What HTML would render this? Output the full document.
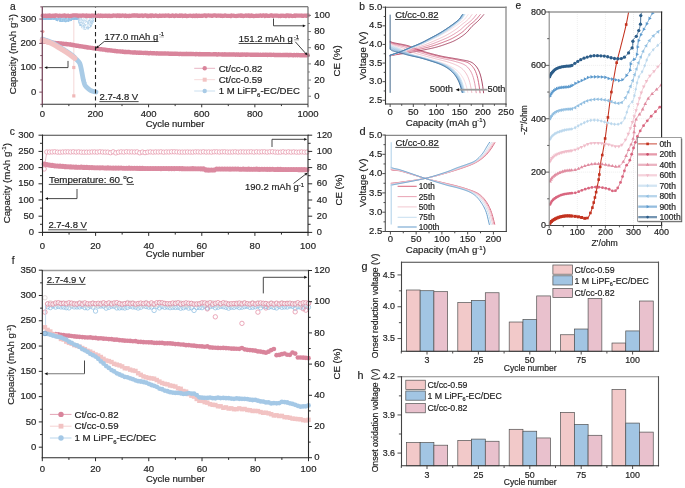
<!DOCTYPE html>
<html><head><meta charset="utf-8"><style>
html,body{margin:0;padding:0;background:#fff;}
svg{display:block;will-change:transform;}
text{font-family:"Liberation Sans",sans-serif;stroke:#1a1a1a;stroke-width:0.18px;paint-order:stroke;}
</style></head><body>
<svg width="685" height="488" viewBox="0 0 685 488" font-family="Liberation Sans, sans-serif">
<rect width="685" height="488" fill="#fff"/>
<line x1="73.8" y1="17.5" x2="73.8" y2="96" stroke="#f7dede" stroke-width="1.2" />
<circle cx="54.01" cy="17.81" r="0.5" fill="#94c2e6" opacity="0.75"/>
<circle cx="65.57" cy="17.8" r="0.5" fill="#94c2e6" opacity="0.75"/>
<circle cx="61.5" cy="19.04" r="0.5" fill="#94c2e6" opacity="0.75"/>
<circle cx="44.62" cy="18.55" r="0.5" fill="#94c2e6" opacity="0.75"/>
<circle cx="43.89" cy="18.4" r="0.5" fill="#94c2e6" opacity="0.75"/>
<circle cx="45.03" cy="17.68" r="0.5" fill="#94c2e6" opacity="0.75"/>
<circle cx="57.57" cy="20.36" r="0.5" fill="#94c2e6" opacity="0.75"/>
<circle cx="46.94" cy="17.96" r="0.5" fill="#94c2e6" opacity="0.75"/>
<circle cx="64.74" cy="21.61" r="0.5" fill="#94c2e6" opacity="0.75"/>
<circle cx="62.96" cy="19.21" r="0.5" fill="#94c2e6" opacity="0.75"/>
<circle cx="77.06" cy="17.59" r="0.5" fill="#94c2e6" opacity="0.75"/>
<circle cx="72.9" cy="18.1" r="0.5" fill="#94c2e6" opacity="0.75"/>
<circle cx="47.66" cy="17.74" r="0.5" fill="#94c2e6" opacity="0.75"/>
<circle cx="53.47" cy="19.2" r="0.5" fill="#94c2e6" opacity="0.75"/>
<circle cx="48.95" cy="18.71" r="0.5" fill="#94c2e6" opacity="0.75"/>
<circle cx="65.14" cy="19.1" r="0.5" fill="#94c2e6" opacity="0.75"/>
<circle cx="61.92" cy="17.76" r="0.5" fill="#94c2e6" opacity="0.75"/>
<circle cx="44.67" cy="17.92" r="0.5" fill="#94c2e6" opacity="0.75"/>
<circle cx="66.61" cy="19.29" r="0.5" fill="#94c2e6" opacity="0.75"/>
<circle cx="53.67" cy="18.72" r="0.5" fill="#94c2e6" opacity="0.75"/>
<circle cx="58.58" cy="18.62" r="0.5" fill="#94c2e6" opacity="0.75"/>
<circle cx="70.64" cy="19.78" r="0.5" fill="#94c2e6" opacity="0.75"/>
<circle cx="51.19" cy="18.7" r="0.5" fill="#94c2e6" opacity="0.75"/>
<circle cx="61.13" cy="21.18" r="0.5" fill="#94c2e6" opacity="0.75"/>
<circle cx="68.34" cy="18.62" r="0.5" fill="#94c2e6" opacity="0.75"/>
<circle cx="77.2" cy="17.74" r="0.5" fill="#94c2e6" opacity="0.75"/>
<circle cx="57.34" cy="20.06" r="0.5" fill="#94c2e6" opacity="0.75"/>
<circle cx="47.94" cy="18.52" r="0.5" fill="#94c2e6" opacity="0.75"/>
<circle cx="43.95" cy="18.89" r="0.5" fill="#94c2e6" opacity="0.75"/>
<circle cx="69.58" cy="19.57" r="0.5" fill="#94c2e6" opacity="0.75"/>
<circle cx="73.5" cy="18.15" r="0.5" fill="#94c2e6" opacity="0.75"/>
<circle cx="67.14" cy="19.95" r="0.5" fill="#94c2e6" opacity="0.75"/>
<circle cx="63.06" cy="19.47" r="0.5" fill="#94c2e6" opacity="0.75"/>
<circle cx="72.25" cy="19.47" r="0.5" fill="#94c2e6" opacity="0.75"/>
<circle cx="59.32" cy="20.1" r="0.5" fill="#94c2e6" opacity="0.75"/>
<circle cx="44.71" cy="18.96" r="0.5" fill="#94c2e6" opacity="0.75"/>
<circle cx="65.43" cy="21.77" r="0.5" fill="#94c2e6" opacity="0.75"/>
<circle cx="71.61" cy="18.27" r="0.5" fill="#94c2e6" opacity="0.75"/>
<circle cx="56.2" cy="19.41" r="0.5" fill="#94c2e6" opacity="0.75"/>
<circle cx="43.36" cy="18.46" r="0.5" fill="#94c2e6" opacity="0.75"/>
<circle cx="48.5" cy="17.73" r="0.5" fill="#94c2e6" opacity="0.75"/>
<circle cx="44.65" cy="19.1" r="0.5" fill="#94c2e6" opacity="0.75"/>
<circle cx="47.14" cy="18.01" r="0.5" fill="#94c2e6" opacity="0.75"/>
<circle cx="56.38" cy="20.09" r="0.5" fill="#94c2e6" opacity="0.75"/>
<circle cx="45.41" cy="18.43" r="0.5" fill="#94c2e6" opacity="0.75"/>
<circle cx="61.98" cy="21.28" r="0.5" fill="#94c2e6" opacity="0.75"/>
<circle cx="71.52" cy="19.93" r="0.5" fill="#94c2e6" opacity="0.75"/>
<circle cx="52.4" cy="18.36" r="0.5" fill="#94c2e6" opacity="0.75"/>
<circle cx="55.24" cy="19.35" r="0.5" fill="#94c2e6" opacity="0.75"/>
<circle cx="76.41" cy="17.81" r="0.5" fill="#94c2e6" opacity="0.75"/>
<circle cx="48.79" cy="17.98" r="0.5" fill="#94c2e6" opacity="0.75"/>
<circle cx="50.81" cy="18.51" r="0.5" fill="#94c2e6" opacity="0.75"/>
<circle cx="63.38" cy="18.63" r="0.5" fill="#94c2e6" opacity="0.75"/>
<circle cx="42.71" cy="18.37" r="0.5" fill="#94c2e6" opacity="0.75"/>
<circle cx="55.61" cy="18.77" r="0.5" fill="#94c2e6" opacity="0.75"/>
<circle cx="76.25" cy="18.94" r="0.5" fill="#94c2e6" opacity="0.75"/>
<circle cx="60.78" cy="20.07" r="0.5" fill="#94c2e6" opacity="0.75"/>
<circle cx="66.46" cy="17.72" r="0.5" fill="#94c2e6" opacity="0.75"/>
<circle cx="74.35" cy="19.13" r="0.5" fill="#94c2e6" opacity="0.75"/>
<circle cx="73.47" cy="19.17" r="0.5" fill="#94c2e6" opacity="0.75"/>
<circle cx="56.43" cy="18.69" r="0.5" fill="#94c2e6" opacity="0.75"/>
<circle cx="46.22" cy="18.82" r="0.5" fill="#94c2e6" opacity="0.75"/>
<circle cx="44.77" cy="17.63" r="0.5" fill="#94c2e6" opacity="0.75"/>
<circle cx="49.94" cy="17.83" r="0.5" fill="#94c2e6" opacity="0.75"/>
<circle cx="54.58" cy="17.6" r="0.5" fill="#94c2e6" opacity="0.75"/>
<circle cx="42.57" cy="17.81" r="0.5" fill="#94c2e6" opacity="0.75"/>
<circle cx="46.15" cy="18.25" r="0.5" fill="#94c2e6" opacity="0.75"/>
<circle cx="43.47" cy="19.33" r="0.5" fill="#94c2e6" opacity="0.75"/>
<circle cx="64.27" cy="18.14" r="0.5" fill="#94c2e6" opacity="0.75"/>
<circle cx="51.48" cy="18.22" r="0.5" fill="#94c2e6" opacity="0.75"/>
<circle cx="55.43" cy="17.75" r="0.5" fill="#94c2e6" opacity="0.75"/>
<circle cx="72.57" cy="19.58" r="0.5" fill="#94c2e6" opacity="0.75"/>
<circle cx="59.03" cy="19.36" r="0.5" fill="#94c2e6" opacity="0.75"/>
<circle cx="45.6" cy="17.7" r="0.5" fill="#94c2e6" opacity="0.75"/>
<circle cx="54.67" cy="18.04" r="0.5" fill="#94c2e6" opacity="0.75"/>
<circle cx="71.86" cy="17.9" r="0.5" fill="#94c2e6" opacity="0.75"/>
<circle cx="43.38" cy="19.49" r="0.5" fill="#94c2e6" opacity="0.75"/>
<circle cx="61.23" cy="18.11" r="0.5" fill="#94c2e6" opacity="0.75"/>
<circle cx="61.76" cy="17.6" r="0.5" fill="#94c2e6" opacity="0.75"/>
<circle cx="61.23" cy="21.62" r="0.5" fill="#94c2e6" opacity="0.75"/>
<circle cx="73.07" cy="18.95" r="0.5" fill="#94c2e6" opacity="0.75"/>
<circle cx="51.79" cy="18.26" r="0.5" fill="#94c2e6" opacity="0.75"/>
<circle cx="48.47" cy="19.11" r="0.5" fill="#94c2e6" opacity="0.75"/>
<circle cx="61.39" cy="20.79" r="0.5" fill="#94c2e6" opacity="0.75"/>
<circle cx="54.22" cy="17.96" r="0.5" fill="#94c2e6" opacity="0.75"/>
<circle cx="71.24" cy="20.44" r="0.5" fill="#94c2e6" opacity="0.75"/>
<circle cx="72.7" cy="19.18" r="0.5" fill="#94c2e6" opacity="0.75"/>
<circle cx="71.48" cy="19.6" r="0.5" fill="#94c2e6" opacity="0.75"/>
<circle cx="50.58" cy="18.58" r="0.5" fill="#94c2e6" opacity="0.75"/>
<circle cx="55.13" cy="17.55" r="0.5" fill="#94c2e6" opacity="0.75"/>
<circle cx="43.55" cy="18.08" r="0.5" fill="#94c2e6" opacity="0.75"/>
<circle cx="51.72" cy="18.94" r="0.5" fill="#94c2e6" opacity="0.75"/>
<circle cx="76.37" cy="18.43" r="0.5" fill="#94c2e6" opacity="0.75"/>
<circle cx="75.68" cy="19.57" r="0.5" fill="#94c2e6" opacity="0.75"/>
<circle cx="76.31" cy="18.25" r="0.5" fill="#94c2e6" opacity="0.75"/>
<circle cx="50.36" cy="17.97" r="0.5" fill="#94c2e6" opacity="0.75"/>
<circle cx="49.52" cy="17.92" r="0.5" fill="#94c2e6" opacity="0.75"/>
<circle cx="64.62" cy="21.41" r="0.5" fill="#94c2e6" opacity="0.75"/>
<circle cx="72.27" cy="18.5" r="0.5" fill="#94c2e6" opacity="0.75"/>
<circle cx="65.64" cy="20.92" r="0.5" fill="#94c2e6" opacity="0.75"/>
<circle cx="45.56" cy="18.88" r="0.5" fill="#94c2e6" opacity="0.75"/>
<circle cx="74.72" cy="19.13" r="0.5" fill="#94c2e6" opacity="0.75"/>
<circle cx="69.07" cy="19.29" r="0.5" fill="#94c2e6" opacity="0.75"/>
<circle cx="48.87" cy="19.15" r="0.5" fill="#94c2e6" opacity="0.75"/>
<circle cx="54.32" cy="19.17" r="0.5" fill="#94c2e6" opacity="0.75"/>
<circle cx="76.9" cy="18.32" r="0.5" fill="#94c2e6" opacity="0.75"/>
<circle cx="56.75" cy="20.48" r="0.5" fill="#94c2e6" opacity="0.75"/>
<circle cx="68.18" cy="18.16" r="0.5" fill="#94c2e6" opacity="0.75"/>
<circle cx="47.05" cy="17.81" r="0.5" fill="#94c2e6" opacity="0.75"/>
<circle cx="74.54" cy="19.18" r="0.5" fill="#94c2e6" opacity="0.75"/>
<circle cx="47.73" cy="19.23" r="0.5" fill="#94c2e6" opacity="0.75"/>
<circle cx="77.21" cy="18.87" r="0.5" fill="#94c2e6" opacity="0.75"/>
<circle cx="54.95" cy="18.64" r="0.5" fill="#94c2e6" opacity="0.75"/>
<circle cx="47.19" cy="17.52" r="0.5" fill="#94c2e6" opacity="0.75"/>
<circle cx="76.88" cy="18.85" r="0.5" fill="#94c2e6" opacity="0.75"/>
<circle cx="61.17" cy="21.43" r="0.5" fill="#94c2e6" opacity="0.75"/>
<circle cx="57.9" cy="20.61" r="0.5" fill="#94c2e6" opacity="0.75"/>
<circle cx="71.76" cy="18.05" r="0.5" fill="#94c2e6" opacity="0.75"/>
<circle cx="51.47" cy="18.1" r="0.5" fill="#94c2e6" opacity="0.75"/>
<circle cx="51.07" cy="18.72" r="0.5" fill="#94c2e6" opacity="0.75"/>
<circle cx="51.73" cy="18.37" r="0.5" fill="#94c2e6" opacity="0.75"/>
<circle cx="47.2" cy="19.4" r="0.5" fill="#94c2e6" opacity="0.75"/>
<circle cx="55.07" cy="18.45" r="0.5" fill="#94c2e6" opacity="0.75"/>
<circle cx="63.18" cy="21.43" r="0.5" fill="#94c2e6" opacity="0.75"/>
<circle cx="57.43" cy="20.64" r="0.5" fill="#94c2e6" opacity="0.75"/>
<circle cx="60.29" cy="19.67" r="0.5" fill="#94c2e6" opacity="0.75"/>
<circle cx="61.07" cy="17.57" r="0.5" fill="#94c2e6" opacity="0.75"/>
<circle cx="58.12" cy="18.16" r="0.5" fill="#94c2e6" opacity="0.75"/>
<circle cx="42.7" cy="19.17" r="0.5" fill="#94c2e6" opacity="0.75"/>
<circle cx="48.66" cy="18.48" r="0.5" fill="#94c2e6" opacity="0.75"/>
<circle cx="68.19" cy="19.69" r="0.5" fill="#94c2e6" opacity="0.75"/>
<circle cx="54.09" cy="18.58" r="0.5" fill="#94c2e6" opacity="0.75"/>
<circle cx="62.19" cy="20.87" r="0.5" fill="#94c2e6" opacity="0.75"/>
<circle cx="46.32" cy="18.67" r="0.5" fill="#94c2e6" opacity="0.75"/>
<circle cx="51.35" cy="18.07" r="0.5" fill="#94c2e6" opacity="0.75"/>
<circle cx="69.86" cy="19.29" r="0.5" fill="#94c2e6" opacity="0.75"/>
<circle cx="62.42" cy="20.77" r="0.5" fill="#94c2e6" opacity="0.75"/>
<circle cx="74.81" cy="18.42" r="0.5" fill="#94c2e6" opacity="0.75"/>
<circle cx="64.21" cy="19.69" r="0.5" fill="#94c2e6" opacity="0.75"/>
<circle cx="60.66" cy="20.37" r="0.5" fill="#94c2e6" opacity="0.75"/>
<circle cx="58.55" cy="19.49" r="0.5" fill="#94c2e6" opacity="0.75"/>
<circle cx="59.46" cy="21.22" r="0.5" fill="#94c2e6" opacity="0.75"/>
<circle cx="67.27" cy="21.09" r="0.5" fill="#94c2e6" opacity="0.75"/>
<circle cx="75.86" cy="18.03" r="0.5" fill="#94c2e6" opacity="0.75"/>
<circle cx="62.34" cy="21.56" r="0.5" fill="#94c2e6" opacity="0.75"/>
<circle cx="72.25" cy="17.78" r="0.5" fill="#94c2e6" opacity="0.75"/>
<circle cx="46.86" cy="18.42" r="0.5" fill="#94c2e6" opacity="0.75"/>
<circle cx="45.13" cy="17.99" r="0.5" fill="#94c2e6" opacity="0.75"/>
<circle cx="45.15" cy="18.9" r="0.5" fill="#94c2e6" opacity="0.75"/>
<circle cx="70.27" cy="20.55" r="0.5" fill="#94c2e6" opacity="0.75"/>
<circle cx="48.02" cy="18.99" r="0.5" fill="#94c2e6" opacity="0.75"/>
<circle cx="65.9" cy="18.1" r="0.5" fill="#94c2e6" opacity="0.75"/>
<circle cx="73.76" cy="19.52" r="0.5" fill="#94c2e6" opacity="0.75"/>
<circle cx="50.33" cy="19.49" r="0.5" fill="#94c2e6" opacity="0.75"/>
<circle cx="56.64" cy="19.01" r="0.5" fill="#94c2e6" opacity="0.75"/>
<circle cx="77.55" cy="19.24" r="0.5" fill="#94c2e6" opacity="0.75"/>
<circle cx="48.27" cy="18.4" r="0.5" fill="#94c2e6" opacity="0.75"/>
<circle cx="60.79" cy="18.9" r="0.5" fill="#94c2e6" opacity="0.75"/>
<circle cx="49.48" cy="18.16" r="0.5" fill="#94c2e6" opacity="0.75"/>
<circle cx="68.09" cy="17.57" r="0.5" fill="#94c2e6" opacity="0.75"/>
<circle cx="62.14" cy="19.39" r="0.5" fill="#94c2e6" opacity="0.75"/>
<circle cx="43.2" cy="18.19" r="0.5" fill="#94c2e6" opacity="0.75"/>
<circle cx="64.61" cy="19.72" r="0.5" fill="#94c2e6" opacity="0.75"/>
<circle cx="44.84" cy="19.56" r="0.5" fill="#94c2e6" opacity="0.75"/>
<circle cx="70.42" cy="20.75" r="0.5" fill="#94c2e6" opacity="0.75"/>
<circle cx="46.27" cy="18.05" r="0.5" fill="#94c2e6" opacity="0.75"/>
<circle cx="43.96" cy="19.13" r="0.5" fill="#94c2e6" opacity="0.75"/>
<circle cx="52.12" cy="17.76" r="0.5" fill="#94c2e6" opacity="0.75"/>
<circle cx="57.49" cy="20.63" r="0.5" fill="#94c2e6" opacity="0.75"/>
<circle cx="71.51" cy="18.22" r="0.5" fill="#94c2e6" opacity="0.75"/>
<circle cx="47.84" cy="19.42" r="0.5" fill="#94c2e6" opacity="0.75"/>
<circle cx="62.73" cy="20.53" r="0.5" fill="#94c2e6" opacity="0.75"/>
<circle cx="45.73" cy="17.61" r="0.5" fill="#94c2e6" opacity="0.75"/>
<circle cx="66.89" cy="19.26" r="0.5" fill="#94c2e6" opacity="0.75"/>
<circle cx="45.12" cy="19.46" r="0.5" fill="#94c2e6" opacity="0.75"/>
<circle cx="64.99" cy="20.97" r="0.5" fill="#94c2e6" opacity="0.75"/>
<circle cx="45.53" cy="19.29" r="0.5" fill="#94c2e6" opacity="0.75"/>
<circle cx="44.92" cy="19.3" r="0.5" fill="#94c2e6" opacity="0.75"/>
<circle cx="58.6" cy="18.77" r="0.5" fill="#94c2e6" opacity="0.75"/>
<circle cx="62.11" cy="21.48" r="0.5" fill="#94c2e6" opacity="0.75"/>
<circle cx="52.03" cy="17.76" r="0.5" fill="#94c2e6" opacity="0.75"/>
<circle cx="61.19" cy="18.49" r="0.5" fill="#94c2e6" opacity="0.75"/>
<circle cx="46.43" cy="17.83" r="0.5" fill="#94c2e6" opacity="0.75"/>
<circle cx="44.35" cy="17.91" r="0.5" fill="#94c2e6" opacity="0.75"/>
<circle cx="53.59" cy="18.13" r="0.5" fill="#94c2e6" opacity="0.75"/>
<circle cx="69.4" cy="18.55" r="0.5" fill="#94c2e6" opacity="0.75"/>
<circle cx="60.24" cy="18.22" r="0.5" fill="#94c2e6" opacity="0.75"/>
<circle cx="54.83" cy="17.53" r="0.5" fill="#94c2e6" opacity="0.75"/>
<circle cx="51.42" cy="17.52" r="0.5" fill="#94c2e6" opacity="0.75"/>
<circle cx="68.47" cy="19.64" r="0.5" fill="#94c2e6" opacity="0.75"/>
<circle cx="49.26" cy="18.49" r="0.5" fill="#94c2e6" opacity="0.75"/>
<circle cx="75.59" cy="17.71" r="0.5" fill="#94c2e6" opacity="0.75"/>
<circle cx="71.5" cy="18.71" r="0.5" fill="#94c2e6" opacity="0.75"/>
<circle cx="60.06" cy="20.88" r="0.5" fill="#94c2e6" opacity="0.75"/>
<circle cx="56.46" cy="19.02" r="0.5" fill="#94c2e6" opacity="0.75"/>
<circle cx="66.87" cy="21.59" r="0.5" fill="#94c2e6" opacity="0.75"/>
<circle cx="54.68" cy="19.24" r="0.5" fill="#94c2e6" opacity="0.75"/>
<circle cx="67.54" cy="20.08" r="0.5" fill="#94c2e6" opacity="0.75"/>
<circle cx="56.87" cy="18.61" r="0.5" fill="#94c2e6" opacity="0.75"/>
<circle cx="44.49" cy="17.76" r="0.5" fill="#94c2e6" opacity="0.75"/>
<circle cx="45.06" cy="19.05" r="0.5" fill="#94c2e6" opacity="0.75"/>
<circle cx="51.6" cy="17.83" r="0.5" fill="#94c2e6" opacity="0.75"/>
<circle cx="45.55" cy="19.26" r="0.5" fill="#94c2e6" opacity="0.75"/>
<circle cx="73.33" cy="18.9" r="0.5" fill="#94c2e6" opacity="0.75"/>
<circle cx="52.53" cy="18" r="0.5" fill="#94c2e6" opacity="0.75"/>
<circle cx="52.92" cy="18.45" r="0.5" fill="#94c2e6" opacity="0.75"/>
<circle cx="48.13" cy="18.43" r="0.5" fill="#94c2e6" opacity="0.75"/>
<circle cx="51.87" cy="19.51" r="0.5" fill="#94c2e6" opacity="0.75"/>
<circle cx="76.94" cy="18.64" r="0.5" fill="#94c2e6" opacity="0.75"/>
<circle cx="51.2" cy="19.52" r="0.5" fill="#94c2e6" opacity="0.75"/>
<circle cx="53.5" cy="18.24" r="0.5" fill="#94c2e6" opacity="0.75"/>
<circle cx="42.6" cy="18.29" r="0.5" fill="#94c2e6" opacity="0.75"/>
<circle cx="59.34" cy="19.47" r="0.5" fill="#94c2e6" opacity="0.75"/>
<circle cx="49.67" cy="18.55" r="0.5" fill="#94c2e6" opacity="0.75"/>
<circle cx="42.74" cy="18.04" r="0.5" fill="#94c2e6" opacity="0.75"/>
<circle cx="45.74" cy="18.33" r="0.5" fill="#94c2e6" opacity="0.75"/>
<circle cx="44.04" cy="17.54" r="0.5" fill="#94c2e6" opacity="0.75"/>
<circle cx="53.32" cy="17.98" r="0.5" fill="#94c2e6" opacity="0.75"/>
<circle cx="63.26" cy="19.79" r="0.5" fill="#94c2e6" opacity="0.75"/>
<circle cx="69.09" cy="19.96" r="0.5" fill="#94c2e6" opacity="0.75"/>
<circle cx="67.87" cy="21.02" r="0.5" fill="#94c2e6" opacity="0.75"/>
<circle cx="56.33" cy="18.45" r="0.5" fill="#94c2e6" opacity="0.75"/>
<circle cx="77.36" cy="17.8" r="0.5" fill="#94c2e6" opacity="0.75"/>
<circle cx="68.16" cy="20.04" r="0.5" fill="#94c2e6" opacity="0.75"/>
<circle cx="44.11" cy="19.24" r="0.5" fill="#94c2e6" opacity="0.75"/>
<circle cx="74.09" cy="18.81" r="0.5" fill="#94c2e6" opacity="0.75"/>
<circle cx="68.5" cy="20.65" r="0.5" fill="#94c2e6" opacity="0.75"/>
<circle cx="47.49" cy="18.59" r="0.5" fill="#94c2e6" opacity="0.75"/>
<circle cx="60.39" cy="20.93" r="0.5" fill="#94c2e6" opacity="0.75"/>
<circle cx="71" cy="20.06" r="0.5" fill="#94c2e6" opacity="0.75"/>
<circle cx="63.21" cy="21.38" r="0.5" fill="#94c2e6" opacity="0.75"/>
<circle cx="66.7" cy="20.4" r="0.5" fill="#94c2e6" opacity="0.75"/>
<circle cx="50.69" cy="17.55" r="0.5" fill="#94c2e6" opacity="0.75"/>
<circle cx="47.27" cy="18.25" r="0.5" fill="#94c2e6" opacity="0.75"/>
<circle cx="46.27" cy="19.25" r="0.5" fill="#94c2e6" opacity="0.75"/>
<circle cx="62.3" cy="20.2" r="0.5" fill="#94c2e6" opacity="0.75"/>
<circle cx="64.7" cy="20.45" r="0.5" fill="#94c2e6" opacity="0.75"/>
<circle cx="59.86" cy="17.5" r="0.5" fill="#94c2e6" opacity="0.75"/>
<circle cx="70.75" cy="19.9" r="0.5" fill="#94c2e6" opacity="0.75"/>
<circle cx="60.34" cy="19.69" r="0.5" fill="#94c2e6" opacity="0.75"/>
<circle cx="65.86" cy="17.77" r="0.5" fill="#94c2e6" opacity="0.75"/>
<circle cx="68.6" cy="18.47" r="0.5" fill="#94c2e6" opacity="0.75"/>
<circle cx="45.2" cy="18.05" r="0.5" fill="#94c2e6" opacity="0.75"/>
<circle cx="68.34" cy="18.29" r="0.5" fill="#94c2e6" opacity="0.75"/>
<circle cx="68.71" cy="21.24" r="0.5" fill="#94c2e6" opacity="0.75"/>
<circle cx="60.02" cy="19.04" r="0.5" fill="#94c2e6" opacity="0.75"/>
<circle cx="59.49" cy="20.2" r="0.5" fill="#94c2e6" opacity="0.75"/>
<circle cx="69.67" cy="19.71" r="0.5" fill="#94c2e6" opacity="0.75"/>
<circle cx="65.28" cy="17.82" r="0.5" fill="#94c2e6" opacity="0.75"/>
<circle cx="47.78" cy="18.02" r="0.5" fill="#94c2e6" opacity="0.75"/>
<circle cx="68.83" cy="18.65" r="0.5" fill="#94c2e6" opacity="0.75"/>
<circle cx="62.63" cy="17.54" r="0.5" fill="#94c2e6" opacity="0.75"/>
<circle cx="44.71" cy="18.05" r="0.5" fill="#94c2e6" opacity="0.75"/>
<circle cx="66.31" cy="20.42" r="0.5" fill="#94c2e6" opacity="0.75"/>
<circle cx="66.44" cy="18.72" r="0.5" fill="#94c2e6" opacity="0.75"/>
<circle cx="60.82" cy="19.43" r="0.5" fill="#94c2e6" opacity="0.75"/>
<circle cx="59.05" cy="17.95" r="0.5" fill="#94c2e6" opacity="0.75"/>
<circle cx="74.15" cy="17.91" r="0.5" fill="#94c2e6" opacity="0.75"/>
<circle cx="77.13" cy="19.46" r="0.5" fill="#94c2e6" opacity="0.75"/>
<circle cx="43.18" cy="18.45" r="0.5" fill="#94c2e6" opacity="0.75"/>
<circle cx="71.54" cy="20.21" r="0.5" fill="#94c2e6" opacity="0.75"/>
<circle cx="58.45" cy="18.49" r="0.5" fill="#94c2e6" opacity="0.75"/>
<circle cx="49.98" cy="19.48" r="0.5" fill="#94c2e6" opacity="0.75"/>
<circle cx="50.01" cy="18.71" r="0.5" fill="#94c2e6" opacity="0.75"/>
<circle cx="47.57" cy="18.59" r="0.5" fill="#94c2e6" opacity="0.75"/>
<circle cx="76.23" cy="17.77" r="0.5" fill="#94c2e6" opacity="0.75"/>
<circle cx="71.55" cy="18.92" r="0.5" fill="#94c2e6" opacity="0.75"/>
<circle cx="73.91" cy="18.97" r="0.5" fill="#94c2e6" opacity="0.75"/>
<circle cx="50.74" cy="19.38" r="0.5" fill="#94c2e6" opacity="0.75"/>
<circle cx="59.74" cy="17.59" r="0.5" fill="#94c2e6" opacity="0.75"/>
<circle cx="42.69" cy="18.52" r="0.5" fill="#94c2e6" opacity="0.75"/>
<circle cx="58.49" cy="18.62" r="0.5" fill="#94c2e6" opacity="0.75"/>
<circle cx="47.54" cy="18.21" r="0.5" fill="#94c2e6" opacity="0.75"/>
<circle cx="53.74" cy="19.25" r="0.5" fill="#94c2e6" opacity="0.75"/>
<circle cx="42.63" cy="19.07" r="0.5" fill="#94c2e6" opacity="0.75"/>
<circle cx="72.22" cy="17.74" r="0.5" fill="#94c2e6" opacity="0.75"/>
<circle cx="75.3" cy="18.99" r="0.5" fill="#94c2e6" opacity="0.75"/>
<circle cx="74.43" cy="18.1" r="0.5" fill="#94c2e6" opacity="0.75"/>
<circle cx="55.72" cy="18.46" r="0.5" fill="#94c2e6" opacity="0.75"/>
<circle cx="77.86" cy="18.73" r="0.5" fill="#94c2e6" opacity="0.75"/>
<circle cx="55.31" cy="18.39" r="0.5" fill="#94c2e6" opacity="0.75"/>
<circle cx="52.29" cy="17.59" r="0.5" fill="#94c2e6" opacity="0.75"/>
<circle cx="46.16" cy="19.24" r="0.5" fill="#94c2e6" opacity="0.75"/>
<circle cx="52.66" cy="19.45" r="0.5" fill="#94c2e6" opacity="0.75"/>
<circle cx="51.38" cy="18.05" r="0.5" fill="#94c2e6" opacity="0.75"/>
<circle cx="60.62" cy="18.28" r="0.5" fill="#94c2e6" opacity="0.75"/>
<circle cx="55.76" cy="19.89" r="0.5" fill="#94c2e6" opacity="0.75"/>
<circle cx="73.81" cy="19.19" r="0.5" fill="#94c2e6" opacity="0.75"/>
<circle cx="64.86" cy="21.46" r="0.5" fill="#94c2e6" opacity="0.75"/>
<circle cx="75.81" cy="18.64" r="0.5" fill="#94c2e6" opacity="0.75"/>
<circle cx="67.99" cy="17.69" r="0.5" fill="#94c2e6" opacity="0.75"/>
<circle cx="68.45" cy="19.25" r="0.5" fill="#94c2e6" opacity="0.75"/>
<circle cx="69.16" cy="19.9" r="0.5" fill="#94c2e6" opacity="0.75"/>
<circle cx="52.68" cy="17.59" r="0.5" fill="#94c2e6" opacity="0.75"/>
<circle cx="75.32" cy="17.76" r="0.5" fill="#94c2e6" opacity="0.75"/>
<circle cx="59.25" cy="18.83" r="0.5" fill="#94c2e6" opacity="0.75"/>
<circle cx="53.09" cy="19.04" r="0.5" fill="#94c2e6" opacity="0.75"/>
<circle cx="77.07" cy="18.04" r="0.5" fill="#94c2e6" opacity="0.75"/>
<circle cx="65.75" cy="18.78" r="0.5" fill="#94c2e6" opacity="0.75"/>
<circle cx="62.26" cy="19.19" r="0.5" fill="#94c2e6" opacity="0.75"/>
<circle cx="48.48" cy="17.83" r="0.5" fill="#94c2e6" opacity="0.75"/>
<circle cx="49.91" cy="19.39" r="0.5" fill="#94c2e6" opacity="0.75"/>
<circle cx="60.13" cy="18.39" r="0.5" fill="#94c2e6" opacity="0.75"/>
<circle cx="74.59" cy="19.58" r="0.5" fill="#94c2e6" opacity="0.75"/>
<circle cx="58.47" cy="18.01" r="0.5" fill="#94c2e6" opacity="0.75"/>
<circle cx="49.37" cy="17.68" r="0.5" fill="#94c2e6" opacity="0.75"/>
<circle cx="54.65" cy="17.68" r="0.5" fill="#94c2e6" opacity="0.75"/>
<circle cx="51.02" cy="18.03" r="0.5" fill="#94c2e6" opacity="0.75"/>
<circle cx="62.69" cy="21.34" r="0.5" fill="#94c2e6" opacity="0.75"/>
<circle cx="69.06" cy="19.04" r="0.5" fill="#94c2e6" opacity="0.75"/>
<circle cx="57.19" cy="19.24" r="0.5" fill="#94c2e6" opacity="0.75"/>
<circle cx="55.88" cy="18.38" r="0.5" fill="#94c2e6" opacity="0.75"/>
<circle cx="44.76" cy="18.07" r="0.5" fill="#94c2e6" opacity="0.75"/>
<circle cx="76.76" cy="17.75" r="0.5" fill="#94c2e6" opacity="0.75"/>
<circle cx="60.35" cy="20.08" r="0.5" fill="#94c2e6" opacity="0.75"/>
<circle cx="73.06" cy="17.94" r="0.5" fill="#94c2e6" opacity="0.75"/>
<circle cx="52.14" cy="18.01" r="0.5" fill="#94c2e6" opacity="0.75"/>
<circle cx="56.69" cy="18.89" r="0.5" fill="#94c2e6" opacity="0.75"/>
<circle cx="76.28" cy="19.27" r="0.5" fill="#94c2e6" opacity="0.75"/>
<circle cx="73.41" cy="17.53" r="0.5" fill="#94c2e6" opacity="0.75"/>
<circle cx="43.71" cy="18.98" r="0.5" fill="#94c2e6" opacity="0.75"/>
<circle cx="74.22" cy="18.48" r="0.5" fill="#94c2e6" opacity="0.75"/>
<circle cx="63.32" cy="17.49" r="0.5" fill="#94c2e6" opacity="0.75"/>
<circle cx="56.4" cy="20.26" r="0.5" fill="#94c2e6" opacity="0.75"/>
<circle cx="71.74" cy="19.76" r="0.5" fill="#94c2e6" opacity="0.75"/>
<circle cx="76.92" cy="18.01" r="0.5" fill="#94c2e6" opacity="0.75"/>
<circle cx="46.42" cy="17.81" r="0.5" fill="#94c2e6" opacity="0.75"/>
<circle cx="61.03" cy="20.35" r="0.5" fill="#94c2e6" opacity="0.75"/>
<circle cx="75.84" cy="19.01" r="0.5" fill="#94c2e6" opacity="0.75"/>
<circle cx="65.44" cy="20.79" r="0.5" fill="#94c2e6" opacity="0.75"/>
<circle cx="58.73" cy="19.58" r="0.5" fill="#94c2e6" opacity="0.75"/>
<circle cx="43.96" cy="19.13" r="0.5" fill="#94c2e6" opacity="0.75"/>
<circle cx="50.78" cy="19.42" r="0.5" fill="#94c2e6" opacity="0.75"/>
<circle cx="65.38" cy="18.8" r="0.5" fill="#94c2e6" opacity="0.75"/>
<circle cx="47.09" cy="18.02" r="0.5" fill="#94c2e6" opacity="0.75"/>
<circle cx="65.05" cy="20.52" r="0.5" fill="#94c2e6" opacity="0.75"/>
<circle cx="46.53" cy="17.64" r="0.5" fill="#94c2e6" opacity="0.75"/>
<circle cx="61.1" cy="19.94" r="0.5" fill="#94c2e6" opacity="0.75"/>
<circle cx="56.28" cy="18.14" r="0.5" fill="#94c2e6" opacity="0.75"/>
<circle cx="63.81" cy="17.53" r="0.5" fill="#94c2e6" opacity="0.75"/>
<circle cx="53.22" cy="18.46" r="0.5" fill="#94c2e6" opacity="0.75"/>
<circle cx="76.45" cy="18.84" r="0.5" fill="#94c2e6" opacity="0.75"/>
<circle cx="73.8" cy="18.49" r="0.5" fill="#94c2e6" opacity="0.75"/>
<circle cx="50.86" cy="18.01" r="0.5" fill="#94c2e6" opacity="0.75"/>
<circle cx="76.51" cy="18.97" r="0.5" fill="#94c2e6" opacity="0.75"/>
<circle cx="53.43" cy="17.53" r="0.5" fill="#94c2e6" opacity="0.75"/>
<circle cx="60.18" cy="20.24" r="0.5" fill="#94c2e6" opacity="0.75"/>
<circle cx="57.41" cy="18.37" r="0.5" fill="#94c2e6" opacity="0.75"/>
<circle cx="66.15" cy="21.42" r="0.5" fill="#94c2e6" opacity="0.75"/>
<circle cx="50.58" cy="17.56" r="0.5" fill="#94c2e6" opacity="0.75"/>
<circle cx="54.51" cy="18.37" r="0.5" fill="#94c2e6" opacity="0.75"/>
<circle cx="66.69" cy="18.32" r="0.5" fill="#94c2e6" opacity="0.75"/>
<circle cx="70.73" cy="19.88" r="0.5" fill="#94c2e6" opacity="0.75"/>
<circle cx="60.41" cy="18.33" r="0.5" fill="#94c2e6" opacity="0.75"/>
<circle cx="76.84" cy="18.14" r="0.5" fill="#94c2e6" opacity="0.75"/>
<circle cx="71.54" cy="18.14" r="0.5" fill="#94c2e6" opacity="0.75"/>
<circle cx="50.39" cy="19.09" r="0.5" fill="#94c2e6" opacity="0.75"/>
<circle cx="52.99" cy="19.49" r="0.5" fill="#94c2e6" opacity="0.75"/>
<circle cx="60.09" cy="18.25" r="0.5" fill="#94c2e6" opacity="0.75"/>
<circle cx="50.46" cy="18.36" r="0.5" fill="#94c2e6" opacity="0.75"/>
<circle cx="66.08" cy="21.53" r="0.5" fill="#94c2e6" opacity="0.75"/>
<circle cx="47.74" cy="18.32" r="0.5" fill="#94c2e6" opacity="0.75"/>
<circle cx="50.09" cy="19.54" r="0.5" fill="#94c2e6" opacity="0.75"/>
<circle cx="47.58" cy="17.6" r="0.5" fill="#94c2e6" opacity="0.75"/>
<circle cx="44.69" cy="18.32" r="0.5" fill="#94c2e6" opacity="0.75"/>
<circle cx="74.31" cy="19.35" r="0.5" fill="#94c2e6" opacity="0.75"/>
<circle cx="68.46" cy="21.38" r="0.5" fill="#94c2e6" opacity="0.75"/>
<circle cx="75.49" cy="18.18" r="0.5" fill="#94c2e6" opacity="0.75"/>
<circle cx="49.12" cy="19.46" r="0.5" fill="#94c2e6" opacity="0.75"/>
<circle cx="68.94" cy="17.61" r="0.5" fill="#94c2e6" opacity="0.75"/>
<circle cx="66.05" cy="19.1" r="0.5" fill="#94c2e6" opacity="0.75"/>
<circle cx="55.78" cy="18.33" r="0.5" fill="#94c2e6" opacity="0.75"/>
<circle cx="48.55" cy="17.49" r="0.5" fill="#94c2e6" opacity="0.75"/>
<circle cx="52.45" cy="18.23" r="0.5" fill="#94c2e6" opacity="0.75"/>
<circle cx="76.33" cy="17.75" r="0.5" fill="#94c2e6" opacity="0.75"/>
<circle cx="76.64" cy="17.92" r="0.5" fill="#94c2e6" opacity="0.75"/>
<circle cx="55.17" cy="19.22" r="0.5" fill="#94c2e6" opacity="0.75"/>
<circle cx="71.61" cy="18.68" r="0.5" fill="#94c2e6" opacity="0.75"/>
<circle cx="44.31" cy="18.48" r="0.5" fill="#94c2e6" opacity="0.75"/>
<circle cx="55.74" cy="19.77" r="0.5" fill="#94c2e6" opacity="0.75"/>
<circle cx="49.39" cy="18.25" r="0.5" fill="#94c2e6" opacity="0.75"/>
<circle cx="74.26" cy="17.55" r="0.5" fill="#94c2e6" opacity="0.75"/>
<circle cx="57.08" cy="20.17" r="0.5" fill="#94c2e6" opacity="0.75"/>
<circle cx="69.66" cy="17.64" r="0.5" fill="#94c2e6" opacity="0.75"/>
<circle cx="43.8" cy="17.62" r="0.5" fill="#94c2e6" opacity="0.75"/>
<circle cx="75.08" cy="18.03" r="0.5" fill="#94c2e6" opacity="0.75"/>
<circle cx="68.97" cy="20.89" r="0.5" fill="#94c2e6" opacity="0.75"/>
<circle cx="54.55" cy="18.06" r="0.5" fill="#94c2e6" opacity="0.75"/>
<circle cx="76.41" cy="18.79" r="0.5" fill="#94c2e6" opacity="0.75"/>
<circle cx="51.83" cy="18.99" r="0.5" fill="#94c2e6" opacity="0.75"/>
<circle cx="53.75" cy="18.07" r="0.5" fill="#94c2e6" opacity="0.75"/>
<circle cx="42.7" cy="19.08" r="0.5" fill="#94c2e6" opacity="0.75"/>
<circle cx="74.95" cy="18.82" r="0.5" fill="#94c2e6" opacity="0.75"/>
<circle cx="75.9" cy="17.54" r="0.5" fill="#94c2e6" opacity="0.75"/>
<circle cx="50.83" cy="18.49" r="0.5" fill="#94c2e6" opacity="0.75"/>
<circle cx="76.38" cy="19.49" r="0.5" fill="#94c2e6" opacity="0.75"/>
<circle cx="56.22" cy="18.21" r="0.5" fill="#94c2e6" opacity="0.75"/>
<circle cx="57.76" cy="19.23" r="0.5" fill="#94c2e6" opacity="0.75"/>
<circle cx="75.36" cy="17.87" r="0.5" fill="#94c2e6" opacity="0.75"/>
<circle cx="70.93" cy="19.81" r="0.5" fill="#94c2e6" opacity="0.75"/>
<circle cx="71.64" cy="19.61" r="0.5" fill="#94c2e6" opacity="0.75"/>
<circle cx="64.02" cy="18.92" r="0.5" fill="#94c2e6" opacity="0.75"/>
<circle cx="53.86" cy="18.25" r="0.5" fill="#94c2e6" opacity="0.75"/>
<circle cx="70.21" cy="17.76" r="0.5" fill="#94c2e6" opacity="0.75"/>
<circle cx="49.54" cy="19.07" r="0.5" fill="#94c2e6" opacity="0.75"/>
<circle cx="51.31" cy="17.62" r="0.5" fill="#94c2e6" opacity="0.75"/>
<circle cx="43.76" cy="18.65" r="0.5" fill="#94c2e6" opacity="0.75"/>
<circle cx="54.08" cy="19.55" r="0.5" fill="#94c2e6" opacity="0.75"/>
<circle cx="73.79" cy="19.56" r="0.5" fill="#94c2e6" opacity="0.75"/>
<circle cx="51.93" cy="17.67" r="0.5" fill="#94c2e6" opacity="0.75"/>
<circle cx="45.97" cy="18.54" r="0.5" fill="#94c2e6" opacity="0.75"/>
<circle cx="67.65" cy="19.3" r="0.5" fill="#94c2e6" opacity="0.75"/>
<circle cx="50.84" cy="18.36" r="0.5" fill="#94c2e6" opacity="0.75"/>
<circle cx="64.49" cy="20.42" r="0.5" fill="#94c2e6" opacity="0.75"/>
<circle cx="69" cy="20.69" r="0.5" fill="#94c2e6" opacity="0.75"/>
<circle cx="66.05" cy="18.01" r="0.5" fill="#94c2e6" opacity="0.75"/>
<circle cx="72.28" cy="18.11" r="0.5" fill="#94c2e6" opacity="0.75"/>
<circle cx="62.6" cy="19.11" r="0.5" fill="#94c2e6" opacity="0.75"/>
<circle cx="68.65" cy="18.26" r="0.5" fill="#94c2e6" opacity="0.75"/>
<circle cx="51.31" cy="18" r="0.5" fill="#94c2e6" opacity="0.75"/>
<circle cx="47.98" cy="19.35" r="0.5" fill="#94c2e6" opacity="0.75"/>
<circle cx="63" cy="18.91" r="0.5" fill="#94c2e6" opacity="0.75"/>
<circle cx="56.56" cy="20.54" r="0.5" fill="#94c2e6" opacity="0.75"/>
<circle cx="60.49" cy="18.44" r="0.5" fill="#94c2e6" opacity="0.75"/>
<circle cx="71.13" cy="19.48" r="0.5" fill="#94c2e6" opacity="0.75"/>
<circle cx="77.58" cy="17.7" r="0.5" fill="#94c2e6" opacity="0.75"/>
<circle cx="59.34" cy="20.71" r="0.5" fill="#94c2e6" opacity="0.75"/>
<circle cx="72.27" cy="19.41" r="0.5" fill="#94c2e6" opacity="0.75"/>
<circle cx="43.99" cy="18.11" r="0.5" fill="#94c2e6" opacity="0.75"/>
<circle cx="46.78" cy="17.89" r="0.5" fill="#94c2e6" opacity="0.75"/>
<circle cx="76.95" cy="18.71" r="0.5" fill="#94c2e6" opacity="0.75"/>
<circle cx="75.44" cy="18.27" r="0.5" fill="#94c2e6" opacity="0.75"/>
<circle cx="73.17" cy="18.43" r="0.5" fill="#94c2e6" opacity="0.75"/>
<circle cx="51.75" cy="19.12" r="0.5" fill="#94c2e6" opacity="0.75"/>
<circle cx="75.99" cy="17.71" r="0.5" fill="#94c2e6" opacity="0.75"/>
<circle cx="63.63" cy="20.19" r="0.5" fill="#94c2e6" opacity="0.75"/>
<circle cx="50.26" cy="18.26" r="0.5" fill="#94c2e6" opacity="0.75"/>
<circle cx="47.56" cy="17.92" r="0.5" fill="#94c2e6" opacity="0.75"/>
<circle cx="51.57" cy="18.75" r="0.5" fill="#94c2e6" opacity="0.75"/>
<circle cx="65.59" cy="18.36" r="0.5" fill="#94c2e6" opacity="0.75"/>
<circle cx="42.97" cy="18.18" r="0.5" fill="#94c2e6" opacity="0.75"/>
<circle cx="66.54" cy="18.27" r="0.5" fill="#94c2e6" opacity="0.75"/>
<circle cx="53.6" cy="17.92" r="0.5" fill="#94c2e6" opacity="0.75"/>
<circle cx="70.67" cy="19.27" r="0.5" fill="#94c2e6" opacity="0.75"/>
<circle cx="44.8" cy="17.7" r="0.5" fill="#94c2e6" opacity="0.75"/>
<circle cx="56.53" cy="19.17" r="0.5" fill="#94c2e6" opacity="0.75"/>
<circle cx="65.15" cy="17.88" r="0.5" fill="#94c2e6" opacity="0.75"/>
<circle cx="48.35" cy="18.95" r="0.5" fill="#94c2e6" opacity="0.75"/>
<circle cx="57.05" cy="18.42" r="0.5" fill="#94c2e6" opacity="0.75"/>
<circle cx="53.44" cy="19.49" r="0.5" fill="#94c2e6" opacity="0.75"/>
<circle cx="53.6" cy="18.68" r="0.5" fill="#94c2e6" opacity="0.75"/>
<circle cx="55.19" cy="18.36" r="0.5" fill="#94c2e6" opacity="0.75"/>
<circle cx="73.11" cy="19.58" r="0.5" fill="#94c2e6" opacity="0.75"/>
<circle cx="55.42" cy="17.9" r="0.5" fill="#94c2e6" opacity="0.75"/>
<circle cx="68.29" cy="18.29" r="0.5" fill="#94c2e6" opacity="0.75"/>
<circle cx="42.77" cy="19.38" r="0.5" fill="#94c2e6" opacity="0.75"/>
<circle cx="57.54" cy="20.33" r="0.5" fill="#94c2e6" opacity="0.75"/>
<circle cx="56.92" cy="20.35" r="0.5" fill="#94c2e6" opacity="0.75"/>
<circle cx="58.85" cy="18.11" r="0.5" fill="#94c2e6" opacity="0.75"/>
<circle cx="43.09" cy="18.65" r="0.5" fill="#94c2e6" opacity="0.75"/>
<circle cx="65.21" cy="21.42" r="0.5" fill="#94c2e6" opacity="0.75"/>
<circle cx="45.71" cy="18.8" r="0.5" fill="#94c2e6" opacity="0.75"/>
<circle cx="55.67" cy="18.69" r="0.5" fill="#94c2e6" opacity="0.75"/>
<circle cx="47.72" cy="18.08" r="0.5" fill="#94c2e6" opacity="0.75"/>
<circle cx="60.98" cy="21.37" r="0.5" fill="#94c2e6" opacity="0.75"/>
<circle cx="46.41" cy="18.52" r="0.5" fill="#94c2e6" opacity="0.75"/>
<circle cx="71.01" cy="20.5" r="0.5" fill="#94c2e6" opacity="0.75"/>
<circle cx="49.54" cy="17.75" r="0.5" fill="#94c2e6" opacity="0.75"/>
<circle cx="75.89" cy="19.54" r="0.5" fill="#94c2e6" opacity="0.75"/>
<circle cx="59.62" cy="17.7" r="0.5" fill="#94c2e6" opacity="0.75"/>
<circle cx="75.29" cy="18.3" r="0.5" fill="#94c2e6" opacity="0.75"/>
<circle cx="74.52" cy="18.79" r="0.5" fill="#94c2e6" opacity="0.75"/>
<circle cx="71.7" cy="17.92" r="0.5" fill="#94c2e6" opacity="0.75"/>
<circle cx="70.34" cy="18.24" r="0.5" fill="#94c2e6" opacity="0.75"/>
<circle cx="56.86" cy="20.21" r="0.5" fill="#94c2e6" opacity="0.75"/>
<circle cx="71.87" cy="17.95" r="0.5" fill="#94c2e6" opacity="0.75"/>
<circle cx="50.27" cy="18.33" r="0.5" fill="#94c2e6" opacity="0.75"/>
<circle cx="60.87" cy="19.09" r="0.5" fill="#94c2e6" opacity="0.75"/>
<circle cx="46.91" cy="18.01" r="0.5" fill="#94c2e6" opacity="0.75"/>
<circle cx="68.18" cy="21.04" r="0.5" fill="#94c2e6" opacity="0.75"/>
<circle cx="44.02" cy="18.67" r="0.5" fill="#94c2e6" opacity="0.75"/>
<circle cx="69.33" cy="17.63" r="0.5" fill="#94c2e6" opacity="0.75"/>
<circle cx="72.19" cy="17.74" r="0.5" fill="#94c2e6" opacity="0.75"/>
<circle cx="63.75" cy="19.89" r="0.5" fill="#94c2e6" opacity="0.75"/>
<circle cx="64.72" cy="18.82" r="0.5" fill="#94c2e6" opacity="0.75"/>
<circle cx="57.41" cy="19.48" r="0.5" fill="#94c2e6" opacity="0.75"/>
<circle cx="57.61" cy="19.79" r="0.5" fill="#94c2e6" opacity="0.75"/>
<circle cx="58.35" cy="19.11" r="0.5" fill="#94c2e6" opacity="0.75"/>
<circle cx="43.39" cy="18.79" r="0.5" fill="#94c2e6" opacity="0.75"/>
<circle cx="59.86" cy="18.44" r="0.5" fill="#94c2e6" opacity="0.75"/>
<circle cx="69.55" cy="20.33" r="0.5" fill="#94c2e6" opacity="0.75"/>
<circle cx="58.76" cy="18.17" r="0.5" fill="#94c2e6" opacity="0.75"/>
<circle cx="59.29" cy="17.91" r="0.5" fill="#94c2e6" opacity="0.75"/>
<circle cx="47.11" cy="18.39" r="0.5" fill="#94c2e6" opacity="0.75"/>
<circle cx="45.81" cy="18.42" r="0.5" fill="#94c2e6" opacity="0.75"/>
<circle cx="60.59" cy="17.66" r="0.5" fill="#94c2e6" opacity="0.75"/>
<circle cx="65.06" cy="17.84" r="0.5" fill="#94c2e6" opacity="0.75"/>
<circle cx="68.49" cy="20.52" r="0.5" fill="#94c2e6" opacity="0.75"/>
<circle cx="60.64" cy="17.71" r="0.5" fill="#94c2e6" opacity="0.75"/>
<circle cx="60.37" cy="19.04" r="0.5" fill="#94c2e6" opacity="0.75"/>
<circle cx="76.17" cy="17.77" r="0.5" fill="#94c2e6" opacity="0.75"/>
<circle cx="72.85" cy="19.58" r="0.5" fill="#94c2e6" opacity="0.75"/>
<circle cx="68.44" cy="20.67" r="0.5" fill="#94c2e6" opacity="0.75"/>
<circle cx="49.41" cy="19.55" r="0.5" fill="#94c2e6" opacity="0.75"/>
<circle cx="59.95" cy="21.36" r="0.5" fill="#94c2e6" opacity="0.75"/>
<circle cx="74.94" cy="17.84" r="0.5" fill="#94c2e6" opacity="0.75"/>
<circle cx="70.43" cy="20.61" r="0.5" fill="#94c2e6" opacity="0.75"/>
<circle cx="44.88" cy="18.23" r="0.5" fill="#94c2e6" opacity="0.75"/>
<circle cx="69.29" cy="18.08" r="0.5" fill="#94c2e6" opacity="0.75"/>
<circle cx="74.25" cy="18.07" r="0.5" fill="#94c2e6" opacity="0.75"/>
<circle cx="71.39" cy="17.91" r="0.5" fill="#94c2e6" opacity="0.75"/>
<circle cx="60.31" cy="21.27" r="0.5" fill="#94c2e6" opacity="0.75"/>
<circle cx="49.93" cy="18.04" r="0.5" fill="#94c2e6" opacity="0.75"/>
<circle cx="60.45" cy="18.81" r="0.5" fill="#94c2e6" opacity="0.75"/>
<circle cx="43.87" cy="17.87" r="0.5" fill="#94c2e6" opacity="0.75"/>
<circle cx="48.26" cy="19.46" r="0.5" fill="#94c2e6" opacity="0.75"/>
<circle cx="66.58" cy="21.25" r="0.5" fill="#94c2e6" opacity="0.75"/>
<circle cx="48.53" cy="19.14" r="0.5" fill="#94c2e6" opacity="0.75"/>
<circle cx="46.63" cy="18.6" r="0.5" fill="#94c2e6" opacity="0.75"/>
<circle cx="65.05" cy="19.05" r="0.5" fill="#94c2e6" opacity="0.75"/>
<circle cx="73.41" cy="18.66" r="0.5" fill="#94c2e6" opacity="0.75"/>
<circle cx="63.06" cy="21.33" r="0.5" fill="#94c2e6" opacity="0.75"/>
<circle cx="46.26" cy="19.58" r="0.5" fill="#94c2e6" opacity="0.75"/>
<circle cx="64.82" cy="19.2" r="0.5" fill="#94c2e6" opacity="0.75"/>
<circle cx="70.75" cy="18.34" r="0.5" fill="#94c2e6" opacity="0.75"/>
<circle cx="77.57" cy="18.7" r="0.5" fill="#94c2e6" opacity="0.75"/>
<circle cx="55.3" cy="19.1" r="0.5" fill="#94c2e6" opacity="0.75"/>
<circle cx="58.2" cy="18.14" r="0.5" fill="#94c2e6" opacity="0.75"/>
<circle cx="68.84" cy="17.67" r="0.5" fill="#94c2e6" opacity="0.75"/>
<circle cx="71.54" cy="18.2" r="0.5" fill="#94c2e6" opacity="0.75"/>
<circle cx="65.16" cy="21.75" r="0.5" fill="#94c2e6" opacity="0.75"/>
<circle cx="63.27" cy="20.38" r="0.5" fill="#94c2e6" opacity="0.75"/>
<circle cx="53.61" cy="17.49" r="0.5" fill="#94c2e6" opacity="0.75"/>
<circle cx="43.76" cy="17.8" r="0.5" fill="#94c2e6" opacity="0.75"/>
<circle cx="64.34" cy="19.37" r="0.5" fill="#94c2e6" opacity="0.75"/>
<circle cx="60.68" cy="21.21" r="0.5" fill="#94c2e6" opacity="0.75"/>
<circle cx="47.23" cy="17.97" r="0.5" fill="#94c2e6" opacity="0.75"/>
<circle cx="65.65" cy="17.58" r="0.5" fill="#94c2e6" opacity="0.75"/>
<circle cx="42.66" cy="18.23" r="0.5" fill="#94c2e6" opacity="0.75"/>
<circle cx="46.32" cy="18.24" r="0.5" fill="#94c2e6" opacity="0.75"/>
<circle cx="50.49" cy="18.72" r="0.5" fill="#94c2e6" opacity="0.75"/>
<circle cx="63.38" cy="18.38" r="0.5" fill="#94c2e6" opacity="0.75"/>
<circle cx="64.61" cy="19.56" r="0.5" fill="#94c2e6" opacity="0.75"/>
<circle cx="47.33" cy="19.46" r="0.5" fill="#94c2e6" opacity="0.75"/>
<circle cx="51.17" cy="17.8" r="0.5" fill="#94c2e6" opacity="0.75"/>
<circle cx="45.95" cy="18.83" r="0.5" fill="#94c2e6" opacity="0.75"/>
<circle cx="73.36" cy="19.13" r="0.5" fill="#94c2e6" opacity="0.75"/>
<circle cx="56.77" cy="18.33" r="0.5" fill="#94c2e6" opacity="0.75"/>
<circle cx="42.97" cy="18.84" r="0.5" fill="#94c2e6" opacity="0.75"/>
<circle cx="62.44" cy="19" r="0.5" fill="#94c2e6" opacity="0.75"/>
<circle cx="65.38" cy="19.4" r="0.5" fill="#94c2e6" opacity="0.75"/>
<circle cx="75.68" cy="19.03" r="0.5" fill="#94c2e6" opacity="0.75"/>
<circle cx="51.35" cy="19.39" r="0.5" fill="#94c2e6" opacity="0.75"/>
<circle cx="44.12" cy="18.61" r="0.5" fill="#94c2e6" opacity="0.75"/>
<circle cx="56.91" cy="18.26" r="0.5" fill="#94c2e6" opacity="0.75"/>
<circle cx="44.63" cy="19.13" r="0.5" fill="#94c2e6" opacity="0.75"/>
<circle cx="43" cy="18.65" r="0.5" fill="#94c2e6" opacity="0.75"/>
<circle cx="75.82" cy="17.79" r="0.5" fill="#94c2e6" opacity="0.75"/>
<circle cx="49.62" cy="18.77" r="0.5" fill="#94c2e6" opacity="0.75"/>
<circle cx="60.48" cy="20.14" r="0.5" fill="#94c2e6" opacity="0.75"/>
<circle cx="71.31" cy="18" r="0.5" fill="#94c2e6" opacity="0.75"/>
<circle cx="53.5" cy="18.12" r="0.5" fill="#94c2e6" opacity="0.75"/>
<circle cx="44.28" cy="19.36" r="0.5" fill="#94c2e6" opacity="0.75"/>
<circle cx="70.23" cy="19.94" r="0.5" fill="#94c2e6" opacity="0.75"/>
<circle cx="42.79" cy="19.26" r="0.5" fill="#94c2e6" opacity="0.75"/>
<circle cx="68.9" cy="19.26" r="0.5" fill="#94c2e6" opacity="0.75"/>
<circle cx="68.78" cy="19.22" r="0.5" fill="#94c2e6" opacity="0.75"/>
<circle cx="50.55" cy="17.71" r="0.5" fill="#94c2e6" opacity="0.75"/>
<circle cx="50.77" cy="17.57" r="0.5" fill="#94c2e6" opacity="0.75"/>
<circle cx="54.42" cy="19.06" r="0.5" fill="#94c2e6" opacity="0.75"/>
<circle cx="67.13" cy="20.98" r="0.5" fill="#94c2e6" opacity="0.75"/>
<circle cx="67.72" cy="18.56" r="0.5" fill="#94c2e6" opacity="0.75"/>
<circle cx="62.14" cy="19.37" r="0.5" fill="#94c2e6" opacity="0.75"/>
<circle cx="70.43" cy="19.24" r="0.5" fill="#94c2e6" opacity="0.75"/>
<circle cx="51.94" cy="18.84" r="0.5" fill="#94c2e6" opacity="0.75"/>
<circle cx="76.67" cy="17.94" r="0.5" fill="#94c2e6" opacity="0.75"/>
<circle cx="73.66" cy="17.52" r="0.5" fill="#94c2e6" opacity="0.75"/>
<circle cx="51.77" cy="17.98" r="0.5" fill="#94c2e6" opacity="0.75"/>
<circle cx="68.85" cy="21.09" r="0.5" fill="#94c2e6" opacity="0.75"/>
<circle cx="68.93" cy="18.73" r="0.5" fill="#94c2e6" opacity="0.75"/>
<circle cx="73.67" cy="18.18" r="0.5" fill="#94c2e6" opacity="0.75"/>
<circle cx="51.02" cy="19.4" r="0.5" fill="#94c2e6" opacity="0.75"/>
<circle cx="64.85" cy="20.5" r="0.5" fill="#94c2e6" opacity="0.75"/>
<circle cx="66.07" cy="21.66" r="0.5" fill="#94c2e6" opacity="0.75"/>
<circle cx="59.16" cy="20.76" r="0.5" fill="#94c2e6" opacity="0.75"/>
<circle cx="67.22" cy="21.02" r="0.5" fill="#94c2e6" opacity="0.75"/>
<circle cx="58.02" cy="20.11" r="0.5" fill="#94c2e6" opacity="0.75"/>
<circle cx="62.72" cy="18.82" r="0.5" fill="#94c2e6" opacity="0.75"/>
<circle cx="50.06" cy="18.8" r="0.5" fill="#94c2e6" opacity="0.75"/>
<circle cx="45.32" cy="19.4" r="0.5" fill="#94c2e6" opacity="0.75"/>
<circle cx="47.68" cy="17.55" r="0.5" fill="#94c2e6" opacity="0.75"/>
<circle cx="46.34" cy="19.44" r="0.5" fill="#94c2e6" opacity="0.75"/>
<circle cx="54.75" cy="17.79" r="0.5" fill="#94c2e6" opacity="0.75"/>
<circle cx="43.58" cy="17.58" r="0.5" fill="#94c2e6" opacity="0.75"/>
<circle cx="67.04" cy="20.12" r="0.5" fill="#94c2e6" opacity="0.75"/>
<circle cx="67.2" cy="20.53" r="0.5" fill="#94c2e6" opacity="0.75"/>
<circle cx="44.89" cy="18.73" r="0.5" fill="#94c2e6" opacity="0.75"/>
<circle cx="55.41" cy="19.21" r="0.5" fill="#94c2e6" opacity="0.75"/>
<circle cx="71.53" cy="20" r="0.5" fill="#94c2e6" opacity="0.75"/>
<circle cx="44.9" cy="19.31" r="0.5" fill="#94c2e6" opacity="0.75"/>
<circle cx="92.48" cy="24" r="0.42" fill="#9cc6e6" opacity="0.6"/>
<circle cx="79.61" cy="19.56" r="0.42" fill="#9cc6e6" opacity="0.6"/>
<circle cx="79.69" cy="17.93" r="0.42" fill="#9cc6e6" opacity="0.6"/>
<circle cx="91.42" cy="24.89" r="0.42" fill="#9cc6e6" opacity="0.6"/>
<circle cx="88.01" cy="27.72" r="0.42" fill="#9cc6e6" opacity="0.6"/>
<circle cx="87.97" cy="21.85" r="0.42" fill="#9cc6e6" opacity="0.6"/>
<circle cx="79.5" cy="18.56" r="0.42" fill="#9cc6e6" opacity="0.6"/>
<circle cx="89.98" cy="20.39" r="0.42" fill="#9cc6e6" opacity="0.6"/>
<circle cx="82.99" cy="23.24" r="0.42" fill="#9cc6e6" opacity="0.6"/>
<circle cx="78.24" cy="18.65" r="0.42" fill="#9cc6e6" opacity="0.6"/>
<circle cx="82.41" cy="25.96" r="0.42" fill="#9cc6e6" opacity="0.6"/>
<circle cx="83.77" cy="22.26" r="0.42" fill="#9cc6e6" opacity="0.6"/>
<circle cx="93.27" cy="20.12" r="0.42" fill="#9cc6e6" opacity="0.6"/>
<circle cx="91.48" cy="23.36" r="0.42" fill="#9cc6e6" opacity="0.6"/>
<circle cx="78.4" cy="19.57" r="0.42" fill="#9cc6e6" opacity="0.6"/>
<circle cx="84.86" cy="27.51" r="0.42" fill="#9cc6e6" opacity="0.6"/>
<circle cx="83.43" cy="26.38" r="0.42" fill="#9cc6e6" opacity="0.6"/>
<circle cx="86.48" cy="21.08" r="0.42" fill="#9cc6e6" opacity="0.6"/>
<circle cx="91.65" cy="18.65" r="0.42" fill="#9cc6e6" opacity="0.6"/>
<circle cx="90.97" cy="19.71" r="0.42" fill="#9cc6e6" opacity="0.6"/>
<circle cx="77.92" cy="17.7" r="0.42" fill="#9cc6e6" opacity="0.6"/>
<circle cx="90.05" cy="27.75" r="0.42" fill="#9cc6e6" opacity="0.6"/>
<circle cx="77.97" cy="18.44" r="0.42" fill="#9cc6e6" opacity="0.6"/>
<circle cx="85.74" cy="27.85" r="0.42" fill="#9cc6e6" opacity="0.6"/>
<circle cx="80.85" cy="22.85" r="0.42" fill="#9cc6e6" opacity="0.6"/>
<circle cx="83.44" cy="27.65" r="0.42" fill="#9cc6e6" opacity="0.6"/>
<circle cx="82.06" cy="27.79" r="0.42" fill="#9cc6e6" opacity="0.6"/>
<circle cx="82.43" cy="20.68" r="0.42" fill="#9cc6e6" opacity="0.6"/>
<circle cx="89.05" cy="23.93" r="0.42" fill="#9cc6e6" opacity="0.6"/>
<circle cx="79.66" cy="22.77" r="0.42" fill="#9cc6e6" opacity="0.6"/>
<circle cx="79.19" cy="22.97" r="0.42" fill="#9cc6e6" opacity="0.6"/>
<circle cx="89.02" cy="26.84" r="0.42" fill="#9cc6e6" opacity="0.6"/>
<circle cx="87.91" cy="22.69" r="0.42" fill="#9cc6e6" opacity="0.6"/>
<circle cx="84.3" cy="23.23" r="0.42" fill="#9cc6e6" opacity="0.6"/>
<circle cx="92.1" cy="18.49" r="0.42" fill="#9cc6e6" opacity="0.6"/>
<circle cx="92.07" cy="17.81" r="0.42" fill="#9cc6e6" opacity="0.6"/>
<circle cx="81.19" cy="20.84" r="0.42" fill="#9cc6e6" opacity="0.6"/>
<circle cx="92.27" cy="21.64" r="0.42" fill="#9cc6e6" opacity="0.6"/>
<circle cx="83.95" cy="28.39" r="0.42" fill="#9cc6e6" opacity="0.6"/>
<circle cx="81.63" cy="23.04" r="0.42" fill="#9cc6e6" opacity="0.6"/>
<circle cx="86.38" cy="27.39" r="0.42" fill="#9cc6e6" opacity="0.6"/>
<circle cx="89.91" cy="24.94" r="0.42" fill="#9cc6e6" opacity="0.6"/>
<circle cx="83.46" cy="22.26" r="0.42" fill="#9cc6e6" opacity="0.6"/>
<circle cx="80.38" cy="25.18" r="0.42" fill="#9cc6e6" opacity="0.6"/>
<circle cx="88.46" cy="26.69" r="0.42" fill="#9cc6e6" opacity="0.6"/>
<circle cx="80.61" cy="22.19" r="0.42" fill="#9cc6e6" opacity="0.6"/>
<circle cx="90.23" cy="24.09" r="0.42" fill="#9cc6e6" opacity="0.6"/>
<circle cx="79.91" cy="21.81" r="0.42" fill="#9cc6e6" opacity="0.6"/>
<circle cx="92.01" cy="19.89" r="0.42" fill="#9cc6e6" opacity="0.6"/>
<circle cx="80.96" cy="21.12" r="0.42" fill="#9cc6e6" opacity="0.6"/>
<circle cx="89.11" cy="27.32" r="0.42" fill="#9cc6e6" opacity="0.6"/>
<circle cx="80.37" cy="19.42" r="0.42" fill="#9cc6e6" opacity="0.6"/>
<circle cx="81.85" cy="21.77" r="0.42" fill="#9cc6e6" opacity="0.6"/>
<circle cx="86.23" cy="20.31" r="0.42" fill="#9cc6e6" opacity="0.6"/>
<circle cx="83.13" cy="20.49" r="0.42" fill="#9cc6e6" opacity="0.6"/>
<circle cx="93.45" cy="20.49" r="0.42" fill="#9cc6e6" opacity="0.6"/>
<circle cx="79.53" cy="24.63" r="0.42" fill="#9cc6e6" opacity="0.6"/>
<circle cx="79.52" cy="20.87" r="0.42" fill="#9cc6e6" opacity="0.6"/>
<circle cx="93.59" cy="20.13" r="0.42" fill="#9cc6e6" opacity="0.6"/>
<circle cx="89.59" cy="23.04" r="0.42" fill="#9cc6e6" opacity="0.6"/>
<circle cx="81.03" cy="24.24" r="0.42" fill="#9cc6e6" opacity="0.6"/>
<circle cx="79.61" cy="19.56" r="0.42" fill="#9cc6e6" opacity="0.6"/>
<circle cx="84.09" cy="18.22" r="0.42" fill="#9cc6e6" opacity="0.6"/>
<circle cx="84.26" cy="27.56" r="0.42" fill="#9cc6e6" opacity="0.6"/>
<circle cx="88.96" cy="24" r="0.42" fill="#9cc6e6" opacity="0.6"/>
<circle cx="87.99" cy="23.91" r="0.42" fill="#9cc6e6" opacity="0.6"/>
<circle cx="80.16" cy="23.14" r="0.42" fill="#9cc6e6" opacity="0.6"/>
<circle cx="84.36" cy="27.06" r="0.42" fill="#9cc6e6" opacity="0.6"/>
<circle cx="92.38" cy="21.03" r="0.42" fill="#9cc6e6" opacity="0.6"/>
<circle cx="87.05" cy="27.23" r="0.42" fill="#9cc6e6" opacity="0.6"/>
<circle cx="84.62" cy="21.2" r="0.42" fill="#9cc6e6" opacity="0.6"/>
<circle cx="89.42" cy="27.44" r="0.42" fill="#9cc6e6" opacity="0.6"/>
<circle cx="90.24" cy="25.18" r="0.42" fill="#9cc6e6" opacity="0.6"/>
<circle cx="91.49" cy="23.81" r="0.42" fill="#9cc6e6" opacity="0.6"/>
<circle cx="88.13" cy="23.77" r="0.42" fill="#9cc6e6" opacity="0.6"/>
<circle cx="82.89" cy="25.36" r="0.42" fill="#9cc6e6" opacity="0.6"/>
<circle cx="79.46" cy="21.06" r="0.42" fill="#9cc6e6" opacity="0.6"/>
<circle cx="90.38" cy="25.18" r="0.42" fill="#9cc6e6" opacity="0.6"/>
<circle cx="87.94" cy="21.39" r="0.42" fill="#9cc6e6" opacity="0.6"/>
<circle cx="84.66" cy="24" r="0.42" fill="#9cc6e6" opacity="0.6"/>
<circle cx="87.81" cy="23.34" r="0.42" fill="#9cc6e6" opacity="0.6"/>
<circle cx="88.67" cy="28.41" r="0.42" fill="#9cc6e6" opacity="0.6"/>
<circle cx="80.82" cy="24.19" r="0.42" fill="#9cc6e6" opacity="0.6"/>
<circle cx="90.31" cy="22.23" r="0.42" fill="#9cc6e6" opacity="0.6"/>
<circle cx="85.71" cy="29.68" r="0.42" fill="#9cc6e6" opacity="0.6"/>
<circle cx="78.51" cy="20.36" r="0.42" fill="#9cc6e6" opacity="0.6"/>
<circle cx="80.47" cy="24.83" r="0.42" fill="#9cc6e6" opacity="0.6"/>
<circle cx="92.9" cy="20.88" r="0.42" fill="#9cc6e6" opacity="0.6"/>
<circle cx="79.52" cy="22.17" r="0.42" fill="#9cc6e6" opacity="0.6"/>
<circle cx="86.53" cy="26.98" r="0.42" fill="#9cc6e6" opacity="0.6"/>
<circle cx="86.07" cy="26.16" r="0.42" fill="#9cc6e6" opacity="0.6"/>
<circle cx="91.12" cy="22.91" r="0.42" fill="#9cc6e6" opacity="0.6"/>
<circle cx="84.45" cy="29.2" r="0.42" fill="#9cc6e6" opacity="0.6"/>
<circle cx="81.25" cy="24.83" r="0.42" fill="#9cc6e6" opacity="0.6"/>
<circle cx="84.16" cy="27.23" r="0.42" fill="#9cc6e6" opacity="0.6"/>
<circle cx="79.86" cy="25.37" r="0.42" fill="#9cc6e6" opacity="0.6"/>
<circle cx="83.57" cy="18.61" r="0.42" fill="#9cc6e6" opacity="0.6"/>
<circle cx="82.28" cy="22.72" r="0.42" fill="#9cc6e6" opacity="0.6"/>
<circle cx="78.12" cy="18.9" r="0.42" fill="#9cc6e6" opacity="0.6"/>
<circle cx="84.61" cy="26.68" r="0.42" fill="#9cc6e6" opacity="0.6"/>
<circle cx="83.52" cy="21.53" r="0.42" fill="#9cc6e6" opacity="0.6"/>
<circle cx="81.48" cy="25.52" r="0.42" fill="#9cc6e6" opacity="0.6"/>
<circle cx="92.89" cy="20.94" r="0.42" fill="#9cc6e6" opacity="0.6"/>
<circle cx="81.39" cy="25.96" r="0.42" fill="#9cc6e6" opacity="0.6"/>
<circle cx="84.15" cy="20.94" r="0.42" fill="#9cc6e6" opacity="0.6"/>
<circle cx="79.97" cy="24.15" r="0.42" fill="#9cc6e6" opacity="0.6"/>
<circle cx="90.81" cy="24.13" r="0.42" fill="#9cc6e6" opacity="0.6"/>
<circle cx="85.38" cy="25.29" r="0.42" fill="#9cc6e6" opacity="0.6"/>
<circle cx="81.51" cy="27.44" r="0.42" fill="#9cc6e6" opacity="0.6"/>
<circle cx="83.53" cy="25.74" r="0.42" fill="#9cc6e6" opacity="0.6"/>
<circle cx="90.96" cy="25.47" r="0.42" fill="#9cc6e6" opacity="0.6"/>
<circle cx="85.37" cy="22.11" r="0.42" fill="#9cc6e6" opacity="0.6"/>
<circle cx="86.64" cy="19.77" r="0.42" fill="#9cc6e6" opacity="0.6"/>
<circle cx="91.2" cy="21.41" r="0.42" fill="#9cc6e6" opacity="0.6"/>
<circle cx="91.47" cy="20.46" r="0.42" fill="#9cc6e6" opacity="0.6"/>
<circle cx="83.9" cy="21.44" r="0.42" fill="#9cc6e6" opacity="0.6"/>
<circle cx="84.7" cy="20.63" r="0.42" fill="#9cc6e6" opacity="0.6"/>
<circle cx="77.95" cy="18.54" r="0.42" fill="#9cc6e6" opacity="0.6"/>
<circle cx="82.39" cy="21.03" r="0.42" fill="#9cc6e6" opacity="0.6"/>
<circle cx="82.72" cy="23.75" r="0.42" fill="#9cc6e6" opacity="0.6"/>
<circle cx="84.73" cy="26.05" r="0.42" fill="#9cc6e6" opacity="0.6"/>
<circle cx="88.41" cy="22.65" r="0.42" fill="#9cc6e6" opacity="0.6"/>
<circle cx="92.71" cy="23.02" r="0.42" fill="#9cc6e6" opacity="0.6"/>
<circle cx="78.81" cy="22.37" r="0.42" fill="#9cc6e6" opacity="0.6"/>
<circle cx="92.34" cy="23.33" r="0.42" fill="#9cc6e6" opacity="0.6"/>
<circle cx="80.14" cy="24.78" r="0.42" fill="#9cc6e6" opacity="0.6"/>
<circle cx="88" cy="17.83" r="0.42" fill="#9cc6e6" opacity="0.6"/>
<circle cx="78.09" cy="20.11" r="0.42" fill="#9cc6e6" opacity="0.6"/>
<circle cx="88.36" cy="21.31" r="0.42" fill="#9cc6e6" opacity="0.6"/>
<circle cx="79.52" cy="18.97" r="0.42" fill="#9cc6e6" opacity="0.6"/>
<circle cx="81.63" cy="25.95" r="0.42" fill="#9cc6e6" opacity="0.6"/>
<circle cx="83.43" cy="20.05" r="0.42" fill="#9cc6e6" opacity="0.6"/>
<circle cx="92.32" cy="23.42" r="0.42" fill="#9cc6e6" opacity="0.6"/>
<circle cx="80.58" cy="25.8" r="0.42" fill="#9cc6e6" opacity="0.6"/>
<circle cx="87.6" cy="27.42" r="0.42" fill="#9cc6e6" opacity="0.6"/>
<circle cx="88.56" cy="28.13" r="0.42" fill="#9cc6e6" opacity="0.6"/>
<circle cx="90.47" cy="26.17" r="0.42" fill="#9cc6e6" opacity="0.6"/>
<circle cx="81.05" cy="24.72" r="0.42" fill="#9cc6e6" opacity="0.6"/>
<circle cx="86.37" cy="27.25" r="0.42" fill="#9cc6e6" opacity="0.6"/>
<circle cx="84.9" cy="28.65" r="0.42" fill="#9cc6e6" opacity="0.6"/>
<circle cx="86.75" cy="21.7" r="0.42" fill="#9cc6e6" opacity="0.6"/>
<circle cx="81.64" cy="19.57" r="0.42" fill="#9cc6e6" opacity="0.6"/>
<circle cx="85.76" cy="18.7" r="0.42" fill="#9cc6e6" opacity="0.6"/>
<circle cx="85.35" cy="20.07" r="0.42" fill="#9cc6e6" opacity="0.6"/>
<circle cx="85.74" cy="24.58" r="0.42" fill="#9cc6e6" opacity="0.6"/>
<circle cx="86.51" cy="28.5" r="0.42" fill="#9cc6e6" opacity="0.6"/>
<circle cx="78.01" cy="19.31" r="0.42" fill="#9cc6e6" opacity="0.6"/>
<circle cx="85.36" cy="25.3" r="0.42" fill="#9cc6e6" opacity="0.6"/>
<circle cx="88.51" cy="27.64" r="0.42" fill="#9cc6e6" opacity="0.6"/>
<circle cx="83.88" cy="23.43" r="0.42" fill="#9cc6e6" opacity="0.6"/>
<circle cx="93.22" cy="18.03" r="0.42" fill="#9cc6e6" opacity="0.6"/>
<circle cx="88.06" cy="25.76" r="0.42" fill="#9cc6e6" opacity="0.6"/>
<circle cx="78.36" cy="20.25" r="0.42" fill="#9cc6e6" opacity="0.6"/>
<circle cx="88.79" cy="28.35" r="0.42" fill="#9cc6e6" opacity="0.6"/>
<circle cx="83.17" cy="28.95" r="0.42" fill="#9cc6e6" opacity="0.6"/>
<circle cx="86.04" cy="24.42" r="0.42" fill="#9cc6e6" opacity="0.6"/>
<circle cx="92.21" cy="17.91" r="0.42" fill="#9cc6e6" opacity="0.6"/>
<circle cx="89.35" cy="25.08" r="0.42" fill="#9cc6e6" opacity="0.6"/>
<circle cx="83.3" cy="27.88" r="0.42" fill="#9cc6e6" opacity="0.6"/>
<circle cx="83.74" cy="24.03" r="0.42" fill="#9cc6e6" opacity="0.6"/>
<circle cx="86.28" cy="27.56" r="0.42" fill="#9cc6e6" opacity="0.6"/>
<circle cx="81.26" cy="22.58" r="0.42" fill="#9cc6e6" opacity="0.6"/>
<circle cx="84.64" cy="25.11" r="0.42" fill="#9cc6e6" opacity="0.6"/>
<circle cx="91.08" cy="20.9" r="0.42" fill="#9cc6e6" opacity="0.6"/>
<circle cx="91.1" cy="21.91" r="0.42" fill="#9cc6e6" opacity="0.6"/>
<circle cx="85.93" cy="21.83" r="0.42" fill="#9cc6e6" opacity="0.6"/>
<circle cx="85.98" cy="29.68" r="0.42" fill="#9cc6e6" opacity="0.6"/>
<circle cx="88.34" cy="27.24" r="0.42" fill="#9cc6e6" opacity="0.6"/>
<circle cx="83.18" cy="22.08" r="0.42" fill="#9cc6e6" opacity="0.6"/>
<circle cx="82.67" cy="24.83" r="0.42" fill="#9cc6e6" opacity="0.6"/>
<circle cx="88.02" cy="27.3" r="0.42" fill="#9cc6e6" opacity="0.6"/>
<circle cx="78.54" cy="21.2" r="0.42" fill="#9cc6e6" opacity="0.6"/>
<circle cx="92.02" cy="22.23" r="0.42" fill="#9cc6e6" opacity="0.6"/>
<circle cx="78.7" cy="19.48" r="0.42" fill="#9cc6e6" opacity="0.6"/>
<circle cx="78" cy="17.97" r="0.42" fill="#9cc6e6" opacity="0.6"/>
<circle cx="92.59" cy="21.87" r="0.42" fill="#9cc6e6" opacity="0.6"/>
<circle cx="88.39" cy="27.19" r="0.42" fill="#9cc6e6" opacity="0.6"/>
<circle cx="92.41" cy="22.17" r="0.42" fill="#9cc6e6" opacity="0.6"/>
<circle cx="87.74" cy="25.77" r="0.42" fill="#9cc6e6" opacity="0.6"/>
<circle cx="89.01" cy="24.97" r="0.42" fill="#9cc6e6" opacity="0.6"/>
<circle cx="88.76" cy="20.77" r="0.42" fill="#9cc6e6" opacity="0.6"/>
<circle cx="88.54" cy="23.69" r="0.42" fill="#9cc6e6" opacity="0.6"/>
<circle cx="90.06" cy="19.09" r="0.42" fill="#9cc6e6" opacity="0.6"/>
<circle cx="80.79" cy="18.09" r="0.42" fill="#9cc6e6" opacity="0.6"/>
<circle cx="90.25" cy="27.02" r="0.42" fill="#9cc6e6" opacity="0.6"/>
<circle cx="88.36" cy="22.74" r="0.42" fill="#9cc6e6" opacity="0.6"/>
<circle cx="91.02" cy="25.17" r="0.42" fill="#9cc6e6" opacity="0.6"/>
<circle cx="86.86" cy="21.61" r="0.42" fill="#9cc6e6" opacity="0.6"/>
<circle cx="82.72" cy="23.13" r="0.42" fill="#9cc6e6" opacity="0.6"/>
<circle cx="82.98" cy="23.32" r="0.42" fill="#9cc6e6" opacity="0.6"/>
<circle cx="88.13" cy="28.73" r="0.42" fill="#9cc6e6" opacity="0.6"/>
<circle cx="78.77" cy="21" r="0.42" fill="#9cc6e6" opacity="0.6"/>
<circle cx="78.53" cy="18.3" r="0.42" fill="#9cc6e6" opacity="0.6"/>
<circle cx="90.82" cy="23.62" r="0.42" fill="#9cc6e6" opacity="0.6"/>
<circle cx="92.55" cy="20.95" r="0.42" fill="#9cc6e6" opacity="0.6"/>
<circle cx="78.13" cy="18.85" r="0.42" fill="#9cc6e6" opacity="0.6"/>
<circle cx="87.34" cy="29.08" r="0.42" fill="#9cc6e6" opacity="0.6"/>
<circle cx="93.54" cy="19.36" r="0.42" fill="#9cc6e6" opacity="0.6"/>
<circle cx="84.48" cy="19.39" r="0.42" fill="#9cc6e6" opacity="0.6"/>
<circle cx="88.18" cy="20.86" r="0.42" fill="#9cc6e6" opacity="0.6"/>
<circle cx="80.32" cy="17.72" r="0.42" fill="#9cc6e6" opacity="0.6"/>
<circle cx="77.98" cy="18.81" r="0.42" fill="#9cc6e6" opacity="0.6"/>
<circle cx="79.84" cy="25.23" r="0.42" fill="#9cc6e6" opacity="0.6"/>
<circle cx="79.31" cy="23.66" r="0.42" fill="#9cc6e6" opacity="0.6"/>
<circle cx="79.96" cy="17.74" r="0.42" fill="#9cc6e6" opacity="0.6"/>
<circle cx="89.37" cy="20.99" r="0.42" fill="#9cc6e6" opacity="0.6"/>
<circle cx="89.6" cy="20.28" r="0.42" fill="#9cc6e6" opacity="0.6"/>
<circle cx="78.7" cy="21.84" r="0.42" fill="#9cc6e6" opacity="0.6"/>
<circle cx="89.28" cy="27.31" r="0.42" fill="#9cc6e6" opacity="0.6"/>
<circle cx="89.54" cy="18.93" r="0.42" fill="#9cc6e6" opacity="0.6"/>
<circle cx="87.93" cy="26.57" r="0.42" fill="#9cc6e6" opacity="0.6"/>
<circle cx="85.25" cy="29.21" r="0.42" fill="#9cc6e6" opacity="0.6"/>
<circle cx="81.95" cy="27.88" r="0.42" fill="#9cc6e6" opacity="0.6"/>
<circle cx="89.34" cy="17.72" r="0.42" fill="#9cc6e6" opacity="0.6"/>
<circle cx="78.14" cy="19.64" r="0.42" fill="#9cc6e6" opacity="0.6"/>
<circle cx="90.93" cy="18.67" r="0.42" fill="#9cc6e6" opacity="0.6"/>
<circle cx="82.86" cy="26.35" r="0.42" fill="#9cc6e6" opacity="0.6"/>
<circle cx="80.55" cy="25.53" r="0.42" fill="#9cc6e6" opacity="0.6"/>
<circle cx="85.66" cy="18.72" r="0.42" fill="#9cc6e6" opacity="0.6"/>
<circle cx="83.76" cy="25.14" r="0.42" fill="#9cc6e6" opacity="0.6"/>
<circle cx="84.9" cy="26.5" r="0.42" fill="#9cc6e6" opacity="0.6"/>
<circle cx="80.21" cy="24.63" r="0.42" fill="#9cc6e6" opacity="0.6"/>
<circle cx="83.69" cy="25.86" r="0.42" fill="#9cc6e6" opacity="0.6"/>
<circle cx="87.94" cy="23.41" r="0.42" fill="#9cc6e6" opacity="0.6"/>
<circle cx="84.05" cy="27.44" r="0.42" fill="#9cc6e6" opacity="0.6"/>
<circle cx="92.97" cy="22.08" r="0.42" fill="#9cc6e6" opacity="0.6"/>
<circle cx="86.94" cy="22.05" r="0.42" fill="#9cc6e6" opacity="0.6"/>
<circle cx="78.87" cy="23.21" r="0.42" fill="#9cc6e6" opacity="0.6"/>
<circle cx="89.12" cy="27.16" r="0.42" fill="#9cc6e6" opacity="0.6"/>
<circle cx="83.2" cy="25.26" r="0.42" fill="#9cc6e6" opacity="0.6"/>
<circle cx="93.49" cy="20.69" r="0.42" fill="#9cc6e6" opacity="0.6"/>
<circle cx="87.49" cy="22.19" r="0.42" fill="#9cc6e6" opacity="0.6"/>
<circle cx="84.74" cy="28.67" r="0.42" fill="#9cc6e6" opacity="0.6"/>
<circle cx="83.91" cy="26.35" r="0.42" fill="#9cc6e6" opacity="0.6"/>
<circle cx="87.5" cy="28.62" r="0.42" fill="#9cc6e6" opacity="0.6"/>
<circle cx="90.78" cy="20.95" r="0.42" fill="#9cc6e6" opacity="0.6"/>
<circle cx="77.93" cy="17.81" r="0.42" fill="#9cc6e6" opacity="0.6"/>
<circle cx="84.64" cy="25.48" r="0.42" fill="#9cc6e6" opacity="0.6"/>
<circle cx="90.91" cy="26.08" r="0.42" fill="#9cc6e6" opacity="0.6"/>
<circle cx="78.58" cy="21.77" r="0.42" fill="#9cc6e6" opacity="0.6"/>
<circle cx="90.84" cy="26" r="0.42" fill="#9cc6e6" opacity="0.6"/>
<circle cx="87.02" cy="21.8" r="0.42" fill="#9cc6e6" opacity="0.6"/>
<circle cx="91.47" cy="24.78" r="0.42" fill="#9cc6e6" opacity="0.6"/>
<circle cx="88.82" cy="28.16" r="0.42" fill="#9cc6e6" opacity="0.6"/>
<circle cx="83.43" cy="19.06" r="0.42" fill="#9cc6e6" opacity="0.6"/>
<circle cx="86.73" cy="27.79" r="0.42" fill="#9cc6e6" opacity="0.6"/>
<circle cx="81.1" cy="25.25" r="0.42" fill="#9cc6e6" opacity="0.6"/>
<circle cx="92.76" cy="19.36" r="0.42" fill="#9cc6e6" opacity="0.6"/>
<circle cx="87.58" cy="26.35" r="0.42" fill="#9cc6e6" opacity="0.6"/>
<circle cx="85.32" cy="20.95" r="0.42" fill="#9cc6e6" opacity="0.6"/>
<circle cx="81.96" cy="25.99" r="0.42" fill="#9cc6e6" opacity="0.6"/>
<circle cx="90.52" cy="22.79" r="0.42" fill="#9cc6e6" opacity="0.6"/>
<circle cx="79.3" cy="23.28" r="0.42" fill="#9cc6e6" opacity="0.6"/>
<circle cx="90.21" cy="20.64" r="0.42" fill="#9cc6e6" opacity="0.6"/>
<circle cx="87.14" cy="28.73" r="0.42" fill="#9cc6e6" opacity="0.6"/>
<circle cx="92.01" cy="22.07" r="0.42" fill="#9cc6e6" opacity="0.6"/>
<circle cx="85.5" cy="25.6" r="0.42" fill="#9cc6e6" opacity="0.6"/>
<circle cx="80.92" cy="19.99" r="0.42" fill="#9cc6e6" opacity="0.6"/>
<circle cx="80.78" cy="24.54" r="0.42" fill="#9cc6e6" opacity="0.6"/>
<circle cx="83.69" cy="25" r="0.42" fill="#9cc6e6" opacity="0.6"/>
<circle cx="84.32" cy="24.64" r="0.42" fill="#9cc6e6" opacity="0.6"/>
<circle cx="80.28" cy="18.14" r="0.42" fill="#9cc6e6" opacity="0.6"/>
<circle cx="93.8" cy="18.09" r="0.42" fill="#9cc6e6" opacity="0.6"/>
<circle cx="79.6" cy="22.66" r="0.42" fill="#9cc6e6" opacity="0.6"/>
<circle cx="90.46" cy="19.69" r="0.42" fill="#9cc6e6" opacity="0.6"/>
<circle cx="87.42" cy="22.64" r="0.42" fill="#9cc6e6" opacity="0.6"/>
<circle cx="86.18" cy="17.97" r="0.42" fill="#9cc6e6" opacity="0.6"/>
<circle cx="78.44" cy="21.92" r="0.42" fill="#9cc6e6" opacity="0.6"/>
<circle cx="91.71" cy="22.11" r="0.42" fill="#9cc6e6" opacity="0.6"/>
<circle cx="86.95" cy="21.65" r="0.42" fill="#9cc6e6" opacity="0.6"/>
<circle cx="90.33" cy="22.58" r="0.42" fill="#9cc6e6" opacity="0.6"/>
<circle cx="92.99" cy="21.94" r="0.42" fill="#9cc6e6" opacity="0.6"/>
<circle cx="90.96" cy="26.62" r="0.42" fill="#9cc6e6" opacity="0.6"/>
<circle cx="81.95" cy="18.19" r="0.42" fill="#9cc6e6" opacity="0.6"/>
<circle cx="81.11" cy="19.92" r="0.42" fill="#9cc6e6" opacity="0.6"/>
<circle cx="79.24" cy="18.04" r="0.42" fill="#9cc6e6" opacity="0.6"/>
<circle cx="86.79" cy="28.54" r="0.42" fill="#9cc6e6" opacity="0.6"/>
<circle cx="85.21" cy="29.36" r="0.42" fill="#9cc6e6" opacity="0.6"/>
<circle cx="92.41" cy="18.19" r="0.42" fill="#9cc6e6" opacity="0.6"/>
<circle cx="87.44" cy="23.27" r="0.42" fill="#9cc6e6" opacity="0.6"/>
<circle cx="79.82" cy="25.14" r="0.42" fill="#9cc6e6" opacity="0.6"/>
<circle cx="82" cy="24.26" r="0.42" fill="#9cc6e6" opacity="0.6"/>
<circle cx="88.12" cy="28.96" r="0.42" fill="#9cc6e6" opacity="0.6"/>
<circle cx="88.58" cy="22.96" r="0.42" fill="#9cc6e6" opacity="0.6"/>
<circle cx="85.05" cy="20.28" r="0.42" fill="#9cc6e6" opacity="0.6"/>
<circle cx="93.3" cy="21.97" r="0.42" fill="#9cc6e6" opacity="0.6"/>
<circle cx="81.44" cy="18.17" r="0.42" fill="#9cc6e6" opacity="0.6"/>
<circle cx="81.98" cy="22.1" r="0.42" fill="#9cc6e6" opacity="0.6"/>
<circle cx="92.3" cy="24.14" r="0.42" fill="#9cc6e6" opacity="0.6"/>
<circle cx="91.25" cy="18.2" r="0.42" fill="#9cc6e6" opacity="0.6"/>
<circle cx="90.44" cy="25.1" r="0.42" fill="#9cc6e6" opacity="0.6"/>
<circle cx="88.21" cy="29.19" r="0.42" fill="#9cc6e6" opacity="0.6"/>
<circle cx="78.79" cy="18.62" r="0.42" fill="#9cc6e6" opacity="0.6"/>
<circle cx="89.94" cy="27.53" r="0.42" fill="#9cc6e6" opacity="0.6"/>
<circle cx="88.69" cy="21.84" r="0.42" fill="#9cc6e6" opacity="0.6"/>
<circle cx="87.33" cy="27.26" r="0.42" fill="#9cc6e6" opacity="0.6"/>
<circle cx="79.58" cy="20.47" r="0.42" fill="#9cc6e6" opacity="0.6"/>
<circle cx="82" cy="19.45" r="0.42" fill="#9cc6e6" opacity="0.6"/>
<circle cx="85.58" cy="20.42" r="0.42" fill="#9cc6e6" opacity="0.6"/>
<circle cx="81.71" cy="19.63" r="0.42" fill="#9cc6e6" opacity="0.6"/>
<circle cx="88.71" cy="17.76" r="0.42" fill="#9cc6e6" opacity="0.6"/>
<circle cx="89.34" cy="20.43" r="0.42" fill="#9cc6e6" opacity="0.6"/>
<circle cx="78.48" cy="21.83" r="0.42" fill="#9cc6e6" opacity="0.6"/>
<circle cx="81.42" cy="27.1" r="0.42" fill="#9cc6e6" opacity="0.6"/>
<circle cx="91.72" cy="25.01" r="0.42" fill="#9cc6e6" opacity="0.6"/>
<circle cx="80.13" cy="21.89" r="0.42" fill="#9cc6e6" opacity="0.6"/>
<circle cx="79.45" cy="24.28" r="0.42" fill="#9cc6e6" opacity="0.6"/>
<circle cx="91.33" cy="23.59" r="0.42" fill="#9cc6e6" opacity="0.6"/>
<circle cx="85.11" cy="22.66" r="0.42" fill="#9cc6e6" opacity="0.6"/>
<circle cx="91.03" cy="22.61" r="0.42" fill="#9cc6e6" opacity="0.6"/>
<circle cx="87.92" cy="19.95" r="0.42" fill="#9cc6e6" opacity="0.6"/>
<circle cx="81.44" cy="18.44" r="0.42" fill="#9cc6e6" opacity="0.6"/>
<circle cx="89.28" cy="24.4" r="0.42" fill="#9cc6e6" opacity="0.6"/>
<circle cx="80.21" cy="25.15" r="0.42" fill="#9cc6e6" opacity="0.6"/>
<circle cx="82.15" cy="22.8" r="0.42" fill="#9cc6e6" opacity="0.6"/>
<circle cx="80.39" cy="20.55" r="0.42" fill="#9cc6e6" opacity="0.6"/>
<circle cx="91.29" cy="21.17" r="0.42" fill="#9cc6e6" opacity="0.6"/>
<circle cx="80.58" cy="22.61" r="0.42" fill="#9cc6e6" opacity="0.6"/>
<circle cx="82.97" cy="28.09" r="0.42" fill="#9cc6e6" opacity="0.6"/>
<circle cx="79.72" cy="25.1" r="0.42" fill="#9cc6e6" opacity="0.6"/>
<circle cx="78.81" cy="22.68" r="0.42" fill="#9cc6e6" opacity="0.6"/>
<circle cx="88.56" cy="20.79" r="0.42" fill="#9cc6e6" opacity="0.6"/>
<circle cx="85.52" cy="22.01" r="0.42" fill="#9cc6e6" opacity="0.6"/>
<circle cx="82.01" cy="20.42" r="0.42" fill="#9cc6e6" opacity="0.6"/>
<circle cx="83.71" cy="29.33" r="0.42" fill="#9cc6e6" opacity="0.6"/>
<circle cx="93.82" cy="18.59" r="0.42" fill="#9cc6e6" opacity="0.6"/>
<circle cx="79.46" cy="20.12" r="0.42" fill="#9cc6e6" opacity="0.6"/>
<circle cx="92.19" cy="18.17" r="0.42" fill="#9cc6e6" opacity="0.6"/>
<circle cx="89.49" cy="21.55" r="0.42" fill="#9cc6e6" opacity="0.6"/>
<circle cx="93.51" cy="17.54" r="0.42" fill="#9cc6e6" opacity="0.6"/>
<circle cx="90.77" cy="21.52" r="0.42" fill="#9cc6e6" opacity="0.6"/>
<circle cx="80.14" cy="17.47" r="0.42" fill="#9cc6e6" opacity="0.6"/>
<circle cx="91.17" cy="22.91" r="0.42" fill="#9cc6e6" opacity="0.6"/>
<circle cx="80.87" cy="22.33" r="0.42" fill="#9cc6e6" opacity="0.6"/>
<circle cx="92.44" cy="19.47" r="0.42" fill="#9cc6e6" opacity="0.6"/>
<circle cx="87.01" cy="19.95" r="0.42" fill="#9cc6e6" opacity="0.6"/>
<circle cx="80.78" cy="25.09" r="0.42" fill="#9cc6e6" opacity="0.6"/>
<circle cx="89.25" cy="20.47" r="0.42" fill="#9cc6e6" opacity="0.6"/>
<circle cx="79.17" cy="18.36" r="0.42" fill="#9cc6e6" opacity="0.6"/>
<circle cx="87.61" cy="24.36" r="0.42" fill="#9cc6e6" opacity="0.6"/>
<circle cx="82.27" cy="20.53" r="0.42" fill="#9cc6e6" opacity="0.6"/>
<circle cx="87.67" cy="26.64" r="0.42" fill="#9cc6e6" opacity="0.6"/>
<circle cx="90.84" cy="23.66" r="0.42" fill="#9cc6e6" opacity="0.6"/>
<circle cx="81.13" cy="18.53" r="0.42" fill="#9cc6e6" opacity="0.6"/>
<circle cx="89.58" cy="22.76" r="0.42" fill="#9cc6e6" opacity="0.6"/>
<circle cx="89.41" cy="18.51" r="0.42" fill="#9cc6e6" opacity="0.6"/>
<circle cx="90.83" cy="21.43" r="0.42" fill="#9cc6e6" opacity="0.6"/>
<circle cx="91.33" cy="25.4" r="0.42" fill="#9cc6e6" opacity="0.6"/>
<circle cx="85.76" cy="17.85" r="0.42" fill="#9cc6e6" opacity="0.6"/>
<circle cx="92.41" cy="21.3" r="0.42" fill="#9cc6e6" opacity="0.6"/>
<circle cx="91.81" cy="20.26" r="0.42" fill="#9cc6e6" opacity="0.6"/>
<circle cx="80.87" cy="25.68" r="0.42" fill="#9cc6e6" opacity="0.6"/>
<circle cx="83.76" cy="20.23" r="0.42" fill="#9cc6e6" opacity="0.6"/>
<circle cx="83.82" cy="25.37" r="0.42" fill="#9cc6e6" opacity="0.6"/>
<circle cx="77.98" cy="18.51" r="0.42" fill="#9cc6e6" opacity="0.6"/>
<circle cx="85.01" cy="24.73" r="0.42" fill="#9cc6e6" opacity="0.6"/>
<circle cx="79.83" cy="23.53" r="0.42" fill="#9cc6e6" opacity="0.6"/>
<circle cx="90.92" cy="25.9" r="0.42" fill="#9cc6e6" opacity="0.6"/>
<circle cx="83.02" cy="26.25" r="0.42" fill="#9cc6e6" opacity="0.6"/>
<circle cx="83.98" cy="27.06" r="0.42" fill="#9cc6e6" opacity="0.6"/>
<circle cx="78.88" cy="22.74" r="0.42" fill="#9cc6e6" opacity="0.6"/>
<circle cx="93.11" cy="20.39" r="0.42" fill="#9cc6e6" opacity="0.6"/>
<circle cx="86.09" cy="24.95" r="0.42" fill="#9cc6e6" opacity="0.6"/>
<circle cx="86.47" cy="17.97" r="0.42" fill="#9cc6e6" opacity="0.6"/>
<circle cx="93.33" cy="18.76" r="0.42" fill="#9cc6e6" opacity="0.6"/>
<circle cx="80.81" cy="18.95" r="0.42" fill="#9cc6e6" opacity="0.6"/>
<circle cx="81.9" cy="26.53" r="0.42" fill="#9cc6e6" opacity="0.6"/>
<circle cx="78.38" cy="18.07" r="0.42" fill="#9cc6e6" opacity="0.6"/>
<circle cx="89.05" cy="20.49" r="0.42" fill="#9cc6e6" opacity="0.6"/>
<circle cx="78.19" cy="19.67" r="0.42" fill="#9cc6e6" opacity="0.6"/>
<circle cx="87.09" cy="24.77" r="0.42" fill="#9cc6e6" opacity="0.6"/>
<circle cx="89.11" cy="19.25" r="0.42" fill="#9cc6e6" opacity="0.6"/>
<circle cx="91.77" cy="23.75" r="0.42" fill="#9cc6e6" opacity="0.6"/>
<circle cx="78.62" cy="18.38" r="0.42" fill="#9cc6e6" opacity="0.6"/>
<circle cx="85.77" cy="24.61" r="0.42" fill="#9cc6e6" opacity="0.6"/>
<circle cx="82.36" cy="19.48" r="0.42" fill="#9cc6e6" opacity="0.6"/>
<circle cx="84.37" cy="19.91" r="0.42" fill="#9cc6e6" opacity="0.6"/>
<circle cx="87.34" cy="28.31" r="0.42" fill="#9cc6e6" opacity="0.6"/>
<circle cx="80.25" cy="22.99" r="0.42" fill="#9cc6e6" opacity="0.6"/>
<circle cx="89.81" cy="19.95" r="0.42" fill="#9cc6e6" opacity="0.6"/>
<circle cx="91.07" cy="26.27" r="0.42" fill="#9cc6e6" opacity="0.6"/>
<circle cx="84.1" cy="23.5" r="0.42" fill="#9cc6e6" opacity="0.6"/>
<circle cx="91.29" cy="22.8" r="0.42" fill="#9cc6e6" opacity="0.6"/>
<circle cx="84.21" cy="29.05" r="0.42" fill="#9cc6e6" opacity="0.6"/>
<circle cx="90.29" cy="21.73" r="0.42" fill="#9cc6e6" opacity="0.6"/>
<circle cx="81.74" cy="21.82" r="0.42" fill="#9cc6e6" opacity="0.6"/>
<circle cx="84.85" cy="29.63" r="0.42" fill="#9cc6e6" opacity="0.6"/>
<circle cx="90.73" cy="26.5" r="0.42" fill="#9cc6e6" opacity="0.6"/>
<circle cx="90.9" cy="25.79" r="0.42" fill="#9cc6e6" opacity="0.6"/>
<circle cx="78.76" cy="20.72" r="0.42" fill="#9cc6e6" opacity="0.6"/>
<circle cx="93.17" cy="22.18" r="0.42" fill="#9cc6e6" opacity="0.6"/>
<circle cx="81.88" cy="22.78" r="0.42" fill="#9cc6e6" opacity="0.6"/>
<circle cx="87.99" cy="22.77" r="0.42" fill="#9cc6e6" opacity="0.6"/>
<circle cx="86.37" cy="18.88" r="0.42" fill="#9cc6e6" opacity="0.6"/>
<circle cx="84.81" cy="24.59" r="0.42" fill="#9cc6e6" opacity="0.6"/>
<circle cx="78.24" cy="18.17" r="0.42" fill="#9cc6e6" opacity="0.6"/>
<circle cx="93.36" cy="20.96" r="0.42" fill="#9cc6e6" opacity="0.6"/>
<circle cx="92.84" cy="21.59" r="0.42" fill="#9cc6e6" opacity="0.6"/>
<circle cx="90.81" cy="26.18" r="0.42" fill="#9cc6e6" opacity="0.6"/>
<circle cx="92.01" cy="17.94" r="0.42" fill="#9cc6e6" opacity="0.6"/>
<polyline points="42.57,41.44 43.1,41.62 43.63,41.56 44.16,41.74 44.69,41.73 45.22,41.68 45.75,41.83 46.29,42.01 46.82,41.99 47.35,42.08 47.88,42 48.41,42.26 48.94,42.32 49.47,42.28 50.01,42.5 50.54,42.42 51.07,42.38 51.6,42.57 52.13,42.71 52.66,42.71 53.19,42.75 53.73,42.93 54.26,43 54.79,43.05 55.32,43.07 55.85,43.09 56.38,43.18 56.91,43.25 57.44,43.35 57.98,43.27 58.51,43.23 59.04,43.35 59.57,43.41 60.1,43.43 60.63,43.61 61.16,43.51 61.7,43.63 62.23,43.65 62.76,43.68 63.29,43.77 63.82,43.87 64.35,43.94 64.88,44 65.42,43.97 65.95,44.06 66.48,44.06 67.01,44.29 67.54,44.25 68.07,44.17 68.6,44.42 69.14,44.39 69.67,44.49 70.2,44.62 70.73,44.5 71.26,44.78 71.79,44.72 72.32,44.99 72.86,45.1 73.39,44.96 73.92,45.17 74.45,45.38 74.98,45.37 75.51,45.45 76.04,45.46 76.58,45.73 77.11,45.79 77.64,45.67 78.17,45.83 78.7,46.09 79.23,46.13 79.76,46.22 80.3,46.21 80.83,46.32 81.36,46.34 81.89,46.43 82.42,46.6 82.95,46.62 83.48,46.7 84.01,46.78 84.55,46.95 85.08,46.94 85.61,47.04 86.14,47.06 86.67,47.37 87.2,47.24 87.73,47.57 88.27,47.43 88.8,47.56 89.33,47.67 89.86,47.61 90.39,47.8 90.92,47.92 91.45,47.89 91.99,47.94 92.52,48.09 93.05,48.23 93.58,48.28 94.11,48.35 94.64,48.35 95.17,48.54 95.71,48.58 96.24,48.6 96.77,48.72 97.3,48.81 97.83,48.74 98.36,48.79 98.89,48.97 99.43,49.05 99.96,49.2 100.49,49.23 101.02,49.35 101.55,49.3 102.08,49.36 102.61,49.58 103.15,49.41 103.68,49.65 104.21,49.57 104.74,49.64 105.27,49.68 105.8,49.97 106.33,49.97 106.87,49.9 107.4,50.23 107.93,50.29 108.46,50.2 108.99,50.29 109.52,50.23 110.05,50.34 110.58,50.48 111.12,50.41 111.65,50.61 112.18,50.67 112.71,50.69 113.24,50.84 113.77,50.91 114.3,50.9 114.84,51.03 115.37,50.91 115.9,51.05 116.43,51.15 116.96,51.33 117.49,51.3 118.02,51.35 118.56,51.36 119.09,51.4 119.62,51.36 120.15,51.39 120.68,51.57 121.21,51.63 121.74,51.62 122.28,51.56 122.81,51.79 123.34,51.78 123.87,51.74 124.4,51.96 124.93,51.96 125.46,51.81 126,51.89 126.53,52.02 127.06,52.17 127.59,51.98 128.12,52.07 128.65,52.07 129.18,52.05 129.72,52.11 130.25,52.28 130.78,52.39 131.31,52.38 131.84,52.35 132.37,52.38 132.9,52.5 133.44,52.53 133.97,52.43 134.5,52.46 135.03,52.56 135.56,52.4 136.09,52.53 136.62,52.73 137.15,52.65 137.69,52.56 138.22,52.73 138.75,52.64 139.28,52.86 139.81,52.8 140.34,52.66 140.87,52.76 141.41,52.76 141.94,52.92 142.47,52.85 143,52.86 143.53,52.96 144.06,52.87 144.59,52.92 145.13,52.81 145.66,52.95 146.19,53.02 146.72,53.12 147.25,53.13 147.78,52.98 148.31,53.19 148.85,53.21 149.38,53.2 149.91,53.12 150.44,53.05 150.97,53.13 151.5,53.09 152.03,53.33 152.57,53.36 153.1,53.16 153.63,53.31 154.16,53.21 154.69,53.34 155.22,53.41 155.75,53.4 156.29,53.46 156.82,53.24 157.35,53.35 157.88,53.44 158.41,53.42 158.94,53.46 159.47,53.57 160.01,53.34 160.54,53.45 161.07,53.35 161.6,53.52 162.13,53.48 162.66,53.6 163.19,53.67 163.72,53.43 164.26,53.46 164.79,53.63 165.32,53.47 165.85,53.51 166.38,53.67 166.91,53.59 167.44,53.5 167.98,53.65 168.51,53.52 169.04,53.74 169.57,53.71 170.1,53.62 170.63,53.78 171.16,53.76 171.7,53.61 172.23,53.73 172.76,53.65 173.29,53.82 173.82,53.85 174.35,53.81 174.88,53.87 175.42,53.65 175.95,53.85 176.48,53.78 177.01,53.92 177.54,53.81 178.07,53.86 178.6,53.87 179.14,53.97 179.67,53.96 180.2,53.77 180.73,53.91 181.26,53.95 181.79,53.98 182.32,53.96 182.86,53.98 183.39,54.05 183.92,53.87 184.45,53.98 184.98,54.04 185.51,53.89 186.04,54.08 186.58,54.03 187.11,53.88 187.64,54.09 188.17,54.01 188.7,53.9 189.23,53.92 189.76,54.12 190.29,54.07 190.83,53.97 191.36,54.08 191.89,53.92 192.42,54.15 192.95,53.94 193.48,54.07 194.01,54.16 194.55,54.1 195.08,54.21 195.61,54.05 196.14,54.18 196.67,54 197.2,54.1 197.73,54.17 198.27,54.21 198.8,54.12 199.33,54.24 199.86,54.05 200.39,54.28 200.92,54.17 201.45,54.17 201.99,54.25 202.52,54.11 203.05,54.23 203.58,54.16 204.11,54.19 204.64,54.27 205.17,54.25 205.71,54.35 206.24,54.33 206.77,54.14 207.3,54.3 207.83,54.2 208.36,54.37 208.89,54.24 209.43,54.31 209.96,54.27 210.49,54.34 211.02,54.41 211.55,54.34 212.08,54.37 212.61,54.41 213.15,54.24 213.68,54.37 214.21,54.34 214.74,54.2 215.27,54.25 215.8,54.22 216.33,54.23 216.86,54.45 217.4,54.42 217.93,54.49 218.46,54.31 218.99,54.32 219.52,54.42 220.05,54.41 220.58,54.34 221.12,54.33 221.65,54.47 222.18,54.3 222.71,54.45 223.24,54.38 223.77,54.51 224.3,54.54 224.84,54.31 225.37,54.37 225.9,54.38 226.43,54.58 226.96,54.59 227.49,54.56 228.02,54.55 228.56,54.53 229.09,54.51 229.62,54.62 230.15,54.54 230.68,54.45 231.21,54.59 231.74,54.4 232.28,54.49 232.81,54.45 233.34,54.59 233.87,54.54 234.4,54.48 234.93,54.58 235.46,54.69 236,54.45 236.53,54.47 237.06,54.62 237.59,54.69 238.12,54.46 238.65,54.54 239.18,54.71 239.72,54.66 240.25,54.7 240.78,54.51 241.31,54.68 241.84,54.48 242.37,54.53 242.9,54.73 243.43,54.56 243.97,54.65 244.5,54.56 245.03,54.54 245.56,54.7 246.09,54.76 246.62,54.52 247.15,54.68 247.69,54.53 248.22,54.61 248.75,54.6 249.28,54.58 249.81,54.64 250.34,54.7 250.87,54.82 251.41,54.64 251.94,54.72 252.47,54.7 253,54.58 253.53,54.82 254.06,54.64 254.59,54.86 255.13,54.67 255.66,54.65 256.19,54.81 256.72,54.73 257.25,54.61 257.78,54.71 258.31,54.75 258.85,54.84 259.38,54.9 259.91,54.81 260.44,54.8 260.97,54.87 261.5,54.84 262.03,54.9 262.57,54.73 263.1,54.75 263.63,54.88 264.16,54.88 264.69,54.81 265.22,54.83 265.75,54.69 266.29,54.87 266.82,54.89 267.35,54.72 267.88,54.94 268.41,54.82 268.94,54.9 269.47,54.76 270,54.84 270.54,54.78 271.07,54.96 271.6,54.82 272.13,54.84 272.66,54.89 273.19,54.8 273.72,54.79 274.26,55 274.79,54.96 275.32,54.94 275.85,54.99 276.38,55.04 276.91,54.98 277.44,55.01 277.98,54.86 278.51,54.94 279.04,55.05 279.57,54.99 280.1,54.95 280.63,54.99 281.16,55.05 281.7,55.09 282.23,55.11 282.76,54.83 283.29,54.9 283.82,55.1 284.35,54.92 284.88,54.85 285.42,54.98 285.95,55.12 286.48,55.02 287.01,55.04 287.54,55.12 288.07,55.02 288.6,55.18 289.14,54.92 289.67,55.01 290.2,55.02 290.73,54.94 291.26,55.03 291.79,55.15 292.32,55.16 292.86,55.2 293.39,55.24 293.92,55.02 294.45,55.01 294.98,55.18 295.51,55.22 296.04,55.09 296.57,55.04 297.11,55.02 297.64,55.25 298.17,55.08 298.7,55.07 299.23,55.1 299.76,55.23 300.29,55.28 300.83,55.1 301.36,55.25 301.89,55.25 302.42,55.2 302.95,55.26 303.48,55.13 304.01,55.31 304.55,55.38 305.08,55.23 305.61,55.22 306.14,55.17 306.67,55.21 307.2,55.16 307.73,55.15" fill="none" stroke="#d9849b" stroke-width="4.4" stroke-linejoin="round" stroke-linecap="round" />
<polyline points="42.3,39.02 42.43,39.06 42.57,39.11 42.7,39.16 42.83,39.2 42.96,39.25 43.1,39.3 43.23,39.34 43.36,39.39 43.5,39.43 43.63,39.48 43.76,39.52 43.89,39.56 44.03,39.61 44.16,39.65 44.29,39.7 44.43,39.74 44.56,39.78 44.69,39.83 44.82,39.87 44.96,39.91 45.09,39.96 45.22,40 45.36,40.04 45.49,40.09 45.62,40.13 45.75,40.17 45.89,40.21 46.02,40.26 46.15,40.3 46.29,40.35 46.42,40.39 46.55,40.43 46.68,40.48 46.82,40.52 46.95,40.57 47.08,40.61 47.22,40.66 47.35,40.7 47.48,40.75 47.61,40.79 47.75,40.84 47.88,40.89 48.01,40.93 48.15,40.98 48.28,41.03 48.41,41.08 48.54,41.13 48.68,41.18 48.81,41.23 48.94,41.28 49.08,41.33 49.21,41.38 49.34,41.43 49.47,41.49 49.61,41.54 49.74,41.6 49.87,41.65 50.01,41.71 50.14,41.76 50.27,41.82 50.4,41.88 50.54,41.94 50.67,42 50.8,42.06 50.94,42.12 51.07,42.18 51.2,42.25 51.33,42.31 51.47,42.37 51.6,42.44 51.73,42.5 51.87,42.57 52,42.64 52.13,42.71 52.26,42.77 52.4,42.84 52.53,42.91 52.66,42.98 52.8,43.05 52.93,43.12 53.06,43.2 53.19,43.27 53.33,43.34 53.46,43.41 53.59,43.49 53.73,43.56 53.86,43.64 53.99,43.71 54.12,43.79 54.26,43.86 54.39,43.94 54.52,44.01 54.66,44.09 54.79,44.17 54.92,44.25 55.05,44.32 55.19,44.4 55.32,44.48 55.45,44.56 55.58,44.64 55.72,44.72 55.85,44.8 55.98,44.88 56.12,44.96 56.25,45.04 56.38,45.12 56.51,45.2 56.65,45.28 56.78,45.36 56.91,45.44 57.05,45.52 57.18,45.6 57.31,45.68 57.44,45.76 57.58,45.84 57.71,45.93 57.84,46.01 57.98,46.09 58.11,46.17 58.24,46.25 58.37,46.33 58.51,46.41 58.64,46.5 58.77,46.58 58.91,46.66 59.04,46.74 59.17,46.82 59.3,46.9 59.44,46.98 59.57,47.06 59.7,47.14 59.84,47.22 59.97,47.3 60.1,47.38 60.23,47.46 60.37,47.54 60.5,47.62 60.63,47.7 60.77,47.78 60.9,47.86 61.03,47.94 61.16,48.02 61.3,48.1 61.43,48.18 61.56,48.26 61.7,48.33 61.83,48.41 61.96,48.49 62.09,48.57 62.23,48.65 62.36,48.73 62.49,48.81 62.63,48.89 62.76,48.97 62.89,49.05 63.02,49.13 63.16,49.22 63.29,49.3 63.42,49.38 63.56,49.46 63.69,49.54 63.82,49.62 63.95,49.7 64.09,49.78 64.22,49.87 64.35,49.95 64.49,50.03 64.62,50.11 64.75,50.2 64.88,50.28 65.02,50.36 65.15,50.44 65.28,50.53 65.42,50.61 65.55,50.7 65.68,50.78 65.81,50.86 65.95,50.95 66.08,51.03 66.21,51.12 66.35,51.21 66.48,51.29 66.61,51.38 66.74,51.46 66.88,51.55 67.01,51.64 67.14,51.73 67.28,51.81 67.41,51.9 67.54,51.99 67.67,52.08 67.81,52.17 67.94,52.26 68.07,52.35 68.21,52.44 68.34,52.53 68.47,52.62 68.6,52.71 68.74,52.81 68.87,52.9 69,52.99 69.14,53.08 69.27,53.18 69.4,53.27 69.53,53.37 69.67,53.46 69.8,53.56 69.93,53.65 70.07,53.75 70.2,53.84 70.33,53.94 70.46,54.04 70.6,54.14 70.73,54.24 70.86,54.33 71,54.43 71.13,54.53 71.26,54.63 71.39,54.73 71.53,54.84 71.66,54.94 71.79,55.04 71.93,55.14 72.06,55.25 72.19,55.35 72.32,55.46 72.46,55.56 72.59,55.67 72.72,55.77 72.86,55.88 72.99,55.99 73.12,56.09 73.25,56.2 73.39,56.31 73.52,56.42 73.65,56.54 73.79,56.67 73.92,56.8 74.05,56.93 74.18,57.07 74.32,57.21 74.45,57.35 74.58,57.5 74.72,57.65 74.85,57.79 74.98,57.94 75.11,58.08 75.25,58.23 75.38,58.37 75.51,58.5 75.65,58.64 75.78,58.77 75.91,58.9 76.04,59.03 76.18,59.16 76.31,59.29 76.44,59.42 76.58,59.54 76.71,59.67 76.84,59.8 76.97,59.93 77.11,60.06 77.24,60.19 77.37,60.33 77.51,60.46 77.64,60.6 77.77,60.74 77.9,60.89 78.04,61.03 78.17,61.18 78.3,61.33 78.44,61.48 78.57,61.62 78.7,61.76 78.83,61.91 78.97,62.07 79.1,62.24 79.23,62.42 79.37,62.62 79.5,62.85 79.63,63.1 79.76,63.38 79.9,63.69 80.03,64.06 80.16,64.48 80.3,64.93 80.43,65.42 80.56,65.93 80.69,66.47 80.83,67.03 80.96,67.61 81.09,68.23 81.23,68.88 81.36,69.55 81.49,70.23 81.62,70.93 81.76,71.63 81.89,72.32 82.02,73.01 82.16,73.72 82.29,74.44 82.42,75.17 82.55,75.9 82.69,76.62 82.82,77.32 82.95,77.99 83.08,78.64 83.22,79.28 83.35,79.89 83.48,80.47 83.62,81.01 83.75,81.5 83.88,81.95 84.01,82.4 84.15,82.84 84.28,83.26 84.41,83.67 84.55,84.05 84.68,84.41 84.81,84.74 84.94,85.04 85.08,85.3 85.21,85.53 85.34,85.74 85.48,85.94 85.61,86.12 85.74,86.29 85.87,86.45 86.01,86.6 86.14,86.74 86.27,86.87 86.41,87 86.54,87.12 86.67,87.25 86.8,87.37 86.94,87.49 87.07,87.61 87.2,87.74 87.34,87.86 87.47,87.99 87.6,88.12 87.73,88.24 87.87,88.36 88,88.48 88.13,88.6 88.27,88.72 88.4,88.84 88.53,88.95 88.66,89.07 88.8,89.18 88.93,89.29 89.06,89.4 89.2,89.5 89.33,89.6 89.46,89.71 89.59,89.8 89.73,89.9 89.86,89.99 89.99,90.08 90.13,90.17 90.26,90.26 90.39,90.33 90.52,90.41 90.66,90.48 90.79,90.55 90.92,90.61 91.06,90.67 91.19,90.73 91.32,90.78 91.45,90.84 91.59,90.89 91.72,90.93 91.85,90.98 91.99,91.02 92.12,91.07 92.25,91.11 92.38,91.15 92.52,91.19 92.65,91.24 92.78,91.27 92.92,91.31 93.05,91.35 93.18,91.38 93.31,91.42 93.45,91.45 93.58,91.48 93.71,91.51 93.85,91.54 93.98,91.57 94.11,91.6 94.24,91.63 94.38,91.66 94.51,91.69 94.64,91.71 94.78,91.74 94.91,91.77 95.04,91.8 95.17,91.82 95.31,91.85 95.44,91.88 95.57,91.91 95.71,91.94 95.84,91.97 95.97,92" fill="none" stroke="#a9cbe6" stroke-width="4.8" stroke-linejoin="round" stroke-linecap="round" />
<polyline points="42.3,39.99 42.57,40.08 42.83,40.18 43.1,40.27 43.36,40.36 43.63,40.45 43.89,40.54 44.16,40.63 44.43,40.71 44.69,40.8 44.96,40.89 45.22,40.97 45.49,41.06 45.75,41.15 46.02,41.23 46.29,41.32 46.55,41.41 46.82,41.5 47.08,41.59 47.35,41.68 47.61,41.77 47.88,41.86 48.15,41.96 48.41,42.05 48.68,42.15 48.94,42.25 49.21,42.36 49.47,42.46 49.74,42.57 50.01,42.68 50.27,42.8 50.54,42.91 50.8,43.03 51.07,43.16 51.33,43.28 51.6,43.41 51.87,43.54 52.13,43.68 52.4,43.82 52.66,43.96 52.93,44.1 53.19,44.24 53.46,44.39 53.73,44.54 53.99,44.68 54.26,44.84 54.52,44.99 54.79,45.14 55.05,45.3 55.32,45.45 55.58,45.61 55.85,45.77 56.12,45.93 56.38,46.09 56.65,46.25 56.91,46.41 57.18,46.58 57.44,46.74 57.71,46.9 57.98,47.06 58.24,47.23 58.51,47.39 58.77,47.55 59.04,47.71 59.3,47.87 59.57,48.04 59.84,48.2 60.1,48.36 60.37,48.52 60.63,48.67 60.9,48.83 61.16,48.99 61.43,49.15 61.7,49.31 61.96,49.47 62.23,49.63 62.49,49.79 62.76,49.95 63.02,50.11 63.29,50.27 63.56,50.43 63.82,50.6 64.09,50.76 64.35,50.92 64.62,51.09 64.88,51.25 65.15,51.42 65.42,51.59 65.68,51.75 65.95,51.92 66.21,52.09 66.48,52.27 66.74,52.44 67.01,52.61 67.28,52.79 67.54,52.97 67.81,53.14 68.07,53.32 68.34,53.51 68.6,53.7 68.87,53.89 69.14,54.08 69.4,54.27 69.67,54.47 69.93,54.67 70.2,54.87 70.46,55.07 70.73,55.27 71,55.47 71.26,55.67 71.53,55.88 71.79,56.08 72.06,56.28 72.32,56.49 72.59,56.69 72.86,56.89 73.12,57.09 73.39,57.29 73.65,57.48 73.92,57.68 74.18,57.87 74.45,58.07 74.72,58.26" fill="none" stroke="#f2c3c3" stroke-width="5.3" stroke-linejoin="round" stroke-linecap="round" />
<rect x="72.2" y="65.9" width="3.2" height="3.2" fill="#f0b8b8"/>
<rect x="72.2" y="94.3" width="3.2" height="3.2" fill="#f0b8b8"/>
<polyline points="42.57,15.71 43.36,15.71 44.16,15.99 44.96,15.87 45.75,15.64 46.55,16.05 47.35,15.56 48.15,15.98 48.94,15.76 49.74,15.33 50.54,16.04 51.33,16.08 52.13,15.76 52.93,15.96 53.73,15.53 54.52,16.11 55.32,15.43 56.12,15.42 56.91,15.48 57.71,15.77 58.51,15.89 59.3,15.58 60.1,15.7 60.9,15.77 61.7,15.84 62.49,15.76 63.29,15.58 64.09,15.45 64.88,15.38 65.68,15.98 66.48,15.88 67.28,15.76 68.07,15.66 68.87,15.83 69.67,15.96 70.46,16.05 71.26,15.85 72.06,15.74 72.86,15.33 73.65,15.38 74.45,15.41 75.25,15.33 76.04,15.34 76.84,15.61 77.64,15.46 78.44,16.07 79.23,15.57 80.03,15.62 80.83,15.87 81.62,15.65 82.42,15.34 83.22,15.73 84.01,15.59 84.81,15.87 85.61,15.84 86.41,15.4 87.2,16.09 88,15.96 88.8,15.57 89.59,15.75 90.39,16.05 91.19,15.58 91.99,15.81 92.78,15.65 93.58,15.78 94.38,15.69 95.17,15.66 95.97,15.79 96.77,16.02 97.57,15.97 98.36,15.4 99.16,15.67 99.96,16.02 100.75,15.42 101.55,15.91 102.35,16.04 103.15,15.69 103.94,15.91 104.74,15.72 105.54,15.67 106.33,15.93 107.13,15.65 107.93,16.02 108.72,15.7 109.52,15.64 110.32,16.05 111.12,15.78 111.91,16.06 112.71,15.76 113.51,15.42 114.3,15.67 115.1,15.54 115.9,15.5 116.7,16.02 117.49,15.31 118.29,15.53 119.09,16.03 119.88,15.44 120.68,15.8 121.48,15.98 122.28,15.34 123.07,15.66 123.87,15.49 124.67,16 125.46,15.49 126.26,16.07 127.06,15.92 127.86,15.81 128.65,16.1 129.45,15.63 130.25,15.94 131.04,15.87 131.84,15.54 132.64,15.77 133.44,15.4 134.23,15.61 135.03,15.41 135.83,15.66 136.62,15.37 137.42,15.41 138.22,15.98 139.01,15.51 139.81,15.84 140.61,15.5 141.41,15.56 142.2,15.45 143,16.02 143.8,15.81 144.59,15.52 145.39,15.35 146.19,15.53 146.99,16.08 147.78,15.63 148.58,16.03 149.38,15.67 150.17,15.47 150.97,16.02 151.77,15.37 152.57,15.57 153.36,15.91 154.16,15.96 154.96,15.75 155.75,15.44 156.55,15.64 157.35,16.02 158.15,16.1 158.94,16.03 159.74,15.47 160.54,15.96 161.33,15.67 162.13,15.88 162.93,15.56 163.72,15.81 164.52,16 165.32,15.41 166.12,15.68 166.91,15.56 167.71,15.46 168.51,15.35 169.3,16.1 170.1,15.84 170.9,15.99 171.7,15.71 172.49,15.41 173.29,15.47 174.09,16.09 174.88,15.97 175.68,15.45 176.48,15.57 177.28,15.8 178.07,15.73 178.87,15.99 179.67,15.43 180.46,15.8 181.26,15.41 182.06,15.62 182.86,16.05 183.65,15.85 184.45,15.94 185.25,15.39 186.04,15.64 186.84,16.08 187.64,15.98 188.44,15.82 189.23,15.74 190.03,15.65 190.83,15.8 191.62,15.83 192.42,16.11 193.22,15.65 194.01,15.84 194.81,16.1 195.61,15.74 196.41,15.32 197.2,16.08 198,16 198.8,15.57 199.59,15.89 200.39,15.89 201.19,15.71 201.99,15.9 202.78,15.65 203.58,15.69 204.38,15.34 205.17,15.31 205.97,16.09 206.77,15.66 207.57,15.49 208.36,15.41 209.16,15.49 209.96,15.6 210.75,15.6 211.55,15.82 212.35,15.89 213.15,15.47 213.94,15.41 214.74,15.36 215.54,15.56 216.33,15.87 217.13,15.5 217.93,15.52 218.72,15.7 219.52,15.6 220.32,15.83 221.12,15.67 221.91,15.79 222.71,16.07 223.51,15.84 224.3,15.85 225.1,15.32 225.9,15.73 226.7,15.82 227.49,15.92 228.29,15.92 229.09,15.83 229.88,16 230.68,16.11 231.48,15.41 232.28,15.75 233.07,15.75 233.87,15.65 234.67,15.87 235.46,15.98 236.26,16.06 237.06,15.87 237.86,15.87 238.65,15.53 239.45,15.67 240.25,15.36 241.04,15.84 241.84,15.37 242.64,15.64 243.43,16.05 244.23,15.97 245.03,15.65 245.83,15.32 246.62,15.83 247.42,15.49 248.22,15.77 249.01,15.41 249.81,16.06 250.61,15.72 251.41,15.39 252.2,15.89 253,15.91 253.8,16.1 254.59,15.98 255.39,15.9 256.19,15.55 256.99,15.94 257.78,15.79 258.58,15.95 259.38,15.63 260.17,15.42 260.97,15.59 261.77,15.96 262.57,15.52 263.36,15.34 264.16,15.63 264.96,16.05 265.75,15.46 266.55,15.41 267.35,15.84 268.14,16 268.94,15.96 269.74,15.68 270.54,15.41 271.33,15.6 272.13,15.37 272.93,15.94 273.72,15.85 274.52,15.51 275.32,15.59 276.12,15.79 276.91,15.57 277.71,15.84 278.51,16.07 279.3,15.78 280.1,16.08 280.9,15.61 281.7,15.84 282.49,15.71 283.29,15.63 284.09,15.91 284.88,15.74 285.68,16.1 286.48,15.37 287.28,15.66 288.07,15.32 288.87,16.07 289.67,15.62 290.46,15.53 291.26,15.85 292.06,16.04 292.86,15.99 293.65,16 294.45,15.49 295.25,16.04 296.04,15.46 296.84,15.77 297.64,15.68 298.43,15.64 299.23,15.67 300.03,15.58 300.83,15.63 301.62,15.85 302.42,15.52 303.22,15.91 304.01,15.54 304.81,15.5 305.61,15.49 306.41,15.86 307.2,15.49 308,15.32" fill="none" stroke="#d9849b" stroke-width="4.2" stroke-linejoin="round" stroke-linecap="round" />
<circle cx="42.9" cy="31.5" r="1.6" fill="#f2a8a8"/>
<line x1="42.3" y1="6.75" x2="308" y2="6.75" stroke="#555" stroke-width="1.2" />
<line x1="308" y1="6.75" x2="308" y2="104.3" stroke="#777" stroke-width="1.3" />
<line x1="42.3" y1="104.3" x2="308" y2="104.3" stroke="#333" stroke-width="1.1" />
<line x1="42.3" y1="6.75" x2="42.3" y2="104.8" stroke="#7a4a5e" stroke-width="1.3" />
<line x1="40.3" y1="104.3" x2="42.3" y2="104.3" stroke="#7a4a5e" stroke-width="1" />
<line x1="39.3" y1="92.12" x2="42.3" y2="92.12" stroke="#7a4a5e" stroke-width="1" />
<line x1="40.3" y1="79.94" x2="42.3" y2="79.94" stroke="#7a4a5e" stroke-width="1" />
<line x1="39.3" y1="67.76" x2="42.3" y2="67.76" stroke="#7a4a5e" stroke-width="1" />
<line x1="40.3" y1="55.58" x2="42.3" y2="55.58" stroke="#7a4a5e" stroke-width="1" />
<line x1="39.3" y1="43.4" x2="42.3" y2="43.4" stroke="#7a4a5e" stroke-width="1" />
<line x1="40.3" y1="31.22" x2="42.3" y2="31.22" stroke="#7a4a5e" stroke-width="1" />
<line x1="39.3" y1="19.04" x2="42.3" y2="19.04" stroke="#7a4a5e" stroke-width="1" />
<line x1="40.3" y1="6.86" x2="42.3" y2="6.86" stroke="#7a4a5e" stroke-width="1" />
<text x="36.3" y="94.62" font-size="9.5" text-anchor="end" fill="#222" >0</text>
<text x="36.3" y="70.26" font-size="9.5" text-anchor="end" fill="#222" >100</text>
<text x="36.3" y="45.9" font-size="9.5" text-anchor="end" fill="#222" >200</text>
<text x="36.3" y="21.54" font-size="9.5" text-anchor="end" fill="#222" >300</text>
<line x1="42.3" y1="104.3" x2="42.3" y2="107.3" stroke="#333" stroke-width="1" />
<line x1="68.87" y1="104.3" x2="68.87" y2="106.1" stroke="#333" stroke-width="1" />
<line x1="95.44" y1="104.3" x2="95.44" y2="107.3" stroke="#333" stroke-width="1" />
<line x1="122.01" y1="104.3" x2="122.01" y2="106.1" stroke="#333" stroke-width="1" />
<line x1="148.58" y1="104.3" x2="148.58" y2="107.3" stroke="#333" stroke-width="1" />
<line x1="175.15" y1="104.3" x2="175.15" y2="106.1" stroke="#333" stroke-width="1" />
<line x1="201.72" y1="104.3" x2="201.72" y2="107.3" stroke="#333" stroke-width="1" />
<line x1="228.29" y1="104.3" x2="228.29" y2="106.1" stroke="#333" stroke-width="1" />
<line x1="254.86" y1="104.3" x2="254.86" y2="107.3" stroke="#333" stroke-width="1" />
<line x1="281.43" y1="104.3" x2="281.43" y2="106.1" stroke="#333" stroke-width="1" />
<line x1="308" y1="104.3" x2="308" y2="107.3" stroke="#333" stroke-width="1" />
<text x="42.3" y="117.2" font-size="9.5" text-anchor="middle" fill="#222" >0</text>
<text x="95.44" y="117.2" font-size="9.5" text-anchor="middle" fill="#222" >200</text>
<text x="148.58" y="117.2" font-size="9.5" text-anchor="middle" fill="#222" >400</text>
<text x="201.72" y="117.2" font-size="9.5" text-anchor="middle" fill="#222" >600</text>
<text x="254.86" y="117.2" font-size="9.5" text-anchor="middle" fill="#222" >800</text>
<text x="308" y="117.2" font-size="9.5" text-anchor="middle" fill="#222" >1000</text>
<line x1="308" y1="96.22" x2="311" y2="96.22" stroke="#777" stroke-width="1" />
<line x1="308" y1="88.13" x2="309.8" y2="88.13" stroke="#777" stroke-width="1" />
<line x1="308" y1="80.05" x2="311" y2="80.05" stroke="#777" stroke-width="1" />
<line x1="308" y1="71.97" x2="309.8" y2="71.97" stroke="#777" stroke-width="1" />
<line x1="308" y1="63.88" x2="311" y2="63.88" stroke="#777" stroke-width="1" />
<line x1="308" y1="55.8" x2="309.8" y2="55.8" stroke="#777" stroke-width="1" />
<line x1="308" y1="47.72" x2="311" y2="47.72" stroke="#777" stroke-width="1" />
<line x1="308" y1="39.64" x2="309.8" y2="39.64" stroke="#777" stroke-width="1" />
<line x1="308" y1="31.55" x2="311" y2="31.55" stroke="#777" stroke-width="1" />
<line x1="308" y1="23.47" x2="309.8" y2="23.47" stroke="#777" stroke-width="1" />
<line x1="308" y1="15.39" x2="311" y2="15.39" stroke="#777" stroke-width="1" />
<text x="314.3" y="98.72" font-size="9.5" text-anchor="start" fill="#222" >0</text>
<text x="314.3" y="82.55" font-size="9.5" text-anchor="start" fill="#222" >20</text>
<text x="314.3" y="66.38" font-size="9.5" text-anchor="start" fill="#222" >40</text>
<text x="314.3" y="50.22" font-size="9.5" text-anchor="start" fill="#222" >60</text>
<text x="314.3" y="34.05" font-size="9.5" text-anchor="start" fill="#222" >80</text>
<text x="314.3" y="17.89" font-size="9.5" text-anchor="start" fill="#222" >100</text>
<text x="175" y="127.2" font-size="9.5" text-anchor="middle" fill="#222" >Cycle number</text>
<text transform="translate(15.9,54.2) rotate(-90)" font-size="9.7" text-anchor="middle" fill="#222">Capacity (mAh g<tspan font-size="6" dy="-3.4">-1</tspan><tspan dy="3.4">)</tspan></text>
<text transform="translate(339.5,61) rotate(-90)" font-size="9.7" text-anchor="middle" fill="#222">CE (%)</text>
<text x="9.9" y="9.9" font-size="10.2" text-anchor="start" fill="#222" >a</text>
<line x1="95.5" y1="7" x2="95.5" y2="104.3" stroke="#222" stroke-width="1.1" stroke-dasharray="4.1,3.05" stroke-dashoffset="3.5"/>
<text x="104.4" y="39.6" font-size="9.5" text-anchor="start" fill="#222" >177.0 mAh g</text>
<text x="158.9" y="36.0" font-size="5.9" fill="#222">-1</text>
<line x1="159.2" y1="37" x2="164" y2="37" stroke="#999" stroke-width="0.6" />
<line x1="104.2" y1="41.5" x2="158.5" y2="41.5" stroke="#222" stroke-width="0.8" />
<line x1="104.2" y1="41.5" x2="97.5" y2="47" stroke="#111" stroke-width="0.8" />
<polygon points="95.8,48.4 97.23,45.44 98.97,47.51" fill="#111"/>
<text x="238.8" y="41.6" font-size="9.5" text-anchor="start" fill="#222" >151.2 mAh g</text>
<text x="293.8" y="38.9" font-size="5.9" fill="#222">-1</text>
<line x1="238.6" y1="43.5" x2="292.7" y2="43.5" stroke="#222" stroke-width="0.8" />
<line x1="294" y1="39.8" x2="299" y2="39.8" stroke="#555" stroke-width="0.6" />
<line x1="295.3" y1="41.8" x2="305.6" y2="53.3" stroke="#111" stroke-width="0.8" />
<polygon points="307.5,55.3 304.49,53.97 306.5,52.17" fill="#111"/>
<text x="99.6" y="100.1" font-size="9.5" text-anchor="start" fill="#222" >2.7-4.8 V</text>
<line x1="99.4" y1="101.6" x2="138.6" y2="101.6" stroke="#222" stroke-width="0.8" />
<polyline points="68,61.3 68,67.6 46.5,67.6" fill="none" stroke="#333" stroke-width="0.9" stroke-linejoin="round" stroke-linecap="round" />
<polygon points="44.3,67.6 47.3,66.25 47.3,68.95" fill="#111"/>
<polyline points="273.5,18.9 273.5,25.8 303,25.8" fill="none" stroke="#333" stroke-width="0.9" stroke-linejoin="round" stroke-linecap="round" />
<polygon points="305.8,25.8 302.8,27.15 302.8,24.45" fill="#111"/>
<line x1="194.2" y1="68.3" x2="215.1" y2="68.3" stroke="#d9849b" stroke-width="1" opacity="0.6"/>
<circle cx="204.7" cy="68.3" r="2.2" fill="#d9849b"/>
<text x="218.7" y="71.6" font-size="9.6" text-anchor="start" fill="#222" >Ct/cc-0.82</text>
<line x1="194.2" y1="79.7" x2="215.1" y2="79.7" stroke="#f2c3c3" stroke-width="1" opacity="0.6"/>
<rect x="202.7" y="77.7" width="4.0" height="4.0" fill="#f2c3c3"/>
<text x="218.7" y="83" font-size="9.6" text-anchor="start" fill="#222" >Ct/cc-0.59</text>
<line x1="194.2" y1="91" x2="215.1" y2="91" stroke="#a9cbe6" stroke-width="1" opacity="0.6"/>
<circle cx="204.7" cy="91" r="2.2" fill="#a9cbe6"/>
<text x="218.7" y="94.3" font-size="9.6" text-anchor="start" fill="#222">1 M LiFP<tspan font-size="5.95" dy="2.7">6</tspan><tspan dy="-2.7">-EC/DEC</tspan></text>
<polyline points="390.13,55.92 390.91,55.7 391.69,55.47 392.47,55.27 393.25,55.13 394.03,55 394.81,54.87 395.59,54.75 396.37,54.63 397.15,54.51 397.93,54.39 398.71,54.27 399.49,54.15 400.27,54.03 401.05,53.91 401.83,53.8 402.61,53.68 403.39,53.56 404.17,53.45 404.95,53.33 405.73,53.21 406.51,53.09 407.29,52.97 408.07,52.85 408.85,52.73 409.63,52.61 410.41,52.48 411.19,52.36 411.97,52.23 412.75,52.1 413.53,51.97 414.31,51.84 415.09,51.7 415.87,51.57 416.65,51.42 417.43,51.27 418.21,51.12 418.99,50.96 419.77,50.8 420.55,50.64 421.33,50.47 422.11,50.3 422.89,50.14 423.67,49.97 424.45,49.8 425.23,49.64 426.01,49.48 426.79,49.32 427.57,49.16 428.35,49 429.13,48.84 429.91,48.68 430.69,48.52 431.47,48.35 432.25,48.18 433.03,48 433.81,47.81 434.59,47.62 435.37,47.42 436.15,47.21 436.93,46.99 437.71,46.77 438.49,46.54 439.26,46.31 440.04,46.07 440.82,45.83 441.6,45.58 442.38,45.32 443.16,45.06 443.94,44.8 444.72,44.52 445.5,44.25 446.28,43.97 447.06,43.69 447.84,43.42 448.62,43.14 449.4,42.85 450.18,42.56 450.96,42.26 451.74,41.95 452.52,41.62 453.3,41.28 454.08,40.92 454.86,40.53 455.64,40.12 456.42,39.69 457.2,39.25 457.98,38.8 458.76,38.33 459.54,37.85 460.32,37.35 461.1,36.83 461.88,36.29 462.66,35.74 463.44,35.17 464.22,34.57 465,33.95 465.78,33.32 466.56,32.62 467.34,31.82 468.12,30.93 468.9,30 469.68,29.05 470.46,28.11 471.24,27.21 472.02,26.38 472.8,25.62 473.58,24.91 474.36,24.24 475.14,23.58 475.92,22.92 476.7,22.24 477.48,21.53 478.26,20.77 479.04,19.96 479.82,19.13 480.6,18.25 481.38,17.35 482.16,16.45 482.94,15.54 483.72,14.65" fill="none" stroke="#9b2d4f" stroke-width="0.85" stroke-linejoin="round" stroke-linecap="round" />
<polyline points="390.13,41.45 390.91,41.79 391.69,42.14 392.47,42.44 393.25,42.64 394.03,42.82 394.81,42.99 395.59,43.15 396.36,43.3 397.14,43.45 397.92,43.59 398.7,43.73 399.48,43.87 400.26,44.01 401.04,44.16 401.82,44.3 402.59,44.45 403.37,44.61 404.15,44.77 404.93,44.94 405.71,45.12 406.49,45.32 407.27,45.52 408.04,45.74 408.82,45.99 409.6,46.25 410.38,46.54 411.16,46.84 411.94,47.15 412.72,47.47 413.5,47.8 414.27,48.14 415.05,48.47 415.83,48.8 416.61,49.13 417.39,49.44 418.17,49.74 418.95,50.02 419.72,50.29 420.5,50.54 421.28,50.78 422.06,51.02 422.84,51.25 423.62,51.49 424.4,51.72 425.18,51.95 425.95,52.18 426.73,52.4 427.51,52.63 428.29,52.85 429.07,53.06 429.85,53.28 430.63,53.49 431.41,53.7 432.18,53.91 432.96,54.11 433.74,54.31 434.52,54.51 435.3,54.71 436.08,54.9 436.86,55.09 437.63,55.28 438.41,55.47 439.19,55.65 439.97,55.83 440.75,56.01 441.53,56.18 442.31,56.35 443.09,56.51 443.86,56.66 444.64,56.81 445.42,56.95 446.2,57.1 446.98,57.23 447.76,57.37 448.54,57.5 449.31,57.63 450.09,57.76 450.87,57.89 451.65,58.02 452.43,58.14 453.21,58.27 453.99,58.4 454.77,58.53 455.54,58.66 456.32,58.79 457.1,58.93 457.88,59.07 458.66,59.21 459.44,59.36 460.22,59.51 460.99,59.66 461.77,59.82 462.55,59.96 463.33,60.1 464.11,60.23 464.89,60.36 465.67,60.51 466.45,60.66 467.22,60.84 468,61.03 468.78,61.26 469.56,61.52 470.34,61.81 471.12,62.15 471.9,62.55 472.68,63.03 473.45,63.61 474.23,64.28 475.01,65.05 475.79,65.92 476.57,66.89 477.35,67.97 478.13,69.27 478.9,70.87 479.68,72.79 480.46,75.09 481.24,78.17 482.02,82.03 482.8,86.78 483.58,92.83" fill="none" stroke="#9b2d4f" stroke-width="0.85" stroke-linejoin="round" stroke-linecap="round" />
<polyline points="390.13,55.72 390.89,55.5 391.64,55.28 392.39,55.08 393.14,54.93 393.89,54.78 394.64,54.63 395.39,54.49 396.14,54.34 396.89,54.2 397.64,54.06 398.39,53.91 399.14,53.77 399.89,53.63 400.64,53.48 401.39,53.34 402.14,53.19 402.89,53.04 403.64,52.89 404.39,52.73 405.14,52.58 405.9,52.42 406.65,52.27 407.4,52.11 408.15,51.95 408.9,51.78 409.65,51.62 410.4,51.46 411.15,51.29 411.9,51.12 412.65,50.95 413.4,50.79 414.15,50.62 414.9,50.44 415.65,50.27 416.4,50.09 417.15,49.91 417.9,49.73 418.65,49.54 419.4,49.36 420.15,49.17 420.9,48.98 421.66,48.79 422.41,48.6 423.16,48.41 423.91,48.22 424.66,48.03 425.41,47.85 426.16,47.66 426.91,47.47 427.66,47.28 428.41,47.08 429.16,46.88 429.91,46.68 430.66,46.47 431.41,46.26 432.16,46.04 432.91,45.81 433.66,45.58 434.41,45.34 435.16,45.09 435.91,44.84 436.66,44.59 437.42,44.33 438.17,44.07 438.92,43.8 439.67,43.53 440.42,43.25 441.17,42.98 441.92,42.69 442.67,42.41 443.42,42.12 444.17,41.83 444.92,41.54 445.67,41.25 446.42,40.96 447.17,40.66 447.92,40.36 448.67,40.05 449.42,39.73 450.17,39.4 450.92,39.06 451.67,38.7 452.43,38.32 453.18,37.92 453.93,37.51 454.68,37.09 455.43,36.66 456.18,36.22 456.93,35.76 457.68,35.3 458.43,34.82 459.18,34.32 459.93,33.81 460.68,33.29 461.43,32.75 462.18,32.19 462.93,31.62 463.68,31 464.43,30.31 465.18,29.55 465.93,28.77 466.68,27.96 467.43,27.17 468.19,26.4 468.94,25.69 469.69,25.02 470.44,24.39 471.19,23.78 471.94,23.17 472.69,22.56 473.44,21.94 474.19,21.28 474.94,20.59 475.69,19.86 476.44,19.09 477.19,18.27 477.94,17.38 478.69,16.47 479.44,15.54 480.19,14.65" fill="none" stroke="#c9506f" stroke-width="0.85" stroke-linejoin="round" stroke-linecap="round" />
<polyline points="390.13,42.11 390.88,42.45 391.63,42.8 392.38,43.11 393.13,43.32 393.88,43.5 394.63,43.67 395.38,43.82 396.13,43.97 396.88,44.12 397.63,44.26 398.38,44.39 399.13,44.53 399.88,44.67 400.63,44.81 401.37,44.95 402.12,45.1 402.87,45.25 403.62,45.41 404.37,45.57 405.12,45.75 405.87,45.93 406.62,46.13 407.37,46.34 408.12,46.57 408.87,46.82 409.62,47.1 410.37,47.38 411.12,47.68 411.87,47.99 412.61,48.3 413.36,48.62 414.11,48.93 414.86,49.25 415.61,49.56 416.36,49.85 417.11,50.14 417.86,50.41 418.61,50.67 419.36,50.91 420.11,51.14 420.86,51.37 421.61,51.6 422.36,51.83 423.11,52.06 423.85,52.28 424.6,52.5 425.35,52.72 426.1,52.94 426.85,53.15 427.6,53.37 428.35,53.58 429.1,53.79 429.85,54 430.6,54.2 431.35,54.4 432.1,54.6 432.85,54.8 433.6,54.99 434.35,55.19 435.09,55.38 435.84,55.57 436.59,55.75 437.34,55.93 438.09,56.11 438.84,56.29 439.59,56.47 440.34,56.63 441.09,56.79 441.84,56.95 442.59,57.1 443.34,57.25 444.09,57.4 444.84,57.54 445.59,57.68 446.33,57.81 447.08,57.95 447.83,58.08 448.58,58.22 449.33,58.35 450.08,58.48 450.83,58.62 451.58,58.75 452.33,58.89 453.08,59.03 453.83,59.17 454.58,59.31 455.33,59.46 456.08,59.61 456.82,59.77 457.57,59.93 458.32,60.1 459.07,60.26 459.82,60.42 460.57,60.57 461.32,60.72 462.07,60.87 462.82,61.03 463.57,61.21 464.32,61.4 465.07,61.61 465.82,61.86 466.57,62.13 467.32,62.45 468.06,62.8 468.81,63.21 469.56,63.71 470.31,64.29 471.06,64.97 471.81,65.74 472.56,66.61 473.31,67.58 474.06,68.65 474.81,69.95 475.56,71.52 476.31,73.41 477.06,75.66 477.81,78.66 478.56,82.39 479.3,86.99 480.05,92.81" fill="none" stroke="#c9506f" stroke-width="0.85" stroke-linejoin="round" stroke-linecap="round" />
<polyline points="390.13,55.56 390.85,55.35 391.57,55.13 392.29,54.93 393.01,54.76 393.73,54.6 394.45,54.44 395.16,54.27 395.88,54.11 396.6,53.95 397.32,53.79 398.04,53.63 398.76,53.46 399.47,53.3 400.19,53.13 400.91,52.96 401.63,52.79 402.35,52.61 403.07,52.43 403.79,52.25 404.5,52.07 405.22,51.88 405.94,51.69 406.66,51.5 407.38,51.31 408.1,51.12 408.81,50.92 409.53,50.72 410.25,50.53 410.97,50.33 411.69,50.13 412.41,49.93 413.12,49.73 413.84,49.53 414.56,49.33 415.28,49.13 416,48.93 416.72,48.73 417.44,48.52 418.15,48.32 418.87,48.11 419.59,47.91 420.31,47.7 421.03,47.49 421.75,47.28 422.46,47.07 423.18,46.86 423.9,46.65 424.62,46.44 425.34,46.22 426.06,46 426.77,45.78 427.49,45.55 428.21,45.32 428.93,45.08 429.65,44.84 430.37,44.59 431.09,44.34 431.8,44.08 432.52,43.81 433.24,43.55 433.96,43.27 434.68,43 435.4,42.72 436.11,42.44 436.83,42.15 437.55,41.86 438.27,41.57 438.99,41.28 439.71,40.99 440.42,40.69 441.14,40.39 441.86,40.09 442.58,39.79 443.3,39.49 444.02,39.19 444.74,38.88 445.45,38.57 446.17,38.25 446.89,37.93 447.61,37.59 448.33,37.25 449.05,36.89 449.76,36.52 450.48,36.14 451.2,35.74 451.92,35.34 452.64,34.92 453.36,34.5 454.07,34.07 454.79,33.63 455.51,33.18 456.23,32.72 456.95,32.25 457.67,31.76 458.39,31.27 459.1,30.76 459.82,30.23 460.54,29.68 461.26,29.08 461.98,28.43 462.7,27.76 463.41,27.08 464.13,26.41 464.85,25.75 465.57,25.13 466.29,24.54 467.01,23.96 467.72,23.4 468.44,22.84 469.16,22.27 469.88,21.69 470.6,21.08 471.32,20.44 472.04,19.77 472.75,19.07 473.47,18.28 474.19,17.41 474.91,16.48 475.63,15.55 476.35,14.65" fill="none" stroke="#de87a0" stroke-width="0.85" stroke-linejoin="round" stroke-linecap="round" />
<polyline points="390.13,42.76 390.85,43.11 391.57,43.48 392.29,43.8 393,44.03 393.72,44.22 394.44,44.41 395.16,44.58 395.87,44.75 396.59,44.92 397.31,45.08 398.02,45.25 398.74,45.41 399.46,45.58 400.18,45.76 400.89,45.93 401.61,46.12 402.33,46.31 403.05,46.5 403.76,46.7 404.48,46.92 405.2,47.14 405.91,47.37 406.63,47.61 407.35,47.86 408.07,48.14 408.78,48.42 409.5,48.72 410.22,49.02 410.94,49.33 411.65,49.64 412.37,49.95 413.09,50.26 413.8,50.56 414.52,50.85 415.24,51.13 415.96,51.4 416.67,51.66 417.39,51.89 418.11,52.11 418.83,52.33 419.54,52.54 420.26,52.75 420.98,52.96 421.69,53.16 422.41,53.37 423.13,53.57 423.85,53.77 424.56,53.97 425.28,54.17 426,54.37 426.72,54.57 427.43,54.77 428.15,54.97 428.87,55.16 429.58,55.36 430.3,55.55 431.02,55.75 431.74,55.94 432.45,56.13 433.17,56.31 433.89,56.5 434.61,56.69 435.32,56.87 436.04,57.05 436.76,57.23 437.47,57.41 438.19,57.58 438.91,57.75 439.63,57.92 440.34,58.08 441.06,58.24 441.78,58.39 442.5,58.54 443.21,58.7 443.93,58.85 444.65,59 445.36,59.15 446.08,59.3 446.8,59.45 447.52,59.6 448.23,59.76 448.95,59.92 449.67,60.08 450.39,60.24 451.1,60.41 451.82,60.58 452.54,60.76 453.25,60.94 453.97,61.13 454.69,61.33 455.41,61.53 456.12,61.74 456.84,61.94 457.56,62.14 458.28,62.34 458.99,62.55 459.71,62.77 460.43,63.01 461.14,63.26 461.86,63.54 462.58,63.84 463.3,64.17 464.01,64.54 464.73,64.95 465.45,65.41 466.17,65.94 466.88,66.55 467.6,67.25 468.32,68.03 469.03,68.91 469.75,69.87 470.47,70.93 471.19,72.18 471.9,73.69 472.62,75.47 473.34,77.57 474.06,80.27 474.77,83.6 475.49,87.69 476.21,92.74" fill="none" stroke="#de87a0" stroke-width="0.85" stroke-linejoin="round" stroke-linecap="round" />
<polyline points="390.13,55.42 390.82,55.22 391.5,55.01 392.18,54.81 392.86,54.63 393.54,54.45 394.23,54.28 394.91,54.1 395.59,53.92 396.27,53.75 396.95,53.57 397.63,53.39 398.32,53.21 399,53.03 399.68,52.84 400.36,52.65 401.04,52.46 401.72,52.26 402.41,52.06 403.09,51.85 403.77,51.65 404.45,51.43 405.13,51.22 405.81,51 406.5,50.78 407.18,50.56 407.86,50.34 408.54,50.12 409.22,49.9 409.91,49.67 410.59,49.45 411.27,49.23 411.95,49 412.63,48.78 413.31,48.56 414,48.34 414.68,48.12 415.36,47.9 416.04,47.68 416.72,47.46 417.4,47.24 418.09,47.02 418.77,46.8 419.45,46.58 420.13,46.35 420.81,46.13 421.49,45.9 422.18,45.67 422.86,45.43 423.54,45.2 424.22,44.96 424.9,44.71 425.59,44.46 426.27,44.2 426.95,43.94 427.63,43.67 428.31,43.4 428.99,43.13 429.68,42.84 430.36,42.56 431.04,42.27 431.72,41.98 432.4,41.69 433.08,41.39 433.77,41.09 434.45,40.79 435.13,40.49 435.81,40.19 436.49,39.88 437.17,39.58 437.86,39.27 438.54,38.96 439.22,38.66 439.9,38.35 440.58,38.04 441.26,37.73 441.95,37.41 442.63,37.09 443.31,36.77 443.99,36.44 444.67,36.1 445.36,35.76 446.04,35.4 446.72,35.04 447.4,34.66 448.08,34.28 448.76,33.89 449.45,33.49 450.13,33.09 450.81,32.68 451.49,32.26 452.17,31.83 452.85,31.4 453.54,30.95 454.22,30.5 454.9,30.04 455.58,29.57 456.26,29.1 456.94,28.6 457.63,28.07 458.31,27.51 458.99,26.94 459.67,26.36 460.35,25.78 461.04,25.21 461.72,24.67 462.4,24.13 463.08,23.61 463.76,23.09 464.44,22.57 465.13,22.04 465.81,21.49 466.49,20.92 467.17,20.32 467.85,19.7 468.53,19.05 469.22,18.29 469.9,17.43 470.58,16.5 471.26,15.55 471.94,14.65" fill="none" stroke="#edb3c0" stroke-width="0.85" stroke-linejoin="round" stroke-linecap="round" />
<polyline points="390.13,43.41 390.82,43.77 391.5,44.16 392.18,44.5 392.86,44.75 393.54,44.97 394.22,45.18 394.9,45.38 395.58,45.58 396.26,45.78 396.94,45.98 397.62,46.18 398.3,46.39 398.98,46.61 399.66,46.83 400.34,47.06 401.02,47.3 401.7,47.54 402.39,47.79 403.07,48.05 403.75,48.32 404.43,48.59 405.11,48.87 405.79,49.16 406.47,49.46 407.15,49.76 407.83,50.08 408.51,50.4 409.19,50.72 409.87,51.04 410.55,51.35 411.23,51.66 411.91,51.96 412.59,52.24 413.27,52.52 413.96,52.78 414.64,53.03 415.32,53.27 416,53.48 416.68,53.68 417.36,53.88 418.04,54.06 418.72,54.24 419.4,54.42 420.08,54.6 420.76,54.78 421.44,54.96 422.12,55.13 422.8,55.31 423.48,55.5 424.16,55.68 424.84,55.86 425.52,56.05 426.21,56.23 426.89,56.42 427.57,56.6 428.25,56.79 428.93,56.98 429.61,57.16 430.29,57.35 430.97,57.53 431.65,57.72 432.33,57.9 433.01,58.09 433.69,58.27 434.37,58.46 435.05,58.64 435.73,58.82 436.41,59 437.09,59.17 437.78,59.34 438.46,59.51 439.14,59.68 439.82,59.85 440.5,60.02 441.18,60.19 441.86,60.36 442.54,60.53 443.22,60.7 443.9,60.88 444.58,61.06 445.26,61.24 445.94,61.43 446.62,61.62 447.3,61.82 447.98,62.02 448.66,62.23 449.34,62.45 450.03,62.67 450.71,62.9 451.39,63.14 452.07,63.39 452.75,63.65 453.43,63.91 454.11,64.18 454.79,64.45 455.47,64.73 456.15,65.03 456.83,65.34 457.51,65.68 458.19,66.03 458.87,66.42 459.55,66.83 460.23,67.27 460.91,67.75 461.6,68.27 462.28,68.85 462.96,69.49 463.64,70.21 464.32,71.01 465,71.89 465.68,72.84 466.36,73.89 467.04,75.09 467.72,76.49 468.4,78.14 469.08,80.04 469.76,82.37 470.44,85.18 471.12,88.59 471.8,92.64" fill="none" stroke="#edb3c0" stroke-width="0.85" stroke-linejoin="round" stroke-linecap="round" />
<polyline points="390.13,55.27 390.78,55.06 391.43,54.86 392.08,54.66 392.73,54.47 393.38,54.28 394.03,54.09 394.68,53.9 395.33,53.7 395.98,53.51 396.62,53.31 397.27,53.12 397.92,52.92 398.57,52.71 399.22,52.5 399.87,52.29 400.52,52.07 401.17,51.85 401.82,51.62 402.46,51.39 403.11,51.15 403.76,50.91 404.41,50.67 405.06,50.42 405.71,50.17 406.36,49.92 407.01,49.67 407.66,49.42 408.3,49.16 408.95,48.91 409.6,48.66 410.25,48.41 410.9,48.16 411.55,47.91 412.2,47.66 412.85,47.42 413.5,47.18 414.14,46.94 414.79,46.7 415.44,46.46 416.09,46.23 416.74,45.99 417.39,45.75 418.04,45.51 418.69,45.27 419.34,45.02 419.98,44.77 420.63,44.52 421.28,44.26 421.93,44 422.58,43.73 423.23,43.46 423.88,43.18 424.53,42.89 425.18,42.61 425.82,42.31 426.47,42.01 427.12,41.71 427.77,41.41 428.42,41.1 429.07,40.79 429.72,40.47 430.37,40.16 431.02,39.84 431.66,39.53 432.31,39.21 432.96,38.89 433.61,38.57 434.26,38.25 434.91,37.94 435.56,37.62 436.21,37.3 436.86,36.99 437.5,36.67 438.15,36.35 438.8,36.03 439.45,35.7 440.1,35.37 440.75,35.04 441.4,34.71 442.05,34.37 442.7,34.02 443.34,33.67 443.99,33.31 444.64,32.95 445.29,32.58 445.94,32.2 446.59,31.82 447.24,31.44 447.89,31.05 448.54,30.66 449.18,30.26 449.83,29.86 450.48,29.45 451.13,29.04 451.78,28.62 452.43,28.2 453.08,27.77 453.73,27.33 454.38,26.89 455.02,26.43 455.67,25.97 456.32,25.51 456.97,25.05 457.62,24.59 458.27,24.13 458.92,23.67 459.57,23.2 460.22,22.73 460.87,22.25 461.51,21.76 462.16,21.25 462.81,20.73 463.46,20.18 464.11,19.62 464.76,19.03 465.41,18.31 466.06,17.45 466.71,16.51 467.35,15.56 468,14.65" fill="none" stroke="#f6d5db" stroke-width="0.85" stroke-linejoin="round" stroke-linecap="round" />
<polyline points="390.13,44.06 390.78,44.44 391.43,44.84 392.08,45.21 392.73,45.48 393.37,45.72 394.02,45.96 394.67,46.2 395.32,46.44 395.96,46.68 396.61,46.92 397.26,47.18 397.91,47.44 398.56,47.72 399.2,48.01 399.85,48.3 400.5,48.61 401.15,48.92 401.79,49.24 402.44,49.57 403.09,49.9 403.74,50.24 404.39,50.58 405.03,50.93 405.68,51.28 406.33,51.63 406.98,51.99 407.62,52.34 408.27,52.68 408.92,53.01 409.57,53.33 410.21,53.64 410.86,53.93 411.51,54.21 412.16,54.47 412.81,54.71 413.45,54.94 414.1,55.15 414.75,55.35 415.4,55.53 416.04,55.69 416.69,55.85 417.34,56 417.99,56.14 418.64,56.29 419.28,56.44 419.93,56.59 420.58,56.74 421.23,56.89 421.87,57.05 422.52,57.21 423.17,57.38 423.82,57.55 424.47,57.72 425.11,57.89 425.76,58.07 426.41,58.24 427.06,58.42 427.7,58.6 428.35,58.78 429,58.96 429.65,59.15 430.29,59.33 430.94,59.52 431.59,59.71 432.24,59.89 432.89,60.08 433.53,60.27 434.18,60.46 434.83,60.65 435.48,60.83 436.12,61.02 436.77,61.2 437.42,61.39 438.07,61.58 438.72,61.77 439.36,61.96 440.01,62.16 440.66,62.36 441.31,62.56 441.95,62.77 442.6,62.99 443.25,63.21 443.9,63.44 444.55,63.67 445.19,63.92 445.84,64.17 446.49,64.43 447.14,64.7 447.78,64.98 448.43,65.28 449.08,65.58 449.73,65.9 450.37,66.23 451.02,66.57 451.67,66.93 452.32,67.3 452.97,67.68 453.61,68.09 454.26,68.52 454.91,68.97 455.56,69.44 456.2,69.95 456.85,70.47 457.5,71.03 458.15,71.63 458.8,72.26 459.44,72.94 460.09,73.69 460.74,74.51 461.39,75.39 462.03,76.34 462.68,77.37 463.33,78.5 463.98,79.8 464.63,81.28 465.27,82.94 465.92,84.84 466.57,87.03 467.22,89.65 467.86,92.53" fill="none" stroke="#f6d5db" stroke-width="0.85" stroke-linejoin="round" stroke-linecap="round" />
<polyline points="390.13,55.33 390.76,55.13 391.38,54.92 392,54.72 392.63,54.54 393.25,54.35 393.87,54.16 394.5,53.98 395.12,53.79 395.74,53.61 396.37,53.42 396.99,53.23 397.61,53.04 398.23,52.84 398.86,52.64 399.48,52.44 400.1,52.23 400.73,52.02 401.35,51.8 401.97,51.58 402.6,51.36 403.22,51.13 403.84,50.89 404.46,50.66 405.09,50.42 405.71,50.18 406.33,49.95 406.96,49.7 407.58,49.46 408.2,49.22 408.83,48.98 409.45,48.74 410.07,48.5 410.69,48.27 411.32,48.03 411.94,47.8 412.56,47.56 413.19,47.33 413.81,47.1 414.43,46.87 415.06,46.64 415.68,46.41 416.3,46.18 416.92,45.95 417.55,45.71 418.17,45.47 418.79,45.23 419.42,44.99 420.04,44.74 420.66,44.49 421.29,44.23 421.91,43.97 422.53,43.7 423.16,43.43 423.78,43.15 424.4,42.87 425.02,42.58 425.65,42.29 426.27,42 426.89,41.7 427.52,41.4 428.14,41.09 428.76,40.79 429.39,40.48 430.01,40.17 430.63,39.86 431.25,39.55 431.88,39.23 432.5,38.92 433.12,38.61 433.75,38.3 434.37,37.98 434.99,37.67 435.62,37.36 436.24,37.04 436.86,36.72 437.48,36.4 438.11,36.08 438.73,35.75 439.35,35.42 439.98,35.08 440.6,34.73 441.22,34.38 441.85,34.02 442.47,33.65 443.09,33.28 443.71,32.89 444.34,32.51 444.96,32.11 445.58,31.72 446.21,31.31 446.83,30.9 447.45,30.49 448.08,30.07 448.7,29.64 449.32,29.2 449.95,28.76 450.57,28.31 451.19,27.85 451.81,27.37 452.44,26.87 453.06,26.37 453.68,25.86 454.31,25.35 454.93,24.84 455.55,24.35 456.18,23.86 456.8,23.37 457.42,22.88 458.04,22.38 458.67,21.87 459.29,21.35 459.91,20.81 460.54,20.24 461.16,19.65 461.78,19.04 462.41,18.3 463.03,17.44 463.65,16.5 464.27,15.56 464.9,14.65" fill="none" stroke="#cee2f2" stroke-width="0.85" stroke-linejoin="round" stroke-linecap="round" />
<polyline points="390.13,44.71 390.76,45.1 391.38,45.51 392,45.87 392.62,46.14 393.24,46.38 393.87,46.6 394.49,46.83 395.11,47.04 395.73,47.26 396.35,47.49 396.98,47.72 397.6,47.96 398.22,48.21 398.84,48.47 399.46,48.74 400.08,49.02 400.71,49.3 401.33,49.59 401.95,49.88 402.57,50.18 403.19,50.49 403.82,50.8 404.44,51.11 405.06,51.43 405.68,51.75 406.3,52.07 406.93,52.39 407.55,52.7 408.17,53 408.79,53.3 409.41,53.59 410.03,53.86 410.66,54.12 411.28,54.36 411.9,54.59 412.52,54.81 413.14,55.01 413.77,55.2 414.39,55.37 415.01,55.54 415.63,55.7 416.25,55.85 416.88,55.99 417.5,56.14 418.12,56.29 418.74,56.44 419.36,56.6 419.98,56.75 420.61,56.92 421.23,57.08 421.85,57.25 422.47,57.42 423.09,57.59 423.72,57.76 424.34,57.94 424.96,58.12 425.58,58.29 426.2,58.47 426.82,58.65 427.45,58.84 428.07,59.02 428.69,59.21 429.31,59.39 429.93,59.58 430.56,59.77 431.18,59.96 431.8,60.15 432.42,60.33 433.04,60.52 433.67,60.7 434.29,60.89 434.91,61.07 435.53,61.26 436.15,61.44 436.77,61.63 437.4,61.82 438.02,62.01 438.64,62.21 439.26,62.41 439.88,62.62 440.51,62.83 441.13,63.05 441.75,63.28 442.37,63.51 442.99,63.75 443.62,64 444.24,64.26 444.86,64.52 445.48,64.8 446.1,65.09 446.72,65.39 447.35,65.7 447.97,66.03 448.59,66.36 449.21,66.71 449.83,67.07 450.46,67.45 451.08,67.85 451.7,68.27 452.32,68.71 452.94,69.18 453.56,69.67 454.19,70.19 454.81,70.75 455.43,71.33 456.05,71.96 456.67,72.64 457.3,73.39 457.92,74.2 458.54,75.08 459.16,76.04 459.78,77.06 460.41,78.2 461.03,79.51 461.65,81.01 462.27,82.69 462.89,84.62 463.51,86.87 464.14,89.55 464.76,92.54" fill="none" stroke="#cee2f2" stroke-width="0.85" stroke-linejoin="round" stroke-linecap="round" />
<polyline points="390.13,55.31 390.75,55.11 391.37,54.9 391.99,54.7 392.61,54.51 393.23,54.33 393.85,54.14 394.46,53.95 395.08,53.76 395.7,53.57 396.32,53.38 396.94,53.19 397.56,53 398.17,52.8 398.79,52.6 399.41,52.39 400.03,52.18 400.65,51.96 401.27,51.74 401.88,51.52 402.5,51.29 403.12,51.05 403.74,50.82 404.36,50.58 404.98,50.34 405.59,50.1 406.21,49.85 406.83,49.61 407.45,49.36 408.07,49.12 408.69,48.87 409.3,48.63 409.92,48.39 410.54,48.14 411.16,47.91 411.78,47.67 412.4,47.43 413.02,47.2 413.63,46.97 414.25,46.73 414.87,46.5 415.49,46.27 416.11,46.03 416.73,45.8 417.34,45.56 417.96,45.32 418.58,45.08 419.2,44.83 419.82,44.58 420.44,44.33 421.05,44.06 421.67,43.8 422.29,43.53 422.91,43.25 423.53,42.97 424.15,42.68 424.76,42.39 425.38,42.09 426,41.8 426.62,41.49 427.24,41.19 427.86,40.88 428.47,40.57 429.09,40.26 429.71,39.95 430.33,39.64 430.95,39.32 431.57,39.01 432.19,38.7 432.8,38.38 433.42,38.07 434.04,37.75 434.66,37.44 435.28,37.12 435.9,36.81 436.51,36.49 437.13,36.17 437.75,35.84 438.37,35.51 438.99,35.18 439.61,34.84 440.22,34.49 440.84,34.14 441.46,33.78 442.08,33.41 442.7,33.04 443.32,32.66 443.93,32.28 444.55,31.89 445.17,31.49 445.79,31.09 446.41,30.69 447.03,30.27 447.64,29.86 448.26,29.43 448.88,29.01 449.5,28.57 450.12,28.13 450.74,27.68 451.36,27.21 451.97,26.73 452.59,26.23 453.21,25.74 453.83,25.25 454.45,24.76 455.07,24.27 455.68,23.79 456.3,23.31 456.92,22.83 457.54,22.34 458.16,21.83 458.78,21.32 459.39,20.78 460.01,20.22 460.63,19.64 461.25,19.03 461.87,18.3 462.49,17.44 463.1,16.51 463.72,15.56 464.34,14.65" fill="none" stroke="#c1daed" stroke-width="0.85" stroke-linejoin="round" stroke-linecap="round" />
<polyline points="390.13,45.36 390.75,45.76 391.37,46.17 391.99,46.54 392.6,46.81 393.22,47.04 393.84,47.26 394.46,47.48 395.07,47.68 395.69,47.89 396.31,48.1 396.92,48.32 397.54,48.55 398.16,48.79 398.78,49.04 399.39,49.29 400.01,49.55 400.63,49.81 401.25,50.08 401.86,50.36 402.48,50.64 403.1,50.92 403.71,51.21 404.33,51.5 404.95,51.8 405.57,52.1 406.18,52.39 406.8,52.69 407.42,52.98 408.03,53.26 408.65,53.54 409.27,53.81 409.89,54.06 410.5,54.3 411.12,54.53 411.74,54.75 412.36,54.95 412.97,55.14 413.59,55.32 414.21,55.49 414.82,55.65 415.44,55.8 416.06,55.95 416.68,56.1 417.29,56.24 417.91,56.39 418.53,56.54 419.14,56.69 419.76,56.85 420.38,57.01 421,57.17 421.61,57.34 422.23,57.51 422.85,57.68 423.47,57.85 424.08,58.03 424.7,58.2 425.32,58.38 425.93,58.56 426.55,58.74 427.17,58.92 427.79,59.11 428.4,59.29 429.02,59.48 429.64,59.67 430.25,59.85 430.87,60.04 431.49,60.23 432.11,60.42 432.72,60.61 433.34,60.79 433.96,60.98 434.58,61.16 435.19,61.35 435.81,61.53 436.43,61.72 437.04,61.92 437.66,62.11 438.28,62.31 438.9,62.51 439.51,62.72 440.13,62.94 440.75,63.16 441.36,63.39 441.98,63.62 442.6,63.86 443.22,64.12 443.83,64.38 444.45,64.65 445.07,64.93 445.69,65.22 446.3,65.52 446.92,65.84 447.54,66.16 448.15,66.5 448.77,66.86 449.39,67.22 450.01,67.61 450.62,68.01 451.24,68.44 451.86,68.89 452.47,69.36 453.09,69.86 453.71,70.38 454.33,70.94 454.94,71.53 455.56,72.16 456.18,72.85 456.8,73.59 457.41,74.41 458.03,75.29 458.65,76.24 459.26,77.27 459.88,78.4 460.5,79.7 461.12,81.19 461.73,82.86 462.35,84.77 462.97,86.98 463.59,89.62 464.2,92.54" fill="none" stroke="#c1daed" stroke-width="0.85" stroke-linejoin="round" stroke-linecap="round" />
<polyline points="390.13,55.29 390.75,55.08 391.36,54.88 391.98,54.68 392.59,54.49 393.21,54.3 393.82,54.11 394.43,53.92 395.05,53.73 395.66,53.54 396.28,53.35 396.89,53.15 397.5,52.95 398.12,52.75 398.73,52.54 399.35,52.34 399.96,52.12 400.58,51.9 401.19,51.68 401.8,51.45 402.42,51.21 403.03,50.98 403.65,50.74 404.26,50.49 404.87,50.25 405.49,50 406.1,49.75 406.72,49.5 407.33,49.25 407.94,49 408.56,48.75 409.17,48.5 409.79,48.26 410.4,48.01 411.02,47.77 411.63,47.53 412.24,47.29 412.86,47.06 413.47,46.82 414.09,46.58 414.7,46.35 415.31,46.11 415.93,45.88 416.54,45.64 417.16,45.4 417.77,45.16 418.39,44.91 419,44.66 419.61,44.4 420.23,44.15 420.84,43.88 421.46,43.61 422.07,43.33 422.68,43.05 423.3,42.77 423.91,42.48 424.53,42.18 425.14,41.88 425.75,41.58 426.37,41.27 426.98,40.97 427.6,40.66 428.21,40.34 428.83,40.03 429.44,39.72 430.05,39.4 430.67,39.08 431.28,38.77 431.9,38.45 432.51,38.14 433.12,37.82 433.74,37.5 434.35,37.19 434.97,36.87 435.58,36.55 436.2,36.23 436.81,35.91 437.42,35.58 438.04,35.25 438.65,34.92 439.27,34.58 439.88,34.23 440.49,33.88 441.11,33.52 441.72,33.16 442.34,32.78 442.95,32.41 443.56,32.02 444.18,31.64 444.79,31.25 445.41,30.85 446.02,30.45 446.64,30.04 447.25,29.63 447.86,29.21 448.48,28.79 449.09,28.36 449.71,27.93 450.32,27.49 450.93,27.03 451.55,26.56 452.16,26.09 452.78,25.61 453.39,25.14 454.01,24.66 454.62,24.19 455.23,23.72 455.85,23.25 456.46,22.78 457.08,22.29 457.69,21.79 458.3,21.28 458.92,20.75 459.53,20.2 460.15,19.63 460.76,19.03 461.37,18.3 461.99,17.44 462.6,16.51 463.22,15.56 463.83,14.65" fill="none" stroke="#b4d1e9" stroke-width="0.85" stroke-linejoin="round" stroke-linecap="round" />
<polyline points="390.13,46.01 390.75,46.42 391.36,46.84 391.97,47.22 392.59,47.48 393.2,47.71 393.81,47.92 394.43,48.13 395.04,48.33 395.65,48.52 396.26,48.72 396.88,48.92 397.49,49.14 398.1,49.37 398.72,49.6 399.33,49.84 399.94,50.08 400.56,50.33 401.17,50.58 401.78,50.84 402.39,51.1 403.01,51.37 403.62,51.63 404.23,51.91 404.85,52.18 405.46,52.45 406.07,52.73 406.69,53 407.3,53.27 407.91,53.53 408.52,53.79 409.14,54.03 409.75,54.27 410.36,54.49 410.98,54.71 411.59,54.91 412.2,55.1 412.82,55.28 413.43,55.45 414.04,55.61 414.65,55.77 415.27,55.92 415.88,56.06 416.49,56.21 417.11,56.35 417.72,56.5 418.33,56.64 418.95,56.79 419.56,56.95 420.17,57.11 420.78,57.27 421.4,57.44 422.01,57.6 422.62,57.77 423.24,57.94 423.85,58.12 424.46,58.29 425.07,58.47 425.69,58.65 426.3,58.83 426.91,59.01 427.53,59.2 428.14,59.38 428.75,59.57 429.37,59.76 429.98,59.94 430.59,60.13 431.2,60.32 431.82,60.51 432.43,60.7 433.04,60.89 433.66,61.07 434.27,61.26 434.88,61.44 435.5,61.63 436.11,61.82 436.72,62.02 437.33,62.21 437.95,62.42 438.56,62.62 439.17,62.83 439.79,63.05 440.4,63.27 441.01,63.5 441.63,63.74 442.24,63.98 442.85,64.24 443.46,64.5 444.08,64.77 444.69,65.06 445.3,65.35 445.92,65.66 446.53,65.98 447.14,66.31 447.76,66.66 448.37,67.01 448.98,67.39 449.59,67.78 450.21,68.19 450.82,68.62 451.43,69.07 452.05,69.55 452.66,70.06 453.27,70.59 453.88,71.15 454.5,71.75 455.11,72.38 455.72,73.07 456.34,73.82 456.95,74.63 457.56,75.51 458.18,76.47 458.79,77.49 459.4,78.62 460.01,79.91 460.63,81.39 461.24,83.05 461.85,84.92 462.47,87.1 463.08,89.68 463.69,92.53" fill="none" stroke="#b4d1e9" stroke-width="0.85" stroke-linejoin="round" stroke-linecap="round" />
<polyline points="390.13,55.26 390.75,55.06 391.36,54.86 391.97,54.66 392.58,54.46 393.19,54.27 393.8,54.08 394.41,53.89 395.02,53.69 395.63,53.5 396.24,53.3 396.85,53.1 397.46,52.9 398.07,52.7 398.68,52.49 399.29,52.27 399.91,52.06 400.52,51.83 401.13,51.6 401.74,51.37 402.35,51.13 402.96,50.89 403.57,50.64 404.18,50.39 404.79,50.14 405.4,49.89 406.01,49.64 406.62,49.38 407.23,49.13 407.84,48.87 408.45,48.62 409.07,48.36 409.68,48.11 410.29,47.86 410.9,47.62 411.51,47.37 412.12,47.13 412.73,46.89 413.34,46.65 413.95,46.41 414.56,46.18 415.17,45.94 415.78,45.7 416.39,45.46 417,45.21 417.61,44.97 418.23,44.72 418.84,44.46 419.45,44.2 420.06,43.94 420.67,43.67 421.28,43.4 421.89,43.12 422.5,42.83 423.11,42.54 423.72,42.24 424.33,41.94 424.94,41.64 425.55,41.33 426.16,41.03 426.77,40.71 427.39,40.4 428,40.08 428.61,39.77 429.22,39.45 429.83,39.13 430.44,38.81 431.05,38.49 431.66,38.17 432.27,37.86 432.88,37.54 433.49,37.22 434.1,36.9 434.71,36.58 435.32,36.26 435.93,35.94 436.55,35.62 437.16,35.29 437.77,34.96 438.38,34.62 438.99,34.28 439.6,33.94 440.21,33.59 440.82,33.23 441.43,32.86 442.04,32.49 442.65,32.12 443.26,31.74 443.87,31.36 444.48,30.97 445.09,30.58 445.71,30.18 446.32,29.78 446.93,29.37 447.54,28.96 448.15,28.55 448.76,28.13 449.37,27.7 449.98,27.27 450.59,26.83 451.2,26.38 451.81,25.92 452.42,25.47 453.03,25.01 453.64,24.56 454.25,24.1 454.87,23.64 455.48,23.18 456.09,22.71 456.7,22.24 457.31,21.75 457.92,21.24 458.53,20.72 459.14,20.18 459.75,19.61 460.36,19.02 460.97,18.31 461.58,17.45 462.19,16.51 462.8,15.56 463.41,14.65" fill="none" stroke="#a7c8e4" stroke-width="0.85" stroke-linejoin="round" stroke-linecap="round" />
<polyline points="390.13,46.67 390.74,47.08 391.35,47.51 391.96,47.89 392.57,48.15 393.18,48.38 393.79,48.59 394.4,48.78 395.01,48.97 395.62,49.15 396.23,49.34 396.84,49.53 397.45,49.74 398.06,49.95 398.67,50.17 399.28,50.39 399.89,50.62 400.5,50.85 401.11,51.09 401.72,51.33 402.33,51.57 402.93,51.82 403.54,52.07 404.15,52.32 404.76,52.57 405.37,52.82 405.98,53.07 406.59,53.33 407.2,53.57 407.81,53.81 408.42,54.05 409.03,54.27 409.64,54.49 410.25,54.7 410.86,54.9 411.47,55.09 412.08,55.27 412.69,55.44 413.3,55.6 413.91,55.75 414.52,55.9 415.12,56.05 415.73,56.19 416.34,56.33 416.95,56.47 417.56,56.61 418.17,56.76 418.78,56.91 419.39,57.06 420,57.22 420.61,57.38 421.22,57.54 421.83,57.71 422.44,57.88 423.05,58.05 423.66,58.22 424.27,58.4 424.88,58.57 425.49,58.75 426.1,58.93 426.71,59.11 427.31,59.3 427.92,59.48 428.53,59.67 429.14,59.86 429.75,60.05 430.36,60.24 430.97,60.43 431.58,60.62 432.19,60.8 432.8,60.99 433.41,61.18 434.02,61.37 434.63,61.55 435.24,61.74 435.85,61.94 436.46,62.13 437.07,62.33 437.68,62.53 438.29,62.74 438.9,62.95 439.5,63.17 440.11,63.4 440.72,63.63 441.33,63.87 441.94,64.12 442.55,64.38 443.16,64.64 443.77,64.92 444.38,65.21 444.99,65.5 445.6,65.82 446.21,66.14 446.82,66.48 447.43,66.83 448.04,67.19 448.65,67.57 449.26,67.97 449.87,68.38 450.48,68.82 451.09,69.28 451.69,69.77 452.3,70.28 452.91,70.82 453.52,71.38 454.13,71.98 454.74,72.62 455.35,73.31 455.96,74.06 456.57,74.88 457.18,75.76 457.79,76.71 458.4,77.74 459.01,78.86 459.62,80.15 460.23,81.62 460.84,83.25 461.45,85.1 462.06,87.23 462.67,89.76 463.28,92.52" fill="none" stroke="#a7c8e4" stroke-width="0.85" stroke-linejoin="round" stroke-linecap="round" />
<polyline points="390.13,55.23 390.74,55.03 391.35,54.83 391.96,54.63 392.57,54.43 393.17,54.24 393.78,54.04 394.39,53.85 395,53.65 395.6,53.45 396.21,53.25 396.82,53.05 397.43,52.85 398.03,52.64 398.64,52.43 399.25,52.21 399.86,51.98 400.46,51.76 401.07,51.52 401.68,51.28 402.29,51.04 402.89,50.79 403.5,50.54 404.11,50.29 404.72,50.03 405.32,49.77 405.93,49.51 406.54,49.25 407.15,48.99 407.75,48.73 408.36,48.47 408.97,48.21 409.58,47.96 410.18,47.7 410.79,47.45 411.4,47.2 412.01,46.96 412.62,46.72 413.22,46.47 413.83,46.23 414.44,45.99 415.05,45.75 415.65,45.51 416.26,45.26 416.87,45.01 417.48,44.76 418.08,44.51 418.69,44.25 419.3,43.99 419.91,43.72 420.51,43.45 421.12,43.17 421.73,42.88 422.34,42.59 422.94,42.29 423.55,41.99 424.16,41.69 424.77,41.38 425.37,41.07 425.98,40.76 426.59,40.44 427.2,40.12 427.8,39.8 428.41,39.48 429.02,39.16 429.63,38.84 430.23,38.52 430.84,38.2 431.45,37.88 432.06,37.56 432.66,37.24 433.27,36.92 433.88,36.6 434.49,36.28 435.1,35.95 435.7,35.63 436.31,35.3 436.92,34.97 437.53,34.64 438.13,34.31 438.74,33.96 439.35,33.62 439.96,33.27 440.56,32.91 441.17,32.55 441.78,32.18 442.39,31.81 442.99,31.43 443.6,31.06 444.21,30.67 444.82,30.29 445.42,29.89 446.03,29.5 446.64,29.1 447.25,28.7 447.85,28.29 448.46,27.88 449.07,27.46 449.68,27.04 450.28,26.61 450.89,26.18 451.5,25.75 452.11,25.31 452.71,24.88 453.32,24.44 453.93,24 454.54,23.56 455.15,23.11 455.75,22.65 456.36,22.18 456.97,21.69 457.58,21.2 458.18,20.68 458.79,20.15 459.4,19.6 460.01,19.02 460.61,18.31 461.22,17.45 461.83,16.51 462.44,15.56 463.04,14.65" fill="none" stroke="#9ac0df" stroke-width="0.85" stroke-linejoin="round" stroke-linecap="round" />
<polyline points="390.13,47.32 390.74,47.74 391.35,48.18 391.95,48.56 392.56,48.83 393.17,49.05 393.77,49.25 394.38,49.44 394.99,49.61 395.59,49.79 396.2,49.96 396.81,50.14 397.41,50.33 398.02,50.53 398.62,50.74 399.23,50.95 399.84,51.16 400.44,51.38 401.05,51.6 401.66,51.82 402.26,52.05 402.87,52.28 403.48,52.5 404.08,52.73 404.69,52.96 405.3,53.2 405.9,53.43 406.51,53.66 407.11,53.88 407.72,54.1 408.33,54.31 408.93,54.52 409.54,54.72 410.15,54.91 410.75,55.09 411.36,55.27 411.97,55.44 412.57,55.6 413.18,55.75 413.79,55.9 414.39,56.04 415,56.18 415.6,56.32 416.21,56.46 416.82,56.6 417.42,56.74 418.03,56.88 418.64,57.03 419.24,57.18 419.85,57.33 420.46,57.49 421.06,57.66 421.67,57.82 422.27,57.99 422.88,58.16 423.49,58.33 424.09,58.5 424.7,58.68 425.31,58.86 425.91,59.04 426.52,59.22 427.13,59.4 427.73,59.59 428.34,59.78 428.95,59.96 429.55,60.15 430.16,60.34 430.76,60.54 431.37,60.73 431.98,60.91 432.58,61.1 433.19,61.29 433.8,61.48 434.4,61.67 435.01,61.86 435.62,62.05 436.22,62.25 436.83,62.45 437.44,62.66 438.04,62.86 438.65,63.08 439.25,63.3 439.86,63.53 440.47,63.76 441.07,64.01 441.68,64.26 442.29,64.52 442.89,64.79 443.5,65.07 444.11,65.36 444.71,65.66 445.32,65.98 445.92,66.31 446.53,66.65 447.14,67 447.74,67.37 448.35,67.76 448.96,68.16 449.56,68.59 450.17,69.03 450.78,69.5 451.38,69.99 451.99,70.51 452.6,71.05 453.2,71.63 453.81,72.23 454.41,72.88 455.02,73.57 455.63,74.32 456.23,75.14 456.84,76.02 457.45,76.97 458.05,78 458.66,79.11 459.27,80.39 459.87,81.85 460.48,83.47 461.09,85.28 461.69,87.37 462.3,89.84 462.9,92.51" fill="none" stroke="#9ac0df" stroke-width="0.85" stroke-linejoin="round" stroke-linecap="round" />
<polyline points="390.13,55.23 390.74,55.03 391.34,54.83 391.95,54.63 392.55,54.43 393.16,54.24 393.76,54.04 394.37,53.84 394.97,53.65 395.58,53.45 396.18,53.25 396.79,53.05 397.39,52.84 398,52.63 398.6,52.42 399.21,52.2 399.81,51.98 400.42,51.75 401.02,51.51 401.63,51.27 402.23,51.03 402.84,50.78 403.44,50.53 404.05,50.28 404.65,50.02 405.26,49.76 405.86,49.5 406.47,49.24 407.07,48.98 407.68,48.72 408.28,48.46 408.89,48.2 409.49,47.94 410.1,47.69 410.7,47.44 411.31,47.19 411.91,46.94 412.52,46.7 413.12,46.46 413.72,46.21 414.33,45.97 414.93,45.73 415.54,45.49 416.14,45.24 416.75,44.99 417.35,44.74 417.96,44.49 418.56,44.23 419.17,43.97 419.77,43.7 420.38,43.43 420.98,43.15 421.59,42.86 422.19,42.57 422.8,42.27 423.4,41.97 424.01,41.67 424.61,41.36 425.22,41.05 425.82,40.73 426.43,40.42 427.03,40.1 427.64,39.78 428.24,39.46 428.85,39.13 429.45,38.81 430.06,38.49 430.66,38.17 431.27,37.85 431.87,37.53 432.48,37.21 433.08,36.89 433.69,36.57 434.29,36.25 434.9,35.92 435.5,35.6 436.1,35.27 436.71,34.94 437.31,34.61 437.92,34.27 438.52,33.93 439.13,33.59 439.73,33.24 440.34,32.88 440.94,32.52 441.55,32.15 442.15,31.78 442.76,31.4 443.36,31.03 443.97,30.64 444.57,30.26 445.18,29.87 445.78,29.47 446.39,29.07 446.99,28.67 447.6,28.26 448.2,27.85 448.81,27.44 449.41,27.02 450.02,26.59 450.62,26.16 451.23,25.73 451.83,25.3 452.44,24.86 453.04,24.43 453.65,23.99 454.25,23.55 454.86,23.1 455.46,22.64 456.07,22.17 456.67,21.69 457.28,21.19 457.88,20.68 458.49,20.15 459.09,19.6 459.69,19.02 460.3,18.31 460.9,17.45 461.51,16.51 462.11,15.56 462.72,14.65" fill="none" stroke="#8db8db" stroke-width="0.85" stroke-linejoin="round" stroke-linecap="round" />
<polyline points="390.13,47.97 390.74,48.4 391.34,48.84 391.95,49.23 392.55,49.5 393.15,49.72 393.76,49.91 394.36,50.09 394.96,50.26 395.57,50.42 396.17,50.58 396.78,50.75 397.38,50.93 397.98,51.12 398.59,51.31 399.19,51.51 399.79,51.71 400.4,51.91 401,52.11 401.61,52.32 402.21,52.53 402.81,52.74 403.42,52.94 404.02,53.15 404.62,53.36 405.23,53.57 405.83,53.78 406.44,53.99 407.04,54.19 407.64,54.39 408.25,54.59 408.85,54.77 409.45,54.95 410.06,55.13 410.66,55.29 411.26,55.46 411.87,55.61 412.47,55.76 413.08,55.9 413.68,56.04 414.28,56.18 414.89,56.32 415.49,56.45 416.09,56.59 416.7,56.73 417.3,56.86 417.91,57.01 418.51,57.15 419.11,57.3 419.72,57.45 420.32,57.61 420.92,57.77 421.53,57.94 422.13,58.1 422.74,58.27 423.34,58.44 423.94,58.62 424.55,58.79 425.15,58.97 425.75,59.15 426.36,59.33 426.96,59.51 427.56,59.7 428.17,59.89 428.77,60.07 429.38,60.26 429.98,60.45 430.58,60.65 431.19,60.84 431.79,61.03 432.39,61.22 433,61.41 433.6,61.59 434.21,61.79 434.81,61.98 435.41,62.17 436.02,62.37 436.62,62.58 437.22,62.78 437.83,62.99 438.43,63.21 439.04,63.44 439.64,63.67 440.24,63.9 440.85,64.15 441.45,64.41 442.05,64.67 442.66,64.94 443.26,65.23 443.87,65.52 444.47,65.83 445.07,66.15 445.68,66.48 446.28,66.83 446.88,67.19 447.49,67.56 448.09,67.96 448.69,68.37 449.3,68.8 449.9,69.25 450.51,69.72 451.11,70.22 451.71,70.75 452.32,71.3 452.92,71.88 453.52,72.49 454.13,73.14 454.73,73.83 455.34,74.59 455.94,75.41 456.54,76.29 457.15,77.24 457.75,78.26 458.35,79.38 458.96,80.65 459.56,82.09 460.17,83.69 460.77,85.47 461.37,87.51 461.98,89.92 462.58,92.5" fill="none" stroke="#8db8db" stroke-width="0.85" stroke-linejoin="round" stroke-linecap="round" />
<polyline points="390.13,55.23 390.74,55.03 391.34,54.83 391.94,54.63 392.55,54.43 393.15,54.24 393.75,54.04 394.36,53.84 394.96,53.65 395.56,53.45 396.16,53.25 396.77,53.05 397.37,52.84 397.97,52.63 398.58,52.42 399.18,52.2 399.78,51.98 400.38,51.75 400.99,51.51 401.59,51.27 402.19,51.03 402.8,50.78 403.4,50.53 404,50.28 404.61,50.02 405.21,49.76 405.81,49.5 406.41,49.24 407.02,48.98 407.62,48.72 408.22,48.46 408.83,48.2 409.43,47.94 410.03,47.69 410.63,47.44 411.24,47.19 411.84,46.94 412.44,46.7 413.05,46.46 413.65,46.21 414.25,45.97 414.86,45.73 415.46,45.49 416.06,45.24 416.66,44.99 417.27,44.74 417.87,44.49 418.47,44.23 419.08,43.97 419.68,43.7 420.28,43.43 420.88,43.15 421.49,42.86 422.09,42.57 422.69,42.27 423.3,41.97 423.9,41.67 424.5,41.36 425.11,41.05 425.71,40.73 426.31,40.42 426.91,40.1 427.52,39.78 428.12,39.46 428.72,39.13 429.33,38.81 429.93,38.49 430.53,38.17 431.13,37.85 431.74,37.53 432.34,37.21 432.94,36.89 433.55,36.57 434.15,36.25 434.75,35.92 435.36,35.6 435.96,35.27 436.56,34.94 437.16,34.61 437.77,34.27 438.37,33.93 438.97,33.59 439.58,33.24 440.18,32.88 440.78,32.52 441.38,32.15 441.99,31.78 442.59,31.4 443.19,31.03 443.8,30.64 444.4,30.26 445,29.87 445.61,29.47 446.21,29.07 446.81,28.67 447.41,28.26 448.02,27.85 448.62,27.44 449.22,27.02 449.83,26.59 450.43,26.16 451.03,25.73 451.63,25.3 452.24,24.86 452.84,24.43 453.44,23.99 454.05,23.55 454.65,23.1 455.25,22.64 455.86,22.17 456.46,21.69 457.06,21.19 457.66,20.68 458.27,20.15 458.87,19.6 459.47,19.02 460.08,18.31 460.68,17.45 461.28,16.51 461.88,15.56 462.49,14.65" fill="none" stroke="#80afd6" stroke-width="0.85" stroke-linejoin="round" stroke-linecap="round" />
<polyline points="390.13,48.62 390.74,49.06 391.34,49.51 391.94,49.9 392.54,50.17 393.14,50.38 393.75,50.57 394.35,50.74 394.95,50.9 395.55,51.05 396.15,51.2 396.75,51.36 397.36,51.53 397.96,51.71 398.56,51.89 399.16,52.07 399.76,52.26 400.37,52.44 400.97,52.63 401.57,52.82 402.17,53.01 402.77,53.2 403.37,53.39 403.98,53.58 404.58,53.77 405.18,53.96 405.78,54.15 406.38,54.33 406.98,54.52 407.59,54.69 408.19,54.87 408.79,55.03 409.39,55.2 409.99,55.35 410.6,55.51 411.2,55.65 411.8,55.8 412.4,55.94 413,56.07 413.6,56.2 414.21,56.33 414.81,56.47 415.41,56.6 416.01,56.73 416.61,56.86 417.21,57 417.82,57.14 418.42,57.28 419.02,57.43 419.62,57.58 420.22,57.74 420.83,57.9 421.43,58.06 422.03,58.23 422.63,58.39 423.23,58.56 423.83,58.74 424.44,58.91 425.04,59.09 425.64,59.27 426.24,59.45 426.84,59.63 427.45,59.82 428.05,60 428.65,60.19 429.25,60.38 429.85,60.57 430.45,60.77 431.06,60.96 431.66,61.15 432.26,61.34 432.86,61.53 433.46,61.72 434.06,61.91 434.67,62.11 435.27,62.3 435.87,62.5 436.47,62.71 437.07,62.92 437.68,63.13 438.28,63.35 438.88,63.58 439.48,63.81 440.08,64.05 440.68,64.3 441.29,64.56 441.89,64.83 442.49,65.11 443.09,65.39 443.69,65.69 444.29,66 444.9,66.33 445.5,66.67 446.1,67.02 446.7,67.38 447.3,67.77 447.91,68.17 448.51,68.59 449.11,69.02 449.71,69.48 450.31,69.97 450.91,70.47 451.52,71 452.12,71.56 452.72,72.15 453.32,72.77 453.92,73.42 454.53,74.12 455.13,74.88 455.73,75.7 456.33,76.58 456.93,77.53 457.53,78.55 458.14,79.66 458.74,80.92 459.34,82.35 459.94,83.93 460.54,85.67 461.14,87.66 461.75,90 462.35,92.49" fill="none" stroke="#80afd6" stroke-width="0.85" stroke-linejoin="round" stroke-linecap="round" />
<polyline points="390.13,55.23 390.74,55.03 391.34,54.83 391.94,54.63 392.54,54.43 393.14,54.24 393.74,54.04 394.34,53.84 394.95,53.65 395.55,53.45 396.15,53.25 396.75,53.05 397.35,52.84 397.95,52.63 398.55,52.42 399.16,52.2 399.76,51.98 400.36,51.75 400.96,51.51 401.56,51.27 402.16,51.03 402.76,50.78 403.37,50.53 403.97,50.28 404.57,50.02 405.17,49.76 405.77,49.5 406.37,49.24 406.97,48.98 407.58,48.72 408.18,48.46 408.78,48.2 409.38,47.94 409.98,47.69 410.58,47.44 411.18,47.19 411.79,46.94 412.39,46.7 412.99,46.46 413.59,46.21 414.19,45.97 414.79,45.73 415.39,45.49 415.99,45.24 416.6,44.99 417.2,44.74 417.8,44.49 418.4,44.23 419,43.97 419.6,43.7 420.2,43.43 420.81,43.15 421.41,42.86 422.01,42.57 422.61,42.27 423.21,41.97 423.81,41.67 424.41,41.36 425.02,41.05 425.62,40.73 426.22,40.42 426.82,40.1 427.42,39.78 428.02,39.46 428.62,39.13 429.23,38.81 429.83,38.49 430.43,38.17 431.03,37.85 431.63,37.53 432.23,37.21 432.83,36.89 433.44,36.57 434.04,36.25 434.64,35.92 435.24,35.6 435.84,35.27 436.44,34.94 437.04,34.61 437.64,34.27 438.25,33.93 438.85,33.59 439.45,33.24 440.05,32.88 440.65,32.52 441.25,32.15 441.85,31.78 442.46,31.4 443.06,31.03 443.66,30.64 444.26,30.26 444.86,29.87 445.46,29.47 446.06,29.07 446.67,28.67 447.27,28.26 447.87,27.85 448.47,27.44 449.07,27.02 449.67,26.59 450.27,26.16 450.88,25.73 451.48,25.3 452.08,24.86 452.68,24.43 453.28,23.99 453.88,23.55 454.48,23.1 455.09,22.64 455.69,22.17 456.29,21.69 456.89,21.19 457.49,20.68 458.09,20.15 458.69,19.6 459.29,19.02 459.9,18.31 460.5,17.45 461.1,16.51 461.7,15.56 462.3,14.65" fill="none" stroke="#3b6a96" stroke-width="0.85" stroke-linejoin="round" stroke-linecap="round" />
<polyline points="390.13,49.27 390.74,49.72 391.34,50.18 391.94,50.57 392.54,50.84 393.14,51.05 393.74,51.24 394.34,51.4 394.94,51.55 395.54,51.69 396.14,51.83 396.74,51.97 397.34,52.13 397.94,52.3 398.54,52.47 399.14,52.64 399.74,52.81 400.34,52.98 400.94,53.15 401.54,53.33 402.14,53.5 402.74,53.67 403.34,53.84 403.94,54.01 404.54,54.18 405.14,54.35 405.74,54.52 406.34,54.68 406.94,54.84 407.54,55 408.14,55.15 408.74,55.3 409.34,55.44 409.94,55.58 410.54,55.72 411.14,55.85 411.74,55.98 412.34,56.11 412.94,56.24 413.54,56.36 414.14,56.49 414.74,56.62 415.34,56.74 415.94,56.87 416.55,57.01 417.15,57.14 417.75,57.28 418.35,57.42 418.95,57.56 419.55,57.71 420.15,57.87 420.75,58.02 421.35,58.19 421.95,58.35 422.55,58.52 423.15,58.69 423.75,58.86 424.35,59.03 424.95,59.21 425.55,59.39 426.15,59.57 426.75,59.75 427.35,59.94 427.95,60.12 428.55,60.31 429.15,60.5 429.75,60.69 430.35,60.89 430.95,61.08 431.55,61.27 432.15,61.46 432.75,61.65 433.35,61.85 433.95,62.04 434.55,62.24 435.15,62.44 435.75,62.64 436.35,62.85 436.95,63.06 437.55,63.27 438.15,63.5 438.75,63.72 439.35,63.96 439.95,64.21 440.55,64.46 441.15,64.72 441.75,64.99 442.36,65.27 442.96,65.56 443.56,65.87 444.16,66.18 444.76,66.51 445.36,66.85 445.96,67.21 446.56,67.58 447.16,67.97 447.76,68.38 448.36,68.81 448.96,69.25 449.56,69.72 450.16,70.21 450.76,70.73 451.36,71.27 451.96,71.83 452.56,72.43 453.16,73.05 453.76,73.71 454.36,74.41 454.96,75.17 455.56,75.99 456.16,76.87 456.76,77.82 457.36,78.84 457.96,79.94 458.56,81.19 459.16,82.61 459.76,84.17 460.36,85.88 460.96,87.82 461.56,90.09 462.16,92.49" fill="none" stroke="#3b6a96" stroke-width="0.85" stroke-linejoin="round" stroke-linecap="round" />
<line x1="390.13" y1="14.65" x2="390.13" y2="49.27" stroke="#45698c" stroke-width="1.0" />
<line x1="390.13" y1="55.23" x2="390.13" y2="92.83" stroke="#45698c" stroke-width="1.0" />
<line x1="385.5" y1="7.2" x2="506" y2="7.2" stroke="#555" stroke-width="1.1" stroke-linecap="square"/>
<line x1="506" y1="7.2" x2="506" y2="104" stroke="#8a8a8a" stroke-width="1.3" stroke-linecap="square"/>
<line x1="385.5" y1="104" x2="506" y2="104" stroke="#333" stroke-width="1.1" stroke-linecap="square"/>
<line x1="385.5" y1="7.2" x2="385.5" y2="104" stroke="#333" stroke-width="1.1" stroke-linecap="square"/>
<line x1="382.5" y1="100.28" x2="385.5" y2="100.28" stroke="#4a4a4a" stroke-width="1" />
<line x1="383.7" y1="90.97" x2="385.5" y2="90.97" stroke="#4a4a4a" stroke-width="1" />
<line x1="382.5" y1="81.66" x2="385.5" y2="81.66" stroke="#4a4a4a" stroke-width="1" />
<line x1="383.7" y1="72.35" x2="385.5" y2="72.35" stroke="#4a4a4a" stroke-width="1" />
<line x1="382.5" y1="63.05" x2="385.5" y2="63.05" stroke="#4a4a4a" stroke-width="1" />
<line x1="383.7" y1="53.74" x2="385.5" y2="53.74" stroke="#4a4a4a" stroke-width="1" />
<line x1="382.5" y1="44.43" x2="385.5" y2="44.43" stroke="#4a4a4a" stroke-width="1" />
<line x1="383.7" y1="35.12" x2="385.5" y2="35.12" stroke="#4a4a4a" stroke-width="1" />
<line x1="382.5" y1="25.82" x2="385.5" y2="25.82" stroke="#4a4a4a" stroke-width="1" />
<line x1="383.7" y1="16.51" x2="385.5" y2="16.51" stroke="#4a4a4a" stroke-width="1" />
<line x1="382.5" y1="7.2" x2="385.5" y2="7.2" stroke="#4a4a4a" stroke-width="1" />
<text x="382.2" y="102.88" font-size="9.5" text-anchor="end" fill="#222" >2.5</text>
<text x="382.2" y="84.26" font-size="9.5" text-anchor="end" fill="#222" >3.0</text>
<text x="382.2" y="65.65" font-size="9.5" text-anchor="end" fill="#222" >3.5</text>
<text x="382.2" y="47.03" font-size="9.5" text-anchor="end" fill="#222" >4.0</text>
<text x="382.2" y="28.42" font-size="9.5" text-anchor="end" fill="#222" >4.5</text>
<text x="382.2" y="9.8" font-size="9.5" text-anchor="end" fill="#222" >5.0</text>
<line x1="390.13" y1="104" x2="390.13" y2="107" stroke="#4a4a4a" stroke-width="1" />
<line x1="401.72" y1="104" x2="401.72" y2="105.8" stroke="#4a4a4a" stroke-width="1" />
<line x1="413.31" y1="104" x2="413.31" y2="107" stroke="#4a4a4a" stroke-width="1" />
<line x1="424.9" y1="104" x2="424.9" y2="105.8" stroke="#4a4a4a" stroke-width="1" />
<line x1="436.49" y1="104" x2="436.49" y2="107" stroke="#4a4a4a" stroke-width="1" />
<line x1="448.07" y1="104" x2="448.07" y2="105.8" stroke="#4a4a4a" stroke-width="1" />
<line x1="459.66" y1="104" x2="459.66" y2="107" stroke="#4a4a4a" stroke-width="1" />
<line x1="471.25" y1="104" x2="471.25" y2="105.8" stroke="#4a4a4a" stroke-width="1" />
<line x1="482.84" y1="104" x2="482.84" y2="107" stroke="#4a4a4a" stroke-width="1" />
<line x1="494.42" y1="104" x2="494.42" y2="105.8" stroke="#4a4a4a" stroke-width="1" />
<line x1="506.01" y1="104" x2="506.01" y2="107" stroke="#4a4a4a" stroke-width="1" />
<text x="390.13" y="115.2" font-size="9.5" text-anchor="middle" fill="#222" >0</text>
<text x="413.31" y="115.2" font-size="9.5" text-anchor="middle" fill="#222" >50</text>
<text x="436.49" y="115.2" font-size="9.5" text-anchor="middle" fill="#222" >100</text>
<text x="459.66" y="115.2" font-size="9.5" text-anchor="middle" fill="#222" >150</text>
<text x="482.84" y="115.2" font-size="9.5" text-anchor="middle" fill="#222" >200</text>
<text x="506.01" y="115.2" font-size="9.5" text-anchor="middle" fill="#222" >250</text>
<text x="445.8" y="125.6" font-size="9.7" text-anchor="middle" fill="#222">Capacity (mAh g<tspan font-size="6" dy="-3.4">-1</tspan><tspan dy="3.4">)</tspan></text>
<text transform="translate(365.8,55.6) rotate(-90)" font-size="9.8" text-anchor="middle" fill="#222">Voltage (V)</text>
<text x="359.2" y="9.6" font-size="10.2" text-anchor="start" fill="#222" >b</text>
<text x="395.2" y="17.7" font-size="9.5" text-anchor="start" fill="#222" >Ct/cc-0.82</text>
<line x1="395" y1="19.5" x2="438.6" y2="19.5" stroke="#222" stroke-width="0.8" />
<text x="452.8" y="91.5" font-size="9.2" text-anchor="end" fill="#222" >500th</text>
<text x="487.6" y="92.3" font-size="9.2" text-anchor="start" fill="#222" >50th</text>
<line x1="458" y1="89.7" x2="487.5" y2="89.7" stroke="#9a9a9a" stroke-width="1.8" />
<polygon points="455.6,89.7 459,88.17 459,91.23" fill="#111"/>
<polyline points="44.16,168.98 46.81,151.99 49.47,152.06" fill="none" stroke="#e7a2b2" stroke-width="0.7" stroke-linejoin="round" stroke-linecap="round" />
<circle cx="44.16" cy="168.98" r="2.2" fill="#fff" stroke="#e48ea4" stroke-width="0.7"/>
<circle cx="46.81" cy="151.99" r="2.2" fill="#fff" stroke="#e48ea4" stroke-width="0.7"/>
<circle cx="49.47" cy="152.06" r="2.2" fill="#fff" stroke="#e48ea4" stroke-width="0.7"/>
<circle cx="52.12" cy="151.96" r="2.2" fill="#fff" stroke="#e48ea4" stroke-width="0.7"/>
<circle cx="54.77" cy="151.79" r="2.2" fill="#fff" stroke="#e48ea4" stroke-width="0.7"/>
<circle cx="57.43" cy="152.12" r="2.2" fill="#fff" stroke="#e48ea4" stroke-width="0.7"/>
<circle cx="60.08" cy="152.17" r="2.2" fill="#fff" stroke="#e48ea4" stroke-width="0.7"/>
<circle cx="62.74" cy="151.98" r="2.2" fill="#fff" stroke="#e48ea4" stroke-width="0.7"/>
<circle cx="65.39" cy="151.9" r="2.2" fill="#fff" stroke="#e48ea4" stroke-width="0.7"/>
<circle cx="68.05" cy="151.86" r="2.2" fill="#fff" stroke="#e48ea4" stroke-width="0.7"/>
<circle cx="70.7" cy="152.02" r="2.2" fill="#fff" stroke="#e48ea4" stroke-width="0.7"/>
<circle cx="73.36" cy="151.77" r="2.2" fill="#fff" stroke="#e48ea4" stroke-width="0.7"/>
<circle cx="76.02" cy="152.08" r="2.2" fill="#fff" stroke="#e48ea4" stroke-width="0.7"/>
<circle cx="78.67" cy="151.86" r="2.2" fill="#fff" stroke="#e48ea4" stroke-width="0.7"/>
<circle cx="81.32" cy="152.13" r="2.2" fill="#fff" stroke="#e48ea4" stroke-width="0.7"/>
<circle cx="83.98" cy="152.16" r="2.2" fill="#fff" stroke="#e48ea4" stroke-width="0.7"/>
<circle cx="86.63" cy="152.12" r="2.2" fill="#fff" stroke="#e48ea4" stroke-width="0.7"/>
<circle cx="89.29" cy="152.15" r="2.2" fill="#fff" stroke="#e48ea4" stroke-width="0.7"/>
<circle cx="91.94" cy="151.97" r="2.2" fill="#fff" stroke="#e48ea4" stroke-width="0.7"/>
<circle cx="94.6" cy="151.94" r="2.2" fill="#fff" stroke="#e48ea4" stroke-width="0.7"/>
<circle cx="97.25" cy="152.1" r="2.2" fill="#fff" stroke="#e48ea4" stroke-width="0.7"/>
<circle cx="99.91" cy="151.79" r="2.2" fill="#fff" stroke="#e48ea4" stroke-width="0.7"/>
<circle cx="102.56" cy="152.02" r="2.2" fill="#fff" stroke="#e48ea4" stroke-width="0.7"/>
<circle cx="105.22" cy="152.11" r="2.2" fill="#fff" stroke="#e48ea4" stroke-width="0.7"/>
<circle cx="107.88" cy="152.1" r="2.2" fill="#fff" stroke="#e48ea4" stroke-width="0.7"/>
<circle cx="110.53" cy="152.68" r="2.2" fill="#fff" stroke="#e48ea4" stroke-width="0.7"/>
<circle cx="113.18" cy="151.8" r="2.2" fill="#fff" stroke="#e48ea4" stroke-width="0.7"/>
<circle cx="115.84" cy="152.91" r="2.2" fill="#fff" stroke="#e48ea4" stroke-width="0.7"/>
<circle cx="118.49" cy="152.16" r="2.2" fill="#fff" stroke="#e48ea4" stroke-width="0.7"/>
<circle cx="121.15" cy="151.85" r="2.2" fill="#fff" stroke="#e48ea4" stroke-width="0.7"/>
<circle cx="123.8" cy="152.07" r="2.2" fill="#fff" stroke="#e48ea4" stroke-width="0.7"/>
<circle cx="126.46" cy="151.77" r="2.2" fill="#fff" stroke="#e48ea4" stroke-width="0.7"/>
<circle cx="129.12" cy="151.97" r="2.2" fill="#fff" stroke="#e48ea4" stroke-width="0.7"/>
<circle cx="131.77" cy="151.91" r="2.2" fill="#fff" stroke="#e48ea4" stroke-width="0.7"/>
<circle cx="134.43" cy="152.03" r="2.2" fill="#fff" stroke="#e48ea4" stroke-width="0.7"/>
<circle cx="137.08" cy="151.85" r="2.2" fill="#fff" stroke="#e48ea4" stroke-width="0.7"/>
<circle cx="139.74" cy="152.79" r="2.2" fill="#fff" stroke="#e48ea4" stroke-width="0.7"/>
<circle cx="142.39" cy="152.04" r="2.2" fill="#fff" stroke="#e48ea4" stroke-width="0.7"/>
<circle cx="145.04" cy="152.61" r="2.2" fill="#fff" stroke="#e48ea4" stroke-width="0.7"/>
<circle cx="147.7" cy="152.13" r="2.2" fill="#fff" stroke="#e48ea4" stroke-width="0.7"/>
<circle cx="150.35" cy="151.87" r="2.2" fill="#fff" stroke="#e48ea4" stroke-width="0.7"/>
<circle cx="153.01" cy="152.14" r="2.2" fill="#fff" stroke="#e48ea4" stroke-width="0.7"/>
<circle cx="155.66" cy="151.91" r="2.2" fill="#fff" stroke="#e48ea4" stroke-width="0.7"/>
<circle cx="158.32" cy="152.01" r="2.2" fill="#fff" stroke="#e48ea4" stroke-width="0.7"/>
<circle cx="160.97" cy="151.82" r="2.2" fill="#fff" stroke="#e48ea4" stroke-width="0.7"/>
<circle cx="163.63" cy="152.15" r="2.2" fill="#fff" stroke="#e48ea4" stroke-width="0.7"/>
<circle cx="166.28" cy="151.94" r="2.2" fill="#fff" stroke="#e48ea4" stroke-width="0.7"/>
<circle cx="168.94" cy="152" r="2.2" fill="#fff" stroke="#e48ea4" stroke-width="0.7"/>
<circle cx="171.59" cy="151.8" r="2.2" fill="#fff" stroke="#e48ea4" stroke-width="0.7"/>
<circle cx="174.25" cy="151.79" r="2.2" fill="#fff" stroke="#e48ea4" stroke-width="0.7"/>
<circle cx="176.91" cy="151.92" r="2.2" fill="#fff" stroke="#e48ea4" stroke-width="0.7"/>
<circle cx="179.56" cy="152.08" r="2.2" fill="#fff" stroke="#e48ea4" stroke-width="0.7"/>
<circle cx="182.22" cy="152.07" r="2.2" fill="#fff" stroke="#e48ea4" stroke-width="0.7"/>
<circle cx="184.87" cy="152.06" r="2.2" fill="#fff" stroke="#e48ea4" stroke-width="0.7"/>
<circle cx="187.52" cy="151.99" r="2.2" fill="#fff" stroke="#e48ea4" stroke-width="0.7"/>
<circle cx="190.18" cy="152.08" r="2.2" fill="#fff" stroke="#e48ea4" stroke-width="0.7"/>
<circle cx="192.83" cy="152.09" r="2.2" fill="#fff" stroke="#e48ea4" stroke-width="0.7"/>
<circle cx="195.49" cy="151.86" r="2.2" fill="#fff" stroke="#e48ea4" stroke-width="0.7"/>
<circle cx="198.14" cy="151.91" r="2.2" fill="#fff" stroke="#e48ea4" stroke-width="0.7"/>
<circle cx="200.8" cy="152.05" r="2.2" fill="#fff" stroke="#e48ea4" stroke-width="0.7"/>
<circle cx="203.45" cy="151.77" r="2.2" fill="#fff" stroke="#e48ea4" stroke-width="0.7"/>
<circle cx="206.11" cy="152.08" r="2.2" fill="#fff" stroke="#e48ea4" stroke-width="0.7"/>
<circle cx="208.76" cy="151.94" r="2.2" fill="#fff" stroke="#e48ea4" stroke-width="0.7"/>
<circle cx="211.42" cy="152.11" r="2.2" fill="#fff" stroke="#e48ea4" stroke-width="0.7"/>
<circle cx="214.07" cy="151.82" r="2.2" fill="#fff" stroke="#e48ea4" stroke-width="0.7"/>
<circle cx="216.73" cy="151.82" r="2.2" fill="#fff" stroke="#e48ea4" stroke-width="0.7"/>
<circle cx="219.38" cy="152.06" r="2.2" fill="#fff" stroke="#e48ea4" stroke-width="0.7"/>
<circle cx="222.04" cy="151.87" r="2.2" fill="#fff" stroke="#e48ea4" stroke-width="0.7"/>
<circle cx="224.69" cy="151.84" r="2.2" fill="#fff" stroke="#e48ea4" stroke-width="0.7"/>
<circle cx="227.35" cy="152.06" r="2.2" fill="#fff" stroke="#e48ea4" stroke-width="0.7"/>
<circle cx="230" cy="152.04" r="2.2" fill="#fff" stroke="#e48ea4" stroke-width="0.7"/>
<circle cx="232.66" cy="151.97" r="2.2" fill="#fff" stroke="#e48ea4" stroke-width="0.7"/>
<circle cx="235.31" cy="151.81" r="2.2" fill="#fff" stroke="#e48ea4" stroke-width="0.7"/>
<circle cx="237.97" cy="152.1" r="2.2" fill="#fff" stroke="#e48ea4" stroke-width="0.7"/>
<circle cx="240.62" cy="151.89" r="2.2" fill="#fff" stroke="#e48ea4" stroke-width="0.7"/>
<circle cx="243.28" cy="151.93" r="2.2" fill="#fff" stroke="#e48ea4" stroke-width="0.7"/>
<circle cx="245.93" cy="151.99" r="2.2" fill="#fff" stroke="#e48ea4" stroke-width="0.7"/>
<circle cx="248.59" cy="151.93" r="2.2" fill="#fff" stroke="#e48ea4" stroke-width="0.7"/>
<circle cx="251.24" cy="151.81" r="2.2" fill="#fff" stroke="#e48ea4" stroke-width="0.7"/>
<circle cx="253.9" cy="152.08" r="2.2" fill="#fff" stroke="#e48ea4" stroke-width="0.7"/>
<circle cx="256.55" cy="151.81" r="2.2" fill="#fff" stroke="#e48ea4" stroke-width="0.7"/>
<circle cx="259.21" cy="152.02" r="2.2" fill="#fff" stroke="#e48ea4" stroke-width="0.7"/>
<circle cx="261.87" cy="151.85" r="2.2" fill="#fff" stroke="#e48ea4" stroke-width="0.7"/>
<circle cx="264.52" cy="151.82" r="2.2" fill="#fff" stroke="#e48ea4" stroke-width="0.7"/>
<circle cx="267.17" cy="152.1" r="2.2" fill="#fff" stroke="#e48ea4" stroke-width="0.7"/>
<circle cx="269.83" cy="151.82" r="2.2" fill="#fff" stroke="#e48ea4" stroke-width="0.7"/>
<circle cx="272.49" cy="151.77" r="2.2" fill="#fff" stroke="#e48ea4" stroke-width="0.7"/>
<circle cx="275.14" cy="152.05" r="2.2" fill="#fff" stroke="#e48ea4" stroke-width="0.7"/>
<circle cx="277.79" cy="152.16" r="2.2" fill="#fff" stroke="#e48ea4" stroke-width="0.7"/>
<circle cx="280.45" cy="152.12" r="2.2" fill="#fff" stroke="#e48ea4" stroke-width="0.7"/>
<circle cx="283.11" cy="151.77" r="2.2" fill="#fff" stroke="#e48ea4" stroke-width="0.7"/>
<circle cx="285.76" cy="152.17" r="2.2" fill="#fff" stroke="#e48ea4" stroke-width="0.7"/>
<circle cx="288.41" cy="151.8" r="2.2" fill="#fff" stroke="#e48ea4" stroke-width="0.7"/>
<circle cx="291.07" cy="152.11" r="2.2" fill="#fff" stroke="#e48ea4" stroke-width="0.7"/>
<circle cx="293.73" cy="151.87" r="2.2" fill="#fff" stroke="#e48ea4" stroke-width="0.7"/>
<circle cx="296.38" cy="152.13" r="2.2" fill="#fff" stroke="#e48ea4" stroke-width="0.7"/>
<circle cx="299.03" cy="152.1" r="2.2" fill="#fff" stroke="#e48ea4" stroke-width="0.7"/>
<circle cx="301.69" cy="151.89" r="2.2" fill="#fff" stroke="#e48ea4" stroke-width="0.7"/>
<circle cx="304.34" cy="152.13" r="2.2" fill="#fff" stroke="#e48ea4" stroke-width="0.7"/>
<circle cx="307" cy="152.03" r="2.2" fill="#fff" stroke="#e48ea4" stroke-width="0.7"/>
<circle cx="44.16" cy="164.06" r="2.55" fill="#db8aa0"/>
<circle cx="46.81" cy="164.66" r="2.55" fill="#db8aa0"/>
<circle cx="49.47" cy="165.1" r="2.55" fill="#db8aa0"/>
<circle cx="52.12" cy="165.41" r="2.55" fill="#db8aa0"/>
<circle cx="54.77" cy="165.87" r="2.55" fill="#db8aa0"/>
<circle cx="57.43" cy="166.07" r="2.55" fill="#db8aa0"/>
<circle cx="60.08" cy="166.16" r="2.55" fill="#db8aa0"/>
<circle cx="62.74" cy="166.36" r="2.55" fill="#db8aa0"/>
<circle cx="65.39" cy="166.65" r="2.55" fill="#db8aa0"/>
<circle cx="68.05" cy="166.71" r="2.55" fill="#db8aa0"/>
<circle cx="70.7" cy="166.89" r="2.55" fill="#db8aa0"/>
<circle cx="73.36" cy="166.97" r="2.55" fill="#db8aa0"/>
<circle cx="76.02" cy="167.14" r="2.55" fill="#db8aa0"/>
<circle cx="78.67" cy="167.26" r="2.55" fill="#db8aa0"/>
<circle cx="81.32" cy="167.17" r="2.55" fill="#db8aa0"/>
<circle cx="83.98" cy="167.4" r="2.55" fill="#db8aa0"/>
<circle cx="86.63" cy="167.38" r="2.55" fill="#db8aa0"/>
<circle cx="89.29" cy="167.62" r="2.55" fill="#db8aa0"/>
<circle cx="91.94" cy="167.62" r="2.55" fill="#db8aa0"/>
<circle cx="94.6" cy="167.76" r="2.55" fill="#db8aa0"/>
<circle cx="97.25" cy="167.77" r="2.55" fill="#db8aa0"/>
<circle cx="99.91" cy="167.87" r="2.55" fill="#db8aa0"/>
<circle cx="102.56" cy="167.82" r="2.55" fill="#db8aa0"/>
<circle cx="105.22" cy="167.97" r="2.55" fill="#db8aa0"/>
<circle cx="107.88" cy="167.9" r="2.55" fill="#db8aa0"/>
<circle cx="110.53" cy="167.99" r="2.55" fill="#db8aa0"/>
<circle cx="113.18" cy="168.11" r="2.55" fill="#db8aa0"/>
<circle cx="115.84" cy="168.1" r="2.55" fill="#db8aa0"/>
<circle cx="118.49" cy="168.1" r="2.55" fill="#db8aa0"/>
<circle cx="121.15" cy="168.05" r="2.55" fill="#db8aa0"/>
<circle cx="123.8" cy="168.2" r="2.55" fill="#db8aa0"/>
<circle cx="126.46" cy="168.25" r="2.55" fill="#db8aa0"/>
<circle cx="129.12" cy="168.13" r="2.55" fill="#db8aa0"/>
<circle cx="131.77" cy="168.18" r="2.55" fill="#db8aa0"/>
<circle cx="134.43" cy="168.24" r="2.55" fill="#db8aa0"/>
<circle cx="137.08" cy="168.35" r="2.55" fill="#db8aa0"/>
<circle cx="139.74" cy="168.4" r="2.55" fill="#db8aa0"/>
<circle cx="142.39" cy="168.4" r="2.55" fill="#db8aa0"/>
<circle cx="145.04" cy="168.47" r="2.55" fill="#db8aa0"/>
<circle cx="147.7" cy="168.5" r="2.55" fill="#db8aa0"/>
<circle cx="150.35" cy="168.43" r="2.55" fill="#db8aa0"/>
<circle cx="153.01" cy="168.48" r="2.55" fill="#db8aa0"/>
<circle cx="155.66" cy="168.47" r="2.55" fill="#db8aa0"/>
<circle cx="158.32" cy="168.53" r="2.55" fill="#db8aa0"/>
<circle cx="160.97" cy="168.62" r="2.55" fill="#db8aa0"/>
<circle cx="163.63" cy="168.51" r="2.55" fill="#db8aa0"/>
<circle cx="166.28" cy="168.54" r="2.55" fill="#db8aa0"/>
<circle cx="168.94" cy="168.58" r="2.55" fill="#db8aa0"/>
<circle cx="171.59" cy="168.6" r="2.55" fill="#db8aa0"/>
<circle cx="174.25" cy="168.6" r="2.55" fill="#db8aa0"/>
<circle cx="176.91" cy="168.56" r="2.55" fill="#db8aa0"/>
<circle cx="179.56" cy="168.6" r="2.55" fill="#db8aa0"/>
<circle cx="182.22" cy="168.65" r="2.55" fill="#db8aa0"/>
<circle cx="184.87" cy="168.73" r="2.55" fill="#db8aa0"/>
<circle cx="187.52" cy="168.76" r="2.55" fill="#db8aa0"/>
<circle cx="190.18" cy="168.76" r="2.55" fill="#db8aa0"/>
<circle cx="192.83" cy="168.67" r="2.55" fill="#db8aa0"/>
<circle cx="195.49" cy="168.8" r="2.55" fill="#db8aa0"/>
<circle cx="198.14" cy="168.82" r="2.55" fill="#db8aa0"/>
<circle cx="200.8" cy="168.84" r="2.55" fill="#db8aa0"/>
<circle cx="203.45" cy="168.91" r="2.55" fill="#db8aa0"/>
<circle cx="206.11" cy="169.89" r="2.55" fill="#db8aa0"/>
<circle cx="208.76" cy="170.11" r="2.55" fill="#db8aa0"/>
<circle cx="211.42" cy="170.01" r="2.55" fill="#db8aa0"/>
<circle cx="214.07" cy="169.97" r="2.55" fill="#db8aa0"/>
<circle cx="216.73" cy="168.98" r="2.55" fill="#db8aa0"/>
<circle cx="219.38" cy="168.93" r="2.55" fill="#db8aa0"/>
<circle cx="222.04" cy="169" r="2.55" fill="#db8aa0"/>
<circle cx="224.69" cy="169.05" r="2.55" fill="#db8aa0"/>
<circle cx="227.35" cy="169.07" r="2.55" fill="#db8aa0"/>
<circle cx="230" cy="169.11" r="2.55" fill="#db8aa0"/>
<circle cx="232.66" cy="168.99" r="2.55" fill="#db8aa0"/>
<circle cx="235.31" cy="169.02" r="2.55" fill="#db8aa0"/>
<circle cx="237.97" cy="169.01" r="2.55" fill="#db8aa0"/>
<circle cx="240.62" cy="169.2" r="2.55" fill="#db8aa0"/>
<circle cx="243.28" cy="169.1" r="2.55" fill="#db8aa0"/>
<circle cx="245.93" cy="169.19" r="2.55" fill="#db8aa0"/>
<circle cx="248.59" cy="169.15" r="2.55" fill="#db8aa0"/>
<circle cx="251.24" cy="169.19" r="2.55" fill="#db8aa0"/>
<circle cx="253.9" cy="169.26" r="2.55" fill="#db8aa0"/>
<circle cx="256.55" cy="169.15" r="2.55" fill="#db8aa0"/>
<circle cx="259.21" cy="169.36" r="2.55" fill="#db8aa0"/>
<circle cx="261.87" cy="169.24" r="2.55" fill="#db8aa0"/>
<circle cx="264.52" cy="169.24" r="2.55" fill="#db8aa0"/>
<circle cx="267.17" cy="169.33" r="2.55" fill="#db8aa0"/>
<circle cx="269.83" cy="169.34" r="2.55" fill="#db8aa0"/>
<circle cx="272.49" cy="169.29" r="2.55" fill="#db8aa0"/>
<circle cx="275.14" cy="169.46" r="2.55" fill="#db8aa0"/>
<circle cx="277.79" cy="169.41" r="2.55" fill="#db8aa0"/>
<circle cx="280.45" cy="169.41" r="2.55" fill="#db8aa0"/>
<circle cx="283.11" cy="169.51" r="2.55" fill="#db8aa0"/>
<circle cx="285.76" cy="169.47" r="2.55" fill="#db8aa0"/>
<circle cx="288.41" cy="169.55" r="2.55" fill="#db8aa0"/>
<circle cx="291.07" cy="169.55" r="2.55" fill="#db8aa0"/>
<circle cx="293.73" cy="169.56" r="2.55" fill="#db8aa0"/>
<circle cx="296.38" cy="169.57" r="2.55" fill="#db8aa0"/>
<circle cx="299.03" cy="169.67" r="2.55" fill="#db8aa0"/>
<circle cx="301.69" cy="169.63" r="2.55" fill="#db8aa0"/>
<circle cx="304.34" cy="169.67" r="2.55" fill="#db8aa0"/>
<circle cx="307" cy="169.76" r="2.55" fill="#db8aa0"/>
<line x1="42.5" y1="135.2" x2="308" y2="135.2" stroke="#444" stroke-width="1.1" stroke-linecap="square"/>
<line x1="308" y1="135.2" x2="308" y2="232.4" stroke="#2a2a2a" stroke-width="1.1" stroke-linecap="square"/>
<line x1="42.5" y1="232.4" x2="308" y2="232.4" stroke="#2a2a2a" stroke-width="1.1" stroke-linecap="square"/>
<line x1="42.5" y1="135.2" x2="42.5" y2="232.4" stroke="#2a2a2a" stroke-width="1.1" stroke-linecap="square"/>
<line x1="38.5" y1="232.4" x2="42.5" y2="232.4" stroke="#2a2a2a" stroke-width="1" />
<line x1="40" y1="224.3" x2="42.5" y2="224.3" stroke="#2a2a2a" stroke-width="1" />
<line x1="38.5" y1="216.2" x2="42.5" y2="216.2" stroke="#2a2a2a" stroke-width="1" />
<line x1="40" y1="208.1" x2="42.5" y2="208.1" stroke="#2a2a2a" stroke-width="1" />
<line x1="38.5" y1="200" x2="42.5" y2="200" stroke="#2a2a2a" stroke-width="1" />
<line x1="40" y1="191.9" x2="42.5" y2="191.9" stroke="#2a2a2a" stroke-width="1" />
<line x1="38.5" y1="183.8" x2="42.5" y2="183.8" stroke="#2a2a2a" stroke-width="1" />
<line x1="40" y1="175.7" x2="42.5" y2="175.7" stroke="#2a2a2a" stroke-width="1" />
<line x1="38.5" y1="167.6" x2="42.5" y2="167.6" stroke="#2a2a2a" stroke-width="1" />
<line x1="40" y1="159.5" x2="42.5" y2="159.5" stroke="#2a2a2a" stroke-width="1" />
<line x1="38.5" y1="151.4" x2="42.5" y2="151.4" stroke="#2a2a2a" stroke-width="1" />
<line x1="40" y1="143.3" x2="42.5" y2="143.3" stroke="#2a2a2a" stroke-width="1" />
<line x1="38.5" y1="135.2" x2="42.5" y2="135.2" stroke="#2a2a2a" stroke-width="1" />
<text x="34" y="235" font-size="9.5" text-anchor="end" fill="#222" >0</text>
<text x="34" y="218.8" font-size="9.5" text-anchor="end" fill="#222" >50</text>
<text x="34" y="202.6" font-size="9.5" text-anchor="end" fill="#222" >100</text>
<text x="34" y="186.4" font-size="9.5" text-anchor="end" fill="#222" >150</text>
<text x="34" y="170.2" font-size="9.5" text-anchor="end" fill="#222" >200</text>
<text x="34" y="154" font-size="9.5" text-anchor="end" fill="#222" >250</text>
<text x="34" y="137.8" font-size="9.5" text-anchor="end" fill="#222" >300</text>
<line x1="308" y1="232.4" x2="312.2" y2="232.4" stroke="#2a2a2a" stroke-width="1" />
<line x1="308" y1="224.3" x2="310.6" y2="224.3" stroke="#2a2a2a" stroke-width="1" />
<line x1="308" y1="216.2" x2="312.2" y2="216.2" stroke="#2a2a2a" stroke-width="1" />
<line x1="308" y1="208.1" x2="310.6" y2="208.1" stroke="#2a2a2a" stroke-width="1" />
<line x1="308" y1="200" x2="312.2" y2="200" stroke="#2a2a2a" stroke-width="1" />
<line x1="308" y1="191.9" x2="310.6" y2="191.9" stroke="#2a2a2a" stroke-width="1" />
<line x1="308" y1="183.8" x2="312.2" y2="183.8" stroke="#2a2a2a" stroke-width="1" />
<line x1="308" y1="175.7" x2="310.6" y2="175.7" stroke="#2a2a2a" stroke-width="1" />
<line x1="308" y1="167.6" x2="312.2" y2="167.6" stroke="#2a2a2a" stroke-width="1" />
<line x1="308" y1="159.5" x2="310.6" y2="159.5" stroke="#2a2a2a" stroke-width="1" />
<line x1="308" y1="151.4" x2="312.2" y2="151.4" stroke="#2a2a2a" stroke-width="1" />
<line x1="308" y1="143.3" x2="310.6" y2="143.3" stroke="#2a2a2a" stroke-width="1" />
<line x1="308" y1="135.2" x2="312.2" y2="135.2" stroke="#2a2a2a" stroke-width="1" />
<text x="316.8" y="235" font-size="9.2" text-anchor="start" fill="#222" >0</text>
<text x="316.8" y="218.8" font-size="9.2" text-anchor="start" fill="#222" >20</text>
<text x="316.8" y="202.6" font-size="9.2" text-anchor="start" fill="#222" >40</text>
<text x="316.8" y="186.4" font-size="9.2" text-anchor="start" fill="#222" >60</text>
<text x="316.8" y="170.2" font-size="9.2" text-anchor="start" fill="#222" >80</text>
<text x="316.8" y="154" font-size="9.2" text-anchor="start" fill="#222" >100</text>
<text x="316.8" y="137.8" font-size="9.2" text-anchor="start" fill="#222" >120</text>
<line x1="42.5" y1="232.4" x2="42.5" y2="235.9" stroke="#2a2a2a" stroke-width="1" />
<line x1="69.05" y1="232.4" x2="69.05" y2="234.6" stroke="#2a2a2a" stroke-width="1" />
<line x1="95.6" y1="232.4" x2="95.6" y2="235.9" stroke="#2a2a2a" stroke-width="1" />
<line x1="122.15" y1="232.4" x2="122.15" y2="234.6" stroke="#2a2a2a" stroke-width="1" />
<line x1="148.7" y1="232.4" x2="148.7" y2="235.9" stroke="#2a2a2a" stroke-width="1" />
<line x1="175.25" y1="232.4" x2="175.25" y2="234.6" stroke="#2a2a2a" stroke-width="1" />
<line x1="201.8" y1="232.4" x2="201.8" y2="235.9" stroke="#2a2a2a" stroke-width="1" />
<line x1="228.35" y1="232.4" x2="228.35" y2="234.6" stroke="#2a2a2a" stroke-width="1" />
<line x1="254.9" y1="232.4" x2="254.9" y2="235.9" stroke="#2a2a2a" stroke-width="1" />
<line x1="281.45" y1="232.4" x2="281.45" y2="234.6" stroke="#2a2a2a" stroke-width="1" />
<line x1="308" y1="232.4" x2="308" y2="235.9" stroke="#2a2a2a" stroke-width="1" />
<text x="42.5" y="248.5" font-size="9.5" text-anchor="middle" fill="#222" >0</text>
<text x="95.6" y="248.5" font-size="9.5" text-anchor="middle" fill="#222" >20</text>
<text x="148.7" y="248.5" font-size="9.5" text-anchor="middle" fill="#222" >40</text>
<text x="201.8" y="248.5" font-size="9.5" text-anchor="middle" fill="#222" >60</text>
<text x="254.9" y="248.5" font-size="9.5" text-anchor="middle" fill="#222" >80</text>
<text x="308" y="248.5" font-size="9.5" text-anchor="middle" fill="#222" >100</text>
<text x="175.1" y="257.2" font-size="9.5" text-anchor="middle" fill="#222" >Cycle number</text>
<text transform="translate(9.6,183.2) rotate(-90)" font-size="9.7" text-anchor="middle" fill="#222">Capacity (mAh g<tspan font-size="6" dy="-3.4">-1</tspan><tspan dy="3.4">)</tspan></text>
<text transform="translate(342,190) rotate(-90)" font-size="9.7" text-anchor="middle" fill="#222">CE (%)</text>
<text x="9.7" y="134.8" font-size="10.2" text-anchor="start" fill="#222" >c</text>
<text x="49" y="182.8" font-size="9.75" text-anchor="start" fill="#222" >Temperature: 60</text>
<text x="123.2" y="179.4" font-size="6.2" fill="#222">o</text>
<text x="126.3" y="182.8" font-size="9.75" text-anchor="start" fill="#222" >C</text>
<line x1="48.8" y1="184.4" x2="122.6" y2="184.4" stroke="#222" stroke-width="0.8" />
<line x1="126.6" y1="184.4" x2="134" y2="184.4" stroke="#222" stroke-width="0.8" />
<polyline points="77,189.4 77,198.6 47.5,198.6" fill="none" stroke="#333" stroke-width="0.9" stroke-linejoin="round" stroke-linecap="round" />
<polygon points="45,198.6 48,197.25 48,199.95" fill="#111"/>
<text x="48.4" y="227.8" font-size="9.5" text-anchor="start" fill="#222" >2.7-4.8 V</text>
<line x1="48.2" y1="229.8" x2="87" y2="229.8" stroke="#222" stroke-width="0.8" />
<text x="245" y="190.2" font-size="9.5" text-anchor="start" fill="#222" >190.2 mAh g</text>
<text x="298.8" y="186.8" font-size="6" fill="#222">-1</text>
<line x1="293.5" y1="183.5" x2="305.5" y2="174.3" stroke="#111" stroke-width="0.8" />
<polygon points="307.6,172.8 306.07,175.71 304.4,173.58" fill="#111"/>
<polyline points="272,146.6 272,139.3 304.5,139.3" fill="none" stroke="#333" stroke-width="0.9" stroke-linejoin="round" stroke-linecap="round" />
<polygon points="307.2,139.3 304.2,140.65 304.2,137.95" fill="#111"/>
<polyline points="391.2,183.25 391.85,183.18 392.5,183.11 393.14,183.04 393.79,182.98 394.44,182.91 395.09,182.84 395.74,182.78 396.38,182.71 397.03,182.64 397.68,182.56 398.33,182.48 398.98,182.4 399.62,182.31 400.27,182.22 400.92,182.13 401.57,182.04 402.21,181.95 402.86,181.86 403.51,181.77 404.16,181.68 404.81,181.59 405.45,181.5 406.1,181.41 406.75,181.32 407.4,181.23 408.05,181.14 408.69,181.05 409.34,180.96 409.99,180.87 410.64,180.78 411.29,180.69 411.93,180.6 412.58,180.51 413.23,180.41 413.88,180.32 414.53,180.22 415.17,180.12 415.82,180.02 416.47,179.92 417.12,179.82 417.77,179.72 418.41,179.61 419.06,179.51 419.71,179.4 420.36,179.29 421,179.17 421.65,179.06 422.3,178.94 422.95,178.82 423.6,178.7 424.24,178.58 424.89,178.45 425.54,178.32 426.19,178.19 426.84,178.05 427.48,177.91 428.13,177.77 428.78,177.63 429.43,177.48 430.08,177.33 430.72,177.18 431.37,177.03 432.02,176.87 432.67,176.71 433.32,176.55 433.96,176.39 434.61,176.22 435.26,176.06 435.91,175.89 436.56,175.72 437.2,175.55 437.85,175.37 438.5,175.2 439.15,175.02 439.8,174.85 440.44,174.67 441.09,174.49 441.74,174.31 442.39,174.12 443.03,173.94 443.68,173.76 444.33,173.57 444.98,173.39 445.63,173.2 446.27,173.02 446.92,172.83 447.57,172.64 448.22,172.45 448.87,172.27 449.51,172.07 450.16,171.88 450.81,171.69 451.46,171.5 452.11,171.3 452.75,171.1 453.4,170.91 454.05,170.71 454.7,170.51 455.35,170.3 455.99,170.1 456.64,169.89 457.29,169.69 457.94,169.48 458.59,169.27 459.23,169.06 459.88,168.84 460.53,168.63 461.18,168.41 461.82,168.19 462.47,167.97 463.12,167.75 463.77,167.52 464.42,167.3 465.06,167.07 465.71,166.84 466.36,166.61 467.01,166.37 467.66,166.13 468.3,165.89 468.95,165.64 469.6,165.39 470.25,165.13 470.9,164.87 471.54,164.59 472.19,164.31 472.84,164.02 473.49,163.72 474.14,163.41 474.78,163.09 475.43,162.76 476.08,162.41 476.73,162.05 477.38,161.68 478.02,161.29 478.67,160.89 479.32,160.47 479.97,160.03 480.61,159.58 481.26,159.11 481.91,158.62 482.56,158.12 483.21,157.59 483.85,157.05 484.5,156.49 485.15,155.91 485.8,155.31 486.45,154.66 487.09,153.95 487.74,153.2 488.39,152.4 489.04,151.56 489.69,150.7 490.33,149.82 490.98,148.92 491.63,147.96 492.28,146.94 492.93,145.89 493.57,144.83 494.22,143.76 494.87,142.72" fill="none" stroke="#d9687f" stroke-width="1.0" stroke-linejoin="round" stroke-linecap="round" />
<polyline points="391.2,169.74 391.85,169.94 392.49,170.15 393.14,170.3 393.79,170.38 394.43,170.43 395.08,170.46 395.73,170.48 396.38,170.5 397.02,170.53 397.67,170.57 398.32,170.63 398.96,170.71 399.61,170.84 400.26,171 400.9,171.17 401.55,171.34 402.2,171.51 402.85,171.69 403.49,171.87 404.14,172.06 404.79,172.24 405.43,172.43 406.08,172.62 406.73,172.81 407.37,173.01 408.02,173.2 408.67,173.4 409.32,173.6 409.96,173.8 410.61,174 411.26,174.2 411.9,174.4 412.55,174.6 413.2,174.81 413.84,175.01 414.49,175.21 415.14,175.42 415.78,175.62 416.43,175.82 417.08,176.02 417.73,176.22 418.37,176.42 419.02,176.62 419.67,176.81 420.31,177.01 420.96,177.2 421.61,177.39 422.25,177.58 422.9,177.76 423.55,177.94 424.2,178.12 424.84,178.3 425.49,178.48 426.14,178.65 426.78,178.82 427.43,178.99 428.08,179.15 428.72,179.31 429.37,179.47 430.02,179.63 430.67,179.79 431.31,179.95 431.96,180.1 432.61,180.26 433.25,180.41 433.9,180.56 434.55,180.71 435.19,180.86 435.84,181.01 436.49,181.16 437.13,181.31 437.78,181.46 438.43,181.6 439.08,181.75 439.72,181.9 440.37,182.05 441.02,182.19 441.66,182.34 442.31,182.49 442.96,182.64 443.6,182.79 444.25,182.94 444.9,183.09 445.55,183.25 446.19,183.4 446.84,183.56 447.49,183.71 448.13,183.87 448.78,184.02 449.43,184.17 450.07,184.33 450.72,184.48 451.37,184.64 452.02,184.79 452.66,184.95 453.31,185.1 453.96,185.26 454.6,185.43 455.25,185.59 455.9,185.76 456.54,185.92 457.19,186.1 457.84,186.27 458.48,186.45 459.13,186.63 459.78,186.81 460.43,187 461.07,187.18 461.72,187.37 462.37,187.56 463.01,187.75 463.66,187.94 464.31,188.14 464.95,188.34 465.6,188.54 466.25,188.75 466.9,188.96 467.54,189.18 468.19,189.4 468.84,189.63 469.48,189.86 470.13,190.09 470.78,190.32 471.42,190.55 472.07,190.78 472.72,191.02 473.37,191.27 474.01,191.53 474.66,191.8 475.31,192.08 475.95,192.38 476.6,192.69 477.25,193.03 477.89,193.4 478.54,193.78 479.19,194.21 479.83,194.69 480.48,195.21 481.13,195.78 481.78,196.38 482.42,197.03 483.07,197.71 483.72,198.42 484.36,199.18 485.01,199.98 485.66,200.84 486.3,201.77 486.95,202.76 487.6,203.82 488.25,204.96 488.89,206.2 489.54,207.54 490.19,209.01 490.83,210.61 491.48,212.37 492.13,214.33 492.77,216.61 493.42,219.11 494.07,221.67 494.71,224.17" fill="none" stroke="#d9687f" stroke-width="1.0" stroke-linejoin="round" stroke-linecap="round" />
<polyline points="391.2,183.64 391.84,183.55 392.48,183.48 393.13,183.4 393.77,183.32 394.41,183.24 395.05,183.17 395.69,183.09 396.34,183.01 396.98,182.93 397.62,182.85 398.26,182.76 398.91,182.67 399.55,182.58 400.19,182.48 400.83,182.38 401.47,182.29 402.12,182.19 402.76,182.1 403.4,182 404.04,181.91 404.68,181.82 405.33,181.72 405.97,181.63 406.61,181.53 407.25,181.44 407.9,181.34 408.54,181.25 409.18,181.15 409.82,181.06 410.46,180.96 411.11,180.87 411.75,180.77 412.39,180.67 413.03,180.57 413.67,180.47 414.32,180.37 414.96,180.27 415.6,180.16 416.24,180.06 416.89,179.95 417.53,179.84 418.17,179.73 418.81,179.62 419.45,179.51 420.1,179.39 420.74,179.28 421.38,179.16 422.02,179.04 422.66,178.92 423.31,178.79 423.95,178.66 424.59,178.53 425.23,178.4 425.88,178.27 426.52,178.13 427.16,177.99 427.8,177.84 428.44,177.7 429.09,177.55 429.73,177.4 430.37,177.24 431.01,177.09 431.65,176.93 432.3,176.77 432.94,176.61 433.58,176.44 434.22,176.27 434.87,176.1 435.51,175.93 436.15,175.76 436.79,175.58 437.43,175.41 438.08,175.23 438.72,175.05 439.36,174.87 440,174.69 440.64,174.51 441.29,174.32 441.93,174.14 442.57,173.95 443.21,173.76 443.86,173.58 444.5,173.39 445.14,173.2 445.78,173.01 446.42,172.82 447.07,172.63 447.71,172.44 448.35,172.24 448.99,172.05 449.63,171.85 450.28,171.66 450.92,171.46 451.56,171.25 452.2,171.05 452.85,170.84 453.49,170.63 454.13,170.42 454.77,170.21 455.41,169.99 456.06,169.78 456.7,169.56 457.34,169.34 457.98,169.12 458.62,168.9 459.27,168.69 459.91,168.47 460.55,168.25 461.19,168.03 461.84,167.81 462.48,167.59 463.12,167.36 463.76,167.14 464.4,166.92 465.05,166.69 465.69,166.46 466.33,166.23 466.97,166 467.61,165.76 468.26,165.52 468.9,165.28 469.54,165.03 470.18,164.77 470.83,164.51 471.47,164.24 472.11,163.96 472.75,163.68 473.39,163.38 474.04,163.08 474.68,162.77 475.32,162.44 475.96,162.1 476.6,161.75 477.25,161.38 477.89,160.99 478.53,160.58 479.17,160.14 479.82,159.69 480.46,159.22 481.1,158.72 481.74,158.21 482.38,157.68 483.03,157.12 483.67,156.55 484.31,155.96 484.95,155.34 485.59,154.68 486.24,153.96 486.88,153.19 487.52,152.38 488.16,151.54 488.81,150.65 489.45,149.73 490.09,148.8 490.73,147.81 491.37,146.79 492.02,145.76 492.66,144.71 493.3,143.67 493.94,142.64" fill="none" stroke="#eaa7b7" stroke-width="1.0" stroke-linejoin="round" stroke-linecap="round" />
<polyline points="391.2,169.28 391.84,169.49 392.48,169.71 393.13,169.87 393.77,169.97 394.41,170.04 395.05,170.09 395.69,170.13 396.34,170.17 396.98,170.22 397.62,170.27 398.26,170.35 398.91,170.45 399.55,170.58 400.19,170.75 400.83,170.92 401.47,171.1 402.12,171.27 402.76,171.46 403.4,171.64 404.04,171.83 404.68,172.02 405.33,172.21 405.97,172.4 406.61,172.6 407.25,172.8 407.9,173 408.54,173.2 409.18,173.4 409.82,173.6 410.46,173.8 411.11,174.01 411.75,174.21 412.39,174.42 413.03,174.62 413.67,174.83 414.32,175.03 414.96,175.24 415.6,175.44 416.24,175.65 416.89,175.85 417.53,176.05 418.17,176.25 418.81,176.45 419.45,176.65 420.1,176.85 420.74,177.05 421.38,177.24 422.02,177.43 422.66,177.62 423.31,177.81 423.95,178 424.59,178.18 425.23,178.36 425.88,178.54 426.52,178.72 427.16,178.89 427.8,179.06 428.44,179.23 429.09,179.4 429.73,179.57 430.37,179.74 431.01,179.9 431.65,180.07 432.3,180.23 432.94,180.39 433.58,180.55 434.22,180.71 434.87,180.87 435.51,181.03 436.15,181.19 436.79,181.35 437.43,181.5 438.08,181.66 438.72,181.82 439.36,181.97 440,182.13 440.64,182.29 441.29,182.44 441.93,182.6 442.57,182.76 443.21,182.92 443.86,183.08 444.5,183.23 445.14,183.39 445.78,183.55 446.42,183.72 447.07,183.88 447.71,184.04 448.35,184.2 448.99,184.36 449.63,184.51 450.28,184.67 450.92,184.83 451.56,184.98 452.2,185.14 452.85,185.29 453.49,185.45 454.13,185.61 454.77,185.77 455.41,185.93 456.06,186.09 456.7,186.26 457.34,186.43 457.98,186.6 458.62,186.77 459.27,186.95 459.91,187.13 460.55,187.31 461.19,187.5 461.84,187.68 462.48,187.87 463.12,188.06 463.76,188.26 464.4,188.45 465.05,188.65 465.69,188.86 466.33,189.07 466.97,189.28 467.61,189.5 468.26,189.72 468.9,189.95 469.54,190.18 470.18,190.41 470.83,190.64 471.47,190.88 472.11,191.12 472.75,191.38 473.39,191.64 474.04,191.91 474.68,192.2 475.32,192.51 475.96,192.84 476.6,193.19 477.25,193.56 477.89,193.96 478.53,194.39 479.17,194.88 479.82,195.4 480.46,195.97 481.1,196.57 481.74,197.22 482.38,197.9 483.03,198.62 483.67,199.38 484.31,200.19 484.95,201.06 485.59,201.98 486.24,202.96 486.88,204.01 487.52,205.13 488.16,206.33 488.81,207.64 489.45,209.07 490.09,210.64 490.73,212.38 491.37,214.35 492.02,216.65 492.66,219.16 493.3,221.74 493.94,224.24" fill="none" stroke="#eaa7b7" stroke-width="1.0" stroke-linejoin="round" stroke-linecap="round" />
<polyline points="391.2,184.12 391.84,184.02 392.47,183.93 393.11,183.84 393.74,183.75 394.38,183.66 395.01,183.57 395.65,183.48 396.28,183.39 396.92,183.3 397.55,183.2 398.19,183.11 398.82,183.01 399.46,182.91 400.09,182.81 400.73,182.7 401.36,182.6 402,182.5 402.63,182.4 403.27,182.3 403.9,182.2 404.54,182.1 405.17,182 405.81,181.9 406.44,181.8 407.08,181.7 407.71,181.6 408.35,181.49 408.98,181.39 409.62,181.29 410.25,181.19 410.89,181.08 411.52,180.98 412.16,180.87 412.79,180.77 413.43,180.66 414.06,180.55 414.7,180.45 415.33,180.34 415.97,180.22 416.6,180.11 417.24,180 417.87,179.88 418.51,179.77 419.14,179.65 419.78,179.53 420.41,179.41 421.05,179.28 421.68,179.16 422.32,179.03 422.95,178.9 423.59,178.77 424.22,178.64 424.86,178.5 425.49,178.37 426.13,178.23 426.76,178.08 427.4,177.94 428.03,177.79 428.67,177.64 429.3,177.48 429.94,177.33 430.57,177.17 431.21,177 431.84,176.84 432.48,176.67 433.11,176.51 433.75,176.33 434.38,176.16 435.02,175.99 435.65,175.81 436.29,175.63 436.92,175.45 437.56,175.27 438.19,175.09 438.83,174.9 439.46,174.72 440.1,174.53 440.73,174.34 441.37,174.15 442,173.96 442.64,173.77 443.27,173.58 443.91,173.38 444.54,173.19 445.18,173 445.82,172.8 446.45,172.61 447.09,172.41 447.72,172.22 448.36,172.02 448.99,171.82 449.63,171.62 450.26,171.41 450.9,171.19 451.53,170.98 452.17,170.76 452.8,170.54 453.44,170.31 454.07,170.08 454.71,169.86 455.34,169.63 455.98,169.4 456.61,169.17 457.25,168.94 457.88,168.71 458.52,168.49 459.15,168.26 459.79,168.04 460.42,167.82 461.06,167.6 461.69,167.38 462.33,167.16 462.96,166.94 463.6,166.72 464.23,166.5 464.87,166.28 465.5,166.06 466.14,165.83 466.77,165.6 467.41,165.37 468.04,165.14 468.68,164.89 469.31,164.65 469.95,164.39 470.58,164.14 471.22,163.88 471.85,163.62 472.49,163.35 473.12,163.07 473.76,162.78 474.39,162.48 475.03,162.16 475.66,161.83 476.3,161.48 476.93,161.11 477.57,160.71 478.2,160.29 478.84,159.83 479.47,159.36 480.11,158.85 480.74,158.33 481.38,157.78 482.01,157.22 482.65,156.63 483.28,156.02 483.92,155.38 484.55,154.7 485.19,153.96 485.82,153.19 486.46,152.37 487.09,151.5 487.73,150.59 488.36,149.63 489,148.64 489.63,147.63 490.27,146.61 490.9,145.58 491.54,144.56 492.17,143.55 492.81,142.55" fill="none" stroke="#f2cad3" stroke-width="1.0" stroke-linejoin="round" stroke-linecap="round" />
<polyline points="391.2,168.7 391.83,168.92 392.47,169.15 393.1,169.34 393.74,169.45 394.37,169.55 395,169.62 395.64,169.69 396.27,169.76 396.91,169.83 397.54,169.91 398.18,170 398.81,170.11 399.44,170.26 400.08,170.43 400.71,170.61 401.35,170.79 401.98,170.98 402.61,171.16 403.25,171.35 403.88,171.55 404.52,171.74 405.15,171.94 405.78,172.13 406.42,172.33 407.05,172.54 407.69,172.74 408.32,172.94 408.95,173.15 409.59,173.35 410.22,173.56 410.86,173.76 411.49,173.97 412.13,174.18 412.76,174.39 413.39,174.6 414.03,174.8 414.66,175.01 415.3,175.22 415.93,175.43 416.56,175.64 417.2,175.84 417.83,176.05 418.47,176.25 419.1,176.46 419.73,176.66 420.37,176.86 421,177.06 421.64,177.26 422.27,177.45 422.9,177.65 423.54,177.84 424.17,178.03 424.81,178.22 425.44,178.41 426.08,178.59 426.71,178.77 427.34,178.96 427.98,179.14 428.61,179.31 429.25,179.49 429.88,179.67 430.51,179.85 431.15,180.02 431.78,180.2 432.42,180.37 433.05,180.54 433.68,180.71 434.32,180.88 434.95,181.05 435.59,181.22 436.22,181.39 436.85,181.56 437.49,181.73 438.12,181.9 438.76,182.07 439.39,182.24 440.03,182.4 440.66,182.57 441.29,182.74 441.93,182.91 442.56,183.07 443.2,183.24 443.83,183.41 444.46,183.58 445.1,183.75 445.73,183.92 446.37,184.08 447,184.25 447.63,184.42 448.27,184.58 448.9,184.75 449.54,184.91 450.17,185.07 450.8,185.22 451.44,185.38 452.07,185.53 452.71,185.68 453.34,185.83 453.98,185.99 454.61,186.14 455.24,186.3 455.88,186.46 456.51,186.62 457.15,186.78 457.78,186.95 458.41,187.12 459.05,187.29 459.68,187.47 460.32,187.65 460.95,187.84 461.58,188.03 462.22,188.21 462.85,188.4 463.49,188.6 464.12,188.79 464.75,188.99 465.39,189.2 466.02,189.4 466.66,189.62 467.29,189.84 467.93,190.06 468.56,190.29 469.19,190.52 469.83,190.76 470.46,191 471.1,191.25 471.73,191.51 472.36,191.78 473,192.06 473.63,192.36 474.27,192.68 474.9,193.02 475.53,193.38 476.17,193.76 476.8,194.17 477.44,194.62 478.07,195.11 478.7,195.63 479.34,196.2 479.97,196.81 480.61,197.46 481.24,198.15 481.88,198.88 482.51,199.64 483.14,200.46 483.78,201.32 484.41,202.24 485.05,203.22 485.68,204.24 486.31,205.33 486.95,206.49 487.58,207.76 488.22,209.15 488.85,210.69 489.48,212.39 490.12,214.37 490.75,216.7 491.39,219.23 492.02,221.83 492.65,224.34" fill="none" stroke="#f2cad3" stroke-width="1.0" stroke-linejoin="round" stroke-linecap="round" />
<polyline points="391.2,184.6 391.83,184.49 392.45,184.39 393.08,184.28 393.7,184.18 394.33,184.08 394.96,183.97 395.58,183.87 396.21,183.77 396.83,183.66 397.46,183.56 398.09,183.46 398.71,183.35 399.34,183.24 399.96,183.13 400.59,183.03 401.22,182.92 401.84,182.81 402.47,182.7 403.09,182.6 403.72,182.49 404.35,182.38 404.97,182.28 405.6,182.17 406.23,182.06 406.85,181.95 407.48,181.85 408.1,181.74 408.73,181.63 409.36,181.52 409.98,181.41 410.61,181.3 411.23,181.19 411.86,181.08 412.49,180.97 413.11,180.85 413.74,180.74 414.36,180.62 414.99,180.51 415.62,180.39 416.24,180.27 416.87,180.15 417.49,180.03 418.12,179.91 418.75,179.79 419.37,179.66 420,179.54 420.62,179.41 421.25,179.28 421.88,179.15 422.5,179.02 423.13,178.88 423.75,178.74 424.38,178.61 425.01,178.47 425.63,178.32 426.26,178.18 426.88,178.03 427.51,177.88 428.14,177.72 428.76,177.57 429.39,177.41 430.01,177.25 430.64,177.08 431.27,176.91 431.89,176.74 432.52,176.57 433.15,176.4 433.77,176.22 434.4,176.04 435.02,175.86 435.65,175.68 436.28,175.49 436.9,175.31 437.53,175.12 438.15,174.93 438.78,174.74 439.41,174.55 440.03,174.36 440.66,174.17 441.28,173.97 441.91,173.78 442.54,173.58 443.16,173.38 443.79,173.18 444.41,172.99 445.04,172.79 445.67,172.59 446.29,172.39 446.92,172.19 447.54,171.99 448.17,171.78 448.8,171.57 449.42,171.36 450.05,171.14 450.67,170.91 451.3,170.68 451.93,170.44 452.55,170.2 453.18,169.96 453.8,169.72 454.43,169.48 455.06,169.24 455.68,169 456.31,168.76 456.93,168.52 457.56,168.29 458.19,168.06 458.81,167.84 459.44,167.62 460.07,167.4 460.69,167.18 461.32,166.96 461.94,166.75 462.57,166.53 463.2,166.32 463.82,166.1 464.45,165.89 465.07,165.67 465.7,165.45 466.33,165.22 466.95,164.99 467.58,164.76 468.2,164.52 468.83,164.28 469.46,164.04 470.08,163.8 470.71,163.56 471.33,163.31 471.96,163.06 472.59,162.79 473.21,162.52 473.84,162.23 474.46,161.92 475.09,161.58 475.72,161.23 476.34,160.85 476.97,160.43 477.59,159.98 478.22,159.49 478.85,158.98 479.47,158.45 480.1,157.89 480.72,157.31 481.35,156.71 481.98,156.08 482.6,155.42 483.23,154.72 483.85,153.97 484.48,153.18 485.11,152.35 485.73,151.47 486.36,150.52 486.99,149.52 487.61,148.49 488.24,147.45 488.86,146.42 489.49,145.41 490.12,144.42 490.74,143.43 491.37,142.45" fill="none" stroke="#c9e0f1" stroke-width="1.0" stroke-linejoin="round" stroke-linecap="round" />
<polyline points="391.2,168.12 391.82,168.36 392.45,168.6 393.07,168.8 393.7,168.94 394.32,169.06 394.95,169.16 395.57,169.25 396.2,169.34 396.82,169.44 397.44,169.54 398.07,169.65 398.69,169.78 399.32,169.93 399.94,170.11 400.57,170.29 401.19,170.48 401.82,170.68 402.44,170.87 403.06,171.07 403.69,171.26 404.31,171.46 404.94,171.66 405.56,171.87 406.19,172.07 406.81,172.27 407.44,172.48 408.06,172.69 408.68,172.89 409.31,173.1 409.93,173.31 410.56,173.52 411.18,173.73 411.81,173.94 412.43,174.15 413.06,174.37 413.68,174.58 414.3,174.79 414.93,175 415.55,175.21 416.18,175.42 416.8,175.63 417.43,175.84 418.05,176.05 418.68,176.26 419.3,176.46 419.92,176.67 420.55,176.88 421.17,177.08 421.8,177.28 422.42,177.48 423.05,177.68 423.67,177.88 424.3,178.08 424.92,178.27 425.54,178.46 426.17,178.66 426.79,178.85 427.42,179.04 428.04,179.23 428.67,179.41 429.29,179.6 429.92,179.79 430.54,179.98 431.16,180.16 431.79,180.35 432.41,180.53 433.04,180.71 433.66,180.9 434.29,181.08 434.91,181.26 435.54,181.44 436.16,181.62 436.78,181.8 437.41,181.98 438.03,182.16 438.66,182.34 439.28,182.52 439.91,182.7 440.53,182.88 441.15,183.05 441.78,183.23 442.4,183.41 443.03,183.59 443.65,183.76 444.28,183.94 444.9,184.11 445.53,184.29 446.15,184.46 446.77,184.64 447.4,184.81 448.02,184.98 448.65,185.15 449.27,185.31 449.9,185.46 450.52,185.62 451.15,185.77 451.77,185.92 452.39,186.06 453.02,186.21 453.64,186.36 454.27,186.51 454.89,186.66 455.52,186.81 456.14,186.97 456.77,187.13 457.39,187.29 458.01,187.46 458.64,187.63 459.26,187.81 459.89,188 460.51,188.18 461.14,188.37 461.76,188.55 462.39,188.74 463.01,188.93 463.63,189.13 464.26,189.33 464.88,189.53 465.51,189.74 466.13,189.95 466.76,190.17 467.38,190.4 468.01,190.63 468.63,190.87 469.25,191.12 469.88,191.37 470.5,191.64 471.13,191.92 471.75,192.21 472.38,192.52 473,192.84 473.63,193.19 474.25,193.57 474.87,193.96 475.5,194.39 476.12,194.84 476.75,195.34 477.37,195.87 478,196.44 478.62,197.05 479.25,197.7 479.87,198.39 480.49,199.13 481.12,199.9 481.74,200.72 482.37,201.59 482.99,202.51 483.62,203.48 484.24,204.48 484.87,205.53 485.49,206.66 486.11,207.88 486.74,209.23 487.36,210.73 487.99,212.4 488.61,214.39 489.24,216.74 489.86,219.3 490.49,221.92 491.11,224.44" fill="none" stroke="#c9e0f1" stroke-width="1.0" stroke-linejoin="round" stroke-linecap="round" />
<polyline points="391.2,185.18 391.81,185.06 392.43,184.94 393.04,184.82 393.66,184.7 394.27,184.58 394.89,184.46 395.5,184.34 396.12,184.22 396.73,184.11 397.35,183.99 397.96,183.87 398.58,183.76 399.19,183.64 399.81,183.53 400.42,183.41 401.04,183.3 401.65,183.18 402.27,183.07 402.88,182.95 403.5,182.84 404.11,182.72 404.73,182.61 405.34,182.49 405.95,182.38 406.57,182.26 407.18,182.15 407.8,182.03 408.41,181.91 409.03,181.8 409.64,181.68 410.26,181.56 410.87,181.44 411.49,181.32 412.1,181.2 412.72,181.08 413.33,180.96 413.95,180.84 414.56,180.72 415.18,180.59 415.79,180.47 416.41,180.34 417.02,180.21 417.64,180.09 418.25,179.96 418.87,179.82 419.48,179.69 420.09,179.56 420.71,179.42 421.32,179.29 421.94,179.15 422.55,179.01 423.17,178.87 423.78,178.73 424.4,178.58 425.01,178.44 425.63,178.29 426.24,178.14 426.86,177.99 427.47,177.83 428.09,177.67 428.7,177.51 429.32,177.34 429.93,177.17 430.55,177 431.16,176.83 431.78,176.65 432.39,176.47 433.01,176.29 433.62,176.11 434.23,175.92 434.85,175.74 435.46,175.55 436.08,175.36 436.69,175.16 437.31,174.97 437.92,174.78 438.54,174.58 439.15,174.38 439.77,174.18 440.38,173.98 441,173.78 441.61,173.58 442.23,173.38 442.84,173.18 443.46,172.97 444.07,172.77 444.69,172.56 445.3,172.36 445.92,172.16 446.53,171.95 447.15,171.74 447.76,171.53 448.37,171.3 448.99,171.06 449.6,170.82 450.22,170.58 450.83,170.33 451.45,170.07 452.06,169.82 452.68,169.56 453.29,169.3 453.91,169.04 454.52,168.79 455.14,168.54 455.75,168.29 456.37,168.05 456.98,167.82 457.6,167.59 458.21,167.37 458.83,167.15 459.44,166.94 460.06,166.72 460.67,166.51 461.29,166.3 461.9,166.09 462.51,165.89 463.13,165.68 463.74,165.47 464.36,165.26 464.97,165.04 465.59,164.82 466.2,164.6 466.82,164.38 467.43,164.15 468.05,163.92 468.66,163.7 469.28,163.49 469.89,163.27 470.51,163.04 471.12,162.81 471.74,162.56 472.35,162.3 472.97,162.02 473.58,161.71 474.2,161.38 474.81,161.01 475.43,160.6 476.04,160.14 476.65,159.66 477.27,159.14 477.88,158.59 478.5,158.01 479.11,157.42 479.73,156.8 480.34,156.15 480.96,155.47 481.57,154.74 482.19,153.98 482.8,153.17 483.42,152.33 484.03,151.44 484.65,150.45 485.26,149.39 485.88,148.31 486.49,147.23 487.11,146.19 487.72,145.21 488.34,144.24 488.95,143.29 489.56,142.33" fill="none" stroke="#6aa0cd" stroke-width="1.0" stroke-linejoin="round" stroke-linecap="round" />
<polyline points="391.2,167.42 391.81,167.68 392.43,167.94 393.04,168.16 393.65,168.32 394.27,168.47 394.88,168.6 395.49,168.73 396.11,168.85 396.72,168.97 397.33,169.1 397.95,169.23 398.56,169.38 399.18,169.54 399.79,169.72 400.4,169.92 401.02,170.12 401.63,170.32 402.24,170.52 402.86,170.72 403.47,170.92 404.08,171.13 404.7,171.34 405.31,171.54 405.92,171.75 406.54,171.96 407.15,172.17 407.76,172.38 408.38,172.59 408.99,172.81 409.6,173.02 410.22,173.23 410.83,173.45 411.45,173.66 412.06,173.87 412.67,174.09 413.29,174.3 413.9,174.52 414.51,174.73 415.13,174.95 415.74,175.16 416.35,175.38 416.97,175.59 417.58,175.81 418.19,176.02 418.81,176.23 419.42,176.45 420.03,176.66 420.65,176.87 421.26,177.08 421.87,177.29 422.49,177.49 423.1,177.7 423.72,177.91 424.33,178.11 424.94,178.31 425.56,178.52 426.17,178.72 426.78,178.92 427.4,179.12 428.01,179.32 428.62,179.52 429.24,179.72 429.85,179.92 430.46,180.12 431.08,180.32 431.69,180.52 432.3,180.71 432.92,180.91 433.53,181.11 434.14,181.3 434.76,181.5 435.37,181.7 435.99,181.89 436.6,182.08 437.21,182.28 437.83,182.47 438.44,182.66 439.05,182.85 439.67,183.04 440.28,183.23 440.89,183.42 441.51,183.61 442.12,183.8 442.73,183.98 443.35,184.17 443.96,184.35 444.57,184.54 445.19,184.72 445.8,184.9 446.41,185.08 447.03,185.26 447.64,185.43 448.25,185.59 448.87,185.75 449.48,185.9 450.1,186.05 450.71,186.19 451.32,186.34 451.94,186.48 452.55,186.61 453.16,186.75 453.78,186.9 454.39,187.04 455,187.19 455.62,187.34 456.23,187.49 456.84,187.66 457.46,187.83 458.07,188.01 458.68,188.19 459.3,188.37 459.91,188.55 460.52,188.73 461.14,188.91 461.75,189.1 462.37,189.29 462.98,189.48 463.59,189.68 464.21,189.88 464.82,190.09 465.43,190.31 466.05,190.53 466.66,190.77 467.27,191.01 467.89,191.26 468.5,191.52 469.11,191.79 469.73,192.08 470.34,192.38 470.95,192.7 471.57,193.05 472.18,193.41 472.79,193.79 473.41,194.21 474.02,194.64 474.64,195.11 475.25,195.62 475.86,196.15 476.48,196.72 477.09,197.33 477.7,197.99 478.32,198.69 478.93,199.43 479.54,200.21 480.16,201.04 480.77,201.91 481.38,202.83 482,203.78 482.61,204.76 483.22,205.77 483.84,206.85 484.45,208.03 485.06,209.33 485.68,210.78 486.29,212.41 486.91,214.42 487.52,216.8 488.13,219.39 488.75,222.03 489.36,224.55" fill="none" stroke="#6aa0cd" stroke-width="1.0" stroke-linejoin="round" stroke-linecap="round" />
<line x1="391.2" y1="142.33" x2="391.2" y2="168.58" stroke="#b5d3ea" stroke-width="1.1" />
<line x1="391.2" y1="184.41" x2="391.2" y2="224.55" stroke="#b5d3ea" stroke-width="1.1" />
<line x1="385.3" y1="135.3" x2="506.3" y2="135.3" stroke="#888" stroke-width="1.3" stroke-linecap="square"/>
<line x1="506.3" y1="135.3" x2="506.3" y2="231.5" stroke="#444" stroke-width="1.1" stroke-linecap="square"/>
<line x1="385.3" y1="231.5" x2="506.3" y2="231.5" stroke="#444" stroke-width="1.1" stroke-linecap="square"/>
<line x1="385.3" y1="135.3" x2="385.3" y2="231.5" stroke="#555" stroke-width="1.1" stroke-linecap="square"/>
<line x1="382.3" y1="231.5" x2="385.3" y2="231.5" stroke="#4a4a4a" stroke-width="1" />
<line x1="383.5" y1="221.85" x2="385.3" y2="221.85" stroke="#4a4a4a" stroke-width="1" />
<line x1="382.3" y1="212.2" x2="385.3" y2="212.2" stroke="#4a4a4a" stroke-width="1" />
<line x1="383.5" y1="202.55" x2="385.3" y2="202.55" stroke="#4a4a4a" stroke-width="1" />
<line x1="382.3" y1="192.9" x2="385.3" y2="192.9" stroke="#4a4a4a" stroke-width="1" />
<line x1="383.5" y1="183.25" x2="385.3" y2="183.25" stroke="#4a4a4a" stroke-width="1" />
<line x1="382.3" y1="173.6" x2="385.3" y2="173.6" stroke="#4a4a4a" stroke-width="1" />
<line x1="383.5" y1="163.95" x2="385.3" y2="163.95" stroke="#4a4a4a" stroke-width="1" />
<line x1="382.3" y1="154.3" x2="385.3" y2="154.3" stroke="#4a4a4a" stroke-width="1" />
<line x1="383.5" y1="144.65" x2="385.3" y2="144.65" stroke="#4a4a4a" stroke-width="1" />
<line x1="382.3" y1="135" x2="385.3" y2="135" stroke="#4a4a4a" stroke-width="1" />
<text x="382.2" y="234.1" font-size="9.5" text-anchor="end" fill="#222" >2.5</text>
<text x="382.2" y="214.8" font-size="9.5" text-anchor="end" fill="#222" >3.0</text>
<text x="382.2" y="195.5" font-size="9.5" text-anchor="end" fill="#222" >3.5</text>
<text x="382.2" y="176.2" font-size="9.5" text-anchor="end" fill="#222" >4.0</text>
<text x="382.2" y="156.9" font-size="9.5" text-anchor="end" fill="#222" >4.5</text>
<text x="382.2" y="137.6" font-size="9.5" text-anchor="end" fill="#222" >5.0</text>
<line x1="390.4" y1="231.5" x2="390.4" y2="234.5" stroke="#4a4a4a" stroke-width="1" />
<line x1="403.27" y1="231.5" x2="403.27" y2="233.3" stroke="#4a4a4a" stroke-width="1" />
<line x1="416.15" y1="231.5" x2="416.15" y2="234.5" stroke="#4a4a4a" stroke-width="1" />
<line x1="429.02" y1="231.5" x2="429.02" y2="233.3" stroke="#4a4a4a" stroke-width="1" />
<line x1="441.9" y1="231.5" x2="441.9" y2="234.5" stroke="#4a4a4a" stroke-width="1" />
<line x1="454.77" y1="231.5" x2="454.77" y2="233.3" stroke="#4a4a4a" stroke-width="1" />
<line x1="467.65" y1="231.5" x2="467.65" y2="234.5" stroke="#4a4a4a" stroke-width="1" />
<line x1="480.52" y1="231.5" x2="480.52" y2="233.3" stroke="#4a4a4a" stroke-width="1" />
<line x1="493.4" y1="231.5" x2="493.4" y2="234.5" stroke="#4a4a4a" stroke-width="1" />
<text x="390.4" y="242.4" font-size="9.5" text-anchor="middle" fill="#222" >0</text>
<text x="416.15" y="242.4" font-size="9.5" text-anchor="middle" fill="#222" >50</text>
<text x="441.9" y="242.4" font-size="9.5" text-anchor="middle" fill="#222" >100</text>
<text x="467.65" y="242.4" font-size="9.5" text-anchor="middle" fill="#222" >150</text>
<text x="493.4" y="242.4" font-size="9.5" text-anchor="middle" fill="#222" >200</text>
<text x="445.8" y="253.2" font-size="9.7" text-anchor="middle" fill="#222">Capacity (mAh g<tspan font-size="6" dy="-3.4">-1</tspan><tspan dy="3.4">)</tspan></text>
<text transform="translate(365.8,182.8) rotate(-90)" font-size="9.8" text-anchor="middle" fill="#222">Voltage (V)</text>
<text x="359.6" y="135.1" font-size="11.0" text-anchor="start" fill="#222" >d</text>
<text x="395.5" y="145.6" font-size="9.5" text-anchor="start" fill="#222" >Ct/cc-0.82</text>
<line x1="395.3" y1="147.4" x2="439.2" y2="147.4" stroke="#222" stroke-width="0.8" />
<line x1="397.6" y1="186.3" x2="416.7" y2="186.3" stroke="#d9687f" stroke-width="1.05" />
<text x="418.8" y="189.3" font-size="8.2" text-anchor="start" fill="#222" >10th</text>
<line x1="397.6" y1="196.6" x2="416.7" y2="196.6" stroke="#eaa7b7" stroke-width="1.05" />
<text x="418.8" y="199.6" font-size="8.2" text-anchor="start" fill="#222" >25th</text>
<line x1="397.6" y1="206.9" x2="416.7" y2="206.9" stroke="#f2cad3" stroke-width="1.05" />
<text x="418.8" y="209.9" font-size="8.2" text-anchor="start" fill="#222" >50th</text>
<line x1="397.6" y1="217.3" x2="416.7" y2="217.3" stroke="#c9e0f1" stroke-width="1.05" />
<text x="418.8" y="220.3" font-size="8.2" text-anchor="start" fill="#222" >75th</text>
<line x1="397.6" y1="227" x2="416.7" y2="227" stroke="#6aa0cd" stroke-width="1.05" />
<text x="418.8" y="230" font-size="8.2" text-anchor="start" fill="#222" >100th</text>
<clipPath id="clipE"><rect x="549.2" y="12" width="112.4" height="213.6"/></clipPath>
<line x1="577.3" y1="12" x2="577.3" y2="225.5" stroke="#dcdcdc" stroke-width="0.5" stroke-dasharray="1,1"/>
<line x1="605.4" y1="12" x2="605.4" y2="225.5" stroke="#dcdcdc" stroke-width="0.5" stroke-dasharray="1,1"/>
<line x1="633.5" y1="12" x2="633.5" y2="225.5" stroke="#dcdcdc" stroke-width="0.5" stroke-dasharray="1,1"/>
<line x1="549.2" y1="172.12" x2="661.6" y2="172.12" stroke="#dcdcdc" stroke-width="0.5" stroke-dasharray="1,1"/>
<line x1="549.2" y1="118.74" x2="661.6" y2="118.74" stroke="#dcdcdc" stroke-width="0.5" stroke-dasharray="1,1"/>
<line x1="549.2" y1="65.36" x2="661.6" y2="65.36" stroke="#dcdcdc" stroke-width="0.5" stroke-dasharray="1,1"/>
<g clip-path="url(#clipE)">
<polyline points="549.31,224.3 549.44,224.09 549.58,223.87 549.71,223.64 549.84,223.42 549.97,223.2 550.11,222.98 550.24,222.77 550.37,222.58 550.5,222.41 550.64,222.26 550.77,222.12 550.9,221.99 551.03,221.85 551.17,221.72 551.3,221.59 551.43,221.46 551.56,221.33 551.69,221.21 551.83,221.09 551.96,220.97 552.09,220.86 552.22,220.75 552.36,220.64 552.49,220.54 552.62,220.44 552.75,220.34 552.89,220.24 553.02,220.15 553.15,220.06 553.28,219.98 553.42,219.89 553.55,219.82 553.68,219.74 553.81,219.66 553.94,219.58 554.08,219.5 554.21,219.43 554.34,219.35 554.47,219.28 554.61,219.2 554.74,219.13 554.87,219.06 555,218.99 555.14,218.92 555.27,218.84 555.4,218.78 555.53,218.71 555.67,218.64 555.8,218.57 555.93,218.51 556.06,218.44 556.19,218.38 556.33,218.31 556.46,218.25 556.59,218.19 556.72,218.13 556.86,218.07 556.99,218.01 557.12,217.95 557.25,217.89 557.39,217.84 557.52,217.78 557.65,217.73 557.78,217.67 557.92,217.62 558.05,217.57 558.18,217.52 558.31,217.47 558.44,217.42 558.58,217.38 558.71,217.33 558.84,217.29 558.97,217.25 559.11,217.2 559.24,217.16 559.37,217.12 559.5,217.08 559.64,217.04 559.77,217 559.9,216.97 560.03,216.93 560.17,216.89 560.3,216.86 560.43,216.82 560.56,216.79 560.69,216.75 560.83,216.72 560.96,216.69 561.09,216.66 561.22,216.63 561.36,216.59 561.49,216.56 561.62,216.54 561.75,216.51 561.89,216.48 562.02,216.45 562.15,216.42 562.28,216.4 562.42,216.37 562.55,216.35 562.68,216.32 562.81,216.3 562.94,216.28 563.08,216.25 563.21,216.23 563.34,216.21 563.47,216.19 563.61,216.17 563.74,216.15 563.87,216.13 564,216.11 564.14,216.09 564.27,216.08 564.4,216.06 564.53,216.04 564.67,216.03 564.8,216.01 564.93,216 565.06,215.98 565.19,215.97 565.33,215.96 565.46,215.94 565.59,215.93 565.72,215.92 565.86,215.91 565.99,215.9 566.12,215.89 566.25,215.88 566.39,215.87 566.52,215.86 566.65,215.86 566.78,215.85 566.92,215.84 567.05,215.84 567.18,215.84 567.31,215.83 567.44,215.83 567.58,215.83 567.71,215.83 567.84,215.83 567.97,215.83 568.11,215.83 568.24,215.83 568.37,215.84 568.5,215.84 568.64,215.84 568.77,215.85 568.9,215.85 569.03,215.86 569.17,215.86 569.3,215.87 569.43,215.88 569.56,215.88 569.69,215.89 569.83,215.9 569.96,215.91 570.09,215.91 570.22,215.92 570.36,215.93 570.49,215.94 570.62,215.95 570.75,215.96 570.89,215.97 571.02,215.98 571.15,215.99 571.28,216 571.42,216.01 571.55,216.03 571.68,216.04 571.81,216.05 571.94,216.06 572.08,216.07 572.21,216.08 572.34,216.09 572.47,216.11 572.61,216.12 572.74,216.13 572.87,216.14 573,216.15 573.14,216.16 573.27,216.17 573.4,216.19 573.53,216.2 573.66,216.21 573.8,216.22 573.93,216.24 574.06,216.25 574.19,216.26 574.33,216.27 574.46,216.29 574.59,216.3 574.72,216.32 574.86,216.33 574.99,216.35 575.12,216.36 575.25,216.38 575.39,216.39 575.52,216.41 575.65,216.42 575.78,216.44 575.91,216.45 576.05,216.47 576.18,216.49 576.31,216.5 576.44,216.52 576.58,216.54 576.71,216.56 576.84,216.57 576.97,216.59 577.11,216.61 577.24,216.63 577.37,216.65 577.5,216.67 577.64,216.69 577.77,216.71 577.9,216.73 578.03,216.75 578.16,216.77 578.3,216.79 578.43,216.81 578.56,216.83 578.69,216.85 578.83,216.87 578.96,216.89 579.09,216.92 579.22,216.94 579.36,216.96 579.49,216.98 579.62,217.01 579.75,217.03 579.89,217.05 580.02,217.08 580.15,217.1 580.28,217.13 580.41,217.15 580.55,217.18 580.68,217.22 580.81,217.25 580.94,217.28 581.08,217.32 581.21,217.36 581.34,217.4 581.47,217.44 581.61,217.48 581.74,217.52 581.87,217.56 582,217.61 582.14,217.65 582.27,217.69 582.4,217.73 582.53,217.78 582.66,217.82 582.8,217.86 582.93,217.9 583.06,217.94 583.19,217.99 583.33,218.02 583.46,218.06 583.59,218.1 583.72,218.13 583.86,218.17 583.99,218.2 584.12,218.23 584.25,218.26 584.39,218.29 584.52,218.31 584.65,218.33 584.78,218.35 584.91,218.37 585.05,218.38 585.18,218.39 585.31,218.4 585.44,218.4 585.58,218.4 585.71,218.4 585.84,218.39 585.97,218.39 586.11,218.37 586.24,218.36 586.37,218.33 586.5,218.31 586.64,218.27 586.77,218.23 586.9,218.19 587.03,218.14 587.16,218.08 587.3,218.01 587.43,217.93 587.56,217.84 587.69,217.75 587.83,217.64 587.96,217.53 588.09,217.4 588.22,217.26 588.36,217.11 588.49,216.94 588.62,216.74 588.75,216.53 588.89,216.3 589.02,216.05 589.15,215.79 589.28,215.52 589.41,215.23 589.55,214.94 589.68,214.64 589.81,214.33 589.94,214.02 590.08,213.71 590.21,213.39 590.34,213.08 590.47,212.77 590.61,212.46 590.74,212.15 590.87,211.83 591,211.51 591.14,211.18 591.27,210.85 591.4,210.51 591.53,210.16 591.66,209.8 591.8,209.43 591.93,209.05 592.06,208.66 592.19,208.26 592.33,207.84 592.46,207.4 592.59,206.95 592.72,206.48 592.86,206 592.99,205.5 593.12,204.99 593.25,204.46 593.39,203.93 593.52,203.39 593.65,202.84 593.78,202.29 593.91,201.73 594.05,201.17 594.18,200.62 594.31,200.06 594.44,199.5 594.58,198.95 594.71,198.4 594.84,197.84 594.97,197.29 595.11,196.73 595.24,196.16 595.37,195.58 595.5,195 595.64,194.41 595.77,193.81 595.9,193.21 596.03,192.59 596.16,191.95 596.3,191.31 596.43,190.65 596.56,189.97 596.69,189.3 596.83,188.62 596.96,187.93 597.09,187.25 597.22,186.58 597.36,185.91 597.49,185.26 597.62,184.65 597.75,184.07 597.89,183.51 598.02,182.94 598.15,182.35 598.28,181.73 598.41,181.07 598.55,180.36 598.68,179.57 598.81,178.69 598.94,177.73 599.08,176.72 599.21,175.65 599.34,174.54 599.47,173.4 599.61,172.24 599.74,171.06 599.87,169.88 600,168.7 600.14,167.53 600.27,166.38 600.4,165.26 600.53,164.19 600.66,163.16 600.8,162.18 600.93,161.28 601.06,160.45 601.19,159.71 601.33,159.04 601.46,158.42 601.59,157.84 601.72,157.28 601.86,156.75 601.99,156.21 602.12,155.66 602.25,155.09 602.39,154.48 602.52,153.82 602.65,153.11 602.78,152.38 602.91,151.65 603.05,150.91 603.18,150.16 603.31,149.41 603.44,148.66 603.58,147.9 603.71,147.13 603.84,146.36 603.97,145.58 604.11,144.79 604.24,144 604.37,143.2 604.5,142.39 604.64,141.57 604.77,140.75 604.9,139.92 605.03,139.07 605.16,138.22 605.3,137.36 605.43,136.48 605.56,135.57 605.69,134.64 605.83,133.68 605.96,132.7 606.09,131.71 606.22,130.71 606.36,129.69 606.49,128.68 606.62,127.65 606.75,126.63 606.89,125.61 607.02,124.6 607.15,123.59 607.28,122.58 607.41,121.56 607.55,120.52 607.68,119.49 607.81,118.44 607.94,117.39 608.08,116.34 608.21,115.28 608.34,114.23 608.47,113.17 608.61,112.11 608.74,111.06 608.87,110.01 609,108.97 609.14,107.93 609.27,106.9 609.4,105.87 609.53,104.86 609.66,103.86 609.8,102.87 609.93,101.89 610.06,100.93 610.19,99.98 610.33,99.05 610.46,98.14 610.59,97.25 610.72,96.37 610.86,95.51 610.99,94.65 611.12,93.8 611.25,92.97 611.39,92.14 611.52,91.32 611.65,90.51 611.78,89.7 611.91,88.91 612.05,88.12 612.18,87.34 612.31,86.56 612.44,85.79 612.58,85.02 612.71,84.26 612.84,83.5 612.97,82.74 613.11,81.99 613.24,81.24 613.37,80.49 613.5,79.75 613.63,79 613.77,78.26 613.9,77.51 614.03,76.77 614.16,76.03 614.3,75.28 614.43,74.53 614.56,73.79 614.69,73.04 614.83,72.28 614.96,71.52 615.09,70.77 615.22,70.01 615.36,69.26 615.49,68.52 615.62,67.78 615.75,67.06 615.88,66.35 616.02,65.65 616.15,64.98 616.28,64.33 616.41,63.7 616.55,63.1 616.68,62.52 616.81,61.96 616.94,61.41 617.08,60.86 617.21,60.31 617.34,59.77 617.47,59.23 617.61,58.7 617.74,58.17 617.87,57.65 618,57.13 618.13,56.61 618.27,56.1 618.4,55.58 618.53,55.07 618.66,54.57 618.8,54.06 618.93,53.56 619.06,53.05 619.19,52.55 619.33,52.05 619.46,51.55 619.59,51.05 619.72,50.55 619.86,50.05 619.99,49.55 620.12,49.04 620.25,48.54 620.38,48.03 620.52,47.53 620.65,47.02 620.78,46.5 620.91,45.99 621.05,45.47 621.18,44.95 621.31,44.43 621.44,43.9 621.58,43.37 621.71,42.85 621.84,42.32 621.97,41.8 622.11,41.27 622.24,40.75 622.37,40.23 622.5,39.71 622.63,39.18 622.77,38.66 622.9,38.14 623.03,37.62 623.16,37.09 623.3,36.57 623.43,36.04 623.56,35.52 623.69,34.99 623.83,34.46 623.96,33.93 624.09,33.4 624.22,32.86 624.36,32.32 624.49,31.78 624.62,31.24 624.75,30.7 624.88,30.15 625.02,29.6 625.15,29.04 625.28,28.48 625.41,27.92 625.55,27.35 625.68,26.78 625.81,26.21 625.94,25.63 626.08,25.05 626.21,24.46 626.34,23.86 626.47,23.24 626.61,22.6 626.74,21.95 626.87,21.29 627,20.61 627.13,19.92 627.27,19.23 627.4,18.53 627.53,17.82 627.66,17.11 627.8,16.39 627.93,15.67 628.06,14.96 628.19,14.25 628.33,13.54 628.46,12.83 628.59,12.14 628.72,11.45" fill="none" stroke="#c3321f" stroke-width="1.05" stroke-linejoin="round" stroke-linecap="round" />
<rect x="547.81" y="222.8" width="3" height="3" fill="#c3321f"/>
<rect x="548.74" y="221.27" width="3" height="3" fill="#c3321f"/>
<rect x="549.93" y="219.96" width="3" height="3" fill="#c3321f"/>
<rect x="551.25" y="218.84" width="3" height="3" fill="#c3321f"/>
<rect x="552.71" y="217.93" width="3" height="3" fill="#c3321f"/>
<rect x="554.17" y="217.14" width="3" height="3" fill="#c3321f"/>
<rect x="555.62" y="216.45" width="3" height="3" fill="#c3321f"/>
<rect x="557.21" y="215.83" width="3" height="3" fill="#c3321f"/>
<rect x="558.8" y="215.36" width="3" height="3" fill="#c3321f"/>
<rect x="560.39" y="214.98" width="3" height="3" fill="#c3321f"/>
<rect x="561.97" y="214.69" width="3" height="3" fill="#c3321f"/>
<rect x="563.56" y="214.48" width="3" height="3" fill="#c3321f"/>
<rect x="565.28" y="214.35" width="3" height="3" fill="#c3321f"/>
<rect x="567" y="214.34" width="3" height="3" fill="#c3321f"/>
<rect x="568.72" y="214.42" width="3" height="3" fill="#c3321f"/>
<rect x="570.44" y="214.56" width="3" height="3" fill="#c3321f"/>
<rect x="573.75" y="214.88" width="3" height="3" fill="#c3321f"/>
<rect x="576.93" y="215.31" width="3" height="3" fill="#c3321f"/>
<rect x="580.11" y="215.98" width="3" height="3" fill="#c3321f"/>
<rect x="583.28" y="216.85" width="3" height="3" fill="#c3321f"/>
<rect x="586.12" y="216.73" width="2.6" height="2.6" fill="#c3321f"/>
<rect x="589.09" y="211.66" width="2.6" height="2.6" fill="#c3321f"/>
<rect x="591.09" y="206.32" width="2.6" height="2.6" fill="#c3321f"/>
<rect x="592.42" y="201.25" width="2.6" height="2.6" fill="#c3321f"/>
<rect x="593.63" y="196.18" width="2.6" height="2.6" fill="#c3321f"/>
<rect x="594.83" y="190.84" width="2.6" height="2.6" fill="#c3321f"/>
<rect x="595.83" y="185.77" width="2.6" height="2.6" fill="#c3321f"/>
<rect x="597.37" y="178.29" width="2.6" height="2.6" fill="#c3321f"/>
<rect x="598.04" y="173.22" width="2.6" height="2.6" fill="#c3321f"/>
<rect x="598.92" y="165.48" width="2.6" height="2.6" fill="#c3321f"/>
<rect x="600.96" y="153.74" width="2.6" height="2.6" fill="#c3321f"/>
<rect x="603.82" y="137.19" width="2.6" height="2.6" fill="#c3321f"/>
<rect x="606.64" y="116.11" width="2.6" height="2.6" fill="#c3321f"/>
<rect x="610.1" y="90.75" width="2.6" height="2.6" fill="#c3321f"/>
<rect x="615.34" y="61.39" width="2.6" height="2.6" fill="#c3321f"/>
<rect x="624.89" y="23.22" width="2.6" height="2.6" fill="#c3321f"/>
<polyline points="550.04,204.41 550.23,204.08 550.41,203.72 550.6,203.36 550.79,202.99 550.97,202.63 551.16,202.27 551.34,201.93 551.53,201.62 551.72,201.33 551.9,201.07 552.09,200.86 552.27,200.66 552.46,200.46 552.65,200.27 552.83,200.08 553.02,199.9 553.2,199.73 553.39,199.56 553.58,199.4 553.76,199.24 553.95,199.09 554.13,198.94 554.32,198.79 554.51,198.65 554.69,198.51 554.88,198.37 555.06,198.24 555.25,198.11 555.43,197.99 555.62,197.86 555.81,197.74 555.99,197.62 556.18,197.5 556.36,197.39 556.55,197.27 556.74,197.16 556.92,197.05 557.11,196.94 557.29,196.84 557.48,196.73 557.67,196.63 557.85,196.53 558.04,196.43 558.22,196.33 558.41,196.23 558.6,196.14 558.78,196.05 558.97,195.96 559.15,195.87 559.34,195.78 559.53,195.7 559.71,195.61 559.9,195.53 560.08,195.46 560.27,195.38 560.45,195.3 560.64,195.23 560.83,195.16 561.01,195.09 561.2,195.02 561.38,194.96 561.57,194.9 561.76,194.83 561.94,194.78 562.13,194.72 562.31,194.66 562.5,194.61 562.69,194.56 562.87,194.51 563.06,194.46 563.24,194.42 563.43,194.37 563.62,194.33 563.8,194.29 563.99,194.25 564.17,194.21 564.36,194.18 564.55,194.14 564.73,194.1 564.92,194.07 565.1,194.04 565.29,194.01 565.48,193.98 565.66,193.94 565.85,193.92 566.03,193.89 566.22,193.86 566.4,193.83 566.59,193.8 566.78,193.78 566.96,193.75 567.15,193.72 567.33,193.69 567.52,193.67 567.71,193.64 567.89,193.62 568.08,193.59 568.26,193.56 568.45,193.53 568.64,193.51 568.82,193.48 569.01,193.45 569.19,193.43 569.38,193.4 569.57,193.38 569.75,193.36 569.94,193.34 570.12,193.32 570.31,193.31 570.5,193.29 570.68,193.28 570.87,193.26 571.05,193.25 571.24,193.24 571.42,193.22 571.61,193.21 571.8,193.2 571.98,193.19 572.17,193.17 572.35,193.16 572.54,193.15 572.73,193.13 572.91,193.12 573.1,193.1 573.28,193.09 573.47,193.07 573.66,193.05 573.84,193.03 574.03,193.01 574.21,192.99 574.4,192.96 574.59,192.93 574.77,192.9 574.96,192.87 575.14,192.84 575.33,192.8 575.52,192.76 575.7,192.72 575.89,192.67 576.07,192.62 576.26,192.57 576.44,192.52 576.63,192.46 576.82,192.4 577,192.34 577.19,192.27 577.37,192.2 577.56,192.13 577.75,192.06 577.93,191.99 578.12,191.91 578.3,191.84 578.49,191.76 578.68,191.68 578.86,191.6 579.05,191.52 579.23,191.43 579.42,191.35 579.61,191.27 579.79,191.18 579.98,191.1 580.16,191.02 580.35,190.94 580.54,190.85 580.72,190.77 580.91,190.69 581.09,190.61 581.28,190.53 581.46,190.45 581.65,190.38 581.84,190.3 582.02,190.23 582.21,190.16 582.39,190.09 582.58,190.02 582.77,189.96 582.95,189.89 583.14,189.83 583.32,189.76 583.51,189.7 583.7,189.63 583.88,189.57 584.07,189.51 584.25,189.44 584.44,189.38 584.63,189.31 584.81,189.25 585,189.19 585.18,189.13 585.37,189.06 585.56,189 585.74,188.94 585.93,188.88 586.11,188.82 586.3,188.77 586.48,188.71 586.67,188.65 586.86,188.59 587.04,188.54 587.23,188.48 587.41,188.43 587.6,188.38 587.79,188.33 587.97,188.27 588.16,188.23 588.34,188.18 588.53,188.13 588.72,188.08 588.9,188.04 589.09,187.99 589.27,187.95 589.46,187.91 589.65,187.87 589.83,187.83 590.02,187.79 590.2,187.76 590.39,187.72 590.58,187.69 590.76,187.65 590.95,187.62 591.13,187.58 591.32,187.55 591.51,187.52 591.69,187.49 591.88,187.46 592.06,187.43 592.25,187.41 592.43,187.38 592.62,187.35 592.81,187.33 592.99,187.31 593.18,187.28 593.36,187.26 593.55,187.24 593.74,187.22 593.92,187.2 594.11,187.19 594.29,187.17 594.48,187.15 594.67,187.14 594.85,187.13 595.04,187.12 595.22,187.11 595.41,187.1 595.6,187.09 595.78,187.08 595.97,187.08 596.15,187.07 596.34,187.07 596.53,187.07 596.71,187.07 596.9,187.07 597.08,187.07 597.27,187.07 597.45,187.08 597.64,187.09 597.83,187.1 598.01,187.11 598.2,187.12 598.38,187.13 598.57,187.14 598.76,187.16 598.94,187.18 599.13,187.19 599.31,187.21 599.5,187.23 599.69,187.25 599.87,187.27 600.06,187.3 600.24,187.32 600.43,187.34 600.62,187.37 600.8,187.4 600.99,187.42 601.17,187.45 601.36,187.48 601.55,187.51 601.73,187.54 601.92,187.56 602.1,187.59 602.29,187.63 602.47,187.66 602.66,187.69 602.85,187.72 603.03,187.75 603.22,187.78 603.4,187.81 603.59,187.85 603.78,187.88 603.96,187.91 604.15,187.94 604.33,187.98 604.52,188.02 604.71,188.05 604.89,188.09 605.08,188.13 605.26,188.17 605.45,188.21 605.64,188.25 605.82,188.29 606.01,188.34 606.19,188.38 606.38,188.43 606.57,188.47 606.75,188.52 606.94,188.57 607.12,188.62 607.31,188.67 607.49,188.72 607.68,188.77 607.87,188.83 608.05,188.88 608.24,188.94 608.42,189 608.61,189.06 608.8,189.12 608.98,189.18 609.17,189.24 609.35,189.31 609.54,189.39 609.73,189.47 609.91,189.56 610.1,189.66 610.28,189.75 610.47,189.86 610.66,189.96 610.84,190.06 611.03,190.17 611.21,190.27 611.4,190.38 611.59,190.48 611.77,190.58 611.96,190.68 612.14,190.77 612.33,190.86 612.51,190.95 612.7,191.03 612.89,191.1 613.07,191.16 613.26,191.22 613.44,191.26 613.63,191.3 613.82,191.32 614,191.33 614.19,191.33 614.37,191.31 614.56,191.26 614.75,191.19 614.93,191.1 615.12,190.98 615.3,190.85 615.49,190.7 615.68,190.54 615.86,190.37 616.05,190.18 616.23,189.98 616.42,189.78 616.61,189.57 616.79,189.35 616.98,189.13 617.16,188.89 617.35,188.62 617.53,188.32 617.72,188 617.91,187.66 618.09,187.3 618.28,186.94 618.46,186.57 618.65,186.2 618.84,185.83 619.02,185.47 619.21,185.1 619.39,184.73 619.58,184.36 619.77,183.98 619.95,183.6 620.14,183.21 620.32,182.81 620.51,182.4 620.7,181.98 620.88,181.55 621.07,181.1 621.25,180.63 621.44,180.11 621.63,179.56 621.81,178.98 622,178.39 622.18,177.79 622.37,177.2 622.56,176.61 622.74,176.04 622.93,175.46 623.11,174.88 623.3,174.3 623.48,173.71 623.67,173.13 623.86,172.55 624.04,171.97 624.23,171.39 624.41,170.81 624.6,170.23 624.79,169.61 624.97,168.98 625.16,168.35 625.34,167.74 625.53,167.18 625.72,166.68 625.9,166.27 626.09,165.94 626.27,165.66 626.46,165.42 626.65,165.22 626.83,165.03 627.02,164.86 627.2,164.69 627.39,164.52 627.58,164.34 627.76,164.14 627.95,163.9 628.13,163.62 628.32,163.32 628.5,162.99 628.69,162.65 628.88,162.3 629.06,161.92 629.25,161.53 629.43,161.11 629.62,160.67 629.81,160.19 629.99,159.69 630.18,159.16 630.36,158.61 630.55,158.03 630.74,157.43 630.92,156.82 631.11,156.2 631.29,155.56 631.48,154.92 631.67,154.27 631.85,153.62 632.04,152.97 632.22,152.31 632.41,151.67 632.6,151.03 632.78,150.4 632.97,149.78 633.15,149.18 633.34,148.59 633.52,148.02 633.71,147.46 633.9,146.9 634.08,146.32 634.27,145.75 634.45,145.18 634.64,144.6 634.83,144.03 635.01,143.45 635.2,142.88 635.38,142.31 635.57,141.75 635.76,141.19 635.94,140.63 636.13,140.08 636.31,139.54 636.5,139.01 636.69,138.49 636.87,137.98 637.06,137.48 637.24,136.99 637.43,136.51 637.62,136.05 637.8,135.6 637.99,135.17 638.17,134.75 638.36,134.36 638.54,133.98 638.73,133.61 638.92,133.25 639.1,132.9 639.29,132.55 639.47,132.21 639.66,131.87 639.85,131.54 640.03,131.21 640.22,130.88 640.4,130.56 640.59,130.25 640.78,129.94 640.96,129.63 641.15,129.33 641.33,129.03 641.52,128.74 641.71,128.45 641.89,128.16 642.08,127.88 642.26,127.6 642.45,127.32 642.64,127.04 642.82,126.77 643.01,126.51 643.19,126.24 643.38,125.98 643.56,125.72 643.75,125.46 643.94,125.2 644.12,124.95 644.31,124.7 644.49,124.45 644.68,124.2 644.87,123.96 645.05,123.71 645.24,123.47 645.42,123.23 645.61,122.99 645.8,122.75 645.98,122.51 646.17,122.27 646.35,122.04 646.54,121.8 646.73,121.56 646.91,121.33 647.1,121.09 647.28,120.86 647.47,120.62 647.66,120.39 647.84,120.16 648.03,119.93 648.21,119.7 648.4,119.47 648.59,119.25 648.77,119.03 648.96,118.8 649.14,118.58 649.33,118.36 649.51,118.15 649.7,117.93 649.89,117.72 650.07,117.5 650.26,117.29 650.44,117.08 650.63,116.87 650.82,116.66 651,116.45 651.19,116.24 651.37,116.03 651.56,115.83 651.75,115.62 651.93,115.42 652.12,115.22 652.3,115.01 652.49,114.81 652.68,114.61 652.86,114.41 653.05,114.21 653.23,114.01 653.42,113.82 653.61,113.62 653.79,113.42 653.98,113.22 654.16,113.03 654.35,112.83 654.53,112.64 654.72,112.44 654.91,112.24 655.09,112.05 655.28,111.86 655.46,111.66 655.65,111.47 655.84,111.27 656.02,111.08 656.21,110.88 656.39,110.69 656.58,110.49 656.77,110.3 656.95,110.11 657.14,109.91 657.32,109.72 657.51,109.52 657.7,109.33 657.88,109.13 658.07,108.93 658.25,108.74 658.44,108.54 658.63,108.34 658.81,108.14 659,107.95 659.18,107.75 659.37,107.55 659.55,107.35 659.74,107.15 659.93,106.96 660.11,106.77 660.3,106.59 660.48,106.42 660.67,106.25 660.86,106.08 661.04,105.91 661.23,105.74 661.41,105.57 661.6,105.39" fill="none" stroke="#d9667f" stroke-width="0.9" stroke-linejoin="round" stroke-linecap="round" />
<circle cx="550.04" cy="204.41" r="1.4" fill="#d9667f"/>
<circle cx="550.97" cy="202.63" r="1.4" fill="#d9667f"/>
<circle cx="551.9" cy="201.07" r="1.4" fill="#d9667f"/>
<circle cx="553.2" cy="199.73" r="1.4" fill="#d9667f"/>
<circle cx="554.69" cy="198.51" r="1.4" fill="#d9667f"/>
<circle cx="556.18" cy="197.5" r="1.4" fill="#d9667f"/>
<circle cx="557.67" cy="196.63" r="1.4" fill="#d9667f"/>
<circle cx="559.34" cy="195.78" r="1.4" fill="#d9667f"/>
<circle cx="561.01" cy="195.09" r="1.4" fill="#d9667f"/>
<circle cx="562.69" cy="194.56" r="1.4" fill="#d9667f"/>
<circle cx="564.36" cy="194.18" r="1.4" fill="#d9667f"/>
<circle cx="566.22" cy="193.86" r="1.4" fill="#d9667f"/>
<circle cx="568.08" cy="193.59" r="1.4" fill="#d9667f"/>
<circle cx="569.94" cy="193.34" r="1.4" fill="#d9667f"/>
<circle cx="571.8" cy="193.2" r="1.4" fill="#d9667f"/>
<circle cx="575.33" cy="192.8" r="1.4" fill="#d9667f"/>
<circle cx="578.68" cy="191.68" r="1.4" fill="#d9667f"/>
<circle cx="581.84" cy="190.3" r="1.4" fill="#d9667f"/>
<circle cx="585.18" cy="189.13" r="1.4" fill="#d9667f"/>
<circle cx="588.53" cy="188.13" r="1.4" fill="#d9667f"/>
<circle cx="591.88" cy="187.46" r="1.4" fill="#d9667f"/>
<circle cx="595.41" cy="187.1" r="1.4" fill="#d9667f"/>
<circle cx="598.94" cy="187.18" r="1.4" fill="#d9667f"/>
<circle cx="602.47" cy="187.66" r="1.4" fill="#d9667f"/>
<circle cx="605.82" cy="188.29" r="1.4" fill="#d9667f"/>
<circle cx="609.17" cy="189.24" r="1.4" fill="#d9667f"/>
<circle cx="612.33" cy="190.86" r="1.4" fill="#d9667f"/>
<circle cx="615.49" cy="190.7" r="1.4" fill="#d9667f"/>
<circle cx="617.72" cy="188" r="1.4" fill="#d9667f"/>
<circle cx="620.51" cy="182.4" r="1.4" fill="#d9667f"/>
<circle cx="622.56" cy="176.61" r="1.4" fill="#d9667f"/>
<circle cx="624.41" cy="170.81" r="1.4" fill="#d9667f"/>
<circle cx="626.65" cy="165.22" r="1.4" fill="#d9667f"/>
<circle cx="629.81" cy="160.19" r="1.4" fill="#d9667f"/>
<circle cx="631.67" cy="154.27" r="1.4" fill="#d9667f"/>
<circle cx="633.52" cy="148.02" r="1.4" fill="#d9667f"/>
<circle cx="635.38" cy="142.31" r="1.4" fill="#d9667f"/>
<circle cx="637.43" cy="136.51" r="1.4" fill="#d9667f"/>
<circle cx="640.22" cy="130.88" r="1.4" fill="#d9667f"/>
<circle cx="643.56" cy="125.72" r="1.4" fill="#d9667f"/>
<circle cx="647.28" cy="120.86" r="1.4" fill="#d9667f"/>
<circle cx="651.19" cy="116.24" r="1.4" fill="#d9667f"/>
<circle cx="655.46" cy="111.66" r="1.4" fill="#d9667f"/>
<circle cx="659.74" cy="107.15" r="1.4" fill="#d9667f"/>
<polyline points="550.04,181.46 550.23,181.12 550.41,180.77 550.6,180.4 550.79,180.04 550.97,179.67 551.16,179.32 551.34,178.98 551.53,178.66 551.72,178.37 551.9,178.12 552.09,177.9 552.27,177.7 552.46,177.5 552.65,177.31 552.83,177.12 553.02,176.94 553.2,176.76 553.39,176.59 553.58,176.42 553.76,176.25 553.95,176.1 554.13,175.94 554.32,175.79 554.51,175.65 554.69,175.51 554.88,175.37 555.06,175.24 555.25,175.12 555.43,174.99 555.62,174.88 555.81,174.76 555.99,174.65 556.18,174.55 556.36,174.45 556.55,174.34 556.74,174.24 556.92,174.15 557.11,174.05 557.29,173.95 557.48,173.85 557.67,173.76 557.85,173.66 558.04,173.57 558.22,173.48 558.41,173.39 558.6,173.3 558.78,173.21 558.97,173.12 559.15,173.03 559.34,172.95 559.53,172.86 559.71,172.78 559.9,172.7 560.08,172.62 560.27,172.54 560.45,172.46 560.64,172.38 560.83,172.31 561.01,172.23 561.2,172.16 561.38,172.09 561.57,172.02 561.76,171.95 561.94,171.88 562.13,171.81 562.31,171.75 562.5,171.68 562.69,171.62 562.87,171.56 563.06,171.5 563.24,171.44 563.43,171.39 563.62,171.33 563.8,171.28 563.99,171.23 564.17,171.18 564.36,171.13 564.55,171.08 564.73,171.03 564.92,170.99 565.1,170.95 565.29,170.91 565.48,170.87 565.66,170.84 565.85,170.81 566.03,170.77 566.22,170.75 566.4,170.72 566.59,170.69 566.78,170.67 566.96,170.64 567.15,170.62 567.33,170.6 567.52,170.58 567.71,170.56 567.89,170.55 568.08,170.53 568.26,170.52 568.45,170.5 568.64,170.49 568.82,170.48 569.01,170.46 569.19,170.45 569.38,170.44 569.57,170.43 569.75,170.42 569.94,170.41 570.12,170.4 570.31,170.39 570.5,170.38 570.68,170.37 570.87,170.36 571.05,170.35 571.24,170.34 571.42,170.32 571.61,170.31 571.8,170.3 571.98,170.29 572.17,170.27 572.35,170.26 572.54,170.24 572.73,170.22 572.91,170.21 573.1,170.19 573.28,170.17 573.47,170.15 573.66,170.12 573.84,170.1 574.03,170.07 574.21,170.05 574.4,170.02 574.59,169.99 574.77,169.96 574.96,169.92 575.14,169.89 575.33,169.85 575.52,169.81 575.7,169.76 575.89,169.72 576.07,169.67 576.26,169.62 576.44,169.57 576.63,169.51 576.82,169.45 577,169.38 577.19,169.31 577.37,169.25 577.56,169.17 577.75,169.1 577.93,169.02 578.12,168.94 578.3,168.86 578.49,168.78 578.68,168.69 578.86,168.61 579.05,168.52 579.23,168.43 579.42,168.34 579.61,168.25 579.79,168.16 579.98,168.07 580.16,167.98 580.35,167.89 580.54,167.8 580.72,167.7 580.91,167.61 581.09,167.52 581.28,167.43 581.46,167.34 581.65,167.25 581.84,167.16 582.02,167.08 582.21,166.99 582.39,166.91 582.58,166.82 582.77,166.74 582.95,166.66 583.14,166.59 583.32,166.51 583.51,166.44 583.7,166.37 583.88,166.3 584.07,166.24 584.25,166.18 584.44,166.12 584.63,166.05 584.81,165.99 585,165.93 585.18,165.87 585.37,165.81 585.56,165.75 585.74,165.69 585.93,165.63 586.11,165.58 586.3,165.52 586.48,165.46 586.67,165.41 586.86,165.35 587.04,165.3 587.23,165.24 587.41,165.19 587.6,165.14 587.79,165.09 587.97,165.03 588.16,164.98 588.34,164.94 588.53,164.89 588.72,164.84 588.9,164.79 589.09,164.75 589.27,164.7 589.46,164.66 589.65,164.62 589.83,164.58 590.02,164.54 590.2,164.5 590.39,164.46 590.58,164.42 590.76,164.39 590.95,164.35 591.13,164.32 591.32,164.29 591.51,164.25 591.69,164.22 591.88,164.2 592.06,164.17 592.25,164.14 592.43,164.12 592.62,164.09 592.81,164.07 592.99,164.05 593.18,164.03 593.36,164.02 593.55,164 593.74,163.98 593.92,163.97 594.11,163.96 594.29,163.95 594.48,163.94 594.67,163.93 594.85,163.92 595.04,163.91 595.22,163.91 595.41,163.9 595.6,163.9 595.78,163.9 595.97,163.89 596.15,163.89 596.34,163.89 596.53,163.89 596.71,163.9 596.9,163.9 597.08,163.9 597.27,163.91 597.45,163.91 597.64,163.92 597.83,163.92 598.01,163.93 598.2,163.94 598.38,163.95 598.57,163.96 598.76,163.97 598.94,163.98 599.13,163.99 599.31,164 599.5,164.01 599.69,164.02 599.87,164.04 600.06,164.05 600.24,164.06 600.43,164.08 600.62,164.09 600.8,164.1 600.99,164.12 601.17,164.14 601.36,164.15 601.55,164.17 601.73,164.19 601.92,164.21 602.1,164.23 602.29,164.26 602.47,164.28 602.66,164.31 602.85,164.33 603.03,164.36 603.22,164.39 603.4,164.42 603.59,164.45 603.78,164.48 603.96,164.51 604.15,164.54 604.33,164.57 604.52,164.6 604.71,164.63 604.89,164.67 605.08,164.7 605.26,164.74 605.45,164.77 605.64,164.8 605.82,164.84 606.01,164.87 606.19,164.91 606.38,164.94 606.57,164.98 606.75,165.01 606.94,165.05 607.12,165.08 607.31,165.12 607.49,165.15 607.68,165.19 607.87,165.22 608.05,165.25 608.24,165.29 608.42,165.32 608.61,165.35 608.8,165.38 608.98,165.41 609.17,165.44 609.35,165.47 609.54,165.51 609.73,165.54 609.91,165.57 610.1,165.61 610.28,165.64 610.47,165.68 610.66,165.72 610.84,165.76 611.03,165.79 611.21,165.83 611.4,165.87 611.59,165.91 611.77,165.95 611.96,165.99 612.14,166.03 612.33,166.07 612.51,166.11 612.7,166.15 612.89,166.19 613.07,166.23 613.26,166.27 613.44,166.3 613.63,166.34 613.82,166.38 614,166.41 614.19,166.44 614.37,166.48 614.56,166.51 614.75,166.54 614.93,166.57 615.12,166.6 615.3,166.62 615.49,166.65 615.68,166.67 615.86,166.69 616.05,166.71 616.23,166.73 616.42,166.74 616.61,166.75 616.79,166.76 616.98,166.77 617.16,166.78 617.35,166.78 617.53,166.78 617.72,166.77 617.91,166.75 618.09,166.72 618.28,166.67 618.46,166.62 618.65,166.55 618.84,166.47 619.02,166.38 619.21,166.28 619.39,166.16 619.58,166.04 619.77,165.9 619.95,165.75 620.14,165.59 620.32,165.42 620.51,165.24 620.7,165.06 620.88,164.87 621.07,164.68 621.25,164.48 621.44,164.28 621.63,164.07 621.81,163.86 622,163.63 622.18,163.4 622.37,163.16 622.56,162.9 622.74,162.64 622.93,162.37 623.11,162.08 623.3,161.79 623.48,161.47 623.67,161.15 623.86,160.81 624.04,160.46 624.23,160.09 624.41,159.72 624.6,159.33 624.79,158.94 624.97,158.53 625.16,158.12 625.34,157.7 625.53,157.27 625.72,156.84 625.9,156.4 626.09,155.95 626.27,155.5 626.46,155.05 626.65,154.59 626.83,154.13 627.02,153.67 627.2,153.21 627.39,152.74 627.58,152.28 627.76,151.81 627.95,151.35 628.13,150.88 628.32,150.42 628.5,149.97 628.69,149.51 628.88,149.07 629.06,148.64 629.25,148.24 629.43,147.84 629.62,147.46 629.81,147.09 629.99,146.73 630.18,146.37 630.36,146.01 630.55,145.65 630.74,145.28 630.92,144.9 631.11,144.52 631.29,144.12 631.48,143.71 631.67,143.28 631.85,142.82 632.04,142.34 632.22,141.84 632.41,141.31 632.6,140.74 632.78,140.14 632.97,139.5 633.15,138.81 633.34,138.09 633.52,137.31 633.71,136.1 633.9,134.35 634.08,132.25 634.27,129.98 634.45,127.71 634.64,125.62 634.83,123.9 635.01,122.72 635.2,122.08 635.38,121.52 635.57,120.99 635.76,120.49 635.94,120.02 636.13,119.57 636.31,119.15 636.5,118.76 636.69,118.38 636.87,118.03 637.06,117.7 637.24,117.39 637.43,117.09 637.62,116.8 637.8,116.53 637.99,116.27 638.17,116.02 638.36,115.78 638.54,115.55 638.73,115.32 638.92,115.1 639.1,114.88 639.29,114.66 639.47,114.43 639.66,114.21 639.85,113.98 640.03,113.75 640.22,113.51 640.4,113.26 640.59,113.01 640.78,112.74 640.96,112.45 641.15,112.16 641.33,111.84 641.52,111.51 641.71,111.17 641.89,110.82 642.08,110.46 642.26,110.09 642.45,109.72 642.64,109.35 642.82,108.97 643.01,108.58 643.19,108.19 643.38,107.8 643.56,107.4 643.75,107.01 643.94,106.61 644.12,106.21 644.31,105.81 644.49,105.42 644.68,105.02 644.87,104.63 645.05,104.24 645.24,103.85 645.42,103.47 645.61,103.09 645.8,102.71 645.98,102.34 646.17,101.98 646.35,101.63 646.54,101.28 646.73,100.94 646.91,100.61 647.1,100.29 647.28,99.97 647.47,99.67 647.66,99.38 647.84,99.1 648.03,98.84 648.21,98.59 648.4,98.34 648.59,98.09 648.77,97.85 648.96,97.61 649.14,97.37 649.33,97.14 649.51,96.91 649.7,96.68 649.89,96.45 650.07,96.23 650.26,96.01 650.44,95.79 650.63,95.58 650.82,95.37 651,95.16 651.19,94.95 651.37,94.74 651.56,94.54 651.75,94.34 651.93,94.14 652.12,93.94 652.3,93.75 652.49,93.55 652.68,93.36 652.86,93.17 653.05,92.98 653.23,92.79 653.42,92.6 653.61,92.42 653.79,92.23 653.98,92.05 654.16,91.87 654.35,91.69 654.53,91.51 654.72,91.33 654.91,91.15 655.09,90.97 655.28,90.79 655.46,90.62 655.65,90.44 655.84,90.27 656.02,90.09 656.21,89.91 656.39,89.74 656.58,89.56 656.77,89.39 656.95,89.21 657.14,89.04 657.32,88.86 657.51,88.68 657.7,88.51 657.88,88.33 658.07,88.15 658.25,87.97 658.44,87.8 658.63,87.62 658.81,87.43 659,87.25 659.18,87.07 659.37,86.89 659.55,86.7 659.74,86.52 659.93,86.33 660.11,86.14 660.3,85.95 660.48,85.76 660.67,85.6 660.86,85.44 661.04,85.29 661.23,85.14 661.41,85 661.6,84.84" fill="none" stroke="#e08ca0" stroke-width="0.9" stroke-linejoin="round" stroke-linecap="round" />
<polygon points="550.04,179.36 551.86,182.51 548.22,182.51" fill="#e08ca0"/>
<polygon points="550.97,177.57 552.79,180.72 549.15,180.72" fill="#e08ca0"/>
<polygon points="551.9,176.02 553.72,179.17 550.08,179.17" fill="#e08ca0"/>
<polygon points="553.2,174.66 555.02,177.81 551.39,177.81" fill="#e08ca0"/>
<polygon points="554.51,173.55 556.32,176.7 552.69,176.7" fill="#e08ca0"/>
<polygon points="555.99,172.55 557.81,175.7 554.17,175.7" fill="#e08ca0"/>
<polygon points="557.67,171.66 559.48,174.81 555.85,174.81" fill="#e08ca0"/>
<polygon points="559.34,170.85 561.16,174 557.52,174" fill="#e08ca0"/>
<polygon points="561.01,170.13 562.83,173.28 559.19,173.28" fill="#e08ca0"/>
<polygon points="562.69,169.52 564.5,172.67 560.87,172.67" fill="#e08ca0"/>
<polygon points="564.36,169.03 566.18,172.18 562.54,172.18" fill="#e08ca0"/>
<polygon points="566.03,168.67 567.85,171.82 564.21,171.82" fill="#e08ca0"/>
<polygon points="567.89,168.45 569.71,171.6 566.07,171.6" fill="#e08ca0"/>
<polygon points="569.75,168.32 571.57,171.47 567.93,171.47" fill="#e08ca0"/>
<polygon points="571.61,168.21 573.43,171.36 569.79,171.36" fill="#e08ca0"/>
<polygon points="575.14,167.79 576.96,170.94 573.32,170.94" fill="#e08ca0"/>
<polygon points="578.49,166.68 580.31,169.83 576.67,169.83" fill="#e08ca0"/>
<polygon points="581.65,165.15 583.47,168.3 579.83,168.3" fill="#e08ca0"/>
<polygon points="584.81,163.89 586.63,167.04 582.99,167.04" fill="#e08ca0"/>
<polygon points="588.16,162.88 589.98,166.03 586.34,166.03" fill="#e08ca0"/>
<polygon points="591.51,162.15 593.32,165.3 589.69,165.3" fill="#e08ca0"/>
<polygon points="595.04,161.81 596.86,164.96 593.22,164.96" fill="#e08ca0"/>
<polygon points="598.57,161.86 600.39,165.01 596.75,165.01" fill="#e08ca0"/>
<polygon points="602.1,162.13 603.92,165.28 600.28,165.28" fill="#e08ca0"/>
<polygon points="605.64,162.7 607.45,165.85 603.82,165.85" fill="#e08ca0"/>
<polygon points="608.98,163.31 610.8,166.46 607.16,166.46" fill="#e08ca0"/>
<polygon points="612.33,163.97 614.15,167.12 610.51,167.12" fill="#e08ca0"/>
<polygon points="615.68,164.57 617.49,167.72 613.86,167.72" fill="#e08ca0"/>
<polygon points="619.02,164.28 620.84,167.43 617.2,167.43" fill="#e08ca0"/>
<polygon points="623.3,159.69 625.12,162.84 621.48,162.84" fill="#e08ca0"/>
<polygon points="626.09,153.85 627.91,157 624.27,157" fill="#e08ca0"/>
<polygon points="628.5,147.87 630.32,151.02 626.69,151.02" fill="#e08ca0"/>
<polygon points="631.11,142.42 632.93,145.57 629.29,145.57" fill="#e08ca0"/>
<polygon points="633.15,136.71 634.97,139.86 631.33,139.86" fill="#e08ca0"/>
<polygon points="634.08,130.15 635.9,133.3 632.26,133.3" fill="#e08ca0"/>
<polygon points="634.64,123.52 636.46,126.67 632.82,126.67" fill="#e08ca0"/>
<polygon points="636.13,117.47 637.95,120.62 634.31,120.62" fill="#e08ca0"/>
<polygon points="639.47,112.33 641.29,115.48 637.66,115.48" fill="#e08ca0"/>
<polygon points="642.64,107.25 644.45,110.4 640.82,110.4" fill="#e08ca0"/>
<polygon points="645.24,101.75 647.06,104.9 643.42,104.9" fill="#e08ca0"/>
<polygon points="648.21,96.49 650.03,99.64 646.39,99.64" fill="#e08ca0"/>
<polygon points="652.12,91.84 653.94,94.99 650.3,94.99" fill="#e08ca0"/>
<polygon points="656.58,87.46 658.4,90.61 654.76,90.61" fill="#e08ca0"/>
<polygon points="661.04,83.19 662.86,86.34 659.22,86.34" fill="#e08ca0"/>
<polyline points="550.04,161.44 550.23,161.11 550.41,160.75 550.6,160.38 550.79,160.01 550.97,159.64 551.16,159.29 551.34,158.95 551.53,158.63 551.72,158.35 551.9,158.1 552.09,157.89 552.27,157.7 552.46,157.51 552.65,157.32 552.83,157.14 553.02,156.96 553.2,156.79 553.39,156.63 553.58,156.46 553.76,156.31 553.95,156.16 554.13,156.01 554.32,155.86 554.51,155.73 554.69,155.59 554.88,155.46 555.06,155.34 555.25,155.21 555.43,155.1 555.62,154.98 555.81,154.88 555.99,154.77 556.18,154.67 556.36,154.57 556.55,154.48 556.74,154.39 556.92,154.3 557.11,154.22 557.29,154.13 557.48,154.05 557.67,153.97 557.85,153.89 558.04,153.81 558.22,153.73 558.41,153.65 558.6,153.58 558.78,153.5 558.97,153.43 559.15,153.36 559.34,153.29 559.53,153.22 559.71,153.15 559.9,153.09 560.08,153.02 560.27,152.96 560.45,152.9 560.64,152.83 560.83,152.77 561.01,152.71 561.2,152.65 561.38,152.59 561.57,152.54 561.76,152.48 561.94,152.42 562.13,152.37 562.31,152.31 562.5,152.26 562.69,152.21 562.87,152.15 563.06,152.1 563.24,152.05 563.43,152 563.62,151.95 563.8,151.9 563.99,151.85 564.17,151.8 564.36,151.76 564.55,151.71 564.73,151.66 564.92,151.62 565.1,151.57 565.29,151.52 565.48,151.48 565.66,151.44 565.85,151.4 566.03,151.37 566.22,151.33 566.4,151.3 566.59,151.27 566.78,151.24 566.96,151.21 567.15,151.18 567.33,151.16 567.52,151.13 567.71,151.11 567.89,151.09 568.08,151.06 568.26,151.04 568.45,151.02 568.64,151 568.82,150.98 569.01,150.96 569.19,150.94 569.38,150.92 569.57,150.9 569.75,150.88 569.94,150.86 570.12,150.84 570.31,150.82 570.5,150.8 570.68,150.78 570.87,150.76 571.05,150.73 571.24,150.71 571.42,150.68 571.61,150.65 571.8,150.62 571.98,150.59 572.17,150.56 572.35,150.53 572.54,150.49 572.73,150.45 572.91,150.41 573.1,150.37 573.28,150.33 573.47,150.28 573.66,150.23 573.84,150.18 574.03,150.13 574.21,150.07 574.4,150.01 574.59,149.95 574.77,149.89 574.96,149.83 575.14,149.76 575.33,149.7 575.52,149.63 575.7,149.56 575.89,149.49 576.07,149.41 576.26,149.34 576.44,149.26 576.63,149.19 576.82,149.11 577,149.03 577.19,148.95 577.37,148.87 577.56,148.79 577.75,148.71 577.93,148.63 578.12,148.55 578.3,148.46 578.49,148.38 578.68,148.3 578.86,148.21 579.05,148.13 579.23,148.05 579.42,147.97 579.61,147.88 579.79,147.8 579.98,147.72 580.16,147.64 580.35,147.56 580.54,147.48 580.72,147.4 580.91,147.32 581.09,147.24 581.28,147.16 581.46,147.08 581.65,146.99 581.84,146.91 582.02,146.82 582.21,146.74 582.39,146.65 582.58,146.56 582.77,146.47 582.95,146.38 583.14,146.29 583.32,146.2 583.51,146.1 583.7,146.01 583.88,145.92 584.07,145.83 584.25,145.73 584.44,145.64 584.63,145.55 584.81,145.46 585,145.36 585.18,145.27 585.37,145.18 585.56,145.09 585.74,145 585.93,144.92 586.11,144.83 586.3,144.74 586.48,144.66 586.67,144.58 586.86,144.5 587.04,144.42 587.23,144.34 587.41,144.26 587.6,144.19 587.79,144.12 587.97,144.05 588.16,143.98 588.34,143.91 588.53,143.85 588.72,143.79 588.9,143.73 589.09,143.68 589.27,143.63 589.46,143.58 589.65,143.53 589.83,143.49 590.02,143.45 590.2,143.41 590.39,143.37 590.58,143.33 590.76,143.3 590.95,143.27 591.13,143.24 591.32,143.21 591.51,143.18 591.69,143.16 591.88,143.13 592.06,143.11 592.25,143.09 592.43,143.07 592.62,143.06 592.81,143.04 592.99,143.03 593.18,143.02 593.36,143 593.55,142.99 593.74,142.99 593.92,142.98 594.11,142.97 594.29,142.97 594.48,142.96 594.67,142.96 594.85,142.96 595.04,142.95 595.22,142.95 595.41,142.95 595.6,142.96 595.78,142.96 595.97,142.96 596.15,142.96 596.34,142.97 596.53,142.97 596.71,142.98 596.9,142.98 597.08,142.99 597.27,143 597.45,143 597.64,143.01 597.83,143.02 598.01,143.02 598.2,143.03 598.38,143.04 598.57,143.05 598.76,143.06 598.94,143.07 599.13,143.08 599.31,143.1 599.5,143.11 599.69,143.13 599.87,143.14 600.06,143.16 600.24,143.17 600.43,143.19 600.62,143.21 600.8,143.23 600.99,143.25 601.17,143.27 601.36,143.29 601.55,143.31 601.73,143.33 601.92,143.35 602.1,143.37 602.29,143.4 602.47,143.42 602.66,143.45 602.85,143.47 603.03,143.5 603.22,143.52 603.4,143.55 603.59,143.58 603.78,143.6 603.96,143.63 604.15,143.66 604.33,143.69 604.52,143.72 604.71,143.75 604.89,143.78 605.08,143.81 605.26,143.84 605.45,143.87 605.64,143.9 605.82,143.93 606.01,143.96 606.19,144 606.38,144.03 606.57,144.06 606.75,144.09 606.94,144.13 607.12,144.16 607.31,144.2 607.49,144.23 607.68,144.26 607.87,144.3 608.05,144.33 608.24,144.37 608.42,144.4 608.61,144.44 608.8,144.49 608.98,144.53 609.17,144.58 609.35,144.62 609.54,144.67 609.73,144.73 609.91,144.78 610.1,144.84 610.28,144.89 610.47,144.95 610.66,145.01 610.84,145.07 611.03,145.13 611.21,145.19 611.4,145.25 611.59,145.31 611.77,145.37 611.96,145.43 612.14,145.49 612.33,145.55 612.51,145.61 612.7,145.67 612.89,145.73 613.07,145.79 613.26,145.85 613.44,145.9 613.63,145.96 613.82,146.01 614,146.06 614.19,146.11 614.37,146.15 614.56,146.2 614.75,146.24 614.93,146.28 615.12,146.32 615.3,146.35 615.49,146.38 615.68,146.41 615.86,146.43 616.05,146.45 616.23,146.47 616.42,146.49 616.61,146.5 616.79,146.5 616.98,146.51 617.16,146.51 617.35,146.51 617.53,146.51 617.72,146.5 617.91,146.49 618.09,146.47 618.28,146.45 618.46,146.43 618.65,146.4 618.84,146.37 619.02,146.33 619.21,146.28 619.39,146.23 619.58,146.17 619.77,146.1 619.95,146.02 620.14,145.94 620.32,145.85 620.51,145.75 620.7,145.64 620.88,145.53 621.07,145.4 621.25,145.26 621.44,145.12 621.63,144.96 621.81,144.79 622,144.62 622.18,144.43 622.37,144.23 622.56,144.03 622.74,143.81 622.93,143.59 623.11,143.36 623.3,143.12 623.48,142.87 623.67,142.62 623.86,142.36 624.04,142.09 624.23,141.81 624.41,141.53 624.6,141.24 624.79,140.94 624.97,140.63 625.16,140.32 625.34,140.01 625.53,139.68 625.72,139.36 625.9,139.02 626.09,138.68 626.27,138.34 626.46,137.99 626.65,137.64 626.83,137.28 627.02,136.9 627.2,136.51 627.39,136.1 627.58,135.68 627.76,135.25 627.95,134.8 628.13,134.34 628.32,133.87 628.5,133.39 628.69,132.9 628.88,132.4 629.06,131.89 629.25,131.38 629.43,130.86 629.62,130.34 629.81,129.81 629.99,129.28 630.18,128.75 630.36,128.21 630.55,127.67 630.74,127.13 630.92,126.59 631.11,126.04 631.29,125.49 631.48,124.94 631.67,124.38 631.85,123.82 632.04,123.26 632.22,122.69 632.41,122.12 632.6,121.55 632.78,120.98 632.97,120.4 633.15,119.82 633.34,119.24 633.52,118.65 633.71,118.07 633.9,117.48 634.08,116.89 634.27,116.3 634.45,115.7 634.64,115.11 634.83,114.51 635.01,113.91 635.2,113.31 635.38,112.71 635.57,112.11 635.76,111.51 635.94,110.9 636.13,110.28 636.31,109.65 636.5,109.01 636.69,108.36 636.87,107.71 637.06,107.05 637.24,106.38 637.43,105.72 637.62,105.05 637.8,104.37 637.99,103.7 638.17,103.03 638.36,102.35 638.54,101.68 638.73,101.01 638.92,100.35 639.1,99.69 639.29,99.04 639.47,98.39 639.66,97.75 639.85,97.12 640.03,96.51 640.22,95.9 640.4,95.3 640.59,94.72 640.78,94.14 640.96,93.59 641.15,93.05 641.33,92.53 641.52,92.02 641.71,91.53 641.89,91.04 642.08,90.56 642.26,90.09 642.45,89.63 642.64,89.18 642.82,88.73 643.01,88.29 643.19,87.86 643.38,87.43 643.56,87.01 643.75,86.6 643.94,86.19 644.12,85.79 644.31,85.4 644.49,85.01 644.68,84.63 644.87,84.25 645.05,83.88 645.24,83.51 645.42,83.15 645.61,82.8 645.8,82.45 645.98,82.1 646.17,81.76 646.35,81.42 646.54,81.09 646.73,80.76 646.91,80.44 647.1,80.12 647.28,79.8 647.47,79.49 647.66,79.18 647.84,78.88 648.03,78.57 648.21,78.28 648.4,77.99 648.59,77.7 648.77,77.43 648.96,77.16 649.14,76.9 649.33,76.64 649.51,76.39 649.7,76.15 649.89,75.91 650.07,75.68 650.26,75.45 650.44,75.22 650.63,75 650.82,74.79 651,74.57 651.19,74.37 651.37,74.16 651.56,73.95 651.75,73.75 651.93,73.55 652.12,73.35 652.3,73.16 652.49,72.96 652.68,72.76 652.86,72.57 653.05,72.37 653.23,72.18 653.42,71.98 653.61,71.78 653.79,71.58 653.98,71.38 654.16,71.18 654.35,70.97 654.53,70.76 654.72,70.55 654.91,70.34 655.09,70.12 655.28,69.9 655.46,69.67 655.65,69.45 655.84,69.22 656.02,69 656.21,68.77 656.39,68.54 656.58,68.32 656.77,68.09 656.95,67.86 657.14,67.64 657.32,67.41 657.51,67.18 657.7,66.95 657.88,66.72 658.07,66.5 658.25,66.27 658.44,66.04 658.63,65.81 658.81,65.58 659,65.35 659.18,65.13 659.37,64.9 659.55,64.67 659.74,64.44 659.93,64.21 660.11,63.98 660.3,63.75 660.48,63.53 660.67,63.3 660.86,63.07 661.04,62.84 661.23,62.61 661.41,62.38 661.6,62.16" fill="none" stroke="#f0bdca" stroke-width="0.9" stroke-linejoin="round" stroke-linecap="round" />
<polygon points="550.04,163.54 548.22,160.39 551.86,160.39" fill="#f0bdca"/>
<polygon points="550.97,161.74 549.15,158.59 552.79,158.59" fill="#f0bdca"/>
<polygon points="551.9,160.2 550.08,157.05 553.72,157.05" fill="#f0bdca"/>
<polygon points="553.2,158.89 551.39,155.74 555.02,155.74" fill="#f0bdca"/>
<polygon points="554.69,157.69 552.87,154.54 556.51,154.54" fill="#f0bdca"/>
<polygon points="556.18,156.77 554.36,153.62 558,153.62" fill="#f0bdca"/>
<polygon points="557.85,155.99 556.03,152.84 559.67,152.84" fill="#f0bdca"/>
<polygon points="559.53,155.32 557.71,152.17 561.34,152.17" fill="#f0bdca"/>
<polygon points="561.2,154.75 559.38,151.6 563.02,151.6" fill="#f0bdca"/>
<polygon points="562.87,154.25 561.05,151.1 564.69,151.1" fill="#f0bdca"/>
<polygon points="564.55,153.81 562.73,150.66 566.36,150.66" fill="#f0bdca"/>
<polygon points="566.22,153.43 564.4,150.28 568.04,150.28" fill="#f0bdca"/>
<polygon points="568.08,153.16 566.26,150.01 569.9,150.01" fill="#f0bdca"/>
<polygon points="569.94,152.96 568.12,149.81 571.76,149.81" fill="#f0bdca"/>
<polygon points="571.8,152.72 569.98,149.57 573.62,149.57" fill="#f0bdca"/>
<polygon points="575.14,151.86 573.32,148.71 576.96,148.71" fill="#f0bdca"/>
<polygon points="578.3,150.56 576.49,147.41 580.12,147.41" fill="#f0bdca"/>
<polygon points="581.46,149.18 579.65,146.03 583.28,146.03" fill="#f0bdca"/>
<polygon points="584.63,147.65 582.81,144.5 586.44,144.5" fill="#f0bdca"/>
<polygon points="587.79,146.22 585.97,143.07 589.61,143.07" fill="#f0bdca"/>
<polygon points="591.13,145.34 589.31,142.19 592.95,142.19" fill="#f0bdca"/>
<polygon points="594.67,145.06 592.85,141.91 596.48,141.91" fill="#f0bdca"/>
<polygon points="598.2,145.13 596.38,141.98 600.02,141.98" fill="#f0bdca"/>
<polygon points="601.73,145.43 599.91,142.28 603.55,142.28" fill="#f0bdca"/>
<polygon points="605.26,145.94 603.45,142.79 607.08,142.79" fill="#f0bdca"/>
<polygon points="608.61,146.54 606.79,143.39 610.43,143.39" fill="#f0bdca"/>
<polygon points="611.96,147.53 610.14,144.38 613.78,144.38" fill="#f0bdca"/>
<polygon points="615.3,148.45 613.49,145.3 617.12,145.3" fill="#f0bdca"/>
<polygon points="618.84,148.47 617.02,145.32 620.66,145.32" fill="#f0bdca"/>
<polygon points="621.81,146.89 619.99,143.74 623.63,143.74" fill="#f0bdca"/>
<polygon points="625.53,141.78 623.71,138.63 627.35,138.63" fill="#f0bdca"/>
<polygon points="628.32,135.97 626.5,132.82 630.14,132.82" fill="#f0bdca"/>
<polygon points="630.36,130.31 628.55,127.16 632.18,127.16" fill="#f0bdca"/>
<polygon points="632.41,124.22 630.59,121.07 634.23,121.07" fill="#f0bdca"/>
<polygon points="634.27,118.4 632.45,115.25 636.09,115.25" fill="#f0bdca"/>
<polygon points="636.13,112.38 634.31,109.23 637.95,109.23" fill="#f0bdca"/>
<polygon points="637.8,106.47 635.98,103.32 639.62,103.32" fill="#f0bdca"/>
<polygon points="639.47,100.49 637.66,97.34 641.29,97.34" fill="#f0bdca"/>
<polygon points="641.33,94.63 639.52,91.48 643.15,91.48" fill="#f0bdca"/>
<polygon points="643.75,88.7 641.93,85.55 645.57,85.55" fill="#f0bdca"/>
<polygon points="646.54,83.19 644.72,80.04 648.36,80.04" fill="#f0bdca"/>
<polygon points="649.89,78.01 648.07,74.86 651.71,74.86" fill="#f0bdca"/>
<polygon points="653.98,73.48 652.16,70.33 655.8,70.33" fill="#f0bdca"/>
<polygon points="657.88,68.82 656.06,65.67 659.7,65.67" fill="#f0bdca"/>
<polyline points="550.04,139.29 550.23,138.98 550.41,138.65 550.6,138.31 550.79,137.97 550.97,137.63 551.16,137.3 551.34,136.99 551.53,136.69 551.72,136.43 551.9,136.2 552.09,136.01 552.27,135.83 552.46,135.66 552.65,135.49 552.83,135.32 553.02,135.16 553.2,135 553.39,134.85 553.58,134.7 553.76,134.56 553.95,134.42 554.13,134.28 554.32,134.15 554.51,134.02 554.69,133.9 554.88,133.78 555.06,133.66 555.25,133.55 555.43,133.44 555.62,133.34 555.81,133.24 555.99,133.14 556.18,133.04 556.36,132.95 556.55,132.86 556.74,132.78 556.92,132.69 557.11,132.61 557.29,132.53 557.48,132.45 557.67,132.37 557.85,132.29 558.04,132.21 558.22,132.14 558.41,132.06 558.6,131.99 558.78,131.92 558.97,131.84 559.15,131.77 559.34,131.7 559.53,131.64 559.71,131.57 559.9,131.5 560.08,131.44 560.27,131.37 560.45,131.31 560.64,131.25 560.83,131.19 561.01,131.12 561.2,131.06 561.38,131 561.57,130.95 561.76,130.89 561.94,130.83 562.13,130.78 562.31,130.72 562.5,130.66 562.69,130.61 562.87,130.56 563.06,130.5 563.24,130.45 563.43,130.4 563.62,130.35 563.8,130.3 563.99,130.25 564.17,130.2 564.36,130.15 564.55,130.1 564.73,130.05 564.92,130 565.1,129.95 565.29,129.9 565.48,129.86 565.66,129.82 565.85,129.78 566.03,129.75 566.22,129.71 566.4,129.68 566.59,129.65 566.78,129.63 566.96,129.6 567.15,129.58 567.33,129.55 567.52,129.53 567.71,129.51 567.89,129.49 568.08,129.47 568.26,129.45 568.45,129.44 568.64,129.42 568.82,129.4 569.01,129.38 569.19,129.36 569.38,129.34 569.57,129.32 569.75,129.3 569.94,129.28 570.12,129.26 570.31,129.23 570.5,129.21 570.68,129.18 570.87,129.15 571.05,129.12 571.24,129.08 571.42,129.05 571.61,129.01 571.8,128.96 571.98,128.92 572.17,128.87 572.35,128.82 572.54,128.77 572.73,128.71 572.91,128.65 573.1,128.58 573.28,128.51 573.47,128.44 573.66,128.36 573.84,128.28 574.03,128.2 574.21,128.12 574.4,128.03 574.59,127.94 574.77,127.84 574.96,127.75 575.14,127.65 575.33,127.55 575.52,127.45 575.7,127.35 575.89,127.25 576.07,127.14 576.26,127.03 576.44,126.92 576.63,126.82 576.82,126.71 577,126.59 577.19,126.48 577.37,126.37 577.56,126.26 577.75,126.15 577.93,126.04 578.12,125.92 578.3,125.81 578.49,125.7 578.68,125.59 578.86,125.48 579.05,125.37 579.23,125.27 579.42,125.16 579.61,125.05 579.79,124.95 579.98,124.85 580.16,124.75 580.35,124.65 580.54,124.55 580.72,124.46 580.91,124.37 581.09,124.28 581.28,124.19 581.46,124.09 581.65,124 581.84,123.91 582.02,123.82 582.21,123.72 582.39,123.63 582.58,123.53 582.77,123.44 582.95,123.34 583.14,123.25 583.32,123.15 583.51,123.06 583.7,122.97 583.88,122.87 584.07,122.78 584.25,122.69 584.44,122.59 584.63,122.5 584.81,122.41 585,122.32 585.18,122.23 585.37,122.15 585.56,122.06 585.74,121.97 585.93,121.89 586.11,121.81 586.3,121.72 586.48,121.64 586.67,121.56 586.86,121.49 587.04,121.41 587.23,121.34 587.41,121.27 587.6,121.2 587.79,121.13 587.97,121.06 588.16,121 588.34,120.94 588.53,120.88 588.72,120.82 588.9,120.77 589.09,120.72 589.27,120.67 589.46,120.62 589.65,120.58 589.83,120.54 590.02,120.5 590.2,120.46 590.39,120.43 590.58,120.39 590.76,120.36 590.95,120.33 591.13,120.3 591.32,120.28 591.51,120.25 591.69,120.23 591.88,120.21 592.06,120.19 592.25,120.17 592.43,120.16 592.62,120.14 592.81,120.13 592.99,120.12 593.18,120.11 593.36,120.1 593.55,120.1 593.74,120.09 593.92,120.09 594.11,120.08 594.29,120.08 594.48,120.08 594.67,120.09 594.85,120.09 595.04,120.1 595.22,120.1 595.41,120.11 595.6,120.12 595.78,120.13 595.97,120.14 596.15,120.15 596.34,120.16 596.53,120.18 596.71,120.19 596.9,120.21 597.08,120.23 597.27,120.25 597.45,120.27 597.64,120.29 597.83,120.31 598.01,120.33 598.2,120.35 598.38,120.38 598.57,120.41 598.76,120.44 598.94,120.47 599.13,120.5 599.31,120.54 599.5,120.57 599.69,120.61 599.87,120.65 600.06,120.69 600.24,120.73 600.43,120.78 600.62,120.82 600.8,120.87 600.99,120.91 601.17,120.96 601.36,121.01 601.55,121.06 601.73,121.11 601.92,121.16 602.1,121.22 602.29,121.27 602.47,121.32 602.66,121.38 602.85,121.43 603.03,121.49 603.22,121.54 603.4,121.6 603.59,121.66 603.78,121.71 603.96,121.77 604.15,121.83 604.33,121.88 604.52,121.94 604.71,122 604.89,122.05 605.08,122.11 605.26,122.16 605.45,122.22 605.64,122.27 605.82,122.33 606.01,122.38 606.19,122.43 606.38,122.49 606.57,122.54 606.75,122.59 606.94,122.64 607.12,122.69 607.31,122.73 607.49,122.78 607.68,122.83 607.87,122.87 608.05,122.91 608.24,122.96 608.42,123 608.61,123.04 608.8,123.08 608.98,123.12 609.17,123.16 609.35,123.2 609.54,123.25 609.73,123.29 609.91,123.33 610.1,123.38 610.28,123.42 610.47,123.47 610.66,123.51 610.84,123.56 611.03,123.61 611.21,123.65 611.4,123.69 611.59,123.74 611.77,123.78 611.96,123.82 612.14,123.87 612.33,123.91 612.51,123.95 612.7,123.99 612.89,124.02 613.07,124.06 613.26,124.1 613.44,124.13 613.63,124.16 613.82,124.19 614,124.22 614.19,124.25 614.37,124.27 614.56,124.29 614.75,124.31 614.93,124.33 615.12,124.35 615.3,124.36 615.49,124.37 615.68,124.38 615.86,124.39 616.05,124.39 616.23,124.39 616.42,124.39 616.61,124.38 616.79,124.37 616.98,124.35 617.16,124.34 617.35,124.32 617.53,124.3 617.72,124.27 617.91,124.24 618.09,124.21 618.28,124.17 618.46,124.13 618.65,124.09 618.84,124.04 619.02,123.99 619.21,123.94 619.39,123.87 619.58,123.81 619.77,123.74 619.95,123.66 620.14,123.58 620.32,123.49 620.51,123.4 620.7,123.3 620.88,123.19 621.07,123.08 621.25,122.96 621.44,122.84 621.63,122.71 621.81,122.57 622,122.42 622.18,122.27 622.37,122.1 622.56,121.93 622.74,121.76 622.93,121.56 623.11,121.34 623.3,121.07 623.48,120.77 623.67,120.44 623.86,120.08 624.04,119.69 624.23,119.28 624.41,118.86 624.6,118.42 624.79,117.96 624.97,117.49 625.16,117.02 625.34,116.54 625.53,116.07 625.72,115.59 625.9,115.08 626.09,114.56 626.27,114.01 626.46,113.45 626.65,112.87 626.83,112.28 627.02,111.68 627.2,111.08 627.39,110.48 627.58,109.88 627.76,109.29 627.95,108.71 628.13,108.14 628.32,107.59 628.5,107.06 628.69,106.55 628.88,106.07 629.06,105.62 629.25,105.21 629.43,104.83 629.62,104.5 629.81,104.21 629.99,103.95 630.18,103.73 630.36,103.53 630.55,103.35 630.74,103.18 630.92,103.03 631.11,102.88 631.29,102.73 631.48,102.58 631.67,102.42 631.85,102.24 632.04,102.04 632.22,101.82 632.41,101.57 632.6,101.29 632.78,100.97 632.97,100.6 633.15,100.18 633.34,99.71 633.52,99.18 633.71,98.59 633.9,97.93 634.08,97.23 634.27,96.47 634.45,95.66 634.64,94.82 634.83,93.95 635.01,93.04 635.2,92.12 635.38,91.18 635.57,90.22 635.76,89.26 635.94,88.3 636.13,87.35 636.31,86.4 636.5,85.47 636.69,84.57 636.87,83.69 637.06,82.84 637.24,82.03 637.43,81.26 637.62,80.54 637.8,79.87 637.99,79.27 638.17,78.71 638.36,78.19 638.54,77.71 638.73,77.25 638.92,76.83 639.1,76.43 639.29,76.06 639.47,75.71 639.66,75.37 639.85,75.06 640.03,74.76 640.22,74.47 640.4,74.19 640.59,73.92 640.78,73.65 640.96,73.39 641.15,73.12 641.33,72.86 641.52,72.59 641.71,72.31 641.89,72.03 642.08,71.73 642.26,71.42 642.45,71.1 642.64,70.75 642.82,70.39 643.01,70 643.19,69.59 643.38,69.16 643.56,68.71 643.75,68.26 643.94,67.79 644.12,67.3 644.31,66.81 644.49,66.31 644.68,65.8 644.87,65.29 645.05,64.77 645.24,64.24 645.42,63.72 645.61,63.19 645.8,62.67 645.98,62.15 646.17,61.63 646.35,61.12 646.54,60.61 646.73,60.11 646.91,59.62 647.1,59.14 647.28,58.67 647.47,58.22 647.66,57.78 647.84,57.35 648.03,56.95 648.21,56.56 648.4,56.19 648.59,55.84 648.77,55.52 648.96,55.21 649.14,54.93 649.33,54.65 649.51,54.37 649.7,54.1 649.89,53.84 650.07,53.58 650.26,53.32 650.44,53.07 650.63,52.82 650.82,52.58 651,52.34 651.19,52.1 651.37,51.87 651.56,51.65 651.75,51.42 651.93,51.2 652.12,50.99 652.3,50.77 652.49,50.56 652.68,50.36 652.86,50.15 653.05,49.95 653.23,49.75 653.42,49.56 653.61,49.36 653.79,49.17 653.98,48.98 654.16,48.79 654.35,48.61 654.53,48.42 654.72,48.24 654.91,48.06 655.09,47.88 655.28,47.7 655.46,47.53 655.65,47.35 655.84,47.17 656.02,47 656.21,46.83 656.39,46.65 656.58,46.48 656.77,46.31 656.95,46.13 657.14,45.96 657.32,45.79 657.51,45.61 657.7,45.44 657.88,45.27 658.07,45.09 658.25,44.91 658.44,44.74 658.63,44.56 658.81,44.38 659,44.2 659.18,44.02 659.37,43.84 659.55,43.65 659.74,43.46 659.93,43.28 660.11,43.09 660.3,42.89 660.48,42.7 660.67,42.5 660.86,42.3 661.04,42.12 661.23,41.95 661.41,41.78 661.6,41.61" fill="none" stroke="#bcd8ed" stroke-width="0.9" stroke-linejoin="round" stroke-linecap="round" />
<polygon points="550.04,137.47 551.44,139.29 550.04,141.11 548.64,139.29" fill="#bcd8ed"/>
<polygon points="550.97,135.81 552.37,137.63 550.97,139.45 549.57,137.63" fill="#bcd8ed"/>
<polygon points="551.9,134.38 553.3,136.2 551.9,138.02 550.5,136.2" fill="#bcd8ed"/>
<polygon points="553.2,133.18 554.6,135 553.2,136.82 551.8,135" fill="#bcd8ed"/>
<polygon points="554.69,132.08 556.09,133.9 554.69,135.72 553.29,133.9" fill="#bcd8ed"/>
<polygon points="556.18,131.22 557.58,133.04 556.18,134.86 554.78,133.04" fill="#bcd8ed"/>
<polygon points="557.85,130.47 559.25,132.29 557.85,134.11 556.45,132.29" fill="#bcd8ed"/>
<polygon points="559.53,129.82 560.93,131.64 559.53,133.46 558.13,131.64" fill="#bcd8ed"/>
<polygon points="561.2,129.24 562.6,131.06 561.2,132.88 559.8,131.06" fill="#bcd8ed"/>
<polygon points="562.87,128.74 564.27,130.56 562.87,132.38 561.47,130.56" fill="#bcd8ed"/>
<polygon points="564.55,128.28 565.95,130.1 564.55,131.92 563.15,130.1" fill="#bcd8ed"/>
<polygon points="566.22,127.89 567.62,129.71 566.22,131.53 564.82,129.71" fill="#bcd8ed"/>
<polygon points="568.08,127.65 569.48,129.47 568.08,131.29 566.68,129.47" fill="#bcd8ed"/>
<polygon points="569.94,127.46 571.34,129.28 569.94,131.1 568.54,129.28" fill="#bcd8ed"/>
<polygon points="571.8,127.14 573.2,128.96 571.8,130.78 570.4,128.96" fill="#bcd8ed"/>
<polygon points="575.14,125.83 576.54,127.65 575.14,129.47 573.74,127.65" fill="#bcd8ed"/>
<polygon points="578.12,124.1 579.52,125.92 578.12,127.74 576.72,125.92" fill="#bcd8ed"/>
<polygon points="581.09,122.46 582.49,124.28 581.09,126.1 579.69,124.28" fill="#bcd8ed"/>
<polygon points="584.25,120.87 585.65,122.69 584.25,124.51 582.85,122.69" fill="#bcd8ed"/>
<polygon points="587.41,119.45 588.81,121.27 587.41,123.09 586.01,121.27" fill="#bcd8ed"/>
<polygon points="590.76,118.54 592.16,120.36 590.76,122.18 589.36,120.36" fill="#bcd8ed"/>
<polygon points="594.29,118.26 595.69,120.08 594.29,121.9 592.89,120.08" fill="#bcd8ed"/>
<polygon points="597.83,118.49 599.23,120.31 597.83,122.13 596.43,120.31" fill="#bcd8ed"/>
<polygon points="601.17,119.14 602.57,120.96 601.17,122.78 599.77,120.96" fill="#bcd8ed"/>
<polygon points="604.52,120.12 605.92,121.94 604.52,123.76 603.12,121.94" fill="#bcd8ed"/>
<polygon points="607.87,121.05 609.27,122.87 607.87,124.69 606.47,122.87" fill="#bcd8ed"/>
<polygon points="611.21,121.83 612.61,123.65 611.21,125.47 609.81,123.65" fill="#bcd8ed"/>
<polygon points="614.56,122.47 615.96,124.29 614.56,126.11 613.16,124.29" fill="#bcd8ed"/>
<polygon points="618.09,122.39 619.49,124.21 618.09,126.03 616.69,124.21" fill="#bcd8ed"/>
<polygon points="621.25,121.14 622.65,122.96 621.25,124.78 619.85,122.96" fill="#bcd8ed"/>
<polygon points="624.79,116.14 626.19,117.96 624.79,119.78 623.39,117.96" fill="#bcd8ed"/>
<polygon points="626.83,110.46 628.23,112.28 626.83,114.1 625.43,112.28" fill="#bcd8ed"/>
<polygon points="628.69,104.73 630.09,106.55 628.69,108.37 627.29,106.55" fill="#bcd8ed"/>
<polygon points="632.22,100 633.62,101.82 632.22,103.64 630.82,101.82" fill="#bcd8ed"/>
<polygon points="634.45,93.84 635.85,95.66 634.45,97.48 633.05,95.66" fill="#bcd8ed"/>
<polygon points="635.76,87.44 637.16,89.26 635.76,91.08 634.36,89.26" fill="#bcd8ed"/>
<polygon points="637.06,81.02 638.46,82.84 637.06,84.66 635.66,82.84" fill="#bcd8ed"/>
<polygon points="638.92,75.01 640.32,76.83 638.92,78.65 637.52,76.83" fill="#bcd8ed"/>
<polygon points="642.08,69.91 643.48,71.73 642.08,73.55 640.68,71.73" fill="#bcd8ed"/>
<polygon points="644.68,63.98 646.08,65.8 644.68,67.62 643.28,65.8" fill="#bcd8ed"/>
<polygon points="646.73,58.29 648.13,60.11 646.73,61.93 645.33,60.11" fill="#bcd8ed"/>
<polygon points="649.33,52.83 650.73,54.65 649.33,56.47 647.93,54.65" fill="#bcd8ed"/>
<polygon points="653.23,47.93 654.63,49.75 653.23,51.57 651.83,49.75" fill="#bcd8ed"/>
<polygon points="657.7,43.62 659.1,45.44 657.7,47.26 656.3,45.44" fill="#bcd8ed"/>
<polyline points="550.04,118.74 550.23,118.4 550.41,118.05 550.6,117.68 550.79,117.31 550.97,116.95 551.16,116.59 551.34,116.26 551.53,115.94 551.72,115.65 551.9,115.4 552.09,115.18 552.27,114.98 552.46,114.78 552.65,114.58 552.83,114.38 553.02,114.19 553.2,114.01 553.39,113.82 553.58,113.64 553.76,113.47 553.95,113.3 554.13,113.14 554.32,112.98 554.51,112.82 554.69,112.67 554.88,112.53 555.06,112.39 555.25,112.26 555.43,112.13 555.62,112.01 555.81,111.9 555.99,111.79 556.18,111.69 556.36,111.6 556.55,111.51 556.74,111.43 556.92,111.35 557.11,111.28 557.29,111.2 557.48,111.13 557.67,111.06 557.85,111 558.04,110.93 558.22,110.87 558.41,110.81 558.6,110.75 558.78,110.69 558.97,110.64 559.15,110.58 559.34,110.53 559.53,110.48 559.71,110.43 559.9,110.39 560.08,110.34 560.27,110.3 560.45,110.25 560.64,110.21 560.83,110.17 561.01,110.13 561.2,110.09 561.38,110.06 561.57,110.02 561.76,109.98 561.94,109.95 562.13,109.91 562.31,109.88 562.5,109.85 562.69,109.81 562.87,109.78 563.06,109.75 563.24,109.72 563.43,109.69 563.62,109.65 563.8,109.62 563.99,109.59 564.17,109.56 564.36,109.53 564.55,109.5 564.73,109.46 564.92,109.43 565.1,109.4 565.29,109.37 565.48,109.34 565.66,109.31 565.85,109.29 566.03,109.27 566.22,109.25 566.4,109.24 566.59,109.22 566.78,109.21 566.96,109.2 567.15,109.19 567.33,109.18 567.52,109.17 567.71,109.17 567.89,109.16 568.08,109.16 568.26,109.15 568.45,109.15 568.64,109.14 568.82,109.14 569.01,109.13 569.19,109.13 569.38,109.12 569.57,109.11 569.75,109.11 569.94,109.1 570.12,109.09 570.31,109.07 570.5,109.06 570.68,109.04 570.87,109.02 571.05,109 571.24,108.98 571.42,108.95 571.61,108.92 571.8,108.89 571.98,108.86 572.17,108.82 572.35,108.78 572.54,108.73 572.73,108.68 572.91,108.63 573.1,108.57 573.28,108.5 573.47,108.43 573.66,108.36 573.84,108.28 574.03,108.19 574.21,108.1 574.4,108.01 574.59,107.91 574.77,107.81 574.96,107.71 575.14,107.6 575.33,107.5 575.52,107.38 575.7,107.27 575.89,107.15 576.07,107.04 576.26,106.92 576.44,106.8 576.63,106.67 576.82,106.55 577,106.43 577.19,106.31 577.37,106.19 577.56,106.06 577.75,105.94 577.93,105.82 578.12,105.7 578.3,105.59 578.49,105.47 578.68,105.36 578.86,105.25 579.05,105.14 579.23,105.03 579.42,104.93 579.61,104.83 579.79,104.73 579.98,104.63 580.16,104.53 580.35,104.43 580.54,104.33 580.72,104.22 580.91,104.12 581.09,104.01 581.28,103.91 581.46,103.8 581.65,103.7 581.84,103.59 582.02,103.49 582.21,103.38 582.39,103.28 582.58,103.17 582.77,103.07 582.95,102.97 583.14,102.86 583.32,102.76 583.51,102.66 583.7,102.56 583.88,102.46 584.07,102.36 584.25,102.26 584.44,102.16 584.63,102.06 584.81,101.97 585,101.88 585.18,101.78 585.37,101.69 585.56,101.6 585.74,101.52 585.93,101.43 586.11,101.35 586.3,101.27 586.48,101.19 586.67,101.11 586.86,101.03 587.04,100.96 587.23,100.89 587.41,100.82 587.6,100.76 587.79,100.7 587.97,100.64 588.16,100.58 588.34,100.52 588.53,100.47 588.72,100.42 588.9,100.37 589.09,100.32 589.27,100.27 589.46,100.22 589.65,100.18 589.83,100.13 590.02,100.09 590.2,100.05 590.39,100.01 590.58,99.97 590.76,99.93 590.95,99.89 591.13,99.86 591.32,99.82 591.51,99.79 591.69,99.76 591.88,99.72 592.06,99.69 592.25,99.67 592.43,99.64 592.62,99.61 592.81,99.59 592.99,99.56 593.18,99.54 593.36,99.52 593.55,99.49 593.74,99.47 593.92,99.45 594.11,99.44 594.29,99.42 594.48,99.4 594.67,99.39 594.85,99.37 595.04,99.36 595.22,99.35 595.41,99.33 595.6,99.32 595.78,99.31 595.97,99.3 596.15,99.3 596.34,99.29 596.53,99.28 596.71,99.28 596.9,99.27 597.08,99.27 597.27,99.26 597.45,99.26 597.64,99.26 597.83,99.26 598.01,99.26 598.2,99.26 598.38,99.26 598.57,99.26 598.76,99.26 598.94,99.27 599.13,99.28 599.31,99.28 599.5,99.29 599.69,99.3 599.87,99.31 600.06,99.32 600.24,99.34 600.43,99.35 600.62,99.36 600.8,99.38 600.99,99.4 601.17,99.41 601.36,99.43 601.55,99.45 601.73,99.47 601.92,99.49 602.1,99.52 602.29,99.54 602.47,99.56 602.66,99.59 602.85,99.61 603.03,99.64 603.22,99.67 603.4,99.69 603.59,99.72 603.78,99.75 603.96,99.78 604.15,99.81 604.33,99.84 604.52,99.87 604.71,99.91 604.89,99.94 605.08,99.97 605.26,100.01 605.45,100.04 605.64,100.07 605.82,100.11 606.01,100.14 606.19,100.18 606.38,100.22 606.57,100.25 606.75,100.29 606.94,100.33 607.12,100.37 607.31,100.4 607.49,100.44 607.68,100.48 607.87,100.52 608.05,100.56 608.24,100.6 608.42,100.64 608.61,100.68 608.8,100.73 608.98,100.78 609.17,100.83 609.35,100.89 609.54,100.94 609.73,101 609.91,101.06 610.1,101.13 610.28,101.19 610.47,101.25 610.66,101.32 610.84,101.39 611.03,101.46 611.21,101.53 611.4,101.6 611.59,101.67 611.77,101.74 611.96,101.81 612.14,101.88 612.33,101.96 612.51,102.03 612.7,102.1 612.89,102.17 613.07,102.24 613.26,102.31 613.44,102.37 613.63,102.44 613.82,102.5 614,102.57 614.19,102.63 614.37,102.69 614.56,102.75 614.75,102.8 614.93,102.86 615.12,102.91 615.3,102.96 615.49,103 615.68,103.05 615.86,103.09 616.05,103.12 616.23,103.15 616.42,103.18 616.61,103.21 616.79,103.23 616.98,103.25 617.16,103.27 617.35,103.28 617.53,103.29 617.72,103.3 617.91,103.3 618.09,103.31 618.28,103.31 618.46,103.3 618.65,103.3 618.84,103.29 619.02,103.28 619.21,103.26 619.39,103.24 619.58,103.21 619.77,103.18 619.95,103.14 620.14,103.09 620.32,103.04 620.51,102.99 620.7,102.93 620.88,102.86 621.07,102.78 621.25,102.7 621.44,102.61 621.63,102.51 621.81,102.4 622,102.28 622.18,102.16 622.37,102.02 622.56,101.88 622.74,101.73 622.93,101.56 623.11,101.38 623.3,101.18 623.48,100.96 623.67,100.72 623.86,100.47 624.04,100.2 624.23,99.92 624.41,99.63 624.6,99.32 624.79,99.01 624.97,98.68 625.16,98.35 625.34,98.01 625.53,97.66 625.72,97.31 625.9,96.95 626.09,96.59 626.27,96.22 626.46,95.86 626.65,95.49 626.83,95.13 627.02,94.76 627.2,94.4 627.39,94.03 627.58,93.64 627.76,93.24 627.95,92.82 628.13,92.4 628.32,91.96 628.5,91.51 628.69,91.05 628.88,90.59 629.06,90.12 629.25,89.65 629.43,89.18 629.62,88.71 629.81,88.24 629.99,87.77 630.18,87.3 630.36,86.83 630.55,86.36 630.74,85.89 630.92,85.41 631.11,84.93 631.29,84.45 631.48,83.96 631.67,83.47 631.85,82.97 632.04,82.47 632.22,81.96 632.41,81.45 632.6,80.93 632.78,80.41 632.97,79.87 633.15,79.33 633.34,78.77 633.52,78.21 633.71,77.63 633.9,77.05 634.08,76.47 634.27,75.88 634.45,75.29 634.64,74.69 634.83,74.1 635.01,73.51 635.2,72.93 635.38,72.35 635.57,71.77 635.76,71.21 635.94,70.65 636.13,70.08 636.31,69.51 636.5,68.94 636.69,68.37 636.87,67.81 637.06,67.24 637.24,66.67 637.43,66.11 637.62,65.55 637.8,64.99 637.99,64.45 638.17,63.9 638.36,63.37 638.54,62.84 638.73,62.32 638.92,61.81 639.1,61.31 639.29,60.82 639.47,60.34 639.66,59.86 639.85,59.38 640.03,58.9 640.22,58.42 640.4,57.94 640.59,57.47 640.78,56.99 640.96,56.52 641.15,56.06 641.33,55.59 641.52,55.13 641.71,54.68 641.89,54.23 642.08,53.78 642.26,53.34 642.45,52.91 642.64,52.48 642.82,52.06 643.01,51.65 643.19,51.24 643.38,50.84 643.56,50.45 643.75,50.07 643.94,49.7 644.12,49.34 644.31,48.99 644.49,48.64 644.68,48.3 644.87,47.97 645.05,47.64 645.24,47.31 645.42,46.98 645.61,46.66 645.8,46.34 645.98,46.02 646.17,45.7 646.35,45.39 646.54,45.09 646.73,44.78 646.91,44.48 647.1,44.18 647.28,43.89 647.47,43.59 647.66,43.3 647.84,43.02 648.03,42.73 648.21,42.45 648.4,42.18 648.59,41.9 648.77,41.63 648.96,41.36 649.14,41.1 649.33,40.84 649.51,40.58 649.7,40.32 649.89,40.07 650.07,39.82 650.26,39.57 650.44,39.32 650.63,39.08 650.82,38.84 651,38.61 651.19,38.37 651.37,38.14 651.56,37.92 651.75,37.69 651.93,37.47 652.12,37.25 652.3,37.04 652.49,36.83 652.68,36.62 652.86,36.42 653.05,36.22 653.23,36.03 653.42,35.84 653.61,35.65 653.79,35.47 653.98,35.29 654.16,35.11 654.35,34.93 654.53,34.76 654.72,34.59 654.91,34.43 655.09,34.26 655.28,34.1 655.46,33.94 655.65,33.78 655.84,33.63 656.02,33.47 656.21,33.32 656.39,33.17 656.58,33.01 656.77,32.86 656.95,32.71 657.14,32.57 657.32,32.42 657.51,32.27 657.7,32.12 657.88,31.98 658.07,31.83 658.25,31.68 658.44,31.53 658.63,31.38 658.81,31.23 659,31.08 659.18,30.93 659.37,30.78 659.55,30.63 659.74,30.47 659.93,30.32 660.11,30.16 660.3,30 660.48,29.84 660.67,29.67 660.86,29.51 661.04,29.33 661.23,29.15 661.41,28.97 661.6,28.79" fill="none" stroke="#92bfe1" stroke-width="0.9" stroke-linejoin="round" stroke-linecap="round" />
<polygon points="547.94,118.74 551.09,116.92 551.09,120.56" fill="#92bfe1"/>
<polygon points="548.87,116.95 552.02,115.13 552.02,118.77" fill="#92bfe1"/>
<polygon points="549.8,115.4 552.95,113.58 552.95,117.22" fill="#92bfe1"/>
<polygon points="551.1,114.01 554.25,112.19 554.25,115.82" fill="#92bfe1"/>
<polygon points="552.41,112.82 555.56,111 555.56,114.64" fill="#92bfe1"/>
<polygon points="553.89,111.79 557.04,109.97 557.04,113.61" fill="#92bfe1"/>
<polygon points="555.57,111.06 558.72,109.24 558.72,112.88" fill="#92bfe1"/>
<polygon points="557.24,110.53 560.39,108.71 560.39,112.35" fill="#92bfe1"/>
<polygon points="558.91,110.13 562.06,108.31 562.06,111.95" fill="#92bfe1"/>
<polygon points="560.59,109.81 563.74,107.99 563.74,111.63" fill="#92bfe1"/>
<polygon points="562.45,109.5 565.6,107.68 565.6,111.31" fill="#92bfe1"/>
<polygon points="564.3,109.24 567.45,107.42 567.45,111.05" fill="#92bfe1"/>
<polygon points="566.16,109.15 569.31,107.33 569.31,110.97" fill="#92bfe1"/>
<polygon points="568.02,109.09 571.17,107.27 571.17,110.9" fill="#92bfe1"/>
<polygon points="569.88,108.86 573.03,107.04 573.03,110.68" fill="#92bfe1"/>
<polygon points="573.04,107.6 576.19,105.79 576.19,109.42" fill="#92bfe1"/>
<polygon points="576.02,105.7 579.17,103.89 579.17,107.52" fill="#92bfe1"/>
<polygon points="578.99,104.01 582.14,102.2 582.14,105.83" fill="#92bfe1"/>
<polygon points="581.97,102.36 585.12,100.54 585.12,104.18" fill="#92bfe1"/>
<polygon points="585.13,100.89 588.28,99.07 588.28,102.71" fill="#92bfe1"/>
<polygon points="588.48,99.97 591.63,98.15 591.63,101.78" fill="#92bfe1"/>
<polygon points="592.01,99.44 595.16,97.62 595.16,101.25" fill="#92bfe1"/>
<polygon points="595.54,99.26 598.69,97.44 598.69,101.08" fill="#92bfe1"/>
<polygon points="599.07,99.41 602.22,97.6 602.22,101.23" fill="#92bfe1"/>
<polygon points="602.61,99.91 605.76,98.09 605.76,101.72" fill="#92bfe1"/>
<polygon points="605.95,100.56 609.1,98.74 609.1,102.38" fill="#92bfe1"/>
<polygon points="609.3,101.6 612.45,99.78 612.45,103.42" fill="#92bfe1"/>
<polygon points="612.65,102.8 615.8,100.98 615.8,104.62" fill="#92bfe1"/>
<polygon points="616.18,103.31 619.33,101.49 619.33,105.13" fill="#92bfe1"/>
<polygon points="619.53,102.51 622.68,100.69 622.68,104.33" fill="#92bfe1"/>
<polygon points="623.43,97.66 626.58,95.84 626.58,99.48" fill="#92bfe1"/>
<polygon points="626.22,91.96 629.37,90.14 629.37,93.78" fill="#92bfe1"/>
<polygon points="628.45,86.36 631.6,84.54 631.6,88.18" fill="#92bfe1"/>
<polygon points="630.68,80.41 633.83,78.59 633.83,82.23" fill="#92bfe1"/>
<polygon points="632.54,74.69 635.69,72.87 635.69,76.51" fill="#92bfe1"/>
<polygon points="634.4,68.94 637.55,67.13 637.55,70.76" fill="#92bfe1"/>
<polygon points="636.44,62.84 639.59,61.02 639.59,64.66" fill="#92bfe1"/>
<polygon points="638.68,56.99 641.83,55.17 641.83,58.81" fill="#92bfe1"/>
<polygon points="641.09,51.24 644.24,49.42 644.24,53.06" fill="#92bfe1"/>
<polygon points="644.07,45.7 647.22,43.89 647.22,47.52" fill="#92bfe1"/>
<polygon points="647.41,40.58 650.56,38.76 650.56,42.4" fill="#92bfe1"/>
<polygon points="651.32,35.84 654.47,34.02 654.47,37.66" fill="#92bfe1"/>
<polygon points="655.97,31.83 659.12,30.01 659.12,33.65" fill="#92bfe1"/>
<polyline points="549.76,96.32 549.94,95.98 550.11,95.63 550.28,95.29 550.46,94.97 550.63,94.68 550.8,94.41 550.97,94.13 551.15,93.85 551.32,93.58 551.49,93.3 551.67,93.03 551.84,92.77 552.01,92.52 552.19,92.28 552.36,92.05 552.53,91.84 552.71,91.66 552.88,91.49 553.05,91.33 553.23,91.18 553.4,91.03 553.57,90.88 553.75,90.74 553.92,90.59 554.09,90.45 554.27,90.32 554.44,90.18 554.61,90.05 554.79,89.92 554.96,89.8 555.13,89.68 555.31,89.56 555.48,89.44 555.65,89.33 555.83,89.22 556,89.12 556.17,89.02 556.35,88.92 556.52,88.83 556.69,88.74 556.87,88.65 557.04,88.57 557.21,88.49 557.39,88.41 557.56,88.34 557.73,88.27 557.91,88.21 558.08,88.15 558.25,88.1 558.43,88.04 558.6,87.99 558.77,87.95 558.95,87.9 559.12,87.86 559.29,87.83 559.47,87.79 559.64,87.76 559.81,87.73 559.99,87.7 560.16,87.67 560.33,87.65 560.51,87.62 560.68,87.6 560.85,87.58 561.03,87.56 561.2,87.54 561.37,87.52 561.55,87.5 561.72,87.49 561.89,87.47 562.07,87.45 562.24,87.43 562.41,87.42 562.58,87.4 562.76,87.38 562.93,87.36 563.1,87.34 563.28,87.32 563.45,87.3 563.62,87.27 563.8,87.25 563.97,87.22 564.14,87.2 564.32,87.18 564.49,87.16 564.66,87.14 564.84,87.13 565.01,87.11 565.18,87.1 565.36,87.09 565.53,87.08 565.7,87.07 565.88,87.06 566.05,87.05 566.22,87.04 566.4,87.03 566.57,87.02 566.74,87.01 566.92,86.99 567.09,86.98 567.26,86.97 567.44,86.95 567.61,86.94 567.78,86.92 567.96,86.9 568.13,86.87 568.3,86.85 568.48,86.82 568.65,86.79 568.82,86.76 569,86.72 569.17,86.68 569.34,86.64 569.52,86.59 569.69,86.54 569.86,86.49 570.04,86.43 570.21,86.37 570.38,86.3 570.56,86.23 570.73,86.15 570.9,86.07 571.08,85.99 571.25,85.9 571.42,85.81 571.6,85.72 571.77,85.62 571.94,85.52 572.12,85.42 572.29,85.32 572.46,85.21 572.64,85.11 572.81,85 572.98,84.89 573.16,84.78 573.33,84.67 573.5,84.56 573.68,84.45 573.85,84.34 574.02,84.23 574.19,84.12 574.37,84.01 574.54,83.9 574.71,83.8 574.89,83.69 575.06,83.59 575.23,83.49 575.41,83.39 575.58,83.29 575.75,83.19 575.93,83.1 576.1,83.01 576.27,82.93 576.45,82.84 576.62,82.76 576.79,82.68 576.97,82.6 577.14,82.52 577.31,82.44 577.49,82.36 577.66,82.28 577.83,82.21 578.01,82.13 578.18,82.06 578.35,81.99 578.53,81.91 578.7,81.84 578.87,81.77 579.05,81.7 579.22,81.63 579.39,81.56 579.57,81.48 579.74,81.41 579.91,81.34 580.09,81.27 580.26,81.2 580.43,81.13 580.61,81.06 580.78,80.99 580.95,80.92 581.13,80.84 581.3,80.77 581.47,80.7 581.65,80.62 581.82,80.55 581.99,80.47 582.17,80.39 582.34,80.31 582.51,80.24 582.69,80.15 582.86,80.07 583.03,79.98 583.21,79.89 583.38,79.8 583.55,79.71 583.73,79.62 583.9,79.52 584.07,79.43 584.25,79.33 584.42,79.24 584.59,79.14 584.77,79.05 584.94,78.95 585.11,78.85 585.29,78.76 585.46,78.66 585.63,78.57 585.8,78.48 585.98,78.39 586.15,78.3 586.32,78.21 586.5,78.13 586.67,78.05 586.84,77.97 587.02,77.89 587.19,77.82 587.36,77.75 587.54,77.68 587.71,77.62 587.88,77.56 588.06,77.5 588.23,77.45 588.4,77.4 588.58,77.36 588.75,77.32 588.92,77.29 589.1,77.25 589.27,77.22 589.44,77.18 589.62,77.15 589.79,77.13 589.96,77.1 590.14,77.07 590.31,77.05 590.48,77.03 590.66,77.01 590.83,76.99 591,76.97 591.18,76.95 591.35,76.94 591.52,76.92 591.7,76.91 591.87,76.9 592.04,76.89 592.22,76.88 592.39,76.87 592.56,76.86 592.74,76.85 592.91,76.85 593.08,76.84 593.26,76.84 593.43,76.84 593.6,76.83 593.78,76.83 593.95,76.83 594.12,76.83 594.3,76.83 594.47,76.82 594.64,76.82 594.82,76.83 594.99,76.83 595.16,76.83 595.34,76.83 595.51,76.83 595.68,76.83 595.86,76.83 596.03,76.83 596.2,76.83 596.38,76.83 596.55,76.84 596.72,76.84 596.9,76.84 597.07,76.84 597.24,76.84 597.41,76.84 597.59,76.84 597.76,76.84 597.93,76.84 598.11,76.84 598.28,76.84 598.45,76.85 598.63,76.85 598.8,76.85 598.97,76.86 599.15,76.86 599.32,76.86 599.49,76.87 599.67,76.88 599.84,76.88 600.01,76.89 600.19,76.89 600.36,76.9 600.53,76.91 600.71,76.92 600.88,76.92 601.05,76.93 601.23,76.94 601.4,76.95 601.57,76.96 601.75,76.97 601.92,76.99 602.09,77 602.27,77.01 602.44,77.02 602.61,77.04 602.79,77.05 602.96,77.06 603.13,77.08 603.31,77.1 603.48,77.11 603.65,77.13 603.83,77.15 604,77.16 604.17,77.18 604.35,77.2 604.52,77.22 604.69,77.24 604.87,77.26 605.04,77.28 605.21,77.31 605.39,77.33 605.56,77.35 605.73,77.38 605.91,77.41 606.08,77.46 606.25,77.51 606.43,77.58 606.6,77.65 606.77,77.72 606.95,77.8 607.12,77.88 607.29,77.96 607.47,78.05 607.64,78.13 607.81,78.2 607.99,78.27 608.16,78.34 608.33,78.39 608.51,78.44 608.68,78.48 608.85,78.52 609.02,78.56 609.2,78.6 609.37,78.64 609.54,78.68 609.72,78.71 609.89,78.75 610.06,78.78 610.24,78.81 610.41,78.85 610.58,78.88 610.76,78.91 610.93,78.94 611.1,78.97 611.28,79 611.45,79.03 611.62,79.06 611.8,79.09 611.97,79.11 612.14,79.14 612.32,79.17 612.49,79.2 612.66,79.23 612.84,79.26 613.01,79.28 613.18,79.31 613.36,79.34 613.53,79.37 613.7,79.4 613.88,79.43 614.05,79.46 614.22,79.5 614.4,79.53 614.57,79.56 614.74,79.6 614.92,79.64 615.09,79.68 615.26,79.73 615.44,79.78 615.61,79.82 615.78,79.87 615.96,79.92 616.13,79.97 616.3,80.02 616.48,80.07 616.65,80.12 616.82,80.16 617,80.21 617.17,80.26 617.34,80.3 617.52,80.34 617.69,80.38 617.86,80.42 618.04,80.45 618.21,80.49 618.38,80.51 618.56,80.54 618.73,80.56 618.9,80.58 619.08,80.59 619.25,80.6 619.42,80.6 619.6,80.6 619.77,80.59 619.94,80.58 620.12,80.56 620.29,80.54 620.46,80.51 620.63,80.47 620.81,80.43 620.98,80.38 621.15,80.33 621.33,80.27 621.5,80.21 621.67,80.14 621.85,80.06 622.02,79.98 622.19,79.89 622.37,79.8 622.54,79.7 622.71,79.6 622.89,79.49 623.06,79.37 623.23,79.25 623.41,79.12 623.58,78.99 623.75,78.85 623.93,78.7 624.1,78.55 624.27,78.39 624.45,78.22 624.62,78.04 624.79,77.85 624.97,77.64 625.14,77.42 625.31,77.19 625.49,76.96 625.66,76.72 625.83,76.47 626.01,76.21 626.18,75.95 626.35,75.69 626.53,75.42 626.7,75.15 626.87,74.89 627.05,74.62 627.22,74.35 627.39,74.09 627.57,73.83 627.74,73.57 627.91,73.32 628.09,73.11 628.26,72.93 628.43,72.78 628.61,72.64 628.78,72.49 628.95,72.32 629.13,72.13 629.3,71.88 629.47,71.57 629.65,71.19 629.82,70.72 629.99,70.15 630.17,69.1 630.34,67.47 630.51,65.62 630.69,63.88 630.86,62.59 631.03,62.03 631.21,61.7 631.38,61.4 631.55,61.14 631.73,60.91 631.9,60.71 632.07,60.53 632.24,60.37 632.42,60.24 632.59,60.12 632.76,60.02 632.94,59.93 633.11,59.85 633.28,59.78 633.46,59.71 633.63,59.64 633.8,59.58 633.98,59.51 634.15,59.43 634.32,59.35 634.5,59.26 634.67,59.15 634.84,59.02 635.02,58.88 635.19,58.72 635.36,58.53 635.54,58.31 635.71,58.07 635.88,57.79 636.06,57.48 636.23,57.14 636.4,56.75 636.58,56.32 636.75,55.6 636.92,54.35 637.1,52.71 637.27,50.83 637.44,48.87 637.62,46.96 637.79,45.27 637.96,43.94 638.14,42.96 638.31,42.08 638.48,41.29 638.66,40.58 638.83,39.93 639,39.34 639.18,38.81 639.35,38.31 639.52,37.86 639.7,37.43 639.87,37.02 640.04,36.62 640.22,36.23 640.39,35.84 640.56,35.47 640.74,35.1 640.91,34.74 641.08,34.38 641.26,34.04 641.43,33.69 641.6,33.36 641.78,33.02 641.95,32.7 642.12,32.37 642.3,32.05 642.47,31.74 642.64,31.42 642.82,31.11 642.99,30.8 643.16,30.5 643.34,30.19 643.51,29.89 643.68,29.58 643.85,29.28 644.03,28.98 644.2,28.67 644.37,28.37 644.55,28.06 644.72,27.75 644.89,27.44 645.07,27.13 645.24,26.81 645.41,26.49 645.59,26.17 645.76,25.84 645.93,25.51 646.11,25.18 646.28,24.85 646.45,24.51 646.63,24.18 646.8,23.84 646.97,23.5 647.15,23.16 647.32,22.82 647.49,22.48 647.67,22.14 647.84,21.8 648.01,21.46 648.19,21.12 648.36,20.78 648.53,20.44 648.71,20.1 648.88,19.76 649.05,19.43 649.23,19.09 649.4,18.75 649.57,18.42 649.75,18.08 649.92,17.75 650.09,17.42 650.27,17.09 650.44,16.77 650.61,16.44 650.79,16.12 650.96,15.8 651.13,15.48 651.31,15.16 651.48,14.85 651.65,14.54 651.83,14.23 652,13.93 652.17,13.64 652.35,13.39 652.52,13.17 652.69,12.98 652.87,12.8 653.04,12.64 653.21,12.49 653.39,12.33 653.56,12.16 653.73,11.98" fill="none" stroke="#5d9acd" stroke-width="0.9" stroke-linejoin="round" stroke-linecap="round" />
<polygon points="551.86,96.32 548.71,98.14 548.71,94.5" fill="#5d9acd"/>
<polygon points="552.73,94.68 549.58,96.5 549.58,92.86" fill="#5d9acd"/>
<polygon points="553.77,93.03 550.62,94.85 550.62,91.21" fill="#5d9acd"/>
<polygon points="554.81,91.66 551.66,93.48 551.66,89.84" fill="#5d9acd"/>
<polygon points="556.19,90.45 553.04,92.27 553.04,88.63" fill="#5d9acd"/>
<polygon points="557.58,89.44 554.43,91.26 554.43,87.62" fill="#5d9acd"/>
<polygon points="559.14,88.57 555.99,90.38 555.99,86.75" fill="#5d9acd"/>
<polygon points="560.87,87.95 557.72,89.77 557.72,86.13" fill="#5d9acd"/>
<polygon points="562.61,87.62 559.46,89.44 559.46,85.8" fill="#5d9acd"/>
<polygon points="564.34,87.43 561.19,89.25 561.19,85.62" fill="#5d9acd"/>
<polygon points="566.07,87.22 562.92,89.04 562.92,85.4" fill="#5d9acd"/>
<polygon points="567.8,87.07 564.65,88.89 564.65,85.25" fill="#5d9acd"/>
<polygon points="569.54,86.95 566.39,88.77 566.39,85.13" fill="#5d9acd"/>
<polygon points="571.27,86.68 568.12,88.5 568.12,84.86" fill="#5d9acd"/>
<polygon points="573,86.07 569.85,87.89 569.85,84.25" fill="#5d9acd"/>
<polygon points="574.56,85.21 571.41,87.03 571.41,83.4" fill="#5d9acd"/>
<polygon points="577.51,83.39 574.36,85.21 574.36,81.57" fill="#5d9acd"/>
<polygon points="580.63,81.91 577.48,83.73 577.48,80.1" fill="#5d9acd"/>
<polygon points="583.92,80.55 580.77,82.36 580.77,78.73" fill="#5d9acd"/>
<polygon points="587.04,78.95 583.89,80.77 583.89,77.13" fill="#5d9acd"/>
<polygon points="590.16,77.5 587.01,79.32 587.01,75.68" fill="#5d9acd"/>
<polygon points="593.62,76.92 590.47,78.74 590.47,75.1" fill="#5d9acd"/>
<polygon points="597.09,76.83 593.94,78.64 593.94,75.01" fill="#5d9acd"/>
<polygon points="600.55,76.85 597.4,78.67 597.4,75.03" fill="#5d9acd"/>
<polygon points="604.02,76.99 600.87,78.8 600.87,75.17" fill="#5d9acd"/>
<polygon points="607.49,77.33 604.34,79.15 604.34,75.51" fill="#5d9acd"/>
<polygon points="610.78,78.48 607.63,80.3 607.63,76.67" fill="#5d9acd"/>
<polygon points="614.24,79.14 611.09,80.96 611.09,77.32" fill="#5d9acd"/>
<polygon points="617.71,79.82 614.56,81.64 614.56,78" fill="#5d9acd"/>
<polygon points="621.18,80.59 618.03,82.41 618.03,78.77" fill="#5d9acd"/>
<polygon points="624.47,79.8 621.32,81.62 621.32,77.98" fill="#5d9acd"/>
<polygon points="628.63,75.42 625.48,77.24 625.48,73.6" fill="#5d9acd"/>
<polygon points="632.09,70.15 628.94,71.97 628.94,68.33" fill="#5d9acd"/>
<polygon points="632.79,63.88 629.64,65.7 629.64,62.06" fill="#5d9acd"/>
<polygon points="636.25,59.43 633.1,61.25 633.1,57.61" fill="#5d9acd"/>
<polygon points="639.02,54.35 635.87,56.17 635.87,52.53" fill="#5d9acd"/>
<polygon points="639.72,46.96 636.57,48.78 636.57,45.14" fill="#5d9acd"/>
<polygon points="640.76,40.58 637.61,42.39 637.61,38.76" fill="#5d9acd"/>
<polygon points="643.01,34.74 639.86,36.56 639.86,32.92" fill="#5d9acd"/>
<polygon points="645.95,29.28 642.8,31.1 642.8,27.46" fill="#5d9acd"/>
<polygon points="648.9,23.84 645.75,25.66 645.75,22.02" fill="#5d9acd"/>
<polygon points="651.67,18.42 648.52,20.24 648.52,16.6" fill="#5d9acd"/>
<polygon points="654.62,13.17 651.47,14.99 651.47,11.35" fill="#5d9acd"/>
<polyline points="549.62,76.84 549.78,76.47 549.93,76.1 550.09,75.74 550.24,75.4 550.4,75.1 550.55,74.81 550.7,74.53 550.86,74.25 551.01,73.98 551.17,73.73 551.32,73.49 551.48,73.27 551.63,73.08 551.79,72.9 551.94,72.71 552.1,72.53 552.25,72.35 552.41,72.17 552.56,71.99 552.72,71.82 552.87,71.64 553.03,71.47 553.18,71.3 553.34,71.13 553.49,70.97 553.65,70.81 553.8,70.65 553.96,70.5 554.11,70.35 554.27,70.2 554.42,70.06 554.57,69.93 554.73,69.79 554.88,69.67 555.04,69.55 555.19,69.44 555.35,69.33 555.5,69.23 555.66,69.12 555.81,69.03 555.97,68.93 556.12,68.84 556.28,68.75 556.43,68.67 556.59,68.59 556.74,68.51 556.9,68.43 557.05,68.36 557.21,68.28 557.36,68.21 557.52,68.14 557.67,68.08 557.83,68.01 557.98,67.95 558.13,67.89 558.29,67.83 558.44,67.78 558.6,67.72 558.75,67.67 558.91,67.62 559.06,67.56 559.22,67.51 559.37,67.46 559.53,67.42 559.68,67.37 559.84,67.32 559.99,67.28 560.15,67.23 560.3,67.19 560.46,67.14 560.61,67.1 560.77,67.06 560.92,67.03 561.08,66.99 561.23,66.95 561.39,66.92 561.54,66.88 561.69,66.85 561.85,66.82 562,66.79 562.16,66.76 562.31,66.73 562.47,66.71 562.62,66.68 562.78,66.65 562.93,66.63 563.09,66.61 563.24,66.58 563.4,66.56 563.55,66.54 563.71,66.51 563.86,66.49 564.02,66.47 564.17,66.45 564.33,66.43 564.48,66.41 564.64,66.39 564.79,66.37 564.95,66.35 565.1,66.33 565.25,66.31 565.41,66.29 565.56,66.27 565.72,66.25 565.87,66.23 566.03,66.2 566.18,66.18 566.34,66.16 566.49,66.14 566.65,66.12 566.8,66.11 566.96,66.1 567.11,66.09 567.27,66.08 567.42,66.07 567.58,66.07 567.73,66.06 567.89,66.06 568.04,66.06 568.2,66.06 568.35,66.05 568.51,66.05 568.66,66.05 568.81,66.05 568.97,66.04 569.12,66.04 569.28,66.03 569.43,66.02 569.59,66.01 569.74,65.99 569.9,65.98 570.05,65.96 570.21,65.94 570.36,65.91 570.52,65.88 570.67,65.85 570.83,65.81 570.98,65.77 571.14,65.72 571.29,65.67 571.45,65.61 571.6,65.55 571.76,65.48 571.91,65.4 572.07,65.32 572.22,65.24 572.37,65.15 572.53,65.05 572.68,64.96 572.84,64.85 572.99,64.75 573.15,64.64 573.3,64.53 573.46,64.42 573.61,64.31 573.77,64.19 573.92,64.07 574.08,63.96 574.23,63.84 574.39,63.72 574.54,63.6 574.7,63.48 574.85,63.36 575.01,63.25 575.16,63.13 575.32,63.02 575.47,62.9 575.63,62.79 575.78,62.69 575.93,62.58 576.09,62.48 576.24,62.38 576.4,62.28 576.55,62.18 576.71,62.09 576.86,61.99 577.02,61.89 577.17,61.79 577.33,61.69 577.48,61.59 577.64,61.49 577.79,61.39 577.95,61.3 578.1,61.2 578.26,61.1 578.41,61 578.57,60.91 578.72,60.81 578.88,60.72 579.03,60.63 579.19,60.53 579.34,60.44 579.49,60.35 579.65,60.26 579.8,60.17 579.96,60.08 580.11,60 580.27,59.91 580.42,59.83 580.58,59.75 580.73,59.67 580.89,59.59 581.04,59.51 581.2,59.44 581.35,59.36 581.51,59.29 581.66,59.22 581.82,59.14 581.97,59.07 582.13,59 582.28,58.93 582.44,58.86 582.59,58.79 582.75,58.72 582.9,58.66 583.05,58.59 583.21,58.52 583.36,58.46 583.52,58.39 583.67,58.33 583.83,58.27 583.98,58.2 584.14,58.14 584.29,58.08 584.45,58.02 584.6,57.96 584.76,57.9 584.91,57.84 585.07,57.78 585.22,57.73 585.38,57.67 585.53,57.62 585.69,57.56 585.84,57.51 586,57.45 586.15,57.4 586.31,57.35 586.46,57.3 586.61,57.25 586.77,57.2 586.92,57.15 587.08,57.1 587.23,57.06 587.39,57.01 587.54,56.96 587.7,56.92 587.85,56.87 588.01,56.83 588.16,56.79 588.32,56.74 588.47,56.7 588.63,56.66 588.78,56.62 588.94,56.58 589.09,56.54 589.25,56.5 589.4,56.46 589.56,56.43 589.71,56.39 589.87,56.35 590.02,56.32 590.17,56.29 590.33,56.25 590.48,56.22 590.64,56.19 590.79,56.16 590.95,56.12 591.1,56.1 591.26,56.07 591.41,56.04 591.57,56.01 591.72,55.98 591.88,55.96 592.03,55.93 592.19,55.91 592.34,55.88 592.5,55.86 592.65,55.84 592.81,55.82 592.96,55.8 593.12,55.78 593.27,55.76 593.43,55.74 593.58,55.72 593.73,55.71 593.89,55.7 594.04,55.68 594.2,55.67 594.35,55.67 594.51,55.66 594.66,55.65 594.82,55.65 594.97,55.65 595.13,55.65 595.28,55.64 595.44,55.64 595.59,55.65 595.75,55.65 595.9,55.65 596.06,55.65 596.21,55.66 596.37,55.66 596.52,55.67 596.68,55.67 596.83,55.68 596.99,55.69 597.14,55.69 597.3,55.7 597.45,55.71 597.6,55.72 597.76,55.72 597.91,55.73 598.07,55.74 598.22,55.74 598.38,55.75 598.53,55.76 598.69,55.77 598.84,55.77 599,55.78 599.15,55.79 599.31,55.79 599.46,55.8 599.62,55.81 599.77,55.81 599.93,55.82 600.08,55.83 600.24,55.84 600.39,55.85 600.55,55.85 600.7,55.86 600.86,55.87 601.01,55.88 601.16,55.89 601.32,55.9 601.47,55.91 601.63,55.91 601.78,55.92 601.94,55.93 602.09,55.95 602.25,55.96 602.4,55.97 602.56,55.98 602.71,55.99 602.87,56 603.02,56.01 603.18,56.03 603.33,56.04 603.49,56.05 603.64,56.07 603.8,56.08 603.95,56.09 604.11,56.11 604.26,56.12 604.42,56.14 604.57,56.16 604.72,56.17 604.88,56.19 605.03,56.21 605.19,56.22 605.34,56.24 605.5,56.26 605.65,56.28 605.81,56.3 605.96,56.33 606.12,56.36 606.27,56.39 606.43,56.42 606.58,56.46 606.74,56.5 606.89,56.54 607.05,56.58 607.2,56.62 607.36,56.67 607.51,56.71 607.67,56.76 607.82,56.81 607.98,56.85 608.13,56.9 608.28,56.95 608.44,56.99 608.59,57.04 608.75,57.08 608.9,57.12 609.06,57.17 609.21,57.21 609.37,57.25 609.52,57.3 609.68,57.35 609.83,57.39 609.99,57.44 610.14,57.49 610.3,57.53 610.45,57.58 610.61,57.63 610.76,57.67 610.92,57.72 611.07,57.76 611.23,57.81 611.38,57.85 611.54,57.89 611.69,57.94 611.84,57.98 612,58.02 612.15,58.05 612.31,58.09 612.46,58.13 612.62,58.16 612.77,58.19 612.93,58.22 613.08,58.25 613.24,58.28 613.39,58.31 613.55,58.34 613.7,58.37 613.86,58.39 614.01,58.42 614.17,58.44 614.32,58.46 614.48,58.49 614.63,58.51 614.79,58.53 614.94,58.55 615.1,58.57 615.25,58.59 615.4,58.6 615.56,58.62 615.71,58.63 615.87,58.65 616.02,58.66 616.18,58.67 616.33,58.69 616.49,58.7 616.64,58.71 616.8,58.72 616.95,58.73 617.11,58.73 617.26,58.74 617.42,58.75 617.57,58.76 617.73,58.76 617.88,58.77 618.04,58.77 618.19,58.77 618.35,58.78 618.5,58.78 618.66,58.78 618.81,58.77 618.96,58.77 619.12,58.77 619.27,58.76 619.43,58.75 619.58,58.74 619.74,58.73 619.89,58.72 620.05,58.7 620.2,58.68 620.36,58.67 620.51,58.65 620.67,58.63 620.82,58.61 620.98,58.59 621.13,58.57 621.29,58.54 621.44,58.51 621.6,58.49 621.75,58.45 621.91,58.42 622.06,58.38 622.22,58.34 622.37,58.29 622.52,58.25 622.68,58.19 622.83,58.13 622.99,58.07 623.14,58 623.3,57.93 623.45,57.85 623.61,57.76 623.76,57.66 623.92,57.56 624.07,57.44 624.23,57.32 624.38,57.19 624.54,57.06 624.69,56.92 624.85,56.78 625,56.63 625.16,56.48 625.31,56.33 625.47,56.18 625.62,56.03 625.78,55.88 625.93,55.74 626.08,55.59 626.24,55.45 626.39,55.3 626.55,55.16 626.7,55.02 626.86,54.87 627.01,54.73 627.17,54.58 627.32,54.42 627.48,54.26 627.63,54.09 627.79,53.92 627.94,53.74 628.1,53.55 628.25,53.34 628.41,53.13 628.56,52.89 628.72,52.6 628.87,52.27 629.03,51.91 629.18,51.54 629.34,51.18 629.49,50.82 629.64,50.5 629.8,50.22 629.95,49.99 630.11,49.8 630.26,49.64 630.42,49.5 630.57,49.38 630.73,49.28 630.88,49.18 631.04,49.08 631.19,48.98 631.35,48.87 631.5,48.74 631.66,48.59 631.81,48.41 631.97,48.2 632.12,47.94 632.28,47.64 632.43,47.29 632.59,46.89 632.74,45.35 632.9,41.24 633.05,40.51 633.2,40.13 633.36,39.8 633.51,39.5 633.67,39.24 633.82,39 633.98,38.79 634.13,38.61 634.29,38.44 634.44,38.29 634.6,38.15 634.75,38.02 634.91,37.89 635.06,37.77 635.22,37.63 635.37,37.5 635.53,37.35 635.68,37.18 635.84,37 635.99,36.8 636.15,36.57 636.3,36.31 636.46,36.02 636.61,35.69 636.76,35.35 636.92,35.01 637.07,34.67 637.23,34.33 637.38,33.99 637.54,33.64 637.69,33.29 637.85,32.93 638,32.56 638.16,32.18 638.31,31.79 638.47,31.38 638.62,30.96 638.78,30.53 638.93,30.07 639.09,29.6 639.24,29.1 639.4,28.59 639.55,28.04 639.71,27.48 639.86,26.88 640.02,26.26 640.17,25.61 640.33,24.92 640.48,24.21 640.63,21.07 640.79,15.62 640.94,14.69 641.1,14.04 641.25,13.55 641.41,13.2 641.56,12.96 641.72,12.79 641.87,12.67 642.03,12.56 642.18,12.43 642.34,12.25 642.49,11.98" fill="none" stroke="#2c5d89" stroke-width="0.9" stroke-linejoin="round" stroke-linecap="round" />
<circle cx="549.62" cy="76.84" r="1.65" fill="#2c5d89"/>
<circle cx="550.4" cy="75.1" r="1.65" fill="#2c5d89"/>
<circle cx="551.32" cy="73.49" r="1.65" fill="#2c5d89"/>
<circle cx="552.41" cy="72.17" r="1.65" fill="#2c5d89"/>
<circle cx="553.65" cy="70.81" r="1.65" fill="#2c5d89"/>
<circle cx="555.04" cy="69.55" r="1.65" fill="#2c5d89"/>
<circle cx="556.59" cy="68.59" r="1.65" fill="#2c5d89"/>
<circle cx="558.29" cy="67.83" r="1.65" fill="#2c5d89"/>
<circle cx="559.99" cy="67.28" r="1.65" fill="#2c5d89"/>
<circle cx="561.69" cy="66.85" r="1.65" fill="#2c5d89"/>
<circle cx="563.4" cy="66.56" r="1.65" fill="#2c5d89"/>
<circle cx="565.1" cy="66.33" r="1.65" fill="#2c5d89"/>
<circle cx="566.8" cy="66.11" r="1.65" fill="#2c5d89"/>
<circle cx="568.51" cy="66.05" r="1.65" fill="#2c5d89"/>
<circle cx="570.21" cy="65.94" r="1.65" fill="#2c5d89"/>
<circle cx="571.91" cy="65.4" r="1.65" fill="#2c5d89"/>
<circle cx="574.85" cy="63.36" r="1.65" fill="#2c5d89"/>
<circle cx="577.79" cy="61.39" r="1.65" fill="#2c5d89"/>
<circle cx="580.73" cy="59.67" r="1.65" fill="#2c5d89"/>
<circle cx="583.98" cy="58.2" r="1.65" fill="#2c5d89"/>
<circle cx="587.23" cy="57.06" r="1.65" fill="#2c5d89"/>
<circle cx="590.64" cy="56.19" r="1.65" fill="#2c5d89"/>
<circle cx="594.04" cy="55.68" r="1.65" fill="#2c5d89"/>
<circle cx="597.45" cy="55.71" r="1.65" fill="#2c5d89"/>
<circle cx="600.86" cy="55.87" r="1.65" fill="#2c5d89"/>
<circle cx="604.26" cy="56.12" r="1.65" fill="#2c5d89"/>
<circle cx="607.67" cy="56.76" r="1.65" fill="#2c5d89"/>
<circle cx="611.07" cy="57.76" r="1.65" fill="#2c5d89"/>
<circle cx="614.48" cy="58.49" r="1.65" fill="#2c5d89"/>
<circle cx="617.88" cy="58.77" r="1.65" fill="#2c5d89"/>
<circle cx="621.29" cy="58.54" r="1.65" fill="#2c5d89"/>
<circle cx="624.38" cy="57.19" r="1.65" fill="#2c5d89"/>
<circle cx="628.56" cy="52.89" r="1.65" fill="#2c5d89"/>
<circle cx="632.12" cy="47.94" r="1.65" fill="#2c5d89"/>
<circle cx="632.9" cy="41.24" r="1.65" fill="#2c5d89"/>
<circle cx="636.3" cy="36.31" r="1.65" fill="#2c5d89"/>
<circle cx="638.78" cy="30.53" r="1.65" fill="#2c5d89"/>
<circle cx="640.48" cy="24.21" r="1.65" fill="#2c5d89"/>
<circle cx="640.79" cy="15.62" r="1.65" fill="#2c5d89"/>
</g>
<line x1="549.2" y1="12" x2="661.6" y2="12" stroke="#999" stroke-width="1.3" stroke-linecap="square"/>
<line x1="661.6" y1="12" x2="661.6" y2="225.5" stroke="#222" stroke-width="1.1" stroke-linecap="square"/>
<line x1="549.2" y1="225.5" x2="661.6" y2="225.5" stroke="#444" stroke-width="1.1" stroke-linecap="square"/>
<line x1="549.2" y1="12" x2="549.2" y2="225.5" stroke="#888" stroke-width="1.1" stroke-linecap="square"/>
<line x1="545.7" y1="225.5" x2="549.2" y2="225.5" stroke="#4a4a4a" stroke-width="0.9" />
<line x1="547.2" y1="198.81" x2="549.2" y2="198.81" stroke="#4a4a4a" stroke-width="0.9" />
<line x1="545.7" y1="172.12" x2="549.2" y2="172.12" stroke="#4a4a4a" stroke-width="0.9" />
<line x1="547.2" y1="145.43" x2="549.2" y2="145.43" stroke="#4a4a4a" stroke-width="0.9" />
<line x1="545.7" y1="118.74" x2="549.2" y2="118.74" stroke="#4a4a4a" stroke-width="0.9" />
<line x1="547.2" y1="92.05" x2="549.2" y2="92.05" stroke="#4a4a4a" stroke-width="0.9" />
<line x1="545.7" y1="65.36" x2="549.2" y2="65.36" stroke="#4a4a4a" stroke-width="0.9" />
<line x1="547.2" y1="38.67" x2="549.2" y2="38.67" stroke="#4a4a4a" stroke-width="0.9" />
<line x1="545.7" y1="11.98" x2="549.2" y2="11.98" stroke="#4a4a4a" stroke-width="0.9" />
<text x="546" y="228.3" font-size="9.0" text-anchor="end" fill="#222" >0</text>
<text x="546" y="174.92" font-size="9.0" text-anchor="end" fill="#222" >200</text>
<text x="546" y="121.54" font-size="9.0" text-anchor="end" fill="#222" >400</text>
<text x="546" y="68.16" font-size="9.0" text-anchor="end" fill="#222" >600</text>
<text x="546" y="14.78" font-size="9.0" text-anchor="end" fill="#222" >800</text>
<line x1="549.2" y1="225.5" x2="549.2" y2="228.5" stroke="#4a4a4a" stroke-width="0.9" />
<line x1="563.25" y1="225.5" x2="563.25" y2="227.3" stroke="#4a4a4a" stroke-width="0.9" />
<line x1="577.3" y1="225.5" x2="577.3" y2="228.5" stroke="#4a4a4a" stroke-width="0.9" />
<line x1="591.35" y1="225.5" x2="591.35" y2="227.3" stroke="#4a4a4a" stroke-width="0.9" />
<line x1="605.4" y1="225.5" x2="605.4" y2="228.5" stroke="#4a4a4a" stroke-width="0.9" />
<line x1="619.45" y1="225.5" x2="619.45" y2="227.3" stroke="#4a4a4a" stroke-width="0.9" />
<line x1="633.5" y1="225.5" x2="633.5" y2="228.5" stroke="#4a4a4a" stroke-width="0.9" />
<line x1="647.55" y1="225.5" x2="647.55" y2="227.3" stroke="#4a4a4a" stroke-width="0.9" />
<line x1="661.6" y1="225.5" x2="661.6" y2="228.5" stroke="#4a4a4a" stroke-width="0.9" />
<text x="549.2" y="235" font-size="9.0" text-anchor="middle" fill="#222" >0</text>
<text x="577.3" y="235" font-size="9.0" text-anchor="middle" fill="#222" >100</text>
<text x="605.4" y="235" font-size="9.0" text-anchor="middle" fill="#222" >200</text>
<text x="633.5" y="235" font-size="9.0" text-anchor="middle" fill="#222" >300</text>
<text x="661.6" y="235" font-size="9.0" text-anchor="middle" fill="#222" >400</text>
<text x="604.7" y="245.9" font-size="8.7" text-anchor="middle" fill="#222" >Z'/ohm</text>
<text transform="translate(527.0,120.0) rotate(-90)" font-size="8.3" text-anchor="middle" fill="#222">-Z''/ohm</text>
<text x="515.4" y="9.2" font-size="10.2" text-anchor="start" fill="#222" >e</text>
<rect x="638.4" y="138.6" width="43.8" height="83.6" fill="#555"/>
<rect x="637.4" y="137.6" width="43.8" height="83.6" fill="#fff" stroke="#777" stroke-width="0.7"/>
<line x1="638.2" y1="143.9" x2="657" y2="143.9" stroke="#c3321f" stroke-width="0.9" />
<rect x="646.3" y="142.6" width="2.6" height="2.6" fill="#c3321f"/>
<text x="659.4" y="146.9" font-size="8.5" text-anchor="start" fill="#222" >0th</text>
<line x1="638.2" y1="154.36" x2="657" y2="154.36" stroke="#d9667f" stroke-width="2.3" opacity="0.65"/>
<circle cx="647.6" cy="154.36" r="1.3" fill="#c9506c"/>
<text x="659.4" y="157.36" font-size="8.5" text-anchor="start" fill="#222" >20th</text>
<line x1="638.2" y1="164.82" x2="657" y2="164.82" stroke="#e08ca0" stroke-width="2.3" opacity="0.65"/>
<polygon points="647.6,162.87 649.29,165.79 645.91,165.79" fill="#e08ca0"/>
<text x="659.4" y="167.82" font-size="8.5" text-anchor="start" fill="#222" >40th</text>
<line x1="638.2" y1="175.28" x2="657" y2="175.28" stroke="#f0bdca" stroke-width="2.3" opacity="0.65"/>
<polygon points="647.6,177.23 645.91,174.31 649.29,174.31" fill="#f0bdca"/>
<text x="659.4" y="178.28" font-size="8.5" text-anchor="start" fill="#222" >60th</text>
<line x1="638.2" y1="185.74" x2="657" y2="185.74" stroke="#bcd8ed" stroke-width="2.3" opacity="0.65"/>
<polygon points="647.6,184.05 648.9,185.74 647.6,187.43 646.3,185.74" fill="#bcd8ed"/>
<text x="659.4" y="188.74" font-size="8.5" text-anchor="start" fill="#222" >70th</text>
<line x1="638.2" y1="196.2" x2="657" y2="196.2" stroke="#92bfe1" stroke-width="2.3" opacity="0.65"/>
<polygon points="645.65,196.2 648.58,194.51 648.58,197.89" fill="#92bfe1"/>
<text x="659.4" y="199.2" font-size="8.5" text-anchor="start" fill="#222" >80th</text>
<line x1="638.2" y1="206.66" x2="657" y2="206.66" stroke="#5d9acd" stroke-width="2.3" opacity="0.65"/>
<polygon points="649.55,206.66 646.62,208.35 646.62,204.97" fill="#5d9acd"/>
<text x="659.4" y="209.66" font-size="8.5" text-anchor="start" fill="#222" >90th</text>
<line x1="638.2" y1="217.12" x2="657" y2="217.12" stroke="#2c5d89" stroke-width="2.3" opacity="0.65"/>
<circle cx="647.6" cy="217.12" r="1.3" fill="#2c5d89"/>
<text x="659.4" y="220.12" font-size="8.5" text-anchor="start" fill="#222" >100th</text>
<circle cx="47.62" cy="306.72" r="2.2" fill="none" stroke="#8dbde2" stroke-width="0.75"/>
<circle cx="50.29" cy="307.59" r="2.2" fill="none" stroke="#8dbde2" stroke-width="0.75"/>
<circle cx="52.95" cy="305.98" r="2.2" fill="none" stroke="#8dbde2" stroke-width="0.75"/>
<circle cx="55.61" cy="307.07" r="2.2" fill="none" stroke="#8dbde2" stroke-width="0.75"/>
<circle cx="58.27" cy="306.45" r="2.2" fill="none" stroke="#8dbde2" stroke-width="0.75"/>
<circle cx="60.93" cy="306.95" r="2.2" fill="none" stroke="#8dbde2" stroke-width="0.75"/>
<circle cx="63.6" cy="307.06" r="2.2" fill="none" stroke="#8dbde2" stroke-width="0.75"/>
<circle cx="66.26" cy="307.7" r="2.2" fill="none" stroke="#8dbde2" stroke-width="0.75"/>
<circle cx="68.92" cy="307.9" r="2.2" fill="none" stroke="#8dbde2" stroke-width="0.75"/>
<circle cx="71.58" cy="305.94" r="2.2" fill="none" stroke="#8dbde2" stroke-width="0.75"/>
<circle cx="74.24" cy="306.93" r="2.2" fill="none" stroke="#8dbde2" stroke-width="0.75"/>
<circle cx="76.91" cy="306.94" r="2.2" fill="none" stroke="#8dbde2" stroke-width="0.75"/>
<circle cx="79.57" cy="306.94" r="2.2" fill="none" stroke="#8dbde2" stroke-width="0.75"/>
<circle cx="82.23" cy="306.22" r="2.2" fill="none" stroke="#8dbde2" stroke-width="0.75"/>
<circle cx="84.89" cy="307.66" r="2.2" fill="none" stroke="#8dbde2" stroke-width="0.75"/>
<circle cx="87.55" cy="307.82" r="2.2" fill="none" stroke="#8dbde2" stroke-width="0.75"/>
<circle cx="90.22" cy="306.2" r="2.2" fill="none" stroke="#8dbde2" stroke-width="0.75"/>
<circle cx="92.88" cy="307.1" r="2.2" fill="none" stroke="#8dbde2" stroke-width="0.75"/>
<circle cx="95.54" cy="311.06" r="2.2" fill="none" stroke="#8dbde2" stroke-width="0.75"/>
<circle cx="98.2" cy="306.19" r="2.2" fill="none" stroke="#8dbde2" stroke-width="0.75"/>
<circle cx="100.86" cy="306.02" r="2.2" fill="none" stroke="#8dbde2" stroke-width="0.75"/>
<circle cx="103.53" cy="306.09" r="2.2" fill="none" stroke="#8dbde2" stroke-width="0.75"/>
<circle cx="106.19" cy="308.14" r="2.2" fill="none" stroke="#8dbde2" stroke-width="0.75"/>
<circle cx="108.85" cy="307.3" r="2.2" fill="none" stroke="#8dbde2" stroke-width="0.75"/>
<circle cx="111.51" cy="306.18" r="2.2" fill="none" stroke="#8dbde2" stroke-width="0.75"/>
<circle cx="114.17" cy="306.21" r="2.2" fill="none" stroke="#8dbde2" stroke-width="0.75"/>
<circle cx="116.84" cy="307.94" r="2.2" fill="none" stroke="#8dbde2" stroke-width="0.75"/>
<circle cx="119.5" cy="307.87" r="2.2" fill="none" stroke="#8dbde2" stroke-width="0.75"/>
<circle cx="122.16" cy="307.62" r="2.2" fill="none" stroke="#8dbde2" stroke-width="0.75"/>
<circle cx="124.82" cy="308" r="2.2" fill="none" stroke="#8dbde2" stroke-width="0.75"/>
<circle cx="127.48" cy="307.36" r="2.2" fill="none" stroke="#8dbde2" stroke-width="0.75"/>
<circle cx="130.15" cy="306.25" r="2.2" fill="none" stroke="#8dbde2" stroke-width="0.75"/>
<circle cx="132.81" cy="306.95" r="2.2" fill="none" stroke="#8dbde2" stroke-width="0.75"/>
<circle cx="135.47" cy="307.12" r="2.2" fill="none" stroke="#8dbde2" stroke-width="0.75"/>
<circle cx="138.13" cy="308.03" r="2.2" fill="none" stroke="#8dbde2" stroke-width="0.75"/>
<circle cx="140.79" cy="307.26" r="2.2" fill="none" stroke="#8dbde2" stroke-width="0.75"/>
<circle cx="143.46" cy="305.76" r="2.2" fill="none" stroke="#8dbde2" stroke-width="0.75"/>
<circle cx="146.12" cy="306.52" r="2.2" fill="none" stroke="#8dbde2" stroke-width="0.75"/>
<circle cx="148.78" cy="307.13" r="2.2" fill="none" stroke="#8dbde2" stroke-width="0.75"/>
<circle cx="151.44" cy="307.06" r="2.2" fill="none" stroke="#8dbde2" stroke-width="0.75"/>
<circle cx="154.1" cy="310.44" r="2.2" fill="none" stroke="#8dbde2" stroke-width="0.75"/>
<circle cx="156.77" cy="306.36" r="2.2" fill="none" stroke="#8dbde2" stroke-width="0.75"/>
<circle cx="159.43" cy="307.88" r="2.2" fill="none" stroke="#8dbde2" stroke-width="0.75"/>
<circle cx="162.09" cy="306.55" r="2.2" fill="none" stroke="#8dbde2" stroke-width="0.75"/>
<circle cx="164.75" cy="307.34" r="2.2" fill="none" stroke="#8dbde2" stroke-width="0.75"/>
<circle cx="167.41" cy="306.95" r="2.2" fill="none" stroke="#8dbde2" stroke-width="0.75"/>
<circle cx="170.08" cy="307.66" r="2.2" fill="none" stroke="#8dbde2" stroke-width="0.75"/>
<circle cx="172.74" cy="307.33" r="2.2" fill="none" stroke="#8dbde2" stroke-width="0.75"/>
<circle cx="175.4" cy="307.4" r="2.2" fill="none" stroke="#8dbde2" stroke-width="0.75"/>
<circle cx="178.06" cy="307.3" r="2.2" fill="none" stroke="#8dbde2" stroke-width="0.75"/>
<circle cx="180.72" cy="308.21" r="2.2" fill="none" stroke="#8dbde2" stroke-width="0.75"/>
<circle cx="183.39" cy="307.75" r="2.2" fill="none" stroke="#8dbde2" stroke-width="0.75"/>
<circle cx="186.05" cy="306.83" r="2.2" fill="none" stroke="#8dbde2" stroke-width="0.75"/>
<circle cx="188.71" cy="308.11" r="2.2" fill="none" stroke="#8dbde2" stroke-width="0.75"/>
<circle cx="191.37" cy="307.81" r="2.2" fill="none" stroke="#8dbde2" stroke-width="0.75"/>
<circle cx="194.03" cy="310.44" r="2.2" fill="none" stroke="#8dbde2" stroke-width="0.75"/>
<circle cx="196.7" cy="307.57" r="2.2" fill="none" stroke="#8dbde2" stroke-width="0.75"/>
<circle cx="199.36" cy="307.44" r="2.2" fill="none" stroke="#8dbde2" stroke-width="0.75"/>
<circle cx="202.02" cy="307.65" r="2.2" fill="none" stroke="#8dbde2" stroke-width="0.75"/>
<circle cx="204.68" cy="306.17" r="2.2" fill="none" stroke="#8dbde2" stroke-width="0.75"/>
<circle cx="207.34" cy="308.02" r="2.2" fill="none" stroke="#8dbde2" stroke-width="0.75"/>
<circle cx="210.01" cy="306.66" r="2.2" fill="none" stroke="#8dbde2" stroke-width="0.75"/>
<circle cx="212.67" cy="306.11" r="2.2" fill="none" stroke="#8dbde2" stroke-width="0.75"/>
<circle cx="215.33" cy="307.75" r="2.2" fill="none" stroke="#8dbde2" stroke-width="0.75"/>
<circle cx="217.99" cy="307.2" r="2.2" fill="none" stroke="#8dbde2" stroke-width="0.75"/>
<circle cx="220.65" cy="306.27" r="2.2" fill="none" stroke="#8dbde2" stroke-width="0.75"/>
<circle cx="223.32" cy="306.71" r="2.2" fill="none" stroke="#8dbde2" stroke-width="0.75"/>
<circle cx="225.98" cy="307.32" r="2.2" fill="none" stroke="#8dbde2" stroke-width="0.75"/>
<circle cx="228.64" cy="308.14" r="2.2" fill="none" stroke="#8dbde2" stroke-width="0.75"/>
<circle cx="231.3" cy="307.15" r="2.2" fill="none" stroke="#8dbde2" stroke-width="0.75"/>
<circle cx="233.96" cy="307.34" r="2.2" fill="none" stroke="#8dbde2" stroke-width="0.75"/>
<circle cx="236.63" cy="306.47" r="2.2" fill="none" stroke="#8dbde2" stroke-width="0.75"/>
<circle cx="239.29" cy="307.52" r="2.2" fill="none" stroke="#8dbde2" stroke-width="0.75"/>
<circle cx="241.95" cy="307.23" r="2.2" fill="none" stroke="#8dbde2" stroke-width="0.75"/>
<circle cx="244.61" cy="306.63" r="2.2" fill="none" stroke="#8dbde2" stroke-width="0.75"/>
<circle cx="247.27" cy="306.23" r="2.2" fill="none" stroke="#8dbde2" stroke-width="0.75"/>
<circle cx="249.94" cy="307.37" r="2.2" fill="none" stroke="#8dbde2" stroke-width="0.75"/>
<circle cx="252.6" cy="307.29" r="2.2" fill="none" stroke="#8dbde2" stroke-width="0.75"/>
<circle cx="255.26" cy="306.81" r="2.2" fill="none" stroke="#8dbde2" stroke-width="0.75"/>
<circle cx="257.92" cy="305.94" r="2.2" fill="none" stroke="#8dbde2" stroke-width="0.75"/>
<circle cx="260.58" cy="307.77" r="2.2" fill="none" stroke="#8dbde2" stroke-width="0.75"/>
<circle cx="263.25" cy="305.83" r="2.2" fill="none" stroke="#8dbde2" stroke-width="0.75"/>
<circle cx="265.91" cy="306.48" r="2.2" fill="none" stroke="#8dbde2" stroke-width="0.75"/>
<circle cx="268.57" cy="307.32" r="2.2" fill="none" stroke="#8dbde2" stroke-width="0.75"/>
<circle cx="271.23" cy="306.59" r="2.2" fill="none" stroke="#8dbde2" stroke-width="0.75"/>
<circle cx="273.89" cy="307.43" r="2.2" fill="none" stroke="#8dbde2" stroke-width="0.75"/>
<circle cx="276.56" cy="307.94" r="2.2" fill="none" stroke="#8dbde2" stroke-width="0.75"/>
<circle cx="279.22" cy="306.36" r="2.2" fill="none" stroke="#8dbde2" stroke-width="0.75"/>
<circle cx="281.88" cy="307.31" r="2.2" fill="none" stroke="#8dbde2" stroke-width="0.75"/>
<circle cx="284.54" cy="306.94" r="2.2" fill="none" stroke="#8dbde2" stroke-width="0.75"/>
<circle cx="287.2" cy="307.01" r="2.2" fill="none" stroke="#8dbde2" stroke-width="0.75"/>
<circle cx="289.87" cy="306" r="2.2" fill="none" stroke="#8dbde2" stroke-width="0.75"/>
<circle cx="292.53" cy="306.36" r="2.2" fill="none" stroke="#8dbde2" stroke-width="0.75"/>
<circle cx="295.19" cy="308.19" r="2.2" fill="none" stroke="#8dbde2" stroke-width="0.75"/>
<circle cx="297.85" cy="306.77" r="2.2" fill="none" stroke="#8dbde2" stroke-width="0.75"/>
<circle cx="300.51" cy="307.1" r="2.2" fill="none" stroke="#8dbde2" stroke-width="0.75"/>
<circle cx="303.18" cy="307.1" r="2.2" fill="none" stroke="#8dbde2" stroke-width="0.75"/>
<circle cx="305.84" cy="306.16" r="2.2" fill="none" stroke="#8dbde2" stroke-width="0.75"/>
<circle cx="308.5" cy="307.22" r="2.2" fill="none" stroke="#8dbde2" stroke-width="0.75"/>
<circle cx="44.96" cy="297.8" r="2.2" fill="none" stroke="#dcd0d0" stroke-width="0.75"/>
<circle cx="47.62" cy="303.96" r="2.2" fill="none" stroke="#dcd0d0" stroke-width="0.75"/>
<circle cx="50.29" cy="302.79" r="2.2" fill="none" stroke="#dcd0d0" stroke-width="0.75"/>
<circle cx="52.95" cy="304.05" r="2.2" fill="none" stroke="#dcd0d0" stroke-width="0.75"/>
<circle cx="55.61" cy="303.91" r="2.2" fill="none" stroke="#dcd0d0" stroke-width="0.75"/>
<circle cx="58.27" cy="303.85" r="2.2" fill="none" stroke="#dcd0d0" stroke-width="0.75"/>
<circle cx="60.93" cy="302.97" r="2.2" fill="none" stroke="#dcd0d0" stroke-width="0.75"/>
<circle cx="63.6" cy="303.41" r="2.2" fill="none" stroke="#dcd0d0" stroke-width="0.75"/>
<circle cx="66.26" cy="303.21" r="2.2" fill="none" stroke="#dcd0d0" stroke-width="0.75"/>
<circle cx="68.92" cy="304.16" r="2.2" fill="none" stroke="#dcd0d0" stroke-width="0.75"/>
<circle cx="71.58" cy="305.17" r="2.2" fill="none" stroke="#dcd0d0" stroke-width="0.75"/>
<circle cx="74.24" cy="303.38" r="2.2" fill="none" stroke="#dcd0d0" stroke-width="0.75"/>
<circle cx="76.91" cy="303.73" r="2.2" fill="none" stroke="#dcd0d0" stroke-width="0.75"/>
<circle cx="79.57" cy="303.13" r="2.2" fill="none" stroke="#dcd0d0" stroke-width="0.75"/>
<circle cx="82.23" cy="303.13" r="2.2" fill="none" stroke="#dcd0d0" stroke-width="0.75"/>
<circle cx="84.89" cy="304.96" r="2.2" fill="none" stroke="#dcd0d0" stroke-width="0.75"/>
<circle cx="87.55" cy="304.67" r="2.2" fill="none" stroke="#dcd0d0" stroke-width="0.75"/>
<circle cx="90.22" cy="305.07" r="2.2" fill="none" stroke="#dcd0d0" stroke-width="0.75"/>
<circle cx="92.88" cy="302.99" r="2.2" fill="none" stroke="#dcd0d0" stroke-width="0.75"/>
<circle cx="95.54" cy="305" r="2.2" fill="none" stroke="#dcd0d0" stroke-width="0.75"/>
<circle cx="98.2" cy="305.04" r="2.2" fill="none" stroke="#dcd0d0" stroke-width="0.75"/>
<circle cx="100.86" cy="303.17" r="2.2" fill="none" stroke="#dcd0d0" stroke-width="0.75"/>
<circle cx="103.53" cy="303.7" r="2.2" fill="none" stroke="#dcd0d0" stroke-width="0.75"/>
<circle cx="106.19" cy="305.13" r="2.2" fill="none" stroke="#dcd0d0" stroke-width="0.75"/>
<circle cx="108.85" cy="303.38" r="2.2" fill="none" stroke="#dcd0d0" stroke-width="0.75"/>
<circle cx="111.51" cy="303.29" r="2.2" fill="none" stroke="#dcd0d0" stroke-width="0.75"/>
<circle cx="114.17" cy="303.93" r="2.2" fill="none" stroke="#dcd0d0" stroke-width="0.75"/>
<circle cx="116.84" cy="305.13" r="2.2" fill="none" stroke="#dcd0d0" stroke-width="0.75"/>
<circle cx="119.5" cy="303.35" r="2.2" fill="none" stroke="#dcd0d0" stroke-width="0.75"/>
<circle cx="122.16" cy="304.11" r="2.2" fill="none" stroke="#dcd0d0" stroke-width="0.75"/>
<circle cx="124.82" cy="303.65" r="2.2" fill="none" stroke="#dcd0d0" stroke-width="0.75"/>
<circle cx="127.48" cy="302.49" r="2.2" fill="none" stroke="#dcd0d0" stroke-width="0.75"/>
<circle cx="130.15" cy="302.99" r="2.2" fill="none" stroke="#dcd0d0" stroke-width="0.75"/>
<circle cx="132.81" cy="302.84" r="2.2" fill="none" stroke="#dcd0d0" stroke-width="0.75"/>
<circle cx="135.47" cy="304.88" r="2.2" fill="none" stroke="#dcd0d0" stroke-width="0.75"/>
<circle cx="138.13" cy="304.35" r="2.2" fill="none" stroke="#dcd0d0" stroke-width="0.75"/>
<circle cx="140.79" cy="303.83" r="2.2" fill="none" stroke="#dcd0d0" stroke-width="0.75"/>
<circle cx="143.46" cy="305.27" r="2.2" fill="none" stroke="#dcd0d0" stroke-width="0.75"/>
<circle cx="146.12" cy="302.51" r="2.2" fill="none" stroke="#dcd0d0" stroke-width="0.75"/>
<circle cx="148.78" cy="304.52" r="2.2" fill="none" stroke="#dcd0d0" stroke-width="0.75"/>
<circle cx="151.44" cy="304.55" r="2.2" fill="none" stroke="#dcd0d0" stroke-width="0.75"/>
<circle cx="154.1" cy="304.41" r="2.2" fill="none" stroke="#dcd0d0" stroke-width="0.75"/>
<circle cx="156.77" cy="304.57" r="2.2" fill="none" stroke="#dcd0d0" stroke-width="0.75"/>
<circle cx="159.43" cy="302.88" r="2.2" fill="none" stroke="#dcd0d0" stroke-width="0.75"/>
<circle cx="162.09" cy="303.73" r="2.2" fill="none" stroke="#dcd0d0" stroke-width="0.75"/>
<circle cx="164.75" cy="303.85" r="2.2" fill="none" stroke="#dcd0d0" stroke-width="0.75"/>
<circle cx="167.41" cy="304.11" r="2.2" fill="none" stroke="#dcd0d0" stroke-width="0.75"/>
<circle cx="170.08" cy="305.14" r="2.2" fill="none" stroke="#dcd0d0" stroke-width="0.75"/>
<circle cx="172.74" cy="304.43" r="2.2" fill="none" stroke="#dcd0d0" stroke-width="0.75"/>
<circle cx="175.4" cy="302.85" r="2.2" fill="none" stroke="#dcd0d0" stroke-width="0.75"/>
<circle cx="178.06" cy="303.04" r="2.2" fill="none" stroke="#dcd0d0" stroke-width="0.75"/>
<circle cx="180.72" cy="302.88" r="2.2" fill="none" stroke="#dcd0d0" stroke-width="0.75"/>
<circle cx="183.39" cy="304.57" r="2.2" fill="none" stroke="#dcd0d0" stroke-width="0.75"/>
<circle cx="186.05" cy="304.72" r="2.2" fill="none" stroke="#dcd0d0" stroke-width="0.75"/>
<circle cx="188.71" cy="305.14" r="2.2" fill="none" stroke="#dcd0d0" stroke-width="0.75"/>
<circle cx="191.37" cy="303.78" r="2.2" fill="none" stroke="#dcd0d0" stroke-width="0.75"/>
<circle cx="194.03" cy="304.24" r="2.2" fill="none" stroke="#dcd0d0" stroke-width="0.75"/>
<circle cx="196.7" cy="303.98" r="2.2" fill="none" stroke="#dcd0d0" stroke-width="0.75"/>
<circle cx="199.36" cy="303.91" r="2.2" fill="none" stroke="#dcd0d0" stroke-width="0.75"/>
<circle cx="202.02" cy="303.65" r="2.2" fill="none" stroke="#dcd0d0" stroke-width="0.75"/>
<circle cx="204.68" cy="304.26" r="2.2" fill="none" stroke="#dcd0d0" stroke-width="0.75"/>
<circle cx="207.34" cy="303.04" r="2.2" fill="none" stroke="#dcd0d0" stroke-width="0.75"/>
<circle cx="210.01" cy="304.73" r="2.2" fill="none" stroke="#dcd0d0" stroke-width="0.75"/>
<circle cx="212.67" cy="302.71" r="2.2" fill="none" stroke="#dcd0d0" stroke-width="0.75"/>
<circle cx="215.33" cy="303.73" r="2.2" fill="none" stroke="#dcd0d0" stroke-width="0.75"/>
<circle cx="217.99" cy="305.14" r="2.2" fill="none" stroke="#dcd0d0" stroke-width="0.75"/>
<circle cx="220.65" cy="304.41" r="2.2" fill="none" stroke="#dcd0d0" stroke-width="0.75"/>
<circle cx="223.32" cy="303.79" r="2.2" fill="none" stroke="#dcd0d0" stroke-width="0.75"/>
<circle cx="225.98" cy="304.14" r="2.2" fill="none" stroke="#dcd0d0" stroke-width="0.75"/>
<circle cx="228.64" cy="303.7" r="2.2" fill="none" stroke="#dcd0d0" stroke-width="0.75"/>
<circle cx="231.3" cy="304.38" r="2.2" fill="none" stroke="#dcd0d0" stroke-width="0.75"/>
<circle cx="233.96" cy="304.52" r="2.2" fill="none" stroke="#dcd0d0" stroke-width="0.75"/>
<circle cx="236.63" cy="303.05" r="2.2" fill="none" stroke="#dcd0d0" stroke-width="0.75"/>
<circle cx="239.29" cy="304.47" r="2.2" fill="none" stroke="#dcd0d0" stroke-width="0.75"/>
<circle cx="241.95" cy="303.29" r="2.2" fill="none" stroke="#dcd0d0" stroke-width="0.75"/>
<circle cx="244.61" cy="303.03" r="2.2" fill="none" stroke="#dcd0d0" stroke-width="0.75"/>
<circle cx="247.27" cy="303.63" r="2.2" fill="none" stroke="#dcd0d0" stroke-width="0.75"/>
<circle cx="249.94" cy="304.01" r="2.2" fill="none" stroke="#dcd0d0" stroke-width="0.75"/>
<circle cx="252.6" cy="302.66" r="2.2" fill="none" stroke="#dcd0d0" stroke-width="0.75"/>
<circle cx="255.26" cy="304.04" r="2.2" fill="none" stroke="#dcd0d0" stroke-width="0.75"/>
<circle cx="257.92" cy="302.82" r="2.2" fill="none" stroke="#dcd0d0" stroke-width="0.75"/>
<circle cx="260.58" cy="305.13" r="2.2" fill="none" stroke="#dcd0d0" stroke-width="0.75"/>
<circle cx="263.25" cy="304.07" r="2.2" fill="none" stroke="#dcd0d0" stroke-width="0.75"/>
<circle cx="265.91" cy="303.49" r="2.2" fill="none" stroke="#dcd0d0" stroke-width="0.75"/>
<circle cx="268.57" cy="305.15" r="2.2" fill="none" stroke="#dcd0d0" stroke-width="0.75"/>
<circle cx="271.23" cy="302.87" r="2.2" fill="none" stroke="#dcd0d0" stroke-width="0.75"/>
<circle cx="273.89" cy="305.09" r="2.2" fill="none" stroke="#dcd0d0" stroke-width="0.75"/>
<circle cx="276.56" cy="303.61" r="2.2" fill="none" stroke="#dcd0d0" stroke-width="0.75"/>
<circle cx="279.22" cy="304.78" r="2.2" fill="none" stroke="#dcd0d0" stroke-width="0.75"/>
<circle cx="281.88" cy="302.7" r="2.2" fill="none" stroke="#dcd0d0" stroke-width="0.75"/>
<circle cx="284.54" cy="303.71" r="2.2" fill="none" stroke="#dcd0d0" stroke-width="0.75"/>
<circle cx="287.2" cy="303.04" r="2.2" fill="none" stroke="#dcd0d0" stroke-width="0.75"/>
<circle cx="289.87" cy="303.89" r="2.2" fill="none" stroke="#dcd0d0" stroke-width="0.75"/>
<circle cx="292.53" cy="303.4" r="2.2" fill="none" stroke="#dcd0d0" stroke-width="0.75"/>
<circle cx="295.19" cy="303.39" r="2.2" fill="none" stroke="#dcd0d0" stroke-width="0.75"/>
<circle cx="297.85" cy="304.46" r="2.2" fill="none" stroke="#dcd0d0" stroke-width="0.75"/>
<circle cx="300.51" cy="304.7" r="2.2" fill="none" stroke="#dcd0d0" stroke-width="0.75"/>
<circle cx="303.18" cy="302.93" r="2.2" fill="none" stroke="#dcd0d0" stroke-width="0.75"/>
<circle cx="305.84" cy="304.88" r="2.2" fill="none" stroke="#dcd0d0" stroke-width="0.75"/>
<circle cx="308.5" cy="302.71" r="2.2" fill="none" stroke="#dcd0d0" stroke-width="0.75"/>
<polyline points="44.96,312.15 47.62,303.87 50.29,304.04" fill="none" stroke="#e6a3b3" stroke-width="0.7" stroke-linejoin="round" stroke-linecap="round" />
<circle cx="44.96" cy="312.15" r="2.2" fill="#fff" fill-opacity="0.6" stroke="#e1899f" stroke-width="0.8"/>
<circle cx="47.62" cy="303.87" r="2.2" fill="#fff" fill-opacity="0.6" stroke="#e1899f" stroke-width="0.8"/>
<circle cx="50.29" cy="304.04" r="2.2" fill="#fff" fill-opacity="0.6" stroke="#e1899f" stroke-width="0.8"/>
<circle cx="52.95" cy="304.05" r="2.2" fill="#fff" fill-opacity="0.6" stroke="#e1899f" stroke-width="0.8"/>
<circle cx="55.61" cy="302.97" r="2.2" fill="#fff" fill-opacity="0.6" stroke="#e1899f" stroke-width="0.8"/>
<circle cx="58.27" cy="302.71" r="2.2" fill="#fff" fill-opacity="0.6" stroke="#e1899f" stroke-width="0.8"/>
<circle cx="60.93" cy="303.55" r="2.2" fill="#fff" fill-opacity="0.6" stroke="#e1899f" stroke-width="0.8"/>
<circle cx="63.6" cy="303.17" r="2.2" fill="#fff" fill-opacity="0.6" stroke="#e1899f" stroke-width="0.8"/>
<circle cx="66.26" cy="303.79" r="2.2" fill="#fff" fill-opacity="0.6" stroke="#e1899f" stroke-width="0.8"/>
<circle cx="68.92" cy="302.78" r="2.2" fill="#fff" fill-opacity="0.6" stroke="#e1899f" stroke-width="0.8"/>
<circle cx="71.58" cy="303.13" r="2.2" fill="#fff" fill-opacity="0.6" stroke="#e1899f" stroke-width="0.8"/>
<circle cx="74.24" cy="303.95" r="2.2" fill="#fff" fill-opacity="0.6" stroke="#e1899f" stroke-width="0.8"/>
<circle cx="76.91" cy="304.11" r="2.2" fill="#fff" fill-opacity="0.6" stroke="#e1899f" stroke-width="0.8"/>
<circle cx="79.57" cy="303.11" r="2.2" fill="#fff" fill-opacity="0.6" stroke="#e1899f" stroke-width="0.8"/>
<circle cx="82.23" cy="304.13" r="2.2" fill="#fff" fill-opacity="0.6" stroke="#e1899f" stroke-width="0.8"/>
<circle cx="84.89" cy="302.89" r="2.2" fill="#fff" fill-opacity="0.6" stroke="#e1899f" stroke-width="0.8"/>
<circle cx="87.55" cy="303.74" r="2.2" fill="#fff" fill-opacity="0.6" stroke="#e1899f" stroke-width="0.8"/>
<circle cx="90.22" cy="303.83" r="2.2" fill="#fff" fill-opacity="0.6" stroke="#e1899f" stroke-width="0.8"/>
<circle cx="92.88" cy="303.29" r="2.2" fill="#fff" fill-opacity="0.6" stroke="#e1899f" stroke-width="0.8"/>
<circle cx="95.54" cy="303.7" r="2.2" fill="#fff" fill-opacity="0.6" stroke="#e1899f" stroke-width="0.8"/>
<circle cx="98.2" cy="303.32" r="2.2" fill="#fff" fill-opacity="0.6" stroke="#e1899f" stroke-width="0.8"/>
<circle cx="100.86" cy="303.96" r="2.2" fill="#fff" fill-opacity="0.6" stroke="#e1899f" stroke-width="0.8"/>
<circle cx="103.53" cy="302.77" r="2.2" fill="#fff" fill-opacity="0.6" stroke="#e1899f" stroke-width="0.8"/>
<circle cx="106.19" cy="303.69" r="2.2" fill="#fff" fill-opacity="0.6" stroke="#e1899f" stroke-width="0.8"/>
<circle cx="108.85" cy="302.88" r="2.2" fill="#fff" fill-opacity="0.6" stroke="#e1899f" stroke-width="0.8"/>
<circle cx="111.51" cy="303.96" r="2.2" fill="#fff" fill-opacity="0.6" stroke="#e1899f" stroke-width="0.8"/>
<circle cx="114.17" cy="302.95" r="2.2" fill="#fff" fill-opacity="0.6" stroke="#e1899f" stroke-width="0.8"/>
<circle cx="116.84" cy="302.67" r="2.2" fill="#fff" fill-opacity="0.6" stroke="#e1899f" stroke-width="0.8"/>
<circle cx="119.5" cy="303.59" r="2.2" fill="#fff" fill-opacity="0.6" stroke="#e1899f" stroke-width="0.8"/>
<circle cx="122.16" cy="304.14" r="2.2" fill="#fff" fill-opacity="0.6" stroke="#e1899f" stroke-width="0.8"/>
<circle cx="124.82" cy="303.6" r="2.2" fill="#fff" fill-opacity="0.6" stroke="#e1899f" stroke-width="0.8"/>
<circle cx="127.48" cy="303.2" r="2.2" fill="#fff" fill-opacity="0.6" stroke="#e1899f" stroke-width="0.8"/>
<circle cx="130.15" cy="303.85" r="2.2" fill="#fff" fill-opacity="0.6" stroke="#e1899f" stroke-width="0.8"/>
<circle cx="132.81" cy="303.34" r="2.2" fill="#fff" fill-opacity="0.6" stroke="#e1899f" stroke-width="0.8"/>
<circle cx="135.47" cy="304.05" r="2.2" fill="#fff" fill-opacity="0.6" stroke="#e1899f" stroke-width="0.8"/>
<circle cx="138.13" cy="303.47" r="2.2" fill="#fff" fill-opacity="0.6" stroke="#e1899f" stroke-width="0.8"/>
<circle cx="140.79" cy="303.06" r="2.2" fill="#fff" fill-opacity="0.6" stroke="#e1899f" stroke-width="0.8"/>
<circle cx="143.46" cy="303.53" r="2.2" fill="#fff" fill-opacity="0.6" stroke="#e1899f" stroke-width="0.8"/>
<circle cx="146.12" cy="303.14" r="2.2" fill="#fff" fill-opacity="0.6" stroke="#e1899f" stroke-width="0.8"/>
<circle cx="148.78" cy="304.02" r="2.2" fill="#fff" fill-opacity="0.6" stroke="#e1899f" stroke-width="0.8"/>
<circle cx="151.44" cy="302.9" r="2.2" fill="#fff" fill-opacity="0.6" stroke="#e1899f" stroke-width="0.8"/>
<circle cx="154.1" cy="304.01" r="2.2" fill="#fff" fill-opacity="0.6" stroke="#e1899f" stroke-width="0.8"/>
<circle cx="156.77" cy="302.76" r="2.2" fill="#fff" fill-opacity="0.6" stroke="#e1899f" stroke-width="0.8"/>
<circle cx="159.43" cy="302.64" r="2.2" fill="#fff" fill-opacity="0.6" stroke="#e1899f" stroke-width="0.8"/>
<circle cx="162.09" cy="302.73" r="2.2" fill="#fff" fill-opacity="0.6" stroke="#e1899f" stroke-width="0.8"/>
<circle cx="164.75" cy="303.37" r="2.2" fill="#fff" fill-opacity="0.6" stroke="#e1899f" stroke-width="0.8"/>
<circle cx="167.41" cy="303.74" r="2.2" fill="#fff" fill-opacity="0.6" stroke="#e1899f" stroke-width="0.8"/>
<circle cx="170.08" cy="303.65" r="2.2" fill="#fff" fill-opacity="0.6" stroke="#e1899f" stroke-width="0.8"/>
<circle cx="172.74" cy="303.03" r="2.2" fill="#fff" fill-opacity="0.6" stroke="#e1899f" stroke-width="0.8"/>
<circle cx="175.4" cy="303.42" r="2.2" fill="#fff" fill-opacity="0.6" stroke="#e1899f" stroke-width="0.8"/>
<circle cx="178.06" cy="302.75" r="2.2" fill="#fff" fill-opacity="0.6" stroke="#e1899f" stroke-width="0.8"/>
<circle cx="180.72" cy="304.05" r="2.2" fill="#fff" fill-opacity="0.6" stroke="#e1899f" stroke-width="0.8"/>
<circle cx="183.39" cy="303.44" r="2.2" fill="#fff" fill-opacity="0.6" stroke="#e1899f" stroke-width="0.8"/>
<circle cx="186.05" cy="302.85" r="2.2" fill="#fff" fill-opacity="0.6" stroke="#e1899f" stroke-width="0.8"/>
<circle cx="188.71" cy="303.26" r="2.2" fill="#fff" fill-opacity="0.6" stroke="#e1899f" stroke-width="0.8"/>
<circle cx="191.37" cy="303.35" r="2.2" fill="#fff" fill-opacity="0.6" stroke="#e1899f" stroke-width="0.8"/>
<circle cx="194.03" cy="304.06" r="2.2" fill="#fff" fill-opacity="0.6" stroke="#e1899f" stroke-width="0.8"/>
<circle cx="196.7" cy="303.98" r="2.2" fill="#fff" fill-opacity="0.6" stroke="#e1899f" stroke-width="0.8"/>
<circle cx="199.36" cy="303.77" r="2.2" fill="#fff" fill-opacity="0.6" stroke="#e1899f" stroke-width="0.8"/>
<circle cx="202.02" cy="302.8" r="2.2" fill="#fff" fill-opacity="0.6" stroke="#e1899f" stroke-width="0.8"/>
<circle cx="204.68" cy="302.88" r="2.2" fill="#fff" fill-opacity="0.6" stroke="#e1899f" stroke-width="0.8"/>
<circle cx="207.34" cy="303.84" r="2.2" fill="#fff" fill-opacity="0.6" stroke="#e1899f" stroke-width="0.8"/>
<circle cx="210.01" cy="302.75" r="2.2" fill="#fff" fill-opacity="0.6" stroke="#e1899f" stroke-width="0.8"/>
<circle cx="212.67" cy="304.15" r="2.2" fill="#fff" fill-opacity="0.6" stroke="#e1899f" stroke-width="0.8"/>
<circle cx="215.33" cy="303.26" r="2.2" fill="#fff" fill-opacity="0.6" stroke="#e1899f" stroke-width="0.8"/>
<circle cx="217.99" cy="302.69" r="2.2" fill="#fff" fill-opacity="0.6" stroke="#e1899f" stroke-width="0.8"/>
<circle cx="220.65" cy="303.66" r="2.2" fill="#fff" fill-opacity="0.6" stroke="#e1899f" stroke-width="0.8"/>
<circle cx="223.32" cy="302.72" r="2.2" fill="#fff" fill-opacity="0.6" stroke="#e1899f" stroke-width="0.8"/>
<circle cx="225.98" cy="303.17" r="2.2" fill="#fff" fill-opacity="0.6" stroke="#e1899f" stroke-width="0.8"/>
<circle cx="228.64" cy="304.12" r="2.2" fill="#fff" fill-opacity="0.6" stroke="#e1899f" stroke-width="0.8"/>
<circle cx="231.3" cy="303.68" r="2.2" fill="#fff" fill-opacity="0.6" stroke="#e1899f" stroke-width="0.8"/>
<circle cx="233.96" cy="303.49" r="2.2" fill="#fff" fill-opacity="0.6" stroke="#e1899f" stroke-width="0.8"/>
<circle cx="236.63" cy="303.81" r="2.2" fill="#fff" fill-opacity="0.6" stroke="#e1899f" stroke-width="0.8"/>
<circle cx="239.29" cy="303.04" r="2.2" fill="#fff" fill-opacity="0.6" stroke="#e1899f" stroke-width="0.8"/>
<circle cx="241.95" cy="303.92" r="2.2" fill="#fff" fill-opacity="0.6" stroke="#e1899f" stroke-width="0.8"/>
<circle cx="244.61" cy="302.97" r="2.2" fill="#fff" fill-opacity="0.6" stroke="#e1899f" stroke-width="0.8"/>
<circle cx="247.27" cy="303.73" r="2.2" fill="#fff" fill-opacity="0.6" stroke="#e1899f" stroke-width="0.8"/>
<circle cx="249.94" cy="304.09" r="2.2" fill="#fff" fill-opacity="0.6" stroke="#e1899f" stroke-width="0.8"/>
<circle cx="252.6" cy="303.32" r="2.2" fill="#fff" fill-opacity="0.6" stroke="#e1899f" stroke-width="0.8"/>
<circle cx="255.26" cy="304.05" r="2.2" fill="#fff" fill-opacity="0.6" stroke="#e1899f" stroke-width="0.8"/>
<circle cx="257.92" cy="303.34" r="2.2" fill="#fff" fill-opacity="0.6" stroke="#e1899f" stroke-width="0.8"/>
<circle cx="260.58" cy="302.97" r="2.2" fill="#fff" fill-opacity="0.6" stroke="#e1899f" stroke-width="0.8"/>
<circle cx="263.25" cy="303.27" r="2.2" fill="#fff" fill-opacity="0.6" stroke="#e1899f" stroke-width="0.8"/>
<circle cx="265.91" cy="303.48" r="2.2" fill="#fff" fill-opacity="0.6" stroke="#e1899f" stroke-width="0.8"/>
<circle cx="268.57" cy="304.14" r="2.2" fill="#fff" fill-opacity="0.6" stroke="#e1899f" stroke-width="0.8"/>
<circle cx="271.23" cy="303.4" r="2.2" fill="#fff" fill-opacity="0.6" stroke="#e1899f" stroke-width="0.8"/>
<circle cx="273.89" cy="304.04" r="2.2" fill="#fff" fill-opacity="0.6" stroke="#e1899f" stroke-width="0.8"/>
<circle cx="276.56" cy="303.19" r="2.2" fill="#fff" fill-opacity="0.6" stroke="#e1899f" stroke-width="0.8"/>
<circle cx="279.22" cy="303.99" r="2.2" fill="#fff" fill-opacity="0.6" stroke="#e1899f" stroke-width="0.8"/>
<circle cx="281.88" cy="303.29" r="2.2" fill="#fff" fill-opacity="0.6" stroke="#e1899f" stroke-width="0.8"/>
<circle cx="284.54" cy="303.65" r="2.2" fill="#fff" fill-opacity="0.6" stroke="#e1899f" stroke-width="0.8"/>
<circle cx="287.2" cy="303.61" r="2.2" fill="#fff" fill-opacity="0.6" stroke="#e1899f" stroke-width="0.8"/>
<circle cx="289.87" cy="303.16" r="2.2" fill="#fff" fill-opacity="0.6" stroke="#e1899f" stroke-width="0.8"/>
<circle cx="292.53" cy="303.94" r="2.2" fill="#fff" fill-opacity="0.6" stroke="#e1899f" stroke-width="0.8"/>
<circle cx="295.19" cy="303.93" r="2.2" fill="#fff" fill-opacity="0.6" stroke="#e1899f" stroke-width="0.8"/>
<circle cx="297.85" cy="302.73" r="2.2" fill="#fff" fill-opacity="0.6" stroke="#e1899f" stroke-width="0.8"/>
<circle cx="300.51" cy="303.68" r="2.2" fill="#fff" fill-opacity="0.6" stroke="#e1899f" stroke-width="0.8"/>
<circle cx="303.18" cy="302.88" r="2.2" fill="#fff" fill-opacity="0.6" stroke="#e1899f" stroke-width="0.8"/>
<circle cx="305.84" cy="302.83" r="2.2" fill="#fff" fill-opacity="0.6" stroke="#e1899f" stroke-width="0.8"/>
<circle cx="308.5" cy="303.45" r="2.2" fill="#fff" fill-opacity="0.6" stroke="#e1899f" stroke-width="0.8"/>
<circle cx="207.34" cy="308.88" r="2.2" fill="none" stroke="#e693a8" stroke-width="0.8"/>
<circle cx="215.33" cy="316.83" r="2.2" fill="none" stroke="#e693a8" stroke-width="0.8"/>
<circle cx="241.95" cy="323.38" r="2.2" fill="none" stroke="#e693a8" stroke-width="0.8"/>
<circle cx="257.92" cy="312.15" r="2.2" fill="none" stroke="#e693a8" stroke-width="0.8"/>
<circle cx="265.91" cy="307.94" r="2.2" fill="none" stroke="#e693a8" stroke-width="0.8"/>
<circle cx="295.19" cy="311.84" r="2.2" fill="none" stroke="#e693a8" stroke-width="0.8"/>
<circle cx="303.18" cy="308.72" r="2.2" fill="none" stroke="#e693a8" stroke-width="0.8"/>
<circle cx="305.84" cy="310.12" r="2.2" fill="none" stroke="#e693a8" stroke-width="0.8"/>
<line x1="45.56" y1="334.43" x2="45.56" y2="305.6" stroke="#b9d5ec" stroke-width="0.8" />
<circle cx="44.96" cy="333.05" r="2.35" fill="#d9849b"/>
<circle cx="47.62" cy="333.39" r="2.35" fill="#d9849b"/>
<circle cx="50.29" cy="333.38" r="2.35" fill="#d9849b"/>
<circle cx="52.95" cy="334" r="2.35" fill="#d9849b"/>
<circle cx="55.61" cy="334.16" r="2.35" fill="#d9849b"/>
<circle cx="58.27" cy="334.45" r="2.35" fill="#d9849b"/>
<circle cx="60.93" cy="334.93" r="2.35" fill="#d9849b"/>
<circle cx="63.6" cy="335.1" r="2.35" fill="#d9849b"/>
<circle cx="66.26" cy="335.53" r="2.35" fill="#d9849b"/>
<circle cx="68.92" cy="335.69" r="2.35" fill="#d9849b"/>
<circle cx="71.58" cy="336.01" r="2.35" fill="#d9849b"/>
<circle cx="74.24" cy="336.38" r="2.35" fill="#d9849b"/>
<circle cx="76.91" cy="336.7" r="2.35" fill="#d9849b"/>
<circle cx="79.57" cy="336.82" r="2.35" fill="#d9849b"/>
<circle cx="82.23" cy="337.11" r="2.35" fill="#d9849b"/>
<circle cx="84.89" cy="337.35" r="2.35" fill="#d9849b"/>
<circle cx="87.55" cy="337.52" r="2.35" fill="#d9849b"/>
<circle cx="90.22" cy="337.47" r="2.35" fill="#d9849b"/>
<circle cx="92.88" cy="337.83" r="2.35" fill="#d9849b"/>
<circle cx="95.54" cy="337.88" r="2.35" fill="#d9849b"/>
<circle cx="98.2" cy="338.44" r="2.35" fill="#d9849b"/>
<circle cx="100.86" cy="338.27" r="2.35" fill="#d9849b"/>
<circle cx="103.53" cy="338.67" r="2.35" fill="#d9849b"/>
<circle cx="106.19" cy="338.75" r="2.35" fill="#d9849b"/>
<circle cx="108.85" cy="339.05" r="2.35" fill="#d9849b"/>
<circle cx="111.51" cy="339.22" r="2.35" fill="#d9849b"/>
<circle cx="114.17" cy="339.64" r="2.35" fill="#d9849b"/>
<circle cx="116.84" cy="339.66" r="2.35" fill="#d9849b"/>
<circle cx="119.5" cy="340.13" r="2.35" fill="#d9849b"/>
<circle cx="122.16" cy="340.32" r="2.35" fill="#d9849b"/>
<circle cx="124.82" cy="340.65" r="2.35" fill="#d9849b"/>
<circle cx="127.48" cy="340.73" r="2.35" fill="#d9849b"/>
<circle cx="130.15" cy="340.91" r="2.35" fill="#d9849b"/>
<circle cx="132.81" cy="341.24" r="2.35" fill="#d9849b"/>
<circle cx="135.47" cy="341.22" r="2.35" fill="#d9849b"/>
<circle cx="138.13" cy="341.78" r="2.35" fill="#d9849b"/>
<circle cx="140.79" cy="341.81" r="2.35" fill="#d9849b"/>
<circle cx="143.46" cy="342.19" r="2.35" fill="#d9849b"/>
<circle cx="146.12" cy="342.23" r="2.35" fill="#d9849b"/>
<circle cx="148.78" cy="342.3" r="2.35" fill="#d9849b"/>
<circle cx="151.44" cy="342.47" r="2.35" fill="#d9849b"/>
<circle cx="154.1" cy="342.87" r="2.35" fill="#d9849b"/>
<circle cx="156.77" cy="342.93" r="2.35" fill="#d9849b"/>
<circle cx="159.43" cy="342.93" r="2.35" fill="#d9849b"/>
<circle cx="162.09" cy="342.92" r="2.35" fill="#d9849b"/>
<circle cx="164.75" cy="343.44" r="2.35" fill="#d9849b"/>
<circle cx="167.41" cy="343.34" r="2.35" fill="#d9849b"/>
<circle cx="170.08" cy="343.45" r="2.35" fill="#d9849b"/>
<circle cx="172.74" cy="343.64" r="2.35" fill="#d9849b"/>
<circle cx="175.4" cy="344.07" r="2.35" fill="#d9849b"/>
<circle cx="178.06" cy="344.12" r="2.35" fill="#d9849b"/>
<circle cx="180.72" cy="344.5" r="2.35" fill="#d9849b"/>
<circle cx="183.39" cy="344.56" r="2.35" fill="#d9849b"/>
<circle cx="186.05" cy="345.17" r="2.35" fill="#d9849b"/>
<circle cx="188.71" cy="345.03" r="2.35" fill="#d9849b"/>
<circle cx="191.37" cy="345.48" r="2.35" fill="#d9849b"/>
<circle cx="194.03" cy="345.72" r="2.35" fill="#d9849b"/>
<circle cx="196.7" cy="346.09" r="2.35" fill="#d9849b"/>
<circle cx="199.36" cy="346.27" r="2.35" fill="#d9849b"/>
<circle cx="202.02" cy="346.39" r="2.35" fill="#d9849b"/>
<circle cx="204.68" cy="346.75" r="2.35" fill="#d9849b"/>
<circle cx="207.34" cy="346.45" r="2.35" fill="#d9849b"/>
<circle cx="210.01" cy="347.39" r="2.35" fill="#d9849b"/>
<circle cx="212.67" cy="347.62" r="2.35" fill="#d9849b"/>
<circle cx="215.33" cy="347.75" r="2.35" fill="#d9849b"/>
<circle cx="217.99" cy="347.89" r="2.35" fill="#d9849b"/>
<circle cx="220.65" cy="348" r="2.35" fill="#d9849b"/>
<circle cx="223.32" cy="347.89" r="2.35" fill="#d9849b"/>
<circle cx="225.98" cy="348.03" r="2.35" fill="#d9849b"/>
<circle cx="228.64" cy="348.27" r="2.35" fill="#d9849b"/>
<circle cx="231.3" cy="348.55" r="2.35" fill="#d9849b"/>
<circle cx="233.96" cy="348.69" r="2.35" fill="#d9849b"/>
<circle cx="236.63" cy="348.73" r="2.35" fill="#d9849b"/>
<circle cx="239.29" cy="348.83" r="2.35" fill="#d9849b"/>
<circle cx="241.95" cy="347.98" r="2.35" fill="#d9849b"/>
<circle cx="244.61" cy="349.29" r="2.35" fill="#d9849b"/>
<circle cx="247.27" cy="349.83" r="2.35" fill="#d9849b"/>
<circle cx="249.94" cy="350.03" r="2.35" fill="#d9849b"/>
<circle cx="252.6" cy="350.3" r="2.35" fill="#d9849b"/>
<circle cx="255.26" cy="350.69" r="2.35" fill="#d9849b"/>
<circle cx="257.92" cy="351.39" r="2.35" fill="#d9849b"/>
<circle cx="260.58" cy="351.58" r="2.35" fill="#d9849b"/>
<circle cx="263.25" cy="352.18" r="2.35" fill="#d9849b"/>
<circle cx="265.91" cy="352.7" r="2.35" fill="#d9849b"/>
<circle cx="268.57" cy="351.7" r="2.35" fill="#d9849b"/>
<circle cx="271.23" cy="350.04" r="2.35" fill="#d9849b"/>
<circle cx="273.89" cy="348.99" r="2.35" fill="#d9849b"/>
<circle cx="276.56" cy="355.22" r="2.35" fill="#d9849b"/>
<circle cx="279.22" cy="354.91" r="2.35" fill="#d9849b"/>
<circle cx="281.88" cy="354.17" r="2.35" fill="#d9849b"/>
<circle cx="284.54" cy="353.48" r="2.35" fill="#d9849b"/>
<circle cx="287.2" cy="354.74" r="2.35" fill="#d9849b"/>
<circle cx="289.87" cy="354.83" r="2.35" fill="#d9849b"/>
<circle cx="292.53" cy="352.48" r="2.35" fill="#d9849b"/>
<circle cx="295.19" cy="353.61" r="2.35" fill="#d9849b"/>
<circle cx="297.85" cy="357.51" r="2.35" fill="#d9849b"/>
<circle cx="300.51" cy="357.51" r="2.35" fill="#d9849b"/>
<circle cx="303.18" cy="357.68" r="2.35" fill="#d9849b"/>
<circle cx="305.84" cy="357.79" r="2.35" fill="#d9849b"/>
<circle cx="308.5" cy="358.18" r="2.35" fill="#d9849b"/>
<rect x="42.76" y="325.1" width="4.4" height="4.4" fill="#f2c3c3"/>
<rect x="45.42" y="327.7" width="4.4" height="4.4" fill="#f2c3c3"/>
<rect x="48.09" y="329.29" width="4.4" height="4.4" fill="#f2c3c3"/>
<rect x="50.75" y="332.19" width="4.4" height="4.4" fill="#f2c3c3"/>
<rect x="53.41" y="332.84" width="4.4" height="4.4" fill="#f2c3c3"/>
<rect x="56.07" y="334.63" width="4.4" height="4.4" fill="#f2c3c3"/>
<rect x="58.73" y="336.75" width="4.4" height="4.4" fill="#f2c3c3"/>
<rect x="61.4" y="337.38" width="4.4" height="4.4" fill="#f2c3c3"/>
<rect x="64.06" y="339.38" width="4.4" height="4.4" fill="#f2c3c3"/>
<rect x="66.72" y="340.63" width="4.4" height="4.4" fill="#f2c3c3"/>
<rect x="69.38" y="341.49" width="4.4" height="4.4" fill="#f2c3c3"/>
<rect x="72.04" y="342.91" width="4.4" height="4.4" fill="#f2c3c3"/>
<rect x="74.71" y="343.74" width="4.4" height="4.4" fill="#f2c3c3"/>
<rect x="77.37" y="344.39" width="4.4" height="4.4" fill="#f2c3c3"/>
<rect x="80.03" y="345.82" width="4.4" height="4.4" fill="#f2c3c3"/>
<rect x="82.69" y="346.97" width="4.4" height="4.4" fill="#f2c3c3"/>
<rect x="85.35" y="348.59" width="4.4" height="4.4" fill="#f2c3c3"/>
<rect x="88.02" y="349.41" width="4.4" height="4.4" fill="#f2c3c3"/>
<rect x="90.68" y="350.75" width="4.4" height="4.4" fill="#f2c3c3"/>
<rect x="93.34" y="352.25" width="4.4" height="4.4" fill="#f2c3c3"/>
<rect x="96" y="353.31" width="4.4" height="4.4" fill="#f2c3c3"/>
<rect x="98.66" y="354.79" width="4.4" height="4.4" fill="#f2c3c3"/>
<rect x="101.33" y="356.62" width="4.4" height="4.4" fill="#f2c3c3"/>
<rect x="103.99" y="358.31" width="4.4" height="4.4" fill="#f2c3c3"/>
<rect x="106.65" y="358.88" width="4.4" height="4.4" fill="#f2c3c3"/>
<rect x="109.31" y="359.85" width="4.4" height="4.4" fill="#f2c3c3"/>
<rect x="111.97" y="361.61" width="4.4" height="4.4" fill="#f2c3c3"/>
<rect x="114.64" y="362.42" width="4.4" height="4.4" fill="#f2c3c3"/>
<rect x="117.3" y="363.19" width="4.4" height="4.4" fill="#f2c3c3"/>
<rect x="119.96" y="364.24" width="4.4" height="4.4" fill="#f2c3c3"/>
<rect x="122.62" y="366.03" width="4.4" height="4.4" fill="#f2c3c3"/>
<rect x="125.28" y="366.15" width="4.4" height="4.4" fill="#f2c3c3"/>
<rect x="127.95" y="367.45" width="4.4" height="4.4" fill="#f2c3c3"/>
<rect x="130.61" y="368.27" width="4.4" height="4.4" fill="#f2c3c3"/>
<rect x="133.27" y="368.76" width="4.4" height="4.4" fill="#f2c3c3"/>
<rect x="135.93" y="371.04" width="4.4" height="4.4" fill="#f2c3c3"/>
<rect x="138.59" y="372.62" width="4.4" height="4.4" fill="#f2c3c3"/>
<rect x="141.26" y="374.17" width="4.4" height="4.4" fill="#f2c3c3"/>
<rect x="143.92" y="375.08" width="4.4" height="4.4" fill="#f2c3c3"/>
<rect x="146.58" y="375.73" width="4.4" height="4.4" fill="#f2c3c3"/>
<rect x="149.24" y="376.15" width="4.4" height="4.4" fill="#f2c3c3"/>
<rect x="151.9" y="376.49" width="4.4" height="4.4" fill="#f2c3c3"/>
<rect x="154.57" y="377.83" width="4.4" height="4.4" fill="#f2c3c3"/>
<rect x="157.23" y="379.37" width="4.4" height="4.4" fill="#f2c3c3"/>
<rect x="159.89" y="380.77" width="4.4" height="4.4" fill="#f2c3c3"/>
<rect x="162.55" y="381.65" width="4.4" height="4.4" fill="#f2c3c3"/>
<rect x="165.21" y="382.12" width="4.4" height="4.4" fill="#f2c3c3"/>
<rect x="167.88" y="383.27" width="4.4" height="4.4" fill="#f2c3c3"/>
<rect x="170.54" y="383.76" width="4.4" height="4.4" fill="#f2c3c3"/>
<rect x="173.2" y="384.37" width="4.4" height="4.4" fill="#f2c3c3"/>
<rect x="175.86" y="386.12" width="4.4" height="4.4" fill="#f2c3c3"/>
<rect x="178.52" y="386.6" width="4.4" height="4.4" fill="#f2c3c3"/>
<rect x="181.19" y="388.79" width="4.4" height="4.4" fill="#f2c3c3"/>
<rect x="183.85" y="389.42" width="4.4" height="4.4" fill="#f2c3c3"/>
<rect x="186.51" y="391.88" width="4.4" height="4.4" fill="#f2c3c3"/>
<rect x="189.17" y="393.51" width="4.4" height="4.4" fill="#f2c3c3"/>
<rect x="191.83" y="394.4" width="4.4" height="4.4" fill="#f2c3c3"/>
<rect x="194.5" y="396.79" width="4.4" height="4.4" fill="#f2c3c3"/>
<rect x="197.16" y="398.6" width="4.4" height="4.4" fill="#f2c3c3"/>
<rect x="199.82" y="398.71" width="4.4" height="4.4" fill="#f2c3c3"/>
<rect x="202.48" y="399.93" width="4.4" height="4.4" fill="#f2c3c3"/>
<rect x="205.14" y="400.46" width="4.4" height="4.4" fill="#f2c3c3"/>
<rect x="207.81" y="401.92" width="4.4" height="4.4" fill="#f2c3c3"/>
<rect x="210.47" y="402.61" width="4.4" height="4.4" fill="#f2c3c3"/>
<rect x="213.13" y="402.81" width="4.4" height="4.4" fill="#f2c3c3"/>
<rect x="215.79" y="404.05" width="4.4" height="4.4" fill="#f2c3c3"/>
<rect x="218.45" y="404.08" width="4.4" height="4.4" fill="#f2c3c3"/>
<rect x="221.12" y="405.57" width="4.4" height="4.4" fill="#f2c3c3"/>
<rect x="223.78" y="405.2" width="4.4" height="4.4" fill="#f2c3c3"/>
<rect x="226.44" y="406.33" width="4.4" height="4.4" fill="#f2c3c3"/>
<rect x="229.1" y="406.14" width="4.4" height="4.4" fill="#f2c3c3"/>
<rect x="231.76" y="406.98" width="4.4" height="4.4" fill="#f2c3c3"/>
<rect x="234.43" y="406.94" width="4.4" height="4.4" fill="#f2c3c3"/>
<rect x="237.09" y="406.18" width="4.4" height="4.4" fill="#f2c3c3"/>
<rect x="239.75" y="406.97" width="4.4" height="4.4" fill="#f2c3c3"/>
<rect x="242.41" y="406.78" width="4.4" height="4.4" fill="#f2c3c3"/>
<rect x="245.07" y="407.76" width="4.4" height="4.4" fill="#f2c3c3"/>
<rect x="247.74" y="408.02" width="4.4" height="4.4" fill="#f2c3c3"/>
<rect x="250.4" y="408.78" width="4.4" height="4.4" fill="#f2c3c3"/>
<rect x="253.06" y="408.73" width="4.4" height="4.4" fill="#f2c3c3"/>
<rect x="255.72" y="408.89" width="4.4" height="4.4" fill="#f2c3c3"/>
<rect x="258.38" y="409.87" width="4.4" height="4.4" fill="#f2c3c3"/>
<rect x="261.05" y="410.61" width="4.4" height="4.4" fill="#f2c3c3"/>
<rect x="263.71" y="410.52" width="4.4" height="4.4" fill="#f2c3c3"/>
<rect x="266.37" y="411.15" width="4.4" height="4.4" fill="#f2c3c3"/>
<rect x="269.03" y="411.99" width="4.4" height="4.4" fill="#f2c3c3"/>
<rect x="271.69" y="413.25" width="4.4" height="4.4" fill="#f2c3c3"/>
<rect x="274.36" y="413.09" width="4.4" height="4.4" fill="#f2c3c3"/>
<rect x="277.02" y="413.82" width="4.4" height="4.4" fill="#f2c3c3"/>
<rect x="279.68" y="413.7" width="4.4" height="4.4" fill="#f2c3c3"/>
<rect x="282.34" y="414.93" width="4.4" height="4.4" fill="#f2c3c3"/>
<rect x="285" y="415.06" width="4.4" height="4.4" fill="#f2c3c3"/>
<rect x="287.67" y="415.58" width="4.4" height="4.4" fill="#f2c3c3"/>
<rect x="290.33" y="416.37" width="4.4" height="4.4" fill="#f2c3c3"/>
<rect x="292.99" y="416.66" width="4.4" height="4.4" fill="#f2c3c3"/>
<rect x="295.65" y="416.92" width="4.4" height="4.4" fill="#f2c3c3"/>
<rect x="298.31" y="417.07" width="4.4" height="4.4" fill="#f2c3c3"/>
<rect x="300.98" y="417.91" width="4.4" height="4.4" fill="#f2c3c3"/>
<rect x="303.64" y="418.23" width="4.4" height="4.4" fill="#f2c3c3"/>
<rect x="306.3" y="417.62" width="4.4" height="4.4" fill="#f2c3c3"/>
<circle cx="44.96" cy="333.78" r="2.4" fill="#a4c8e6"/>
<circle cx="47.62" cy="333.88" r="2.4" fill="#a4c8e6"/>
<circle cx="50.29" cy="334.7" r="2.4" fill="#a4c8e6"/>
<circle cx="52.95" cy="335.5" r="2.4" fill="#a4c8e6"/>
<circle cx="55.61" cy="336.29" r="2.4" fill="#a4c8e6"/>
<circle cx="58.27" cy="336.8" r="2.4" fill="#a4c8e6"/>
<circle cx="60.93" cy="337.5" r="2.4" fill="#a4c8e6"/>
<circle cx="63.6" cy="338.54" r="2.4" fill="#a4c8e6"/>
<circle cx="66.26" cy="339.67" r="2.4" fill="#a4c8e6"/>
<circle cx="68.92" cy="341.65" r="2.4" fill="#a4c8e6"/>
<circle cx="71.58" cy="342.93" r="2.4" fill="#a4c8e6"/>
<circle cx="74.24" cy="344.56" r="2.4" fill="#a4c8e6"/>
<circle cx="76.91" cy="345.39" r="2.4" fill="#a4c8e6"/>
<circle cx="79.57" cy="346.96" r="2.4" fill="#a4c8e6"/>
<circle cx="82.23" cy="349.1" r="2.4" fill="#a4c8e6"/>
<circle cx="84.89" cy="350.3" r="2.4" fill="#a4c8e6"/>
<circle cx="87.55" cy="351.87" r="2.4" fill="#a4c8e6"/>
<circle cx="90.22" cy="353.84" r="2.4" fill="#a4c8e6"/>
<circle cx="92.88" cy="355.14" r="2.4" fill="#a4c8e6"/>
<circle cx="95.54" cy="356.61" r="2.4" fill="#a4c8e6"/>
<circle cx="98.2" cy="358.77" r="2.4" fill="#a4c8e6"/>
<circle cx="100.86" cy="361.45" r="2.4" fill="#a4c8e6"/>
<circle cx="103.53" cy="363.49" r="2.4" fill="#a4c8e6"/>
<circle cx="106.19" cy="366.06" r="2.4" fill="#a4c8e6"/>
<circle cx="108.85" cy="367.94" r="2.4" fill="#a4c8e6"/>
<circle cx="111.51" cy="370.06" r="2.4" fill="#a4c8e6"/>
<circle cx="114.17" cy="371.47" r="2.4" fill="#a4c8e6"/>
<circle cx="116.84" cy="373.32" r="2.4" fill="#a4c8e6"/>
<circle cx="119.5" cy="374.49" r="2.4" fill="#a4c8e6"/>
<circle cx="122.16" cy="375.69" r="2.4" fill="#a4c8e6"/>
<circle cx="124.82" cy="376.9" r="2.4" fill="#a4c8e6"/>
<circle cx="127.48" cy="377.31" r="2.4" fill="#a4c8e6"/>
<circle cx="130.15" cy="378.34" r="2.4" fill="#a4c8e6"/>
<circle cx="132.81" cy="379.18" r="2.4" fill="#a4c8e6"/>
<circle cx="135.47" cy="380.33" r="2.4" fill="#a4c8e6"/>
<circle cx="138.13" cy="381.16" r="2.4" fill="#a4c8e6"/>
<circle cx="140.79" cy="381.5" r="2.4" fill="#a4c8e6"/>
<circle cx="143.46" cy="381.98" r="2.4" fill="#a4c8e6"/>
<circle cx="146.12" cy="382.71" r="2.4" fill="#a4c8e6"/>
<circle cx="148.78" cy="383.87" r="2.4" fill="#a4c8e6"/>
<circle cx="151.44" cy="384.98" r="2.4" fill="#a4c8e6"/>
<circle cx="154.1" cy="385.82" r="2.4" fill="#a4c8e6"/>
<circle cx="156.77" cy="386.78" r="2.4" fill="#a4c8e6"/>
<circle cx="159.43" cy="388.61" r="2.4" fill="#a4c8e6"/>
<circle cx="162.09" cy="389.26" r="2.4" fill="#a4c8e6"/>
<circle cx="164.75" cy="390.62" r="2.4" fill="#a4c8e6"/>
<circle cx="167.41" cy="391.26" r="2.4" fill="#a4c8e6"/>
<circle cx="170.08" cy="392.14" r="2.4" fill="#a4c8e6"/>
<circle cx="172.74" cy="392.53" r="2.4" fill="#a4c8e6"/>
<circle cx="175.4" cy="392.96" r="2.4" fill="#a4c8e6"/>
<circle cx="178.06" cy="392.91" r="2.4" fill="#a4c8e6"/>
<circle cx="180.72" cy="393.25" r="2.4" fill="#a4c8e6"/>
<circle cx="183.39" cy="393.97" r="2.4" fill="#a4c8e6"/>
<circle cx="186.05" cy="393.73" r="2.4" fill="#a4c8e6"/>
<circle cx="188.71" cy="393.03" r="2.4" fill="#a4c8e6"/>
<circle cx="191.37" cy="393.57" r="2.4" fill="#a4c8e6"/>
<circle cx="194.03" cy="393.69" r="2.4" fill="#a4c8e6"/>
<circle cx="196.7" cy="395.09" r="2.4" fill="#a4c8e6"/>
<circle cx="199.36" cy="397.3" r="2.4" fill="#a4c8e6"/>
<circle cx="202.02" cy="397.63" r="2.4" fill="#a4c8e6"/>
<circle cx="204.68" cy="397.78" r="2.4" fill="#a4c8e6"/>
<circle cx="207.34" cy="397.95" r="2.4" fill="#a4c8e6"/>
<circle cx="210.01" cy="397.57" r="2.4" fill="#a4c8e6"/>
<circle cx="212.67" cy="398.17" r="2.4" fill="#a4c8e6"/>
<circle cx="215.33" cy="398.24" r="2.4" fill="#a4c8e6"/>
<circle cx="217.99" cy="397.69" r="2.4" fill="#a4c8e6"/>
<circle cx="220.65" cy="398.12" r="2.4" fill="#a4c8e6"/>
<circle cx="223.32" cy="397.91" r="2.4" fill="#a4c8e6"/>
<circle cx="225.98" cy="398.18" r="2.4" fill="#a4c8e6"/>
<circle cx="228.64" cy="398.15" r="2.4" fill="#a4c8e6"/>
<circle cx="231.3" cy="398.61" r="2.4" fill="#a4c8e6"/>
<circle cx="233.96" cy="398.83" r="2.4" fill="#a4c8e6"/>
<circle cx="236.63" cy="398.43" r="2.4" fill="#a4c8e6"/>
<circle cx="239.29" cy="398.77" r="2.4" fill="#a4c8e6"/>
<circle cx="241.95" cy="398.83" r="2.4" fill="#a4c8e6"/>
<circle cx="244.61" cy="398.91" r="2.4" fill="#a4c8e6"/>
<circle cx="247.27" cy="399.06" r="2.4" fill="#a4c8e6"/>
<circle cx="249.94" cy="399.71" r="2.4" fill="#a4c8e6"/>
<circle cx="252.6" cy="399.98" r="2.4" fill="#a4c8e6"/>
<circle cx="255.26" cy="399.95" r="2.4" fill="#a4c8e6"/>
<circle cx="257.92" cy="400.72" r="2.4" fill="#a4c8e6"/>
<circle cx="260.58" cy="401.41" r="2.4" fill="#a4c8e6"/>
<circle cx="263.25" cy="401.62" r="2.4" fill="#a4c8e6"/>
<circle cx="265.91" cy="402.39" r="2.4" fill="#a4c8e6"/>
<circle cx="268.57" cy="402.42" r="2.4" fill="#a4c8e6"/>
<circle cx="271.23" cy="403.38" r="2.4" fill="#a4c8e6"/>
<circle cx="273.89" cy="403.03" r="2.4" fill="#a4c8e6"/>
<circle cx="276.56" cy="403.34" r="2.4" fill="#a4c8e6"/>
<circle cx="279.22" cy="403.04" r="2.4" fill="#a4c8e6"/>
<circle cx="281.88" cy="401.92" r="2.4" fill="#a4c8e6"/>
<circle cx="284.54" cy="402.12" r="2.4" fill="#a4c8e6"/>
<circle cx="287.2" cy="402.48" r="2.4" fill="#a4c8e6"/>
<circle cx="289.87" cy="403.37" r="2.4" fill="#a4c8e6"/>
<circle cx="292.53" cy="403.94" r="2.4" fill="#a4c8e6"/>
<circle cx="295.19" cy="404.8" r="2.4" fill="#a4c8e6"/>
<circle cx="297.85" cy="405.79" r="2.4" fill="#a4c8e6"/>
<circle cx="300.51" cy="406.68" r="2.4" fill="#a4c8e6"/>
<circle cx="303.18" cy="406.46" r="2.4" fill="#a4c8e6"/>
<circle cx="305.84" cy="406.32" r="2.4" fill="#a4c8e6"/>
<circle cx="308.5" cy="405.38" r="2.4" fill="#a4c8e6"/>
<circle cx="44.96" cy="333.42" r="2.3" fill="#a4c8e6" stroke="#6f9cc4" stroke-width="0.6"/>
<line x1="42.3" y1="270.5" x2="308.5" y2="270.5" stroke="#999" stroke-width="1.3" stroke-linecap="square"/>
<line x1="308.5" y1="270.5" x2="308.5" y2="457.7" stroke="#2a2a2a" stroke-width="1.1" stroke-linecap="square"/>
<line x1="42.3" y1="457.7" x2="308.5" y2="457.7" stroke="#2a2a2a" stroke-width="1.1" stroke-linecap="square"/>
<line x1="42.3" y1="270.5" x2="42.3" y2="457.7" stroke="#2a2a2a" stroke-width="1.1" stroke-linecap="square"/>
<line x1="38.8" y1="447.2" x2="42.3" y2="447.2" stroke="#2a2a2a" stroke-width="1" />
<line x1="40.1" y1="434.56" x2="42.3" y2="434.56" stroke="#2a2a2a" stroke-width="1" />
<line x1="38.8" y1="421.91" x2="42.3" y2="421.91" stroke="#2a2a2a" stroke-width="1" />
<line x1="40.1" y1="409.27" x2="42.3" y2="409.27" stroke="#2a2a2a" stroke-width="1" />
<line x1="38.8" y1="396.63" x2="42.3" y2="396.63" stroke="#2a2a2a" stroke-width="1" />
<line x1="40.1" y1="383.99" x2="42.3" y2="383.99" stroke="#2a2a2a" stroke-width="1" />
<line x1="38.8" y1="371.34" x2="42.3" y2="371.34" stroke="#2a2a2a" stroke-width="1" />
<line x1="40.1" y1="358.7" x2="42.3" y2="358.7" stroke="#2a2a2a" stroke-width="1" />
<line x1="38.8" y1="346.06" x2="42.3" y2="346.06" stroke="#2a2a2a" stroke-width="1" />
<line x1="40.1" y1="333.42" x2="42.3" y2="333.42" stroke="#2a2a2a" stroke-width="1" />
<line x1="38.8" y1="320.77" x2="42.3" y2="320.77" stroke="#2a2a2a" stroke-width="1" />
<line x1="40.1" y1="308.13" x2="42.3" y2="308.13" stroke="#2a2a2a" stroke-width="1" />
<line x1="38.8" y1="295.49" x2="42.3" y2="295.49" stroke="#2a2a2a" stroke-width="1" />
<line x1="40.1" y1="282.85" x2="42.3" y2="282.85" stroke="#2a2a2a" stroke-width="1" />
<line x1="38.8" y1="270.2" x2="42.3" y2="270.2" stroke="#2a2a2a" stroke-width="1" />
<text x="36.4" y="449.8" font-size="9.5" text-anchor="end" fill="#222" >0</text>
<text x="36.4" y="424.51" font-size="9.5" text-anchor="end" fill="#222" >50</text>
<text x="36.4" y="399.23" font-size="9.5" text-anchor="end" fill="#222" >100</text>
<text x="36.4" y="373.94" font-size="9.5" text-anchor="end" fill="#222" >150</text>
<text x="36.4" y="348.66" font-size="9.5" text-anchor="end" fill="#222" >200</text>
<text x="36.4" y="323.38" font-size="9.5" text-anchor="end" fill="#222" >250</text>
<text x="36.4" y="298.09" font-size="9.5" text-anchor="end" fill="#222" >300</text>
<text x="36.4" y="272.81" font-size="9.5" text-anchor="end" fill="#222" >350</text>
<line x1="308.5" y1="457.7" x2="312" y2="457.7" stroke="#2a2a2a" stroke-width="1" />
<line x1="308.5" y1="442.1" x2="310.7" y2="442.1" stroke="#2a2a2a" stroke-width="1" />
<line x1="308.5" y1="426.5" x2="312" y2="426.5" stroke="#2a2a2a" stroke-width="1" />
<line x1="308.5" y1="410.9" x2="310.7" y2="410.9" stroke="#2a2a2a" stroke-width="1" />
<line x1="308.5" y1="395.3" x2="312" y2="395.3" stroke="#2a2a2a" stroke-width="1" />
<line x1="308.5" y1="379.7" x2="310.7" y2="379.7" stroke="#2a2a2a" stroke-width="1" />
<line x1="308.5" y1="364.1" x2="312" y2="364.1" stroke="#2a2a2a" stroke-width="1" />
<line x1="308.5" y1="348.5" x2="310.7" y2="348.5" stroke="#2a2a2a" stroke-width="1" />
<line x1="308.5" y1="332.9" x2="312" y2="332.9" stroke="#2a2a2a" stroke-width="1" />
<line x1="308.5" y1="317.3" x2="310.7" y2="317.3" stroke="#2a2a2a" stroke-width="1" />
<line x1="308.5" y1="301.7" x2="312" y2="301.7" stroke="#2a2a2a" stroke-width="1" />
<line x1="308.5" y1="286.1" x2="310.7" y2="286.1" stroke="#2a2a2a" stroke-width="1" />
<line x1="308.5" y1="270.5" x2="312" y2="270.5" stroke="#2a2a2a" stroke-width="1" />
<text x="314.3" y="460.3" font-size="9.5" text-anchor="start" fill="#222" >0</text>
<text x="314.3" y="429.1" font-size="9.5" text-anchor="start" fill="#222" >20</text>
<text x="314.3" y="397.9" font-size="9.5" text-anchor="start" fill="#222" >40</text>
<text x="314.3" y="366.7" font-size="9.5" text-anchor="start" fill="#222" >60</text>
<text x="314.3" y="335.5" font-size="9.5" text-anchor="start" fill="#222" >80</text>
<text x="314.3" y="304.3" font-size="9.5" text-anchor="start" fill="#222" >100</text>
<text x="314.3" y="273.1" font-size="9.5" text-anchor="start" fill="#222" >120</text>
<line x1="42.3" y1="457.7" x2="42.3" y2="461.2" stroke="#2a2a2a" stroke-width="1" />
<line x1="68.92" y1="457.7" x2="68.92" y2="459.9" stroke="#2a2a2a" stroke-width="1" />
<line x1="95.54" y1="457.7" x2="95.54" y2="461.2" stroke="#2a2a2a" stroke-width="1" />
<line x1="122.16" y1="457.7" x2="122.16" y2="459.9" stroke="#2a2a2a" stroke-width="1" />
<line x1="148.78" y1="457.7" x2="148.78" y2="461.2" stroke="#2a2a2a" stroke-width="1" />
<line x1="175.4" y1="457.7" x2="175.4" y2="459.9" stroke="#2a2a2a" stroke-width="1" />
<line x1="202.02" y1="457.7" x2="202.02" y2="461.2" stroke="#2a2a2a" stroke-width="1" />
<line x1="228.64" y1="457.7" x2="228.64" y2="459.9" stroke="#2a2a2a" stroke-width="1" />
<line x1="255.26" y1="457.7" x2="255.26" y2="461.2" stroke="#2a2a2a" stroke-width="1" />
<line x1="281.88" y1="457.7" x2="281.88" y2="459.9" stroke="#2a2a2a" stroke-width="1" />
<line x1="308.5" y1="457.7" x2="308.5" y2="461.2" stroke="#2a2a2a" stroke-width="1" />
<text x="42.3" y="471.5" font-size="9.5" text-anchor="middle" fill="#222" >0</text>
<text x="95.54" y="471.5" font-size="9.5" text-anchor="middle" fill="#222" >20</text>
<text x="148.78" y="471.5" font-size="9.5" text-anchor="middle" fill="#222" >40</text>
<text x="202.02" y="471.5" font-size="9.5" text-anchor="middle" fill="#222" >60</text>
<text x="255.26" y="471.5" font-size="9.5" text-anchor="middle" fill="#222" >80</text>
<text x="308.5" y="471.5" font-size="9.5" text-anchor="middle" fill="#222" >100</text>
<text x="175.3" y="481.9" font-size="9.5" text-anchor="middle" fill="#222" >Cycle number</text>
<text transform="translate(14.3,364.6) rotate(-90)" font-size="9.7" text-anchor="middle" fill="#222">Capacity (mAh g<tspan font-size="6" dy="-3.4">-1</tspan><tspan dy="3.4">)</tspan></text>
<text transform="translate(339.5,364) rotate(-90)" font-size="9.7" text-anchor="middle" fill="#222">CE (%)</text>
<text x="11.8" y="263.6" font-size="10.2" text-anchor="start" fill="#222" >f</text>
<text x="46.8" y="282.8" font-size="9.5" text-anchor="start" fill="#222" >2.7-4.9 V</text>
<line x1="46.6" y1="284.4" x2="85.6" y2="284.4" stroke="#222" stroke-width="0.8" />
<line x1="84.5" y1="360.5" x2="84.5" y2="373.8" stroke="#333" stroke-width="0.9" />
<line x1="84.5" y1="373.8" x2="47.5" y2="373.8" stroke="#777" stroke-width="1.1" />
<polygon points="44.4,373.8 47.6,372.36 47.6,375.24" fill="#111"/>
<line x1="263.3" y1="293.4" x2="263.3" y2="277.3" stroke="#333" stroke-width="0.9" />
<line x1="263.3" y1="277.3" x2="304.5" y2="277.3" stroke="#333" stroke-width="0.9" />
<polygon points="307.4,277.3 304.2,278.74 304.2,275.86" fill="#111"/>
<line x1="49.9" y1="414.4" x2="71.5" y2="414.4" stroke="#d9849b" stroke-width="1" opacity="0.75"/>
<circle cx="61" cy="414.4" r="2.7" fill="#d9849b"/>
<text x="74.4" y="417.5" font-size="9.7" text-anchor="start" fill="#222" >Ct/cc-0.82</text>
<line x1="49.9" y1="426.2" x2="71.5" y2="426.2" stroke="#f2c3c3" stroke-width="1" opacity="0.75"/>
<rect x="58.6" y="423.8" width="4.8" height="4.8" fill="#f2c3c3"/>
<text x="74.4" y="429.3" font-size="9.7" text-anchor="start" fill="#222" >Ct/cc-0.59</text>
<line x1="49.9" y1="438" x2="71.5" y2="438" stroke="#a4c8e6" stroke-width="1" opacity="0.75"/>
<circle cx="61" cy="438" r="2.7" fill="#a4c8e6"/>
<text x="74.4" y="441.1" font-size="9.7" text-anchor="start" fill="#222">1 M LiPF<tspan font-size="6.01" dy="2.7">6</tspan><tspan dy="-2.7">-EC/DEC</tspan></text>
<rect x="406.4" y="290.01" width="13.75" height="61.29" fill="#f2c9c9" stroke="#505050" stroke-width="0.7"/>
<rect x="420.15" y="290.71" width="13.75" height="60.59" fill="#a2c5e3" stroke="#505050" stroke-width="0.7"/>
<rect x="433.9" y="291.67" width="13.75" height="59.63" fill="#e9c1cd" stroke="#505050" stroke-width="0.7"/>
<rect x="457.8" y="302.61" width="13.75" height="48.69" fill="#f2c9c9" stroke="#505050" stroke-width="0.7"/>
<rect x="471.55" y="300.39" width="13.75" height="50.91" fill="#a2c5e3" stroke="#505050" stroke-width="0.7"/>
<rect x="485.3" y="292.75" width="13.75" height="58.55" fill="#e9c1cd" stroke="#505050" stroke-width="0.7"/>
<rect x="509.2" y="322.02" width="13.75" height="29.28" fill="#f2c9c9" stroke="#505050" stroke-width="0.7"/>
<rect x="522.95" y="319.48" width="13.75" height="31.82" fill="#a2c5e3" stroke="#505050" stroke-width="0.7"/>
<rect x="536.7" y="295.93" width="13.75" height="55.37" fill="#e9c1cd" stroke="#505050" stroke-width="0.7"/>
<rect x="560.6" y="334.75" width="13.75" height="16.55" fill="#f2c9c9" stroke="#505050" stroke-width="0.7"/>
<rect x="574.35" y="329.02" width="13.75" height="22.28" fill="#a2c5e3" stroke="#505050" stroke-width="0.7"/>
<rect x="588.1" y="298.48" width="13.75" height="52.82" fill="#e9c1cd" stroke="#505050" stroke-width="0.7"/>
<rect x="612" y="343.03" width="13.75" height="8.27" fill="#f2c9c9" stroke="#505050" stroke-width="0.7"/>
<rect x="625.75" y="330.93" width="13.75" height="20.37" fill="#a2c5e3" stroke="#505050" stroke-width="0.7"/>
<rect x="639.5" y="301.02" width="13.75" height="50.28" fill="#e9c1cd" stroke="#505050" stroke-width="0.7"/>
<line x1="401.5" y1="262.2" x2="658.5" y2="262.2" stroke="#444" stroke-width="1.1" stroke-linecap="square"/>
<line x1="658.5" y1="262.2" x2="658.5" y2="351.3" stroke="#555" stroke-width="1.1" stroke-linecap="square"/>
<line x1="401.5" y1="351.3" x2="658.5" y2="351.3" stroke="#333" stroke-width="1.1" stroke-linecap="square"/>
<line x1="401.5" y1="262.2" x2="401.5" y2="351.3" stroke="#444" stroke-width="1.1" stroke-linecap="square"/>
<line x1="397.5" y1="338.57" x2="401.5" y2="338.57" stroke="#3a3a3a" stroke-width="0.9" />
<line x1="398.9" y1="322.66" x2="401.5" y2="322.66" stroke="#3a3a3a" stroke-width="0.9" />
<line x1="397.5" y1="306.75" x2="401.5" y2="306.75" stroke="#3a3a3a" stroke-width="0.9" />
<line x1="398.9" y1="290.84" x2="401.5" y2="290.84" stroke="#3a3a3a" stroke-width="0.9" />
<line x1="397.5" y1="274.93" x2="401.5" y2="274.93" stroke="#3a3a3a" stroke-width="0.9" />
<text x="395" y="341.17" font-size="8.9" text-anchor="end" fill="#222" >3.5</text>
<text x="395" y="309.35" font-size="8.9" text-anchor="end" fill="#222" >4.0</text>
<text x="395" y="277.53" font-size="8.9" text-anchor="end" fill="#222" >4.5</text>
<line x1="427" y1="351.3" x2="427" y2="354.5" stroke="#3a3a3a" stroke-width="0.9" />
<line x1="452.7" y1="351.3" x2="452.7" y2="353.5" stroke="#3a3a3a" stroke-width="0.9" />
<text x="427" y="363.4" font-size="8.9" text-anchor="middle" fill="#222" >3</text>
<line x1="478.4" y1="351.3" x2="478.4" y2="354.5" stroke="#3a3a3a" stroke-width="0.9" />
<line x1="504.1" y1="351.3" x2="504.1" y2="353.5" stroke="#3a3a3a" stroke-width="0.9" />
<text x="478.4" y="363.4" font-size="8.9" text-anchor="middle" fill="#222" >25</text>
<line x1="529.8" y1="351.3" x2="529.8" y2="354.5" stroke="#3a3a3a" stroke-width="0.9" />
<line x1="555.5" y1="351.3" x2="555.5" y2="353.5" stroke="#3a3a3a" stroke-width="0.9" />
<text x="529.8" y="363.4" font-size="8.9" text-anchor="middle" fill="#222" >50</text>
<line x1="581.2" y1="351.3" x2="581.2" y2="354.5" stroke="#3a3a3a" stroke-width="0.9" />
<line x1="606.9" y1="351.3" x2="606.9" y2="353.5" stroke="#3a3a3a" stroke-width="0.9" />
<text x="581.2" y="363.4" font-size="8.9" text-anchor="middle" fill="#222" >75</text>
<line x1="632.6" y1="351.3" x2="632.6" y2="354.5" stroke="#3a3a3a" stroke-width="0.9" />
<text x="632.6" y="363.4" font-size="8.9" text-anchor="middle" fill="#222" >100</text>
<line x1="401.3" y1="351.3" x2="401.3" y2="353.5" stroke="#3a3a3a" stroke-width="0.9" />
<text x="530.2" y="371.3" font-size="8.6" text-anchor="middle" fill="#222" >Cycle number</text>
<text transform="translate(378.4,305.95) rotate(-90)" font-size="8.6" text-anchor="middle" fill="#222">Onset reduction voltage (V)</text>
<text x="361.4" y="269.8" font-size="10.8" text-anchor="start" fill="#222" >g</text>
<rect x="552.9" y="265" width="19.5" height="9.2" fill="#f2c9c9" stroke="#505050" stroke-width="0.7"/>
<text x="574.5" y="272.7" font-size="8.8" text-anchor="start" fill="#222" >Ct/cc-0.59</text>
<rect x="552.9" y="275.8" width="19.5" height="9.2" fill="#a2c5e3" stroke="#505050" stroke-width="0.7"/>
<text x="574.5" y="283.5" font-size="8.8" text-anchor="start" fill="#222">1 M LiPF<tspan font-size="5.46" dy="2.7">6</tspan><tspan dy="-2.7">-EC/DEC</tspan></text>
<rect x="552.9" y="288.4" width="19.5" height="9.2" fill="#e9c1cd" stroke="#505050" stroke-width="0.7"/>
<text x="574.5" y="296.1" font-size="8.8" text-anchor="start" fill="#222" >Ct/cc-0.82</text>
<rect x="406.4" y="442.53" width="13.75" height="23.27" fill="#f2c9c9" stroke="#505050" stroke-width="0.7"/>
<rect x="420.15" y="442.53" width="13.75" height="23.27" fill="#a2c5e3" stroke="#505050" stroke-width="0.7"/>
<rect x="433.9" y="445.2" width="13.75" height="20.6" fill="#e9c1cd" stroke="#505050" stroke-width="0.7"/>
<rect x="457.8" y="440.37" width="13.75" height="25.43" fill="#f2c9c9" stroke="#505050" stroke-width="0.7"/>
<rect x="471.55" y="439.1" width="13.75" height="26.7" fill="#a2c5e3" stroke="#505050" stroke-width="0.7"/>
<rect x="485.3" y="441.26" width="13.75" height="24.54" fill="#e9c1cd" stroke="#505050" stroke-width="0.7"/>
<rect x="509.2" y="429.31" width="13.75" height="36.49" fill="#f2c9c9" stroke="#505050" stroke-width="0.7"/>
<rect x="522.95" y="431.22" width="13.75" height="34.58" fill="#a2c5e3" stroke="#505050" stroke-width="0.7"/>
<rect x="536.7" y="437.96" width="13.75" height="27.84" fill="#e9c1cd" stroke="#505050" stroke-width="0.7"/>
<rect x="560.6" y="412.4" width="13.75" height="53.4" fill="#f2c9c9" stroke="#505050" stroke-width="0.7"/>
<rect x="574.35" y="424.48" width="13.75" height="41.32" fill="#a2c5e3" stroke="#505050" stroke-width="0.7"/>
<rect x="588.1" y="435.29" width="13.75" height="30.51" fill="#e9c1cd" stroke="#505050" stroke-width="0.7"/>
<rect x="612" y="389.51" width="13.75" height="76.29" fill="#f2c9c9" stroke="#505050" stroke-width="0.7"/>
<rect x="625.75" y="423.08" width="13.75" height="42.72" fill="#a2c5e3" stroke="#505050" stroke-width="0.7"/>
<rect x="639.5" y="432.11" width="13.75" height="33.69" fill="#e9c1cd" stroke="#505050" stroke-width="0.7"/>
<line x1="401.5" y1="376.8" x2="658.5" y2="376.8" stroke="#888" stroke-width="1.1" stroke-linecap="square"/>
<line x1="658.5" y1="376.8" x2="658.5" y2="465.8" stroke="#555" stroke-width="1.1" stroke-linecap="square"/>
<line x1="401.5" y1="465.8" x2="658.5" y2="465.8" stroke="#333" stroke-width="1.1" stroke-linecap="square"/>
<line x1="401.5" y1="376.8" x2="401.5" y2="465.8" stroke="#444" stroke-width="1.1" stroke-linecap="square"/>
<line x1="397.5" y1="453.09" x2="401.5" y2="453.09" stroke="#3a3a3a" stroke-width="0.9" />
<line x1="398.9" y1="434.01" x2="401.5" y2="434.01" stroke="#3a3a3a" stroke-width="0.9" />
<line x1="397.5" y1="414.94" x2="401.5" y2="414.94" stroke="#3a3a3a" stroke-width="0.9" />
<line x1="398.9" y1="395.87" x2="401.5" y2="395.87" stroke="#3a3a3a" stroke-width="0.9" />
<line x1="397.5" y1="376.8" x2="401.5" y2="376.8" stroke="#3a3a3a" stroke-width="0.9" />
<text x="395" y="455.69" font-size="8.9" text-anchor="end" fill="#222" >3.6</text>
<text x="395" y="417.54" font-size="8.9" text-anchor="end" fill="#222" >3.9</text>
<text x="395" y="379.4" font-size="8.9" text-anchor="end" fill="#222" >4.2</text>
<line x1="427" y1="465.8" x2="427" y2="469" stroke="#3a3a3a" stroke-width="0.9" />
<line x1="452.7" y1="465.8" x2="452.7" y2="468" stroke="#3a3a3a" stroke-width="0.9" />
<text x="427" y="478.4" font-size="8.9" text-anchor="middle" fill="#222" >3</text>
<line x1="478.4" y1="465.8" x2="478.4" y2="469" stroke="#3a3a3a" stroke-width="0.9" />
<line x1="504.1" y1="465.8" x2="504.1" y2="468" stroke="#3a3a3a" stroke-width="0.9" />
<text x="478.4" y="478.4" font-size="8.9" text-anchor="middle" fill="#222" >25</text>
<line x1="529.8" y1="465.8" x2="529.8" y2="469" stroke="#3a3a3a" stroke-width="0.9" />
<line x1="555.5" y1="465.8" x2="555.5" y2="468" stroke="#3a3a3a" stroke-width="0.9" />
<text x="529.8" y="478.4" font-size="8.9" text-anchor="middle" fill="#222" >50</text>
<line x1="581.2" y1="465.8" x2="581.2" y2="469" stroke="#3a3a3a" stroke-width="0.9" />
<line x1="606.9" y1="465.8" x2="606.9" y2="468" stroke="#3a3a3a" stroke-width="0.9" />
<text x="581.2" y="478.4" font-size="8.9" text-anchor="middle" fill="#222" >75</text>
<line x1="632.6" y1="465.8" x2="632.6" y2="469" stroke="#3a3a3a" stroke-width="0.9" />
<text x="632.6" y="478.4" font-size="8.9" text-anchor="middle" fill="#222" >100</text>
<line x1="401.3" y1="465.8" x2="401.3" y2="468" stroke="#3a3a3a" stroke-width="0.9" />
<text x="530.2" y="484.8" font-size="8.6" text-anchor="middle" fill="#222" >Cycle number</text>
<text transform="translate(378.4,420.5) rotate(-90)" font-size="8.6" text-anchor="middle" fill="#222">Onset oxidation voltage (V)</text>
<text x="357.4" y="378.9" font-size="10.8" text-anchor="start" fill="#222" >h</text>
<rect x="405.8" y="380.2" width="19.5" height="9.2" fill="#f2c9c9" stroke="#505050" stroke-width="0.7"/>
<text x="427.4" y="387.9" font-size="8.8" text-anchor="start" fill="#222" >Ct/cc-0.59</text>
<rect x="405.8" y="391" width="19.5" height="9.2" fill="#a2c5e3" stroke="#505050" stroke-width="0.7"/>
<text x="427.4" y="398.7" font-size="8.8" text-anchor="start" fill="#222">1 M LiPF<tspan font-size="5.46" dy="2.7">6</tspan><tspan dy="-2.7">-EC/DEC</tspan></text>
<rect x="405.8" y="403.6" width="19.5" height="9.2" fill="#e9c1cd" stroke="#505050" stroke-width="0.7"/>
<text x="427.4" y="411.3" font-size="8.8" text-anchor="start" fill="#222" >Ct/cc-0.82</text>
</svg></body></html>
